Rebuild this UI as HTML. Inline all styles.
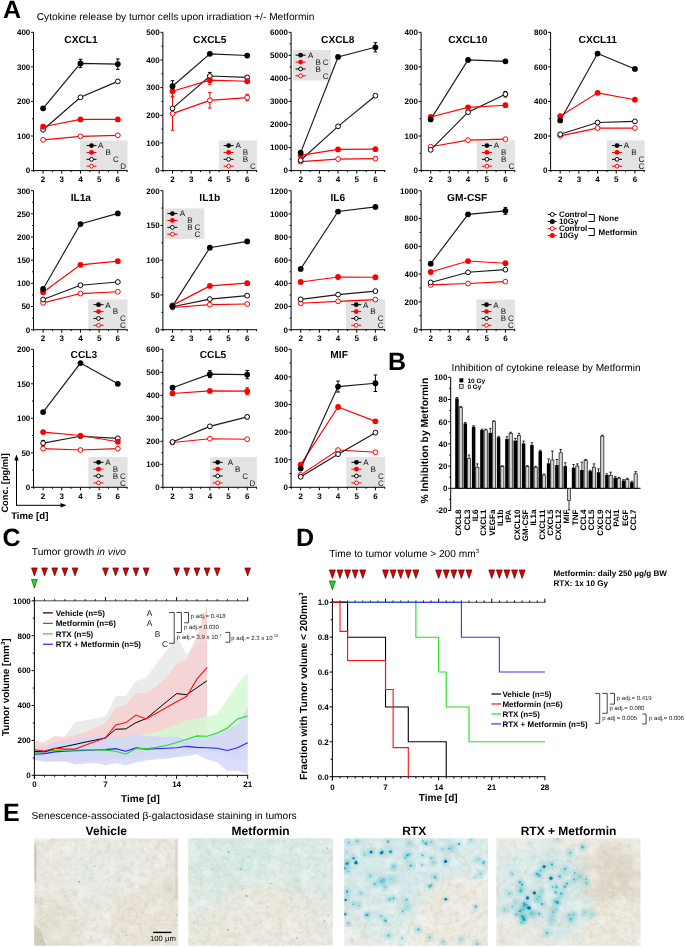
<!DOCTYPE html>
<html><head><meta charset="utf-8"><style>
html,body{margin:0;padding:0;background:#fff;}
svg{display:block;opacity:0.999;}
svg text{font-family:"Liberation Sans",sans-serif;text-rendering:geometricPrecision;}
</style></head><body>
<svg width="685" height="947" viewBox="0 0 685 947">
<rect width="685" height="947" fill="#fff"/>
<text x="2.90" y="17.50" font-size="25" font-weight="bold" text-anchor="start" fill="#000" >A</text>
<text x="36.70" y="19.90" font-size="10.2" text-anchor="start" fill="#000" >Cytokine release by tumor cells upon irradiation +/- Metformin</text>
<rect x="80.12" y="140.40" width="47.40" height="30.20" fill="#e3e3e3"/>
<line x1="86.52" y1="145.60" x2="96.52" y2="145.60" stroke="#000" stroke-width="1"/>
<circle cx="91.52" cy="145.60" r="2.4" fill="#000"/>
<line x1="86.52" y1="152.47" x2="96.52" y2="152.47" stroke="#ff0000" stroke-width="1"/>
<circle cx="91.52" cy="152.47" r="2.4" fill="#ff0000"/>
<line x1="86.52" y1="159.34" x2="96.52" y2="159.34" stroke="#000" stroke-width="1"/>
<circle cx="91.52" cy="159.34" r="1.9" fill="#fff" stroke="#000" stroke-width="1"/>
<line x1="86.52" y1="166.21" x2="96.52" y2="166.21" stroke="#ff0000" stroke-width="1"/>
<circle cx="91.52" cy="166.21" r="1.9" fill="#fff" stroke="#ff0000" stroke-width="1"/>
<text x="98.12" y="148.40" font-size="8" text-anchor="start" fill="#111" >A</text>
<text x="105.52" y="155.27" font-size="8" text-anchor="start" fill="#111" >B</text>
<text x="112.92" y="162.14" font-size="8" text-anchor="start" fill="#111" >C</text>
<text x="120.32" y="169.01" font-size="8" text-anchor="start" fill="#111" >D</text>
<line x1="33.50" y1="32.30" x2="33.50" y2="171.10" stroke="#000" stroke-width="1"/>
<line x1="33.00" y1="170.60" x2="127.52" y2="170.60" stroke="#000" stroke-width="1"/>
<line x1="31.00" y1="170.60" x2="33.50" y2="170.60" stroke="#000" stroke-width="1"/>
<text x="30.30" y="173.40" font-size="8" font-weight="bold" text-anchor="end" fill="#000" >0</text>
<line x1="32.00" y1="153.31" x2="33.50" y2="153.31" stroke="#000" stroke-width="1"/>
<line x1="31.00" y1="136.02" x2="33.50" y2="136.02" stroke="#000" stroke-width="1"/>
<text x="30.30" y="138.82" font-size="8" font-weight="bold" text-anchor="end" fill="#000" >100</text>
<line x1="32.00" y1="118.74" x2="33.50" y2="118.74" stroke="#000" stroke-width="1"/>
<line x1="31.00" y1="101.45" x2="33.50" y2="101.45" stroke="#000" stroke-width="1"/>
<text x="30.30" y="104.25" font-size="8" font-weight="bold" text-anchor="end" fill="#000" >200</text>
<line x1="32.00" y1="84.16" x2="33.50" y2="84.16" stroke="#000" stroke-width="1"/>
<line x1="31.00" y1="66.87" x2="33.50" y2="66.87" stroke="#000" stroke-width="1"/>
<text x="30.30" y="69.67" font-size="8" font-weight="bold" text-anchor="end" fill="#000" >300</text>
<line x1="32.00" y1="49.59" x2="33.50" y2="49.59" stroke="#000" stroke-width="1"/>
<line x1="31.00" y1="32.30" x2="33.50" y2="32.30" stroke="#000" stroke-width="1"/>
<text x="30.30" y="35.10" font-size="8" font-weight="bold" text-anchor="end" fill="#000" >400</text>
<line x1="43.10" y1="170.60" x2="43.10" y2="173.60" stroke="#000" stroke-width="1"/>
<text x="43.10" y="182.00" font-size="8" font-weight="bold" text-anchor="middle" fill="#000" >2</text>
<line x1="61.78" y1="170.60" x2="61.78" y2="173.60" stroke="#000" stroke-width="1"/>
<text x="61.78" y="182.00" font-size="8" font-weight="bold" text-anchor="middle" fill="#000" >3</text>
<line x1="80.46" y1="170.60" x2="80.46" y2="173.60" stroke="#000" stroke-width="1"/>
<text x="80.46" y="182.00" font-size="8" font-weight="bold" text-anchor="middle" fill="#000" >4</text>
<line x1="99.14" y1="170.60" x2="99.14" y2="173.60" stroke="#000" stroke-width="1"/>
<text x="99.14" y="182.00" font-size="8" font-weight="bold" text-anchor="middle" fill="#000" >5</text>
<line x1="117.82" y1="170.60" x2="117.82" y2="173.60" stroke="#000" stroke-width="1"/>
<text x="117.82" y="182.00" font-size="8" font-weight="bold" text-anchor="middle" fill="#000" >6</text>
<line x1="33.76" y1="170.60" x2="33.76" y2="172.10" stroke="#000" stroke-width="1"/>
<line x1="52.44" y1="170.60" x2="52.44" y2="172.10" stroke="#000" stroke-width="1"/>
<line x1="71.12" y1="170.60" x2="71.12" y2="172.10" stroke="#000" stroke-width="1"/>
<line x1="89.80" y1="170.60" x2="89.80" y2="172.10" stroke="#000" stroke-width="1"/>
<line x1="108.48" y1="170.60" x2="108.48" y2="172.10" stroke="#000" stroke-width="1"/>
<line x1="127.16" y1="170.60" x2="127.16" y2="172.10" stroke="#000" stroke-width="1"/>
<text x="81.00" y="42.60" font-size="10.2" font-weight="bold" text-anchor="middle" fill="#000" >CXCL1</text>
<polyline points="43.10,139.83 80.46,136.37 117.82,135.33" stroke="#ff0000" stroke-width="1.15" fill="none" />
<polyline points="43.10,129.80 80.46,97.30 117.82,81.40" stroke="#1a1a1a" stroke-width="1.15" fill="none" />
<polyline points="43.10,126.69 80.46,119.43 117.82,119.43" stroke="#ff0000" stroke-width="1.15" fill="none" />
<polyline points="43.10,108.36 80.46,63.42 117.82,64.11" stroke="#1a1a1a" stroke-width="1.15" fill="none" />
<line x1="80.46" y1="67.57" x2="80.46" y2="59.27" stroke="#000" stroke-width="1"/>
<line x1="78.66" y1="59.27" x2="82.26" y2="59.27" stroke="#000" stroke-width="1"/>
<line x1="78.66" y1="67.57" x2="82.26" y2="67.57" stroke="#000" stroke-width="1"/>
<line x1="117.82" y1="69.30" x2="117.82" y2="58.92" stroke="#000" stroke-width="1"/>
<line x1="116.02" y1="58.92" x2="119.62" y2="58.92" stroke="#000" stroke-width="1"/>
<line x1="116.02" y1="69.30" x2="119.62" y2="69.30" stroke="#000" stroke-width="1"/>
<circle cx="43.10" cy="139.83" r="2.4" fill="#fff" stroke="#ff0000" stroke-width="1"/>
<circle cx="80.46" cy="136.37" r="2.4" fill="#fff" stroke="#ff0000" stroke-width="1"/>
<circle cx="117.82" cy="135.33" r="2.4" fill="#fff" stroke="#ff0000" stroke-width="1"/>
<circle cx="43.10" cy="129.80" r="2.4" fill="#fff" stroke="#000" stroke-width="1"/>
<circle cx="80.46" cy="97.30" r="2.4" fill="#fff" stroke="#000" stroke-width="1"/>
<circle cx="117.82" cy="81.40" r="2.4" fill="#fff" stroke="#000" stroke-width="1"/>
<circle cx="43.10" cy="126.69" r="2.9" fill="#ff0000"/>
<circle cx="80.46" cy="119.43" r="2.9" fill="#ff0000"/>
<circle cx="117.82" cy="119.43" r="2.9" fill="#ff0000"/>
<circle cx="43.10" cy="108.36" r="2.9" fill="#000"/>
<circle cx="80.46" cy="63.42" r="2.9" fill="#000"/>
<circle cx="117.82" cy="64.11" r="2.9" fill="#000"/>
<rect x="218.92" y="140.40" width="38.00" height="30.20" fill="#e3e3e3"/>
<line x1="223.62" y1="145.60" x2="233.62" y2="145.60" stroke="#000" stroke-width="1"/>
<circle cx="228.62" cy="145.60" r="2.4" fill="#000"/>
<line x1="223.62" y1="152.47" x2="233.62" y2="152.47" stroke="#ff0000" stroke-width="1"/>
<circle cx="228.62" cy="152.47" r="2.4" fill="#ff0000"/>
<line x1="223.62" y1="159.34" x2="233.62" y2="159.34" stroke="#000" stroke-width="1"/>
<circle cx="228.62" cy="159.34" r="1.9" fill="#fff" stroke="#000" stroke-width="1"/>
<line x1="223.62" y1="166.21" x2="233.62" y2="166.21" stroke="#ff0000" stroke-width="1"/>
<circle cx="228.62" cy="166.21" r="1.9" fill="#fff" stroke="#ff0000" stroke-width="1"/>
<text x="235.52" y="148.40" font-size="8" text-anchor="start" fill="#111" >A</text>
<text x="242.82" y="155.27" font-size="8" text-anchor="start" fill="#111" >B</text>
<text x="242.82" y="162.14" font-size="8" text-anchor="start" fill="#111" >B</text>
<text x="250.12" y="169.01" font-size="8" text-anchor="start" fill="#111" >C</text>
<line x1="162.90" y1="32.30" x2="162.90" y2="171.10" stroke="#000" stroke-width="1"/>
<line x1="162.40" y1="170.60" x2="256.92" y2="170.60" stroke="#000" stroke-width="1"/>
<line x1="160.40" y1="170.60" x2="162.90" y2="170.60" stroke="#000" stroke-width="1"/>
<text x="159.70" y="173.40" font-size="8" font-weight="bold" text-anchor="end" fill="#000" >0</text>
<line x1="161.40" y1="156.77" x2="162.90" y2="156.77" stroke="#000" stroke-width="1"/>
<line x1="160.40" y1="142.94" x2="162.90" y2="142.94" stroke="#000" stroke-width="1"/>
<text x="159.70" y="145.74" font-size="8" font-weight="bold" text-anchor="end" fill="#000" >100</text>
<line x1="161.40" y1="129.11" x2="162.90" y2="129.11" stroke="#000" stroke-width="1"/>
<line x1="160.40" y1="115.28" x2="162.90" y2="115.28" stroke="#000" stroke-width="1"/>
<text x="159.70" y="118.08" font-size="8" font-weight="bold" text-anchor="end" fill="#000" >200</text>
<line x1="161.40" y1="101.45" x2="162.90" y2="101.45" stroke="#000" stroke-width="1"/>
<line x1="160.40" y1="87.62" x2="162.90" y2="87.62" stroke="#000" stroke-width="1"/>
<text x="159.70" y="90.42" font-size="8" font-weight="bold" text-anchor="end" fill="#000" >300</text>
<line x1="161.40" y1="73.79" x2="162.90" y2="73.79" stroke="#000" stroke-width="1"/>
<line x1="160.40" y1="59.96" x2="162.90" y2="59.96" stroke="#000" stroke-width="1"/>
<text x="159.70" y="62.76" font-size="8" font-weight="bold" text-anchor="end" fill="#000" >400</text>
<line x1="161.40" y1="46.13" x2="162.90" y2="46.13" stroke="#000" stroke-width="1"/>
<line x1="160.40" y1="32.30" x2="162.90" y2="32.30" stroke="#000" stroke-width="1"/>
<text x="159.70" y="35.10" font-size="8" font-weight="bold" text-anchor="end" fill="#000" >500</text>
<line x1="172.50" y1="170.60" x2="172.50" y2="173.60" stroke="#000" stroke-width="1"/>
<text x="172.50" y="182.00" font-size="8" font-weight="bold" text-anchor="middle" fill="#000" >2</text>
<line x1="191.18" y1="170.60" x2="191.18" y2="173.60" stroke="#000" stroke-width="1"/>
<text x="191.18" y="182.00" font-size="8" font-weight="bold" text-anchor="middle" fill="#000" >3</text>
<line x1="209.86" y1="170.60" x2="209.86" y2="173.60" stroke="#000" stroke-width="1"/>
<text x="209.86" y="182.00" font-size="8" font-weight="bold" text-anchor="middle" fill="#000" >4</text>
<line x1="228.54" y1="170.60" x2="228.54" y2="173.60" stroke="#000" stroke-width="1"/>
<text x="228.54" y="182.00" font-size="8" font-weight="bold" text-anchor="middle" fill="#000" >5</text>
<line x1="247.22" y1="170.60" x2="247.22" y2="173.60" stroke="#000" stroke-width="1"/>
<text x="247.22" y="182.00" font-size="8" font-weight="bold" text-anchor="middle" fill="#000" >6</text>
<line x1="163.16" y1="170.60" x2="163.16" y2="172.10" stroke="#000" stroke-width="1"/>
<line x1="181.84" y1="170.60" x2="181.84" y2="172.10" stroke="#000" stroke-width="1"/>
<line x1="200.52" y1="170.60" x2="200.52" y2="172.10" stroke="#000" stroke-width="1"/>
<line x1="219.20" y1="170.60" x2="219.20" y2="172.10" stroke="#000" stroke-width="1"/>
<line x1="237.88" y1="170.60" x2="237.88" y2="172.10" stroke="#000" stroke-width="1"/>
<line x1="256.56" y1="170.60" x2="256.56" y2="172.10" stroke="#000" stroke-width="1"/>
<text x="209.80" y="42.60" font-size="10.2" font-weight="bold" text-anchor="middle" fill="#000" >CXCL5</text>
<polyline points="172.50,113.62 209.86,100.34 247.22,97.58" stroke="#ff0000" stroke-width="1.15" fill="none" />
<polyline points="172.50,108.36 209.86,76.00 247.22,77.39" stroke="#1a1a1a" stroke-width="1.15" fill="none" />
<polyline points="172.50,91.22 209.86,80.15 247.22,81.26" stroke="#ff0000" stroke-width="1.15" fill="none" />
<polyline points="172.50,86.24 209.86,53.87 247.22,55.53" stroke="#1a1a1a" stroke-width="1.15" fill="none" />
<line x1="172.50" y1="130.22" x2="172.50" y2="97.02" stroke="#ff0000" stroke-width="1"/>
<line x1="170.70" y1="97.02" x2="174.30" y2="97.02" stroke="#ff0000" stroke-width="1"/>
<line x1="170.70" y1="130.22" x2="174.30" y2="130.22" stroke="#ff0000" stroke-width="1"/>
<line x1="209.86" y1="108.09" x2="209.86" y2="92.60" stroke="#ff0000" stroke-width="1"/>
<line x1="208.06" y1="92.60" x2="211.66" y2="92.60" stroke="#ff0000" stroke-width="1"/>
<line x1="208.06" y1="108.09" x2="211.66" y2="108.09" stroke="#ff0000" stroke-width="1"/>
<line x1="247.22" y1="100.90" x2="247.22" y2="94.26" stroke="#ff0000" stroke-width="1"/>
<line x1="245.42" y1="94.26" x2="249.02" y2="94.26" stroke="#ff0000" stroke-width="1"/>
<line x1="245.42" y1="100.90" x2="249.02" y2="100.90" stroke="#ff0000" stroke-width="1"/>
<line x1="209.86" y1="79.60" x2="209.86" y2="72.41" stroke="#000" stroke-width="1"/>
<line x1="208.06" y1="72.41" x2="211.66" y2="72.41" stroke="#000" stroke-width="1"/>
<line x1="208.06" y1="79.60" x2="211.66" y2="79.60" stroke="#000" stroke-width="1"/>
<line x1="172.50" y1="96.19" x2="172.50" y2="86.24" stroke="#ff0000" stroke-width="1"/>
<line x1="170.70" y1="86.24" x2="174.30" y2="86.24" stroke="#ff0000" stroke-width="1"/>
<line x1="170.70" y1="96.19" x2="174.30" y2="96.19" stroke="#ff0000" stroke-width="1"/>
<line x1="209.86" y1="84.30" x2="209.86" y2="76.00" stroke="#ff0000" stroke-width="1"/>
<line x1="208.06" y1="76.00" x2="211.66" y2="76.00" stroke="#ff0000" stroke-width="1"/>
<line x1="208.06" y1="84.30" x2="211.66" y2="84.30" stroke="#ff0000" stroke-width="1"/>
<line x1="172.50" y1="91.77" x2="172.50" y2="80.70" stroke="#000" stroke-width="1"/>
<line x1="170.70" y1="80.70" x2="174.30" y2="80.70" stroke="#000" stroke-width="1"/>
<line x1="170.70" y1="91.77" x2="174.30" y2="91.77" stroke="#000" stroke-width="1"/>
<circle cx="172.50" cy="113.62" r="2.4" fill="#fff" stroke="#ff0000" stroke-width="1"/>
<circle cx="209.86" cy="100.34" r="2.4" fill="#fff" stroke="#ff0000" stroke-width="1"/>
<circle cx="247.22" cy="97.58" r="2.4" fill="#fff" stroke="#ff0000" stroke-width="1"/>
<circle cx="172.50" cy="108.36" r="2.4" fill="#fff" stroke="#000" stroke-width="1"/>
<circle cx="209.86" cy="76.00" r="2.4" fill="#fff" stroke="#000" stroke-width="1"/>
<circle cx="247.22" cy="77.39" r="2.4" fill="#fff" stroke="#000" stroke-width="1"/>
<circle cx="172.50" cy="91.22" r="2.9" fill="#ff0000"/>
<circle cx="209.86" cy="80.15" r="2.9" fill="#ff0000"/>
<circle cx="247.22" cy="81.26" r="2.9" fill="#ff0000"/>
<circle cx="172.50" cy="86.24" r="2.9" fill="#000"/>
<circle cx="209.86" cy="53.87" r="2.9" fill="#000"/>
<circle cx="247.22" cy="55.53" r="2.9" fill="#000"/>
<rect x="293.10" y="50.00" width="37.60" height="30.50" fill="#e3e3e3"/>
<line x1="295.60" y1="55.20" x2="305.60" y2="55.20" stroke="#000" stroke-width="1"/>
<circle cx="300.60" cy="55.20" r="2.4" fill="#000"/>
<line x1="295.60" y1="62.07" x2="305.60" y2="62.07" stroke="#ff0000" stroke-width="1"/>
<circle cx="300.60" cy="62.07" r="2.4" fill="#ff0000"/>
<line x1="295.60" y1="68.94" x2="305.60" y2="68.94" stroke="#000" stroke-width="1"/>
<circle cx="300.60" cy="68.94" r="1.9" fill="#fff" stroke="#000" stroke-width="1"/>
<line x1="295.60" y1="75.81" x2="305.60" y2="75.81" stroke="#ff0000" stroke-width="1"/>
<circle cx="300.60" cy="75.81" r="1.9" fill="#fff" stroke="#ff0000" stroke-width="1"/>
<text x="308.00" y="58.00" font-size="8" text-anchor="start" fill="#111" >A</text>
<text x="315.40" y="64.87" font-size="8" text-anchor="start" fill="#111" >B</text>
<text x="322.80" y="64.87" font-size="8" text-anchor="start" fill="#111" >C</text>
<text x="315.40" y="71.74" font-size="8" text-anchor="start" fill="#111" >B</text>
<text x="322.80" y="78.61" font-size="8" text-anchor="start" fill="#111" >C</text>
<line x1="291.10" y1="32.30" x2="291.10" y2="171.10" stroke="#000" stroke-width="1"/>
<line x1="290.60" y1="170.60" x2="385.12" y2="170.60" stroke="#000" stroke-width="1"/>
<line x1="288.60" y1="170.60" x2="291.10" y2="170.60" stroke="#000" stroke-width="1"/>
<text x="287.90" y="173.40" font-size="8" font-weight="bold" text-anchor="end" fill="#000" >0</text>
<line x1="289.60" y1="159.07" x2="291.10" y2="159.07" stroke="#000" stroke-width="1"/>
<line x1="288.60" y1="147.55" x2="291.10" y2="147.55" stroke="#000" stroke-width="1"/>
<text x="287.90" y="150.35" font-size="8" font-weight="bold" text-anchor="end" fill="#000" >1000</text>
<line x1="289.60" y1="136.02" x2="291.10" y2="136.02" stroke="#000" stroke-width="1"/>
<line x1="288.60" y1="124.50" x2="291.10" y2="124.50" stroke="#000" stroke-width="1"/>
<text x="287.90" y="127.30" font-size="8" font-weight="bold" text-anchor="end" fill="#000" >2000</text>
<line x1="289.60" y1="112.97" x2="291.10" y2="112.97" stroke="#000" stroke-width="1"/>
<line x1="288.60" y1="101.45" x2="291.10" y2="101.45" stroke="#000" stroke-width="1"/>
<text x="287.90" y="104.25" font-size="8" font-weight="bold" text-anchor="end" fill="#000" >3000</text>
<line x1="289.60" y1="89.92" x2="291.10" y2="89.92" stroke="#000" stroke-width="1"/>
<line x1="288.60" y1="78.40" x2="291.10" y2="78.40" stroke="#000" stroke-width="1"/>
<text x="287.90" y="81.20" font-size="8" font-weight="bold" text-anchor="end" fill="#000" >4000</text>
<line x1="289.60" y1="66.87" x2="291.10" y2="66.87" stroke="#000" stroke-width="1"/>
<line x1="288.60" y1="55.35" x2="291.10" y2="55.35" stroke="#000" stroke-width="1"/>
<text x="287.90" y="58.15" font-size="8" font-weight="bold" text-anchor="end" fill="#000" >5000</text>
<line x1="289.60" y1="43.82" x2="291.10" y2="43.82" stroke="#000" stroke-width="1"/>
<line x1="288.60" y1="32.30" x2="291.10" y2="32.30" stroke="#000" stroke-width="1"/>
<text x="287.90" y="35.10" font-size="8" font-weight="bold" text-anchor="end" fill="#000" >6000</text>
<line x1="300.70" y1="170.60" x2="300.70" y2="173.60" stroke="#000" stroke-width="1"/>
<text x="300.70" y="182.00" font-size="8" font-weight="bold" text-anchor="middle" fill="#000" >2</text>
<line x1="319.38" y1="170.60" x2="319.38" y2="173.60" stroke="#000" stroke-width="1"/>
<text x="319.38" y="182.00" font-size="8" font-weight="bold" text-anchor="middle" fill="#000" >3</text>
<line x1="338.06" y1="170.60" x2="338.06" y2="173.60" stroke="#000" stroke-width="1"/>
<text x="338.06" y="182.00" font-size="8" font-weight="bold" text-anchor="middle" fill="#000" >4</text>
<line x1="356.74" y1="170.60" x2="356.74" y2="173.60" stroke="#000" stroke-width="1"/>
<text x="356.74" y="182.00" font-size="8" font-weight="bold" text-anchor="middle" fill="#000" >5</text>
<line x1="375.42" y1="170.60" x2="375.42" y2="173.60" stroke="#000" stroke-width="1"/>
<text x="375.42" y="182.00" font-size="8" font-weight="bold" text-anchor="middle" fill="#000" >6</text>
<line x1="291.36" y1="170.60" x2="291.36" y2="172.10" stroke="#000" stroke-width="1"/>
<line x1="310.04" y1="170.60" x2="310.04" y2="172.10" stroke="#000" stroke-width="1"/>
<line x1="328.72" y1="170.60" x2="328.72" y2="172.10" stroke="#000" stroke-width="1"/>
<line x1="347.40" y1="170.60" x2="347.40" y2="172.10" stroke="#000" stroke-width="1"/>
<line x1="366.08" y1="170.60" x2="366.08" y2="172.10" stroke="#000" stroke-width="1"/>
<line x1="384.76" y1="170.60" x2="384.76" y2="172.10" stroke="#000" stroke-width="1"/>
<text x="337.80" y="42.60" font-size="10.2" font-weight="bold" text-anchor="middle" fill="#000" >CXCL8</text>
<polyline points="300.70,161.61 338.06,159.07 375.42,158.61" stroke="#ff0000" stroke-width="1.15" fill="none" />
<polyline points="300.70,160.23 338.06,126.34 375.42,95.69" stroke="#1a1a1a" stroke-width="1.15" fill="none" />
<polyline points="300.70,155.39 338.06,149.39 375.42,149.16" stroke="#ff0000" stroke-width="1.15" fill="none" />
<polyline points="300.70,152.62 338.06,56.96 375.42,47.28" stroke="#1a1a1a" stroke-width="1.15" fill="none" />
<line x1="375.42" y1="51.89" x2="375.42" y2="42.67" stroke="#000" stroke-width="1"/>
<line x1="373.62" y1="42.67" x2="377.22" y2="42.67" stroke="#000" stroke-width="1"/>
<line x1="373.62" y1="51.89" x2="377.22" y2="51.89" stroke="#000" stroke-width="1"/>
<circle cx="300.70" cy="161.61" r="2.4" fill="#fff" stroke="#ff0000" stroke-width="1"/>
<circle cx="338.06" cy="159.07" r="2.4" fill="#fff" stroke="#ff0000" stroke-width="1"/>
<circle cx="375.42" cy="158.61" r="2.4" fill="#fff" stroke="#ff0000" stroke-width="1"/>
<circle cx="300.70" cy="160.23" r="2.4" fill="#fff" stroke="#000" stroke-width="1"/>
<circle cx="338.06" cy="126.34" r="2.4" fill="#fff" stroke="#000" stroke-width="1"/>
<circle cx="375.42" cy="95.69" r="2.4" fill="#fff" stroke="#000" stroke-width="1"/>
<circle cx="300.70" cy="155.39" r="2.9" fill="#ff0000"/>
<circle cx="338.06" cy="149.39" r="2.9" fill="#ff0000"/>
<circle cx="375.42" cy="149.16" r="2.9" fill="#ff0000"/>
<circle cx="300.70" cy="152.62" r="2.9" fill="#000"/>
<circle cx="338.06" cy="56.96" r="2.9" fill="#000"/>
<circle cx="375.42" cy="47.28" r="2.9" fill="#000"/>
<rect x="476.72" y="140.40" width="38.40" height="30.20" fill="#e3e3e3"/>
<line x1="481.92" y1="145.60" x2="491.92" y2="145.60" stroke="#000" stroke-width="1"/>
<circle cx="486.92" cy="145.60" r="2.4" fill="#000"/>
<line x1="481.92" y1="152.47" x2="491.92" y2="152.47" stroke="#ff0000" stroke-width="1"/>
<circle cx="486.92" cy="152.47" r="2.4" fill="#ff0000"/>
<line x1="481.92" y1="159.34" x2="491.92" y2="159.34" stroke="#000" stroke-width="1"/>
<circle cx="486.92" cy="159.34" r="1.9" fill="#fff" stroke="#000" stroke-width="1"/>
<line x1="481.92" y1="166.21" x2="491.92" y2="166.21" stroke="#ff0000" stroke-width="1"/>
<circle cx="486.92" cy="166.21" r="1.9" fill="#fff" stroke="#ff0000" stroke-width="1"/>
<text x="493.72" y="148.40" font-size="8" text-anchor="start" fill="#111" >A</text>
<text x="501.07" y="155.27" font-size="8" text-anchor="start" fill="#111" >B</text>
<text x="501.07" y="162.14" font-size="8" text-anchor="start" fill="#111" >B</text>
<text x="508.42" y="169.01" font-size="8" text-anchor="start" fill="#111" >C</text>
<line x1="421.10" y1="32.30" x2="421.10" y2="171.10" stroke="#000" stroke-width="1"/>
<line x1="420.60" y1="170.60" x2="515.12" y2="170.60" stroke="#000" stroke-width="1"/>
<line x1="418.60" y1="170.60" x2="421.10" y2="170.60" stroke="#000" stroke-width="1"/>
<text x="417.90" y="173.40" font-size="8" font-weight="bold" text-anchor="end" fill="#000" >0</text>
<line x1="419.60" y1="153.31" x2="421.10" y2="153.31" stroke="#000" stroke-width="1"/>
<line x1="418.60" y1="136.02" x2="421.10" y2="136.02" stroke="#000" stroke-width="1"/>
<text x="417.90" y="138.82" font-size="8" font-weight="bold" text-anchor="end" fill="#000" >100</text>
<line x1="419.60" y1="118.74" x2="421.10" y2="118.74" stroke="#000" stroke-width="1"/>
<line x1="418.60" y1="101.45" x2="421.10" y2="101.45" stroke="#000" stroke-width="1"/>
<text x="417.90" y="104.25" font-size="8" font-weight="bold" text-anchor="end" fill="#000" >200</text>
<line x1="419.60" y1="84.16" x2="421.10" y2="84.16" stroke="#000" stroke-width="1"/>
<line x1="418.60" y1="66.87" x2="421.10" y2="66.87" stroke="#000" stroke-width="1"/>
<text x="417.90" y="69.67" font-size="8" font-weight="bold" text-anchor="end" fill="#000" >300</text>
<line x1="419.60" y1="49.59" x2="421.10" y2="49.59" stroke="#000" stroke-width="1"/>
<line x1="418.60" y1="32.30" x2="421.10" y2="32.30" stroke="#000" stroke-width="1"/>
<text x="417.90" y="35.10" font-size="8" font-weight="bold" text-anchor="end" fill="#000" >400</text>
<line x1="430.70" y1="170.60" x2="430.70" y2="173.60" stroke="#000" stroke-width="1"/>
<text x="430.70" y="182.00" font-size="8" font-weight="bold" text-anchor="middle" fill="#000" >2</text>
<line x1="449.38" y1="170.60" x2="449.38" y2="173.60" stroke="#000" stroke-width="1"/>
<text x="449.38" y="182.00" font-size="8" font-weight="bold" text-anchor="middle" fill="#000" >3</text>
<line x1="468.06" y1="170.60" x2="468.06" y2="173.60" stroke="#000" stroke-width="1"/>
<text x="468.06" y="182.00" font-size="8" font-weight="bold" text-anchor="middle" fill="#000" >4</text>
<line x1="486.74" y1="170.60" x2="486.74" y2="173.60" stroke="#000" stroke-width="1"/>
<text x="486.74" y="182.00" font-size="8" font-weight="bold" text-anchor="middle" fill="#000" >5</text>
<line x1="505.42" y1="170.60" x2="505.42" y2="173.60" stroke="#000" stroke-width="1"/>
<text x="505.42" y="182.00" font-size="8" font-weight="bold" text-anchor="middle" fill="#000" >6</text>
<line x1="421.36" y1="170.60" x2="421.36" y2="172.10" stroke="#000" stroke-width="1"/>
<line x1="440.04" y1="170.60" x2="440.04" y2="172.10" stroke="#000" stroke-width="1"/>
<line x1="458.72" y1="170.60" x2="458.72" y2="172.10" stroke="#000" stroke-width="1"/>
<line x1="477.40" y1="170.60" x2="477.40" y2="172.10" stroke="#000" stroke-width="1"/>
<line x1="496.08" y1="170.60" x2="496.08" y2="172.10" stroke="#000" stroke-width="1"/>
<line x1="514.76" y1="170.60" x2="514.76" y2="172.10" stroke="#000" stroke-width="1"/>
<text x="467.80" y="42.60" font-size="10.2" font-weight="bold" text-anchor="middle" fill="#000" >CXCL10</text>
<polyline points="430.70,146.74 468.06,140.17 505.42,139.14" stroke="#ff0000" stroke-width="1.15" fill="none" />
<polyline points="430.70,149.85 468.06,112.17 505.42,94.19" stroke="#1a1a1a" stroke-width="1.15" fill="none" />
<polyline points="430.70,117.01 468.06,107.33 505.42,105.25" stroke="#ff0000" stroke-width="1.15" fill="none" />
<polyline points="430.70,119.43 468.06,59.96 505.42,61.34" stroke="#1a1a1a" stroke-width="1.15" fill="none" />
<line x1="505.42" y1="96.96" x2="505.42" y2="91.42" stroke="#000" stroke-width="1"/>
<line x1="503.62" y1="91.42" x2="507.22" y2="91.42" stroke="#000" stroke-width="1"/>
<line x1="503.62" y1="96.96" x2="507.22" y2="96.96" stroke="#000" stroke-width="1"/>
<circle cx="430.70" cy="146.74" r="2.4" fill="#fff" stroke="#ff0000" stroke-width="1"/>
<circle cx="468.06" cy="140.17" r="2.4" fill="#fff" stroke="#ff0000" stroke-width="1"/>
<circle cx="505.42" cy="139.14" r="2.4" fill="#fff" stroke="#ff0000" stroke-width="1"/>
<circle cx="430.70" cy="149.85" r="2.4" fill="#fff" stroke="#000" stroke-width="1"/>
<circle cx="468.06" cy="112.17" r="2.4" fill="#fff" stroke="#000" stroke-width="1"/>
<circle cx="505.42" cy="94.19" r="2.4" fill="#fff" stroke="#000" stroke-width="1"/>
<circle cx="430.70" cy="117.01" r="2.9" fill="#ff0000"/>
<circle cx="468.06" cy="107.33" r="2.9" fill="#ff0000"/>
<circle cx="505.42" cy="105.25" r="2.9" fill="#ff0000"/>
<circle cx="430.70" cy="119.43" r="2.9" fill="#000"/>
<circle cx="468.06" cy="59.96" r="2.9" fill="#000"/>
<circle cx="505.42" cy="61.34" r="2.9" fill="#000"/>
<rect x="606.82" y="140.40" width="37.80" height="30.20" fill="#e3e3e3"/>
<line x1="612.02" y1="145.60" x2="622.02" y2="145.60" stroke="#000" stroke-width="1"/>
<circle cx="617.02" cy="145.60" r="2.4" fill="#000"/>
<line x1="612.02" y1="152.47" x2="622.02" y2="152.47" stroke="#ff0000" stroke-width="1"/>
<circle cx="617.02" cy="152.47" r="2.4" fill="#ff0000"/>
<line x1="612.02" y1="159.34" x2="622.02" y2="159.34" stroke="#000" stroke-width="1"/>
<circle cx="617.02" cy="159.34" r="1.9" fill="#fff" stroke="#000" stroke-width="1"/>
<line x1="612.02" y1="166.21" x2="622.02" y2="166.21" stroke="#ff0000" stroke-width="1"/>
<circle cx="617.02" cy="166.21" r="1.9" fill="#fff" stroke="#ff0000" stroke-width="1"/>
<text x="623.82" y="148.40" font-size="8" text-anchor="start" fill="#111" >A</text>
<text x="631.17" y="155.27" font-size="8" text-anchor="start" fill="#111" >B</text>
<text x="638.52" y="162.14" font-size="8" text-anchor="start" fill="#111" >C</text>
<text x="638.52" y="169.01" font-size="8" text-anchor="start" fill="#111" >C</text>
<line x1="550.60" y1="32.30" x2="550.60" y2="171.10" stroke="#000" stroke-width="1"/>
<line x1="550.10" y1="170.60" x2="644.62" y2="170.60" stroke="#000" stroke-width="1"/>
<line x1="548.10" y1="170.60" x2="550.60" y2="170.60" stroke="#000" stroke-width="1"/>
<text x="547.40" y="173.40" font-size="8" font-weight="bold" text-anchor="end" fill="#000" >0</text>
<line x1="549.10" y1="153.31" x2="550.60" y2="153.31" stroke="#000" stroke-width="1"/>
<line x1="548.10" y1="136.02" x2="550.60" y2="136.02" stroke="#000" stroke-width="1"/>
<text x="547.40" y="138.82" font-size="8" font-weight="bold" text-anchor="end" fill="#000" >200</text>
<line x1="549.10" y1="118.74" x2="550.60" y2="118.74" stroke="#000" stroke-width="1"/>
<line x1="548.10" y1="101.45" x2="550.60" y2="101.45" stroke="#000" stroke-width="1"/>
<text x="547.40" y="104.25" font-size="8" font-weight="bold" text-anchor="end" fill="#000" >400</text>
<line x1="549.10" y1="84.16" x2="550.60" y2="84.16" stroke="#000" stroke-width="1"/>
<line x1="548.10" y1="66.87" x2="550.60" y2="66.87" stroke="#000" stroke-width="1"/>
<text x="547.40" y="69.67" font-size="8" font-weight="bold" text-anchor="end" fill="#000" >600</text>
<line x1="549.10" y1="49.59" x2="550.60" y2="49.59" stroke="#000" stroke-width="1"/>
<line x1="548.10" y1="32.30" x2="550.60" y2="32.30" stroke="#000" stroke-width="1"/>
<text x="547.40" y="35.10" font-size="8" font-weight="bold" text-anchor="end" fill="#000" >800</text>
<line x1="560.20" y1="170.60" x2="560.20" y2="173.60" stroke="#000" stroke-width="1"/>
<text x="560.20" y="182.00" font-size="8" font-weight="bold" text-anchor="middle" fill="#000" >2</text>
<line x1="578.88" y1="170.60" x2="578.88" y2="173.60" stroke="#000" stroke-width="1"/>
<text x="578.88" y="182.00" font-size="8" font-weight="bold" text-anchor="middle" fill="#000" >3</text>
<line x1="597.56" y1="170.60" x2="597.56" y2="173.60" stroke="#000" stroke-width="1"/>
<text x="597.56" y="182.00" font-size="8" font-weight="bold" text-anchor="middle" fill="#000" >4</text>
<line x1="616.24" y1="170.60" x2="616.24" y2="173.60" stroke="#000" stroke-width="1"/>
<text x="616.24" y="182.00" font-size="8" font-weight="bold" text-anchor="middle" fill="#000" >5</text>
<line x1="634.92" y1="170.60" x2="634.92" y2="173.60" stroke="#000" stroke-width="1"/>
<text x="634.92" y="182.00" font-size="8" font-weight="bold" text-anchor="middle" fill="#000" >6</text>
<line x1="550.86" y1="170.60" x2="550.86" y2="172.10" stroke="#000" stroke-width="1"/>
<line x1="569.54" y1="170.60" x2="569.54" y2="172.10" stroke="#000" stroke-width="1"/>
<line x1="588.22" y1="170.60" x2="588.22" y2="172.10" stroke="#000" stroke-width="1"/>
<line x1="606.90" y1="170.60" x2="606.90" y2="172.10" stroke="#000" stroke-width="1"/>
<line x1="625.58" y1="170.60" x2="625.58" y2="172.10" stroke="#000" stroke-width="1"/>
<line x1="644.26" y1="170.60" x2="644.26" y2="172.10" stroke="#000" stroke-width="1"/>
<text x="597.80" y="42.60" font-size="10.2" font-weight="bold" text-anchor="middle" fill="#000" >CXCL11</text>
<polyline points="560.20,135.85 597.56,128.07 634.92,128.07" stroke="#ff0000" stroke-width="1.15" fill="none" />
<polyline points="560.20,134.30 597.56,122.54 634.92,121.33" stroke="#1a1a1a" stroke-width="1.15" fill="none" />
<polyline points="560.20,116.14 597.56,92.81 634.92,99.72" stroke="#ff0000" stroke-width="1.15" fill="none" />
<polyline points="560.20,120.47 597.56,53.56 634.92,68.95" stroke="#1a1a1a" stroke-width="1.15" fill="none" />
<circle cx="560.20" cy="135.85" r="2.4" fill="#fff" stroke="#ff0000" stroke-width="1"/>
<circle cx="597.56" cy="128.07" r="2.4" fill="#fff" stroke="#ff0000" stroke-width="1"/>
<circle cx="634.92" cy="128.07" r="2.4" fill="#fff" stroke="#ff0000" stroke-width="1"/>
<circle cx="560.20" cy="134.30" r="2.4" fill="#fff" stroke="#000" stroke-width="1"/>
<circle cx="597.56" cy="122.54" r="2.4" fill="#fff" stroke="#000" stroke-width="1"/>
<circle cx="634.92" cy="121.33" r="2.4" fill="#fff" stroke="#000" stroke-width="1"/>
<circle cx="560.20" cy="116.14" r="2.9" fill="#ff0000"/>
<circle cx="597.56" cy="92.81" r="2.9" fill="#ff0000"/>
<circle cx="634.92" cy="99.72" r="2.9" fill="#ff0000"/>
<circle cx="560.20" cy="120.47" r="2.9" fill="#000"/>
<circle cx="597.56" cy="53.56" r="2.9" fill="#000"/>
<circle cx="634.92" cy="68.95" r="2.9" fill="#000"/>
<rect x="88.32" y="299.50" width="39.20" height="30.20" fill="#e3e3e3"/>
<line x1="93.52" y1="304.70" x2="103.52" y2="304.70" stroke="#000" stroke-width="1"/>
<circle cx="98.52" cy="304.70" r="2.4" fill="#000"/>
<line x1="93.52" y1="311.57" x2="103.52" y2="311.57" stroke="#ff0000" stroke-width="1"/>
<circle cx="98.52" cy="311.57" r="2.4" fill="#ff0000"/>
<line x1="93.52" y1="318.44" x2="103.52" y2="318.44" stroke="#000" stroke-width="1"/>
<circle cx="98.52" cy="318.44" r="1.9" fill="#fff" stroke="#000" stroke-width="1"/>
<line x1="93.52" y1="325.31" x2="103.52" y2="325.31" stroke="#ff0000" stroke-width="1"/>
<circle cx="98.52" cy="325.31" r="1.9" fill="#fff" stroke="#ff0000" stroke-width="1"/>
<text x="105.32" y="307.50" font-size="8" text-anchor="start" fill="#111" >A</text>
<text x="112.67" y="314.37" font-size="8" text-anchor="start" fill="#111" >B</text>
<text x="120.02" y="321.24" font-size="8" text-anchor="start" fill="#111" >C</text>
<text x="120.02" y="328.11" font-size="8" text-anchor="start" fill="#111" >C</text>
<line x1="33.50" y1="190.70" x2="33.50" y2="330.20" stroke="#000" stroke-width="1"/>
<line x1="33.00" y1="329.70" x2="127.52" y2="329.70" stroke="#000" stroke-width="1"/>
<line x1="31.00" y1="329.70" x2="33.50" y2="329.70" stroke="#000" stroke-width="1"/>
<text x="30.30" y="332.50" font-size="8" font-weight="bold" text-anchor="end" fill="#000" >0</text>
<line x1="32.00" y1="318.12" x2="33.50" y2="318.12" stroke="#000" stroke-width="1"/>
<line x1="31.00" y1="306.53" x2="33.50" y2="306.53" stroke="#000" stroke-width="1"/>
<text x="30.30" y="309.33" font-size="8" font-weight="bold" text-anchor="end" fill="#000" >50</text>
<line x1="32.00" y1="294.95" x2="33.50" y2="294.95" stroke="#000" stroke-width="1"/>
<line x1="31.00" y1="283.37" x2="33.50" y2="283.37" stroke="#000" stroke-width="1"/>
<text x="30.30" y="286.17" font-size="8" font-weight="bold" text-anchor="end" fill="#000" >100</text>
<line x1="32.00" y1="271.78" x2="33.50" y2="271.78" stroke="#000" stroke-width="1"/>
<line x1="31.00" y1="260.20" x2="33.50" y2="260.20" stroke="#000" stroke-width="1"/>
<text x="30.30" y="263.00" font-size="8" font-weight="bold" text-anchor="end" fill="#000" >150</text>
<line x1="32.00" y1="248.62" x2="33.50" y2="248.62" stroke="#000" stroke-width="1"/>
<line x1="31.00" y1="237.03" x2="33.50" y2="237.03" stroke="#000" stroke-width="1"/>
<text x="30.30" y="239.83" font-size="8" font-weight="bold" text-anchor="end" fill="#000" >200</text>
<line x1="32.00" y1="225.45" x2="33.50" y2="225.45" stroke="#000" stroke-width="1"/>
<line x1="31.00" y1="213.87" x2="33.50" y2="213.87" stroke="#000" stroke-width="1"/>
<text x="30.30" y="216.67" font-size="8" font-weight="bold" text-anchor="end" fill="#000" >250</text>
<line x1="32.00" y1="202.28" x2="33.50" y2="202.28" stroke="#000" stroke-width="1"/>
<line x1="31.00" y1="190.70" x2="33.50" y2="190.70" stroke="#000" stroke-width="1"/>
<text x="30.30" y="193.50" font-size="8" font-weight="bold" text-anchor="end" fill="#000" >300</text>
<line x1="43.10" y1="329.70" x2="43.10" y2="332.70" stroke="#000" stroke-width="1"/>
<text x="43.10" y="341.10" font-size="8" font-weight="bold" text-anchor="middle" fill="#000" >2</text>
<line x1="61.78" y1="329.70" x2="61.78" y2="332.70" stroke="#000" stroke-width="1"/>
<text x="61.78" y="341.10" font-size="8" font-weight="bold" text-anchor="middle" fill="#000" >3</text>
<line x1="80.46" y1="329.70" x2="80.46" y2="332.70" stroke="#000" stroke-width="1"/>
<text x="80.46" y="341.10" font-size="8" font-weight="bold" text-anchor="middle" fill="#000" >4</text>
<line x1="99.14" y1="329.70" x2="99.14" y2="332.70" stroke="#000" stroke-width="1"/>
<text x="99.14" y="341.10" font-size="8" font-weight="bold" text-anchor="middle" fill="#000" >5</text>
<line x1="117.82" y1="329.70" x2="117.82" y2="332.70" stroke="#000" stroke-width="1"/>
<text x="117.82" y="341.10" font-size="8" font-weight="bold" text-anchor="middle" fill="#000" >6</text>
<line x1="33.76" y1="329.70" x2="33.76" y2="331.20" stroke="#000" stroke-width="1"/>
<line x1="52.44" y1="329.70" x2="52.44" y2="331.20" stroke="#000" stroke-width="1"/>
<line x1="71.12" y1="329.70" x2="71.12" y2="331.20" stroke="#000" stroke-width="1"/>
<line x1="89.80" y1="329.70" x2="89.80" y2="331.20" stroke="#000" stroke-width="1"/>
<line x1="108.48" y1="329.70" x2="108.48" y2="331.20" stroke="#000" stroke-width="1"/>
<line x1="127.16" y1="329.70" x2="127.16" y2="331.20" stroke="#000" stroke-width="1"/>
<text x="80.85" y="200.70" font-size="10.2" font-weight="bold" text-anchor="middle" fill="#000" >IL1a</text>
<polyline points="43.10,302.83 80.46,293.56 117.82,291.71" stroke="#ff0000" stroke-width="1.15" fill="none" />
<polyline points="43.10,299.58 80.46,285.22 117.82,281.98" stroke="#1a1a1a" stroke-width="1.15" fill="none" />
<polyline points="43.10,292.17 80.46,264.83 117.82,261.13" stroke="#ff0000" stroke-width="1.15" fill="none" />
<polyline points="43.10,288.93 80.46,224.06 117.82,213.40" stroke="#1a1a1a" stroke-width="1.15" fill="none" />
<circle cx="43.10" cy="302.83" r="2.4" fill="#fff" stroke="#ff0000" stroke-width="1"/>
<circle cx="80.46" cy="293.56" r="2.4" fill="#fff" stroke="#ff0000" stroke-width="1"/>
<circle cx="117.82" cy="291.71" r="2.4" fill="#fff" stroke="#ff0000" stroke-width="1"/>
<circle cx="43.10" cy="299.58" r="2.4" fill="#fff" stroke="#000" stroke-width="1"/>
<circle cx="80.46" cy="285.22" r="2.4" fill="#fff" stroke="#000" stroke-width="1"/>
<circle cx="117.82" cy="281.98" r="2.4" fill="#fff" stroke="#000" stroke-width="1"/>
<circle cx="43.10" cy="292.17" r="2.9" fill="#ff0000"/>
<circle cx="80.46" cy="264.83" r="2.9" fill="#ff0000"/>
<circle cx="117.82" cy="261.13" r="2.9" fill="#ff0000"/>
<circle cx="43.10" cy="288.93" r="2.9" fill="#000"/>
<circle cx="80.46" cy="224.06" r="2.9" fill="#000"/>
<circle cx="117.82" cy="213.40" r="2.9" fill="#000"/>
<rect x="164.90" y="208.40" width="39.40" height="30.50" fill="#e3e3e3"/>
<line x1="167.40" y1="213.60" x2="177.40" y2="213.60" stroke="#000" stroke-width="1"/>
<circle cx="172.40" cy="213.60" r="2.4" fill="#000"/>
<line x1="167.40" y1="220.47" x2="177.40" y2="220.47" stroke="#ff0000" stroke-width="1"/>
<circle cx="172.40" cy="220.47" r="2.4" fill="#ff0000"/>
<line x1="167.40" y1="227.34" x2="177.40" y2="227.34" stroke="#000" stroke-width="1"/>
<circle cx="172.40" cy="227.34" r="1.9" fill="#fff" stroke="#000" stroke-width="1"/>
<line x1="167.40" y1="234.21" x2="177.40" y2="234.21" stroke="#ff0000" stroke-width="1"/>
<circle cx="172.40" cy="234.21" r="1.9" fill="#fff" stroke="#ff0000" stroke-width="1"/>
<text x="179.80" y="216.40" font-size="8" text-anchor="start" fill="#111" >A</text>
<text x="187.20" y="223.27" font-size="8" text-anchor="start" fill="#111" >B</text>
<text x="187.20" y="230.14" font-size="8" text-anchor="start" fill="#111" >B</text>
<text x="194.60" y="230.14" font-size="8" text-anchor="start" fill="#111" >C</text>
<text x="194.60" y="237.01" font-size="8" text-anchor="start" fill="#111" >C</text>
<line x1="162.90" y1="190.70" x2="162.90" y2="330.20" stroke="#000" stroke-width="1"/>
<line x1="162.40" y1="329.70" x2="256.92" y2="329.70" stroke="#000" stroke-width="1"/>
<line x1="160.40" y1="329.70" x2="162.90" y2="329.70" stroke="#000" stroke-width="1"/>
<text x="159.70" y="332.50" font-size="8" font-weight="bold" text-anchor="end" fill="#000" >0</text>
<line x1="161.40" y1="312.32" x2="162.90" y2="312.32" stroke="#000" stroke-width="1"/>
<line x1="160.40" y1="294.95" x2="162.90" y2="294.95" stroke="#000" stroke-width="1"/>
<text x="159.70" y="297.75" font-size="8" font-weight="bold" text-anchor="end" fill="#000" >50</text>
<line x1="161.40" y1="277.57" x2="162.90" y2="277.57" stroke="#000" stroke-width="1"/>
<line x1="160.40" y1="260.20" x2="162.90" y2="260.20" stroke="#000" stroke-width="1"/>
<text x="159.70" y="263.00" font-size="8" font-weight="bold" text-anchor="end" fill="#000" >100</text>
<line x1="161.40" y1="242.82" x2="162.90" y2="242.82" stroke="#000" stroke-width="1"/>
<line x1="160.40" y1="225.45" x2="162.90" y2="225.45" stroke="#000" stroke-width="1"/>
<text x="159.70" y="228.25" font-size="8" font-weight="bold" text-anchor="end" fill="#000" >150</text>
<line x1="161.40" y1="208.07" x2="162.90" y2="208.07" stroke="#000" stroke-width="1"/>
<line x1="160.40" y1="190.70" x2="162.90" y2="190.70" stroke="#000" stroke-width="1"/>
<text x="159.70" y="193.50" font-size="8" font-weight="bold" text-anchor="end" fill="#000" >200</text>
<line x1="172.50" y1="329.70" x2="172.50" y2="332.70" stroke="#000" stroke-width="1"/>
<text x="172.50" y="341.10" font-size="8" font-weight="bold" text-anchor="middle" fill="#000" >2</text>
<line x1="191.18" y1="329.70" x2="191.18" y2="332.70" stroke="#000" stroke-width="1"/>
<text x="191.18" y="341.10" font-size="8" font-weight="bold" text-anchor="middle" fill="#000" >3</text>
<line x1="209.86" y1="329.70" x2="209.86" y2="332.70" stroke="#000" stroke-width="1"/>
<text x="209.86" y="341.10" font-size="8" font-weight="bold" text-anchor="middle" fill="#000" >4</text>
<line x1="228.54" y1="329.70" x2="228.54" y2="332.70" stroke="#000" stroke-width="1"/>
<text x="228.54" y="341.10" font-size="8" font-weight="bold" text-anchor="middle" fill="#000" >5</text>
<line x1="247.22" y1="329.70" x2="247.22" y2="332.70" stroke="#000" stroke-width="1"/>
<text x="247.22" y="341.10" font-size="8" font-weight="bold" text-anchor="middle" fill="#000" >6</text>
<line x1="163.16" y1="329.70" x2="163.16" y2="331.20" stroke="#000" stroke-width="1"/>
<line x1="181.84" y1="329.70" x2="181.84" y2="331.20" stroke="#000" stroke-width="1"/>
<line x1="200.52" y1="329.70" x2="200.52" y2="331.20" stroke="#000" stroke-width="1"/>
<line x1="219.20" y1="329.70" x2="219.20" y2="331.20" stroke="#000" stroke-width="1"/>
<line x1="237.88" y1="329.70" x2="237.88" y2="331.20" stroke="#000" stroke-width="1"/>
<line x1="256.56" y1="329.70" x2="256.56" y2="331.20" stroke="#000" stroke-width="1"/>
<text x="209.80" y="200.60" font-size="10.2" font-weight="bold" text-anchor="middle" fill="#000" >IL1b</text>
<polyline points="172.50,307.46 209.86,304.68 247.22,303.99" stroke="#ff0000" stroke-width="1.15" fill="none" />
<polyline points="172.50,306.76 209.86,299.12 247.22,295.64" stroke="#1a1a1a" stroke-width="1.15" fill="none" />
<polyline points="172.50,305.38 209.86,285.91 247.22,283.13" stroke="#ff0000" stroke-width="1.15" fill="none" />
<polyline points="172.50,306.07 209.86,247.69 247.22,241.44" stroke="#1a1a1a" stroke-width="1.15" fill="none" />
<circle cx="172.50" cy="307.46" r="2.4" fill="#fff" stroke="#ff0000" stroke-width="1"/>
<circle cx="209.86" cy="304.68" r="2.4" fill="#fff" stroke="#ff0000" stroke-width="1"/>
<circle cx="247.22" cy="303.99" r="2.4" fill="#fff" stroke="#ff0000" stroke-width="1"/>
<circle cx="172.50" cy="306.76" r="2.4" fill="#fff" stroke="#000" stroke-width="1"/>
<circle cx="209.86" cy="299.12" r="2.4" fill="#fff" stroke="#000" stroke-width="1"/>
<circle cx="247.22" cy="295.64" r="2.4" fill="#fff" stroke="#000" stroke-width="1"/>
<circle cx="172.50" cy="305.38" r="2.9" fill="#ff0000"/>
<circle cx="209.86" cy="285.91" r="2.9" fill="#ff0000"/>
<circle cx="247.22" cy="283.13" r="2.9" fill="#ff0000"/>
<circle cx="172.50" cy="306.07" r="2.9" fill="#000"/>
<circle cx="209.86" cy="247.69" r="2.9" fill="#000"/>
<circle cx="247.22" cy="241.44" r="2.9" fill="#000"/>
<rect x="346.02" y="299.50" width="39.10" height="30.20" fill="#e3e3e3"/>
<line x1="351.22" y1="304.70" x2="361.22" y2="304.70" stroke="#000" stroke-width="1"/>
<circle cx="356.22" cy="304.70" r="2.4" fill="#000"/>
<line x1="351.22" y1="311.57" x2="361.22" y2="311.57" stroke="#ff0000" stroke-width="1"/>
<circle cx="356.22" cy="311.57" r="2.4" fill="#ff0000"/>
<line x1="351.22" y1="318.44" x2="361.22" y2="318.44" stroke="#000" stroke-width="1"/>
<circle cx="356.22" cy="318.44" r="1.9" fill="#fff" stroke="#000" stroke-width="1"/>
<line x1="351.22" y1="325.31" x2="361.22" y2="325.31" stroke="#ff0000" stroke-width="1"/>
<circle cx="356.22" cy="325.31" r="1.9" fill="#fff" stroke="#ff0000" stroke-width="1"/>
<text x="363.02" y="307.50" font-size="8" text-anchor="start" fill="#111" >A</text>
<text x="370.37" y="314.37" font-size="8" text-anchor="start" fill="#111" >B</text>
<text x="377.72" y="321.24" font-size="8" text-anchor="start" fill="#111" >C</text>
<text x="377.72" y="328.11" font-size="8" text-anchor="start" fill="#111" >C</text>
<line x1="291.10" y1="190.70" x2="291.10" y2="330.20" stroke="#000" stroke-width="1"/>
<line x1="290.60" y1="329.70" x2="385.12" y2="329.70" stroke="#000" stroke-width="1"/>
<line x1="288.60" y1="329.70" x2="291.10" y2="329.70" stroke="#000" stroke-width="1"/>
<text x="287.90" y="332.50" font-size="8" font-weight="bold" text-anchor="end" fill="#000" >0</text>
<line x1="289.60" y1="318.12" x2="291.10" y2="318.12" stroke="#000" stroke-width="1"/>
<line x1="288.60" y1="306.53" x2="291.10" y2="306.53" stroke="#000" stroke-width="1"/>
<text x="287.90" y="309.33" font-size="8" font-weight="bold" text-anchor="end" fill="#000" >200</text>
<line x1="289.60" y1="294.95" x2="291.10" y2="294.95" stroke="#000" stroke-width="1"/>
<line x1="288.60" y1="283.37" x2="291.10" y2="283.37" stroke="#000" stroke-width="1"/>
<text x="287.90" y="286.17" font-size="8" font-weight="bold" text-anchor="end" fill="#000" >400</text>
<line x1="289.60" y1="271.78" x2="291.10" y2="271.78" stroke="#000" stroke-width="1"/>
<line x1="288.60" y1="260.20" x2="291.10" y2="260.20" stroke="#000" stroke-width="1"/>
<text x="287.90" y="263.00" font-size="8" font-weight="bold" text-anchor="end" fill="#000" >600</text>
<line x1="289.60" y1="248.62" x2="291.10" y2="248.62" stroke="#000" stroke-width="1"/>
<line x1="288.60" y1="237.03" x2="291.10" y2="237.03" stroke="#000" stroke-width="1"/>
<text x="287.90" y="239.83" font-size="8" font-weight="bold" text-anchor="end" fill="#000" >800</text>
<line x1="289.60" y1="225.45" x2="291.10" y2="225.45" stroke="#000" stroke-width="1"/>
<line x1="288.60" y1="213.87" x2="291.10" y2="213.87" stroke="#000" stroke-width="1"/>
<text x="287.90" y="216.67" font-size="8" font-weight="bold" text-anchor="end" fill="#000" >1000</text>
<line x1="289.60" y1="202.28" x2="291.10" y2="202.28" stroke="#000" stroke-width="1"/>
<line x1="288.60" y1="190.70" x2="291.10" y2="190.70" stroke="#000" stroke-width="1"/>
<text x="287.90" y="193.50" font-size="8" font-weight="bold" text-anchor="end" fill="#000" >1200</text>
<line x1="300.70" y1="329.70" x2="300.70" y2="332.70" stroke="#000" stroke-width="1"/>
<text x="300.70" y="341.10" font-size="8" font-weight="bold" text-anchor="middle" fill="#000" >2</text>
<line x1="319.38" y1="329.70" x2="319.38" y2="332.70" stroke="#000" stroke-width="1"/>
<text x="319.38" y="341.10" font-size="8" font-weight="bold" text-anchor="middle" fill="#000" >3</text>
<line x1="338.06" y1="329.70" x2="338.06" y2="332.70" stroke="#000" stroke-width="1"/>
<text x="338.06" y="341.10" font-size="8" font-weight="bold" text-anchor="middle" fill="#000" >4</text>
<line x1="356.74" y1="329.70" x2="356.74" y2="332.70" stroke="#000" stroke-width="1"/>
<text x="356.74" y="341.10" font-size="8" font-weight="bold" text-anchor="middle" fill="#000" >5</text>
<line x1="375.42" y1="329.70" x2="375.42" y2="332.70" stroke="#000" stroke-width="1"/>
<text x="375.42" y="341.10" font-size="8" font-weight="bold" text-anchor="middle" fill="#000" >6</text>
<line x1="291.36" y1="329.70" x2="291.36" y2="331.20" stroke="#000" stroke-width="1"/>
<line x1="310.04" y1="329.70" x2="310.04" y2="331.20" stroke="#000" stroke-width="1"/>
<line x1="328.72" y1="329.70" x2="328.72" y2="331.20" stroke="#000" stroke-width="1"/>
<line x1="347.40" y1="329.70" x2="347.40" y2="331.20" stroke="#000" stroke-width="1"/>
<line x1="366.08" y1="329.70" x2="366.08" y2="331.20" stroke="#000" stroke-width="1"/>
<line x1="384.76" y1="329.70" x2="384.76" y2="331.20" stroke="#000" stroke-width="1"/>
<text x="337.80" y="200.60" font-size="10.2" font-weight="bold" text-anchor="middle" fill="#000" >IL6</text>
<polyline points="300.70,303.29 338.06,301.32 375.42,299.58" stroke="#ff0000" stroke-width="1.15" fill="none" />
<polyline points="300.70,299.35 338.06,294.60 375.42,291.13" stroke="#1a1a1a" stroke-width="1.15" fill="none" />
<polyline points="300.70,281.98 338.06,277.00 375.42,277.23" stroke="#ff0000" stroke-width="1.15" fill="none" />
<polyline points="300.70,268.89 338.06,211.55 375.42,206.92" stroke="#1a1a1a" stroke-width="1.15" fill="none" />
<circle cx="300.70" cy="303.29" r="2.4" fill="#fff" stroke="#ff0000" stroke-width="1"/>
<circle cx="338.06" cy="301.32" r="2.4" fill="#fff" stroke="#ff0000" stroke-width="1"/>
<circle cx="375.42" cy="299.58" r="2.4" fill="#fff" stroke="#ff0000" stroke-width="1"/>
<circle cx="300.70" cy="299.35" r="2.4" fill="#fff" stroke="#000" stroke-width="1"/>
<circle cx="338.06" cy="294.60" r="2.4" fill="#fff" stroke="#000" stroke-width="1"/>
<circle cx="375.42" cy="291.13" r="2.4" fill="#fff" stroke="#000" stroke-width="1"/>
<circle cx="300.70" cy="281.98" r="2.9" fill="#ff0000"/>
<circle cx="338.06" cy="277.00" r="2.9" fill="#ff0000"/>
<circle cx="375.42" cy="277.23" r="2.9" fill="#ff0000"/>
<circle cx="300.70" cy="268.89" r="2.9" fill="#000"/>
<circle cx="338.06" cy="211.55" r="2.9" fill="#000"/>
<circle cx="375.42" cy="206.92" r="2.9" fill="#000"/>
<rect x="476.32" y="299.50" width="38.80" height="30.20" fill="#e3e3e3"/>
<line x1="481.52" y1="304.70" x2="491.52" y2="304.70" stroke="#000" stroke-width="1"/>
<circle cx="486.52" cy="304.70" r="2.4" fill="#000"/>
<line x1="481.52" y1="311.57" x2="491.52" y2="311.57" stroke="#ff0000" stroke-width="1"/>
<circle cx="486.52" cy="311.57" r="2.4" fill="#ff0000"/>
<line x1="481.52" y1="318.44" x2="491.52" y2="318.44" stroke="#000" stroke-width="1"/>
<circle cx="486.52" cy="318.44" r="1.9" fill="#fff" stroke="#000" stroke-width="1"/>
<line x1="481.52" y1="325.31" x2="491.52" y2="325.31" stroke="#ff0000" stroke-width="1"/>
<circle cx="486.52" cy="325.31" r="1.9" fill="#fff" stroke="#ff0000" stroke-width="1"/>
<text x="493.32" y="307.50" font-size="8" text-anchor="start" fill="#111" >A</text>
<text x="500.67" y="314.37" font-size="8" text-anchor="start" fill="#111" >B</text>
<text x="500.67" y="321.24" font-size="8" text-anchor="start" fill="#111" >B</text>
<text x="508.02" y="321.24" font-size="8" text-anchor="start" fill="#111" >C</text>
<text x="508.02" y="328.11" font-size="8" text-anchor="start" fill="#111" >C</text>
<line x1="421.10" y1="190.70" x2="421.10" y2="330.20" stroke="#000" stroke-width="1"/>
<line x1="420.60" y1="329.70" x2="515.12" y2="329.70" stroke="#000" stroke-width="1"/>
<line x1="418.60" y1="329.70" x2="421.10" y2="329.70" stroke="#000" stroke-width="1"/>
<text x="417.90" y="332.50" font-size="8" font-weight="bold" text-anchor="end" fill="#000" >0</text>
<line x1="419.60" y1="315.80" x2="421.10" y2="315.80" stroke="#000" stroke-width="1"/>
<line x1="418.60" y1="301.90" x2="421.10" y2="301.90" stroke="#000" stroke-width="1"/>
<text x="417.90" y="304.70" font-size="8" font-weight="bold" text-anchor="end" fill="#000" >200</text>
<line x1="419.60" y1="288.00" x2="421.10" y2="288.00" stroke="#000" stroke-width="1"/>
<line x1="418.60" y1="274.10" x2="421.10" y2="274.10" stroke="#000" stroke-width="1"/>
<text x="417.90" y="276.90" font-size="8" font-weight="bold" text-anchor="end" fill="#000" >400</text>
<line x1="419.60" y1="260.20" x2="421.10" y2="260.20" stroke="#000" stroke-width="1"/>
<line x1="418.60" y1="246.30" x2="421.10" y2="246.30" stroke="#000" stroke-width="1"/>
<text x="417.90" y="249.10" font-size="8" font-weight="bold" text-anchor="end" fill="#000" >600</text>
<line x1="419.60" y1="232.40" x2="421.10" y2="232.40" stroke="#000" stroke-width="1"/>
<line x1="418.60" y1="218.50" x2="421.10" y2="218.50" stroke="#000" stroke-width="1"/>
<text x="417.90" y="221.30" font-size="8" font-weight="bold" text-anchor="end" fill="#000" >800</text>
<line x1="419.60" y1="204.60" x2="421.10" y2="204.60" stroke="#000" stroke-width="1"/>
<line x1="418.60" y1="190.70" x2="421.10" y2="190.70" stroke="#000" stroke-width="1"/>
<text x="417.90" y="193.50" font-size="8" font-weight="bold" text-anchor="end" fill="#000" >1000</text>
<line x1="430.70" y1="329.70" x2="430.70" y2="332.70" stroke="#000" stroke-width="1"/>
<text x="430.70" y="341.10" font-size="8" font-weight="bold" text-anchor="middle" fill="#000" >2</text>
<line x1="449.38" y1="329.70" x2="449.38" y2="332.70" stroke="#000" stroke-width="1"/>
<text x="449.38" y="341.10" font-size="8" font-weight="bold" text-anchor="middle" fill="#000" >3</text>
<line x1="468.06" y1="329.70" x2="468.06" y2="332.70" stroke="#000" stroke-width="1"/>
<text x="468.06" y="341.10" font-size="8" font-weight="bold" text-anchor="middle" fill="#000" >4</text>
<line x1="486.74" y1="329.70" x2="486.74" y2="332.70" stroke="#000" stroke-width="1"/>
<text x="486.74" y="341.10" font-size="8" font-weight="bold" text-anchor="middle" fill="#000" >5</text>
<line x1="505.42" y1="329.70" x2="505.42" y2="332.70" stroke="#000" stroke-width="1"/>
<text x="505.42" y="341.10" font-size="8" font-weight="bold" text-anchor="middle" fill="#000" >6</text>
<line x1="421.36" y1="329.70" x2="421.36" y2="331.20" stroke="#000" stroke-width="1"/>
<line x1="440.04" y1="329.70" x2="440.04" y2="331.20" stroke="#000" stroke-width="1"/>
<line x1="458.72" y1="329.70" x2="458.72" y2="331.20" stroke="#000" stroke-width="1"/>
<line x1="477.40" y1="329.70" x2="477.40" y2="331.20" stroke="#000" stroke-width="1"/>
<line x1="496.08" y1="329.70" x2="496.08" y2="331.20" stroke="#000" stroke-width="1"/>
<line x1="514.76" y1="329.70" x2="514.76" y2="331.20" stroke="#000" stroke-width="1"/>
<text x="467.20" y="200.60" font-size="10.2" font-weight="bold" text-anchor="middle" fill="#000" >GM-CSF</text>
<polyline points="430.70,284.94 468.06,283.55 505.42,281.61" stroke="#ff0000" stroke-width="1.15" fill="none" />
<polyline points="430.70,282.44 468.06,272.29 505.42,269.65" stroke="#1a1a1a" stroke-width="1.15" fill="none" />
<polyline points="430.70,272.01 468.06,261.03 505.42,263.26" stroke="#ff0000" stroke-width="1.15" fill="none" />
<polyline points="430.70,263.68 468.06,214.33 505.42,210.85" stroke="#1a1a1a" stroke-width="1.15" fill="none" />
<line x1="505.42" y1="214.33" x2="505.42" y2="207.38" stroke="#000" stroke-width="1"/>
<line x1="503.62" y1="207.38" x2="507.22" y2="207.38" stroke="#000" stroke-width="1"/>
<line x1="503.62" y1="214.33" x2="507.22" y2="214.33" stroke="#000" stroke-width="1"/>
<circle cx="430.70" cy="284.94" r="2.4" fill="#fff" stroke="#ff0000" stroke-width="1"/>
<circle cx="468.06" cy="283.55" r="2.4" fill="#fff" stroke="#ff0000" stroke-width="1"/>
<circle cx="505.42" cy="281.61" r="2.4" fill="#fff" stroke="#ff0000" stroke-width="1"/>
<circle cx="430.70" cy="282.44" r="2.4" fill="#fff" stroke="#000" stroke-width="1"/>
<circle cx="468.06" cy="272.29" r="2.4" fill="#fff" stroke="#000" stroke-width="1"/>
<circle cx="505.42" cy="269.65" r="2.4" fill="#fff" stroke="#000" stroke-width="1"/>
<circle cx="430.70" cy="272.01" r="2.9" fill="#ff0000"/>
<circle cx="468.06" cy="261.03" r="2.9" fill="#ff0000"/>
<circle cx="505.42" cy="263.26" r="2.9" fill="#ff0000"/>
<circle cx="430.70" cy="263.68" r="2.9" fill="#000"/>
<circle cx="468.06" cy="214.33" r="2.9" fill="#000"/>
<circle cx="505.42" cy="210.85" r="2.9" fill="#000"/>
<rect x="88.32" y="457.10" width="39.20" height="30.20" fill="#e3e3e3"/>
<line x1="93.52" y1="462.30" x2="103.52" y2="462.30" stroke="#000" stroke-width="1"/>
<circle cx="98.52" cy="462.30" r="2.4" fill="#000"/>
<line x1="93.52" y1="469.17" x2="103.52" y2="469.17" stroke="#ff0000" stroke-width="1"/>
<circle cx="98.52" cy="469.17" r="2.4" fill="#ff0000"/>
<line x1="93.52" y1="476.04" x2="103.52" y2="476.04" stroke="#000" stroke-width="1"/>
<circle cx="98.52" cy="476.04" r="1.9" fill="#fff" stroke="#000" stroke-width="1"/>
<line x1="93.52" y1="482.91" x2="103.52" y2="482.91" stroke="#ff0000" stroke-width="1"/>
<circle cx="98.52" cy="482.91" r="1.9" fill="#fff" stroke="#ff0000" stroke-width="1"/>
<text x="105.32" y="465.10" font-size="8" text-anchor="start" fill="#111" >A</text>
<text x="112.67" y="471.97" font-size="8" text-anchor="start" fill="#111" >B</text>
<text x="112.67" y="478.84" font-size="8" text-anchor="start" fill="#111" >B</text>
<text x="120.02" y="478.84" font-size="8" text-anchor="start" fill="#111" >C</text>
<text x="120.02" y="485.71" font-size="8" text-anchor="start" fill="#111" >C</text>
<line x1="33.50" y1="349.30" x2="33.50" y2="487.80" stroke="#000" stroke-width="1"/>
<line x1="33.00" y1="487.30" x2="127.52" y2="487.30" stroke="#000" stroke-width="1"/>
<line x1="31.00" y1="487.30" x2="33.50" y2="487.30" stroke="#000" stroke-width="1"/>
<text x="30.30" y="490.10" font-size="8" font-weight="bold" text-anchor="end" fill="#000" >0</text>
<line x1="32.00" y1="470.05" x2="33.50" y2="470.05" stroke="#000" stroke-width="1"/>
<line x1="31.00" y1="452.80" x2="33.50" y2="452.80" stroke="#000" stroke-width="1"/>
<text x="30.30" y="455.60" font-size="8" font-weight="bold" text-anchor="end" fill="#000" >50</text>
<line x1="32.00" y1="435.55" x2="33.50" y2="435.55" stroke="#000" stroke-width="1"/>
<line x1="31.00" y1="418.30" x2="33.50" y2="418.30" stroke="#000" stroke-width="1"/>
<text x="30.30" y="421.10" font-size="8" font-weight="bold" text-anchor="end" fill="#000" >100</text>
<line x1="32.00" y1="401.05" x2="33.50" y2="401.05" stroke="#000" stroke-width="1"/>
<line x1="31.00" y1="383.80" x2="33.50" y2="383.80" stroke="#000" stroke-width="1"/>
<text x="30.30" y="386.60" font-size="8" font-weight="bold" text-anchor="end" fill="#000" >150</text>
<line x1="32.00" y1="366.55" x2="33.50" y2="366.55" stroke="#000" stroke-width="1"/>
<line x1="31.00" y1="349.30" x2="33.50" y2="349.30" stroke="#000" stroke-width="1"/>
<text x="30.30" y="352.10" font-size="8" font-weight="bold" text-anchor="end" fill="#000" >200</text>
<line x1="43.10" y1="487.30" x2="43.10" y2="490.30" stroke="#000" stroke-width="1"/>
<text x="43.10" y="498.70" font-size="8" font-weight="bold" text-anchor="middle" fill="#000" >2</text>
<line x1="61.78" y1="487.30" x2="61.78" y2="490.30" stroke="#000" stroke-width="1"/>
<text x="61.78" y="498.70" font-size="8" font-weight="bold" text-anchor="middle" fill="#000" >3</text>
<line x1="80.46" y1="487.30" x2="80.46" y2="490.30" stroke="#000" stroke-width="1"/>
<text x="80.46" y="498.70" font-size="8" font-weight="bold" text-anchor="middle" fill="#000" >4</text>
<line x1="99.14" y1="487.30" x2="99.14" y2="490.30" stroke="#000" stroke-width="1"/>
<text x="99.14" y="498.70" font-size="8" font-weight="bold" text-anchor="middle" fill="#000" >5</text>
<line x1="117.82" y1="487.30" x2="117.82" y2="490.30" stroke="#000" stroke-width="1"/>
<text x="117.82" y="498.70" font-size="8" font-weight="bold" text-anchor="middle" fill="#000" >6</text>
<line x1="33.76" y1="487.30" x2="33.76" y2="488.80" stroke="#000" stroke-width="1"/>
<line x1="52.44" y1="487.30" x2="52.44" y2="488.80" stroke="#000" stroke-width="1"/>
<line x1="71.12" y1="487.30" x2="71.12" y2="488.80" stroke="#000" stroke-width="1"/>
<line x1="89.80" y1="487.30" x2="89.80" y2="488.80" stroke="#000" stroke-width="1"/>
<line x1="108.48" y1="487.30" x2="108.48" y2="488.80" stroke="#000" stroke-width="1"/>
<line x1="127.16" y1="487.30" x2="127.16" y2="488.80" stroke="#000" stroke-width="1"/>
<text x="83.85" y="358.20" font-size="10.2" font-weight="bold" text-anchor="middle" fill="#000" >CCL3</text>
<polyline points="43.10,448.66 80.46,450.04 117.82,448.66" stroke="#ff0000" stroke-width="1.15" fill="none" />
<polyline points="43.10,443.14 80.46,436.24 117.82,438.31" stroke="#1a1a1a" stroke-width="1.15" fill="none" />
<polyline points="43.10,432.10 80.46,435.55 117.82,441.76" stroke="#ff0000" stroke-width="1.15" fill="none" />
<polyline points="43.10,412.09 80.46,363.10 117.82,383.80" stroke="#1a1a1a" stroke-width="1.15" fill="none" />
<line x1="43.10" y1="445.90" x2="43.10" y2="440.38" stroke="#000" stroke-width="1"/>
<line x1="41.30" y1="440.38" x2="44.90" y2="440.38" stroke="#000" stroke-width="1"/>
<line x1="41.30" y1="445.90" x2="44.90" y2="445.90" stroke="#000" stroke-width="1"/>
<circle cx="43.10" cy="448.66" r="2.4" fill="#fff" stroke="#ff0000" stroke-width="1"/>
<circle cx="80.46" cy="450.04" r="2.4" fill="#fff" stroke="#ff0000" stroke-width="1"/>
<circle cx="117.82" cy="448.66" r="2.4" fill="#fff" stroke="#ff0000" stroke-width="1"/>
<circle cx="43.10" cy="443.14" r="2.4" fill="#fff" stroke="#000" stroke-width="1"/>
<circle cx="80.46" cy="436.24" r="2.4" fill="#fff" stroke="#000" stroke-width="1"/>
<circle cx="117.82" cy="438.31" r="2.4" fill="#fff" stroke="#000" stroke-width="1"/>
<circle cx="43.10" cy="432.10" r="2.9" fill="#ff0000"/>
<circle cx="80.46" cy="435.55" r="2.9" fill="#ff0000"/>
<circle cx="117.82" cy="441.76" r="2.9" fill="#ff0000"/>
<circle cx="43.10" cy="412.09" r="2.9" fill="#000"/>
<circle cx="80.46" cy="363.10" r="2.9" fill="#000"/>
<circle cx="117.82" cy="383.80" r="2.9" fill="#000"/>
<rect x="209.92" y="457.10" width="47.00" height="30.20" fill="#e3e3e3"/>
<line x1="212.72" y1="462.30" x2="222.72" y2="462.30" stroke="#000" stroke-width="1"/>
<circle cx="217.72" cy="462.30" r="2.4" fill="#000"/>
<line x1="212.72" y1="469.17" x2="222.72" y2="469.17" stroke="#ff0000" stroke-width="1"/>
<circle cx="217.72" cy="469.17" r="2.4" fill="#ff0000"/>
<line x1="212.72" y1="476.04" x2="222.72" y2="476.04" stroke="#000" stroke-width="1"/>
<circle cx="217.72" cy="476.04" r="1.9" fill="#fff" stroke="#000" stroke-width="1"/>
<line x1="212.72" y1="482.91" x2="222.72" y2="482.91" stroke="#ff0000" stroke-width="1"/>
<circle cx="217.72" cy="482.91" r="1.9" fill="#fff" stroke="#ff0000" stroke-width="1"/>
<text x="227.82" y="465.10" font-size="8" text-anchor="start" fill="#111" >A</text>
<text x="235.02" y="471.97" font-size="8" text-anchor="start" fill="#111" >B</text>
<text x="242.22" y="478.84" font-size="8" text-anchor="start" fill="#111" >C</text>
<text x="249.42" y="485.71" font-size="8" text-anchor="start" fill="#111" >D</text>
<line x1="162.90" y1="349.30" x2="162.90" y2="487.80" stroke="#000" stroke-width="1"/>
<line x1="162.40" y1="487.30" x2="256.92" y2="487.30" stroke="#000" stroke-width="1"/>
<line x1="160.40" y1="487.30" x2="162.90" y2="487.30" stroke="#000" stroke-width="1"/>
<text x="159.70" y="490.10" font-size="8" font-weight="bold" text-anchor="end" fill="#000" >0</text>
<line x1="161.40" y1="475.80" x2="162.90" y2="475.80" stroke="#000" stroke-width="1"/>
<line x1="160.40" y1="464.30" x2="162.90" y2="464.30" stroke="#000" stroke-width="1"/>
<text x="159.70" y="467.10" font-size="8" font-weight="bold" text-anchor="end" fill="#000" >100</text>
<line x1="161.40" y1="452.80" x2="162.90" y2="452.80" stroke="#000" stroke-width="1"/>
<line x1="160.40" y1="441.30" x2="162.90" y2="441.30" stroke="#000" stroke-width="1"/>
<text x="159.70" y="444.10" font-size="8" font-weight="bold" text-anchor="end" fill="#000" >200</text>
<line x1="161.40" y1="429.80" x2="162.90" y2="429.80" stroke="#000" stroke-width="1"/>
<line x1="160.40" y1="418.30" x2="162.90" y2="418.30" stroke="#000" stroke-width="1"/>
<text x="159.70" y="421.10" font-size="8" font-weight="bold" text-anchor="end" fill="#000" >300</text>
<line x1="161.40" y1="406.80" x2="162.90" y2="406.80" stroke="#000" stroke-width="1"/>
<line x1="160.40" y1="395.30" x2="162.90" y2="395.30" stroke="#000" stroke-width="1"/>
<text x="159.70" y="398.10" font-size="8" font-weight="bold" text-anchor="end" fill="#000" >400</text>
<line x1="161.40" y1="383.80" x2="162.90" y2="383.80" stroke="#000" stroke-width="1"/>
<line x1="160.40" y1="372.30" x2="162.90" y2="372.30" stroke="#000" stroke-width="1"/>
<text x="159.70" y="375.10" font-size="8" font-weight="bold" text-anchor="end" fill="#000" >500</text>
<line x1="161.40" y1="360.80" x2="162.90" y2="360.80" stroke="#000" stroke-width="1"/>
<line x1="160.40" y1="349.30" x2="162.90" y2="349.30" stroke="#000" stroke-width="1"/>
<text x="159.70" y="352.10" font-size="8" font-weight="bold" text-anchor="end" fill="#000" >600</text>
<line x1="172.50" y1="487.30" x2="172.50" y2="490.30" stroke="#000" stroke-width="1"/>
<text x="172.50" y="498.70" font-size="8" font-weight="bold" text-anchor="middle" fill="#000" >2</text>
<line x1="191.18" y1="487.30" x2="191.18" y2="490.30" stroke="#000" stroke-width="1"/>
<text x="191.18" y="498.70" font-size="8" font-weight="bold" text-anchor="middle" fill="#000" >3</text>
<line x1="209.86" y1="487.30" x2="209.86" y2="490.30" stroke="#000" stroke-width="1"/>
<text x="209.86" y="498.70" font-size="8" font-weight="bold" text-anchor="middle" fill="#000" >4</text>
<line x1="228.54" y1="487.30" x2="228.54" y2="490.30" stroke="#000" stroke-width="1"/>
<text x="228.54" y="498.70" font-size="8" font-weight="bold" text-anchor="middle" fill="#000" >5</text>
<line x1="247.22" y1="487.30" x2="247.22" y2="490.30" stroke="#000" stroke-width="1"/>
<text x="247.22" y="498.70" font-size="8" font-weight="bold" text-anchor="middle" fill="#000" >6</text>
<line x1="163.16" y1="487.30" x2="163.16" y2="488.80" stroke="#000" stroke-width="1"/>
<line x1="181.84" y1="487.30" x2="181.84" y2="488.80" stroke="#000" stroke-width="1"/>
<line x1="200.52" y1="487.30" x2="200.52" y2="488.80" stroke="#000" stroke-width="1"/>
<line x1="219.20" y1="487.30" x2="219.20" y2="488.80" stroke="#000" stroke-width="1"/>
<line x1="237.88" y1="487.30" x2="237.88" y2="488.80" stroke="#000" stroke-width="1"/>
<line x1="256.56" y1="487.30" x2="256.56" y2="488.80" stroke="#000" stroke-width="1"/>
<text x="213.00" y="358.30" font-size="10.2" font-weight="bold" text-anchor="middle" fill="#000" >CCL5</text>
<polyline points="172.50,442.45 209.86,438.77 247.22,439.23" stroke="#ff0000" stroke-width="1.15" fill="none" />
<polyline points="172.50,441.99 209.86,426.35 247.22,416.92" stroke="#1a1a1a" stroke-width="1.15" fill="none" />
<polyline points="172.50,393.46 209.86,390.93 247.22,391.16" stroke="#ff0000" stroke-width="1.15" fill="none" />
<polyline points="172.50,387.71 209.86,374.14 247.22,374.60" stroke="#1a1a1a" stroke-width="1.15" fill="none" />
<line x1="247.22" y1="418.76" x2="247.22" y2="415.08" stroke="#000" stroke-width="1"/>
<line x1="245.42" y1="415.08" x2="249.02" y2="415.08" stroke="#000" stroke-width="1"/>
<line x1="245.42" y1="418.76" x2="249.02" y2="418.76" stroke="#000" stroke-width="1"/>
<line x1="247.22" y1="394.61" x2="247.22" y2="387.71" stroke="#ff0000" stroke-width="1"/>
<line x1="245.42" y1="387.71" x2="249.02" y2="387.71" stroke="#ff0000" stroke-width="1"/>
<line x1="245.42" y1="394.61" x2="249.02" y2="394.61" stroke="#ff0000" stroke-width="1"/>
<line x1="209.86" y1="377.59" x2="209.86" y2="370.69" stroke="#000" stroke-width="1"/>
<line x1="208.06" y1="370.69" x2="211.66" y2="370.69" stroke="#000" stroke-width="1"/>
<line x1="208.06" y1="377.59" x2="211.66" y2="377.59" stroke="#000" stroke-width="1"/>
<line x1="247.22" y1="378.74" x2="247.22" y2="370.46" stroke="#000" stroke-width="1"/>
<line x1="245.42" y1="370.46" x2="249.02" y2="370.46" stroke="#000" stroke-width="1"/>
<line x1="245.42" y1="378.74" x2="249.02" y2="378.74" stroke="#000" stroke-width="1"/>
<circle cx="172.50" cy="442.45" r="2.4" fill="#fff" stroke="#ff0000" stroke-width="1"/>
<circle cx="209.86" cy="438.77" r="2.4" fill="#fff" stroke="#ff0000" stroke-width="1"/>
<circle cx="247.22" cy="439.23" r="2.4" fill="#fff" stroke="#ff0000" stroke-width="1"/>
<circle cx="172.50" cy="441.99" r="2.4" fill="#fff" stroke="#000" stroke-width="1"/>
<circle cx="209.86" cy="426.35" r="2.4" fill="#fff" stroke="#000" stroke-width="1"/>
<circle cx="247.22" cy="416.92" r="2.4" fill="#fff" stroke="#000" stroke-width="1"/>
<circle cx="172.50" cy="393.46" r="2.9" fill="#ff0000"/>
<circle cx="209.86" cy="390.93" r="2.9" fill="#ff0000"/>
<circle cx="247.22" cy="391.16" r="2.9" fill="#ff0000"/>
<circle cx="172.50" cy="387.71" r="2.9" fill="#000"/>
<circle cx="209.86" cy="374.14" r="2.9" fill="#000"/>
<circle cx="247.22" cy="374.60" r="2.9" fill="#000"/>
<rect x="346.22" y="457.10" width="38.90" height="30.20" fill="#e3e3e3"/>
<line x1="351.42" y1="462.30" x2="361.42" y2="462.30" stroke="#000" stroke-width="1"/>
<circle cx="356.42" cy="462.30" r="2.4" fill="#000"/>
<line x1="351.42" y1="469.17" x2="361.42" y2="469.17" stroke="#ff0000" stroke-width="1"/>
<circle cx="356.42" cy="469.17" r="2.4" fill="#ff0000"/>
<line x1="351.42" y1="476.04" x2="361.42" y2="476.04" stroke="#000" stroke-width="1"/>
<circle cx="356.42" cy="476.04" r="1.9" fill="#fff" stroke="#000" stroke-width="1"/>
<line x1="351.42" y1="482.91" x2="361.42" y2="482.91" stroke="#ff0000" stroke-width="1"/>
<circle cx="356.42" cy="482.91" r="1.9" fill="#fff" stroke="#ff0000" stroke-width="1"/>
<text x="363.22" y="465.10" font-size="8" text-anchor="start" fill="#111" >A</text>
<text x="370.57" y="471.97" font-size="8" text-anchor="start" fill="#111" >B</text>
<text x="377.92" y="478.84" font-size="8" text-anchor="start" fill="#111" >C</text>
<text x="377.92" y="485.71" font-size="8" text-anchor="start" fill="#111" >C</text>
<line x1="291.10" y1="349.30" x2="291.10" y2="487.80" stroke="#000" stroke-width="1"/>
<line x1="290.60" y1="487.30" x2="385.12" y2="487.30" stroke="#000" stroke-width="1"/>
<line x1="288.60" y1="487.30" x2="291.10" y2="487.30" stroke="#000" stroke-width="1"/>
<text x="287.90" y="490.10" font-size="8" font-weight="bold" text-anchor="end" fill="#000" >0</text>
<line x1="289.60" y1="473.50" x2="291.10" y2="473.50" stroke="#000" stroke-width="1"/>
<line x1="288.60" y1="459.70" x2="291.10" y2="459.70" stroke="#000" stroke-width="1"/>
<text x="287.90" y="462.50" font-size="8" font-weight="bold" text-anchor="end" fill="#000" >100</text>
<line x1="289.60" y1="445.90" x2="291.10" y2="445.90" stroke="#000" stroke-width="1"/>
<line x1="288.60" y1="432.10" x2="291.10" y2="432.10" stroke="#000" stroke-width="1"/>
<text x="287.90" y="434.90" font-size="8" font-weight="bold" text-anchor="end" fill="#000" >200</text>
<line x1="289.60" y1="418.30" x2="291.10" y2="418.30" stroke="#000" stroke-width="1"/>
<line x1="288.60" y1="404.50" x2="291.10" y2="404.50" stroke="#000" stroke-width="1"/>
<text x="287.90" y="407.30" font-size="8" font-weight="bold" text-anchor="end" fill="#000" >300</text>
<line x1="289.60" y1="390.70" x2="291.10" y2="390.70" stroke="#000" stroke-width="1"/>
<line x1="288.60" y1="376.90" x2="291.10" y2="376.90" stroke="#000" stroke-width="1"/>
<text x="287.90" y="379.70" font-size="8" font-weight="bold" text-anchor="end" fill="#000" >400</text>
<line x1="289.60" y1="363.10" x2="291.10" y2="363.10" stroke="#000" stroke-width="1"/>
<line x1="288.60" y1="349.30" x2="291.10" y2="349.30" stroke="#000" stroke-width="1"/>
<text x="287.90" y="352.10" font-size="8" font-weight="bold" text-anchor="end" fill="#000" >500</text>
<line x1="300.70" y1="487.30" x2="300.70" y2="490.30" stroke="#000" stroke-width="1"/>
<text x="300.70" y="498.70" font-size="8" font-weight="bold" text-anchor="middle" fill="#000" >2</text>
<line x1="319.38" y1="487.30" x2="319.38" y2="490.30" stroke="#000" stroke-width="1"/>
<text x="319.38" y="498.70" font-size="8" font-weight="bold" text-anchor="middle" fill="#000" >3</text>
<line x1="338.06" y1="487.30" x2="338.06" y2="490.30" stroke="#000" stroke-width="1"/>
<text x="338.06" y="498.70" font-size="8" font-weight="bold" text-anchor="middle" fill="#000" >4</text>
<line x1="356.74" y1="487.30" x2="356.74" y2="490.30" stroke="#000" stroke-width="1"/>
<text x="356.74" y="498.70" font-size="8" font-weight="bold" text-anchor="middle" fill="#000" >5</text>
<line x1="375.42" y1="487.30" x2="375.42" y2="490.30" stroke="#000" stroke-width="1"/>
<text x="375.42" y="498.70" font-size="8" font-weight="bold" text-anchor="middle" fill="#000" >6</text>
<line x1="291.36" y1="487.30" x2="291.36" y2="488.80" stroke="#000" stroke-width="1"/>
<line x1="310.04" y1="487.30" x2="310.04" y2="488.80" stroke="#000" stroke-width="1"/>
<line x1="328.72" y1="487.30" x2="328.72" y2="488.80" stroke="#000" stroke-width="1"/>
<line x1="347.40" y1="487.30" x2="347.40" y2="488.80" stroke="#000" stroke-width="1"/>
<line x1="366.08" y1="487.30" x2="366.08" y2="488.80" stroke="#000" stroke-width="1"/>
<line x1="384.76" y1="487.30" x2="384.76" y2="488.80" stroke="#000" stroke-width="1"/>
<text x="339.10" y="358.10" font-size="10.2" font-weight="bold" text-anchor="middle" fill="#000" >MIF</text>
<polyline points="300.70,474.88 338.06,450.04 375.42,452.25" stroke="#ff0000" stroke-width="1.15" fill="none" />
<polyline points="300.70,476.81 338.06,454.18 375.42,432.65" stroke="#1a1a1a" stroke-width="1.15" fill="none" />
<polyline points="300.70,464.67 338.06,406.98 375.42,421.34" stroke="#ff0000" stroke-width="1.15" fill="none" />
<polyline points="300.70,468.53 338.06,386.56 375.42,383.25" stroke="#1a1a1a" stroke-width="1.15" fill="none" />
<line x1="338.06" y1="392.08" x2="338.06" y2="381.04" stroke="#000" stroke-width="1"/>
<line x1="336.26" y1="381.04" x2="339.86" y2="381.04" stroke="#000" stroke-width="1"/>
<line x1="336.26" y1="392.08" x2="339.86" y2="392.08" stroke="#000" stroke-width="1"/>
<line x1="375.42" y1="391.53" x2="375.42" y2="374.97" stroke="#000" stroke-width="1"/>
<line x1="373.62" y1="374.97" x2="377.22" y2="374.97" stroke="#000" stroke-width="1"/>
<line x1="373.62" y1="391.53" x2="377.22" y2="391.53" stroke="#000" stroke-width="1"/>
<circle cx="300.70" cy="474.88" r="2.4" fill="#fff" stroke="#ff0000" stroke-width="1"/>
<circle cx="338.06" cy="450.04" r="2.4" fill="#fff" stroke="#ff0000" stroke-width="1"/>
<circle cx="375.42" cy="452.25" r="2.4" fill="#fff" stroke="#ff0000" stroke-width="1"/>
<circle cx="300.70" cy="476.81" r="2.4" fill="#fff" stroke="#000" stroke-width="1"/>
<circle cx="338.06" cy="454.18" r="2.4" fill="#fff" stroke="#000" stroke-width="1"/>
<circle cx="375.42" cy="432.65" r="2.4" fill="#fff" stroke="#000" stroke-width="1"/>
<circle cx="300.70" cy="464.67" r="2.9" fill="#ff0000"/>
<circle cx="338.06" cy="406.98" r="2.9" fill="#ff0000"/>
<circle cx="375.42" cy="421.34" r="2.9" fill="#ff0000"/>
<circle cx="300.70" cy="468.53" r="2.9" fill="#000"/>
<circle cx="338.06" cy="386.56" r="2.9" fill="#000"/>
<circle cx="375.42" cy="383.25" r="2.9" fill="#000"/>
<line x1="547.70" y1="214.50" x2="556.50" y2="214.50" stroke="#000" stroke-width="1"/>
<circle cx="552.30" cy="214.50" r="2.0" fill="#fff" stroke="#000" stroke-width="1"/>
<text x="558.90" y="217.30" font-size="8" font-weight="bold" text-anchor="start" fill="#000" >Control</text>
<line x1="547.70" y1="221.50" x2="556.50" y2="221.50" stroke="#000" stroke-width="1"/>
<circle cx="552.30" cy="221.50" r="2.5" fill="#000"/>
<text x="558.90" y="224.30" font-size="8" font-weight="bold" text-anchor="start" fill="#000" >10Gy</text>
<line x1="547.70" y1="228.50" x2="556.50" y2="228.50" stroke="#ff0000" stroke-width="1"/>
<circle cx="552.30" cy="228.50" r="2.0" fill="#fff" stroke="#ff0000" stroke-width="1"/>
<text x="558.90" y="231.30" font-size="8" font-weight="bold" text-anchor="start" fill="#000" >Control</text>
<line x1="547.70" y1="235.50" x2="556.50" y2="235.50" stroke="#ff0000" stroke-width="1"/>
<circle cx="552.30" cy="235.50" r="2.5" fill="#ff0000"/>
<text x="558.90" y="238.30" font-size="8" font-weight="bold" text-anchor="start" fill="#000" >10Gy</text>
<polyline points="588.50,214.50 594.30,214.50 594.30,221.50 588.50,221.50" stroke="#000" stroke-width="1" fill="none" />
<text x="598.60" y="220.70" font-size="8" font-weight="bold" text-anchor="start" fill="#000" >None</text>
<polyline points="588.50,228.50 594.30,228.50 594.30,235.50 588.50,235.50" stroke="#000" stroke-width="1" fill="none" />
<text x="598.60" y="234.70" font-size="8" font-weight="bold" text-anchor="start" fill="#000" >Metformin</text>
<text transform="translate(8.4,512.6) rotate(-90)" font-size="9.3" font-weight="bold">Conc. [pg/ml]</text>
<line x1="16.50" y1="505.30" x2="16.50" y2="459.00" stroke="#000" stroke-width="1"/>
<polygon points="16.5,454.5 14.3,460.5 18.7,460.5" fill="#000"/>
<line x1="16.00" y1="505.30" x2="62.00" y2="505.30" stroke="#000" stroke-width="1"/>
<polygon points="66.5,505.3 60.5,503.1 60.5,507.5" fill="#000"/>
<text x="11.20" y="518.70" font-size="9.6" font-weight="bold" text-anchor="start" fill="#000" >Time [d]</text>
<text x="388.10" y="369.80" font-size="25" font-weight="bold" text-anchor="start" fill="#000" >B</text>
<text x="451.60" y="370.90" font-size="10.15" text-anchor="start" fill="#000" >Inhibition of cytokine release by Metformin</text>
<text transform="translate(427.8,503.6) rotate(-90)" font-size="10.3" font-weight="bold">% Inhibition by Metformin</text>
<line x1="450.70" y1="377.30" x2="450.70" y2="511.00" stroke="#000" stroke-width="1"/>
<line x1="448.20" y1="510.50" x2="450.70" y2="510.50" stroke="#000" stroke-width="1"/>
<text x="447.50" y="513.30" font-size="8" font-weight="bold" text-anchor="end" fill="#000" >-20</text>
<line x1="448.20" y1="488.30" x2="450.70" y2="488.30" stroke="#000" stroke-width="1"/>
<text x="447.50" y="491.10" font-size="8" font-weight="bold" text-anchor="end" fill="#000" >0</text>
<line x1="448.20" y1="466.10" x2="450.70" y2="466.10" stroke="#000" stroke-width="1"/>
<text x="447.50" y="468.90" font-size="8" font-weight="bold" text-anchor="end" fill="#000" >20</text>
<line x1="448.20" y1="443.90" x2="450.70" y2="443.90" stroke="#000" stroke-width="1"/>
<text x="447.50" y="446.70" font-size="8" font-weight="bold" text-anchor="end" fill="#000" >40</text>
<line x1="448.20" y1="421.70" x2="450.70" y2="421.70" stroke="#000" stroke-width="1"/>
<text x="447.50" y="424.50" font-size="8" font-weight="bold" text-anchor="end" fill="#000" >60</text>
<line x1="448.20" y1="399.50" x2="450.70" y2="399.50" stroke="#000" stroke-width="1"/>
<text x="447.50" y="402.30" font-size="8" font-weight="bold" text-anchor="end" fill="#000" >80</text>
<line x1="448.20" y1="377.30" x2="450.70" y2="377.30" stroke="#000" stroke-width="1"/>
<text x="447.50" y="380.10" font-size="8" font-weight="bold" text-anchor="end" fill="#000" >100</text>
<line x1="449.20" y1="499.40" x2="450.70" y2="499.40" stroke="#000" stroke-width="1"/>
<line x1="449.20" y1="477.20" x2="450.70" y2="477.20" stroke="#000" stroke-width="1"/>
<line x1="449.20" y1="455.00" x2="450.70" y2="455.00" stroke="#000" stroke-width="1"/>
<line x1="449.20" y1="432.80" x2="450.70" y2="432.80" stroke="#000" stroke-width="1"/>
<line x1="449.20" y1="410.60" x2="450.70" y2="410.60" stroke="#000" stroke-width="1"/>
<line x1="449.20" y1="388.40" x2="450.70" y2="388.40" stroke="#000" stroke-width="1"/>
<defs><linearGradient id="gb" x1="0" x2="1" y1="0" y2="0"><stop offset="0" stop-color="#a8a8a8"/><stop offset="0.5" stop-color="#e0e0e0"/><stop offset="1" stop-color="#b0b0b0"/></linearGradient></defs>
<rect x="455.20" y="398.39" width="3.5" height="89.91" fill="#000"/>
<rect x="459.10" y="407.27" width="3.2" height="81.03" fill="url(#gb)" stroke="#000" stroke-width="0.6"/>
<line x1="456.95" y1="398.39" x2="456.95" y2="397.50" stroke="#000" stroke-width="0.8"/>
<line x1="455.70" y1="397.50" x2="458.20" y2="397.50" stroke="#000" stroke-width="0.8"/>
<line x1="460.70" y1="407.27" x2="460.70" y2="406.38" stroke="#000" stroke-width="0.8"/>
<line x1="459.40" y1="406.38" x2="462.00" y2="406.38" stroke="#000" stroke-width="0.8"/>
<text transform="translate(461.20,509.6) rotate(-90)" font-size="8" font-weight="bold" text-anchor="end">CXCL8</text>
<rect x="463.53" y="423.37" width="3.5" height="64.94" fill="#000"/>
<rect x="467.43" y="458.33" width="3.2" height="29.97" fill="url(#gb)" stroke="#000" stroke-width="0.6"/>
<line x1="465.28" y1="423.37" x2="465.28" y2="422.48" stroke="#000" stroke-width="0.8"/>
<line x1="464.03" y1="422.48" x2="466.53" y2="422.48" stroke="#000" stroke-width="0.8"/>
<line x1="469.03" y1="458.33" x2="469.03" y2="455.00" stroke="#000" stroke-width="0.8"/>
<line x1="467.73" y1="455.00" x2="470.33" y2="455.00" stroke="#000" stroke-width="0.8"/>
<text transform="translate(469.53,509.6) rotate(-90)" font-size="8" font-weight="bold" text-anchor="end">CCL3</text>
<rect x="471.86" y="426.69" width="3.5" height="61.61" fill="#000"/>
<rect x="475.76" y="467.21" width="3.2" height="21.09" fill="url(#gb)" stroke="#000" stroke-width="0.6"/>
<line x1="473.61" y1="426.69" x2="473.61" y2="425.81" stroke="#000" stroke-width="0.8"/>
<line x1="472.36" y1="425.81" x2="474.86" y2="425.81" stroke="#000" stroke-width="0.8"/>
<line x1="477.36" y1="467.21" x2="477.36" y2="463.88" stroke="#000" stroke-width="0.8"/>
<line x1="476.06" y1="463.88" x2="478.66" y2="463.88" stroke="#000" stroke-width="0.8"/>
<text transform="translate(477.86,509.6) rotate(-90)" font-size="8" font-weight="bold" text-anchor="end">IL6</text>
<rect x="480.19" y="430.02" width="3.5" height="58.28" fill="#000"/>
<rect x="484.09" y="430.02" width="3.2" height="58.28" fill="url(#gb)" stroke="#000" stroke-width="0.6"/>
<line x1="481.94" y1="430.02" x2="481.94" y2="429.14" stroke="#000" stroke-width="0.8"/>
<line x1="480.69" y1="429.14" x2="483.19" y2="429.14" stroke="#000" stroke-width="0.8"/>
<line x1="485.69" y1="430.02" x2="485.69" y2="429.14" stroke="#000" stroke-width="0.8"/>
<line x1="484.39" y1="429.14" x2="486.99" y2="429.14" stroke="#000" stroke-width="0.8"/>
<text transform="translate(486.19,509.6) rotate(-90)" font-size="8" font-weight="bold" text-anchor="end">CXCL1</text>
<rect x="488.52" y="432.80" width="3.5" height="55.50" fill="#000"/>
<rect x="492.42" y="421.70" width="3.2" height="66.60" fill="url(#gb)" stroke="#000" stroke-width="0.6"/>
<line x1="490.27" y1="432.80" x2="490.27" y2="428.36" stroke="#000" stroke-width="0.8"/>
<line x1="489.02" y1="428.36" x2="491.52" y2="428.36" stroke="#000" stroke-width="0.8"/>
<line x1="494.02" y1="421.70" x2="494.02" y2="420.81" stroke="#000" stroke-width="0.8"/>
<line x1="492.72" y1="420.81" x2="495.32" y2="420.81" stroke="#000" stroke-width="0.8"/>
<text transform="translate(494.52,509.6) rotate(-90)" font-size="8" font-weight="bold" text-anchor="end">VEGFa</text>
<rect x="496.85" y="437.24" width="3.5" height="51.06" fill="#000"/>
<rect x="500.75" y="466.66" width="3.2" height="21.65" fill="url(#gb)" stroke="#000" stroke-width="0.6"/>
<line x1="498.60" y1="437.24" x2="498.60" y2="436.35" stroke="#000" stroke-width="0.8"/>
<line x1="497.35" y1="436.35" x2="499.85" y2="436.35" stroke="#000" stroke-width="0.8"/>
<line x1="502.35" y1="466.66" x2="502.35" y2="465.77" stroke="#000" stroke-width="0.8"/>
<line x1="501.05" y1="465.77" x2="503.65" y2="465.77" stroke="#000" stroke-width="0.8"/>
<text transform="translate(502.85,509.6) rotate(-90)" font-size="8" font-weight="bold" text-anchor="end">IL1b</text>
<rect x="505.18" y="438.91" width="3.5" height="49.40" fill="#000"/>
<rect x="509.08" y="433.36" width="3.2" height="54.95" fill="url(#gb)" stroke="#000" stroke-width="0.6"/>
<line x1="506.93" y1="438.91" x2="506.93" y2="436.69" stroke="#000" stroke-width="0.8"/>
<line x1="505.68" y1="436.69" x2="508.18" y2="436.69" stroke="#000" stroke-width="0.8"/>
<line x1="510.68" y1="433.36" x2="510.68" y2="432.25" stroke="#000" stroke-width="0.8"/>
<line x1="509.38" y1="432.25" x2="511.98" y2="432.25" stroke="#000" stroke-width="0.8"/>
<text transform="translate(511.18,509.6) rotate(-90)" font-size="8" font-weight="bold" text-anchor="end">tPA</text>
<rect x="513.51" y="440.57" width="3.5" height="47.73" fill="#000"/>
<rect x="517.41" y="435.57" width="3.2" height="52.73" fill="url(#gb)" stroke="#000" stroke-width="0.6"/>
<line x1="515.26" y1="440.57" x2="515.26" y2="438.35" stroke="#000" stroke-width="0.8"/>
<line x1="514.01" y1="438.35" x2="516.51" y2="438.35" stroke="#000" stroke-width="0.8"/>
<line x1="519.01" y1="435.57" x2="519.01" y2="433.36" stroke="#000" stroke-width="0.8"/>
<line x1="517.71" y1="433.36" x2="520.31" y2="433.36" stroke="#000" stroke-width="0.8"/>
<text transform="translate(519.51,509.6) rotate(-90)" font-size="8" font-weight="bold" text-anchor="end">CXCL10</text>
<rect x="521.84" y="443.35" width="3.5" height="44.96" fill="#000"/>
<rect x="525.74" y="466.66" width="3.2" height="21.65" fill="url(#gb)" stroke="#000" stroke-width="0.6"/>
<line x1="523.59" y1="443.35" x2="523.59" y2="441.12" stroke="#000" stroke-width="0.8"/>
<line x1="522.34" y1="441.12" x2="524.84" y2="441.12" stroke="#000" stroke-width="0.8"/>
<line x1="527.34" y1="466.66" x2="527.34" y2="465.77" stroke="#000" stroke-width="0.8"/>
<line x1="526.04" y1="465.77" x2="528.64" y2="465.77" stroke="#000" stroke-width="0.8"/>
<text transform="translate(527.84,509.6) rotate(-90)" font-size="8" font-weight="bold" text-anchor="end">GM-CSF</text>
<rect x="530.17" y="445.01" width="3.5" height="43.29" fill="#000"/>
<rect x="534.07" y="467.21" width="3.2" height="21.09" fill="url(#gb)" stroke="#000" stroke-width="0.6"/>
<line x1="531.92" y1="445.01" x2="531.92" y2="442.79" stroke="#000" stroke-width="0.8"/>
<line x1="530.67" y1="442.79" x2="533.17" y2="442.79" stroke="#000" stroke-width="0.8"/>
<line x1="535.67" y1="467.21" x2="535.67" y2="466.32" stroke="#000" stroke-width="0.8"/>
<line x1="534.37" y1="466.32" x2="536.97" y2="466.32" stroke="#000" stroke-width="0.8"/>
<text transform="translate(536.17,509.6) rotate(-90)" font-size="8" font-weight="bold" text-anchor="end">IL1a</text>
<rect x="538.50" y="451.12" width="3.5" height="37.19" fill="#000"/>
<rect x="542.40" y="474.98" width="3.2" height="13.32" fill="url(#gb)" stroke="#000" stroke-width="0.6"/>
<line x1="540.25" y1="451.12" x2="540.25" y2="450.23" stroke="#000" stroke-width="0.8"/>
<line x1="539.00" y1="450.23" x2="541.50" y2="450.23" stroke="#000" stroke-width="0.8"/>
<line x1="544.00" y1="474.98" x2="544.00" y2="474.09" stroke="#000" stroke-width="0.8"/>
<line x1="542.70" y1="474.09" x2="545.30" y2="474.09" stroke="#000" stroke-width="0.8"/>
<text transform="translate(544.50,509.6) rotate(-90)" font-size="8" font-weight="bold" text-anchor="end">CXCL11</text>
<rect x="546.83" y="463.32" width="3.5" height="24.98" fill="#000"/>
<rect x="550.73" y="460.00" width="3.2" height="28.31" fill="url(#gb)" stroke="#000" stroke-width="0.6"/>
<line x1="548.58" y1="463.32" x2="548.58" y2="458.88" stroke="#000" stroke-width="0.8"/>
<line x1="547.33" y1="458.88" x2="549.83" y2="458.88" stroke="#000" stroke-width="0.8"/>
<line x1="552.33" y1="460.00" x2="552.33" y2="451.12" stroke="#000" stroke-width="0.8"/>
<line x1="551.03" y1="451.12" x2="553.63" y2="451.12" stroke="#000" stroke-width="0.8"/>
<text transform="translate(552.83,509.6) rotate(-90)" font-size="8" font-weight="bold" text-anchor="end">CXCL5</text>
<rect x="555.16" y="464.99" width="3.5" height="23.31" fill="#000"/>
<rect x="559.06" y="452.78" width="3.2" height="35.52" fill="url(#gb)" stroke="#000" stroke-width="0.6"/>
<line x1="556.91" y1="464.99" x2="556.91" y2="459.44" stroke="#000" stroke-width="0.8"/>
<line x1="555.66" y1="459.44" x2="558.16" y2="459.44" stroke="#000" stroke-width="0.8"/>
<line x1="560.66" y1="452.78" x2="560.66" y2="449.45" stroke="#000" stroke-width="0.8"/>
<line x1="559.36" y1="449.45" x2="561.96" y2="449.45" stroke="#000" stroke-width="0.8"/>
<text transform="translate(561.16,509.6) rotate(-90)" font-size="8" font-weight="bold" text-anchor="end">CXCL12</text>
<rect x="563.49" y="466.10" width="3.5" height="22.20" fill="#000"/>
<rect x="567.39" y="488.30" width="3.2" height="12.21" fill="url(#gb)" stroke="#000" stroke-width="0.6"/>
<line x1="565.24" y1="466.10" x2="565.24" y2="462.77" stroke="#000" stroke-width="0.8"/>
<line x1="563.99" y1="462.77" x2="566.49" y2="462.77" stroke="#000" stroke-width="0.8"/>
<line x1="568.99" y1="500.51" x2="568.99" y2="509.94" stroke="#000" stroke-width="0.8"/>
<line x1="567.69" y1="509.94" x2="570.29" y2="509.94" stroke="#000" stroke-width="0.8"/>
<text transform="translate(569.49,509.6) rotate(-90)" font-size="8" font-weight="bold" text-anchor="end">MIF</text>
<rect x="571.82" y="467.76" width="3.5" height="20.54" fill="#000"/>
<rect x="575.72" y="466.10" width="3.2" height="22.20" fill="url(#gb)" stroke="#000" stroke-width="0.6"/>
<line x1="573.57" y1="467.76" x2="573.57" y2="464.44" stroke="#000" stroke-width="0.8"/>
<line x1="572.32" y1="464.44" x2="574.82" y2="464.44" stroke="#000" stroke-width="0.8"/>
<line x1="577.32" y1="466.10" x2="577.32" y2="463.88" stroke="#000" stroke-width="0.8"/>
<line x1="576.02" y1="463.88" x2="578.62" y2="463.88" stroke="#000" stroke-width="0.8"/>
<text transform="translate(577.82,509.6) rotate(-90)" font-size="8" font-weight="bold" text-anchor="end">TNF</text>
<rect x="580.15" y="469.99" width="3.5" height="18.32" fill="#000"/>
<rect x="584.05" y="460.55" width="3.2" height="27.75" fill="url(#gb)" stroke="#000" stroke-width="0.6"/>
<line x1="581.90" y1="469.99" x2="581.90" y2="462.22" stroke="#000" stroke-width="0.8"/>
<line x1="580.65" y1="462.22" x2="583.15" y2="462.22" stroke="#000" stroke-width="0.8"/>
<line x1="585.65" y1="460.55" x2="585.65" y2="459.44" stroke="#000" stroke-width="0.8"/>
<line x1="584.35" y1="459.44" x2="586.95" y2="459.44" stroke="#000" stroke-width="0.8"/>
<text transform="translate(586.15,509.6) rotate(-90)" font-size="8" font-weight="bold" text-anchor="end">CCL4</text>
<rect x="588.48" y="471.10" width="3.5" height="17.21" fill="#000"/>
<rect x="592.38" y="467.21" width="3.2" height="21.09" fill="url(#gb)" stroke="#000" stroke-width="0.6"/>
<line x1="590.23" y1="471.10" x2="590.23" y2="470.21" stroke="#000" stroke-width="0.8"/>
<line x1="588.98" y1="470.21" x2="591.48" y2="470.21" stroke="#000" stroke-width="0.8"/>
<line x1="593.98" y1="467.21" x2="593.98" y2="463.88" stroke="#000" stroke-width="0.8"/>
<line x1="592.68" y1="463.88" x2="595.28" y2="463.88" stroke="#000" stroke-width="0.8"/>
<text transform="translate(594.48,509.6) rotate(-90)" font-size="8" font-weight="bold" text-anchor="end">CCL5</text>
<rect x="596.81" y="472.20" width="3.5" height="16.10" fill="#000"/>
<rect x="600.71" y="436.13" width="3.2" height="52.17" fill="url(#gb)" stroke="#000" stroke-width="0.6"/>
<line x1="598.56" y1="472.20" x2="598.56" y2="468.88" stroke="#000" stroke-width="0.8"/>
<line x1="597.31" y1="468.88" x2="599.81" y2="468.88" stroke="#000" stroke-width="0.8"/>
<line x1="602.31" y1="436.13" x2="602.31" y2="435.24" stroke="#000" stroke-width="0.8"/>
<line x1="601.01" y1="435.24" x2="603.61" y2="435.24" stroke="#000" stroke-width="0.8"/>
<text transform="translate(602.81,509.6) rotate(-90)" font-size="8" font-weight="bold" text-anchor="end">CXCL9</text>
<rect x="605.14" y="474.98" width="3.5" height="13.32" fill="#000"/>
<rect x="609.04" y="475.54" width="3.2" height="12.77" fill="url(#gb)" stroke="#000" stroke-width="0.6"/>
<line x1="606.89" y1="474.98" x2="606.89" y2="473.87" stroke="#000" stroke-width="0.8"/>
<line x1="605.64" y1="473.87" x2="608.14" y2="473.87" stroke="#000" stroke-width="0.8"/>
<line x1="610.64" y1="475.54" x2="610.64" y2="472.20" stroke="#000" stroke-width="0.8"/>
<line x1="609.34" y1="472.20" x2="611.94" y2="472.20" stroke="#000" stroke-width="0.8"/>
<text transform="translate(611.14,509.6) rotate(-90)" font-size="8" font-weight="bold" text-anchor="end">CCL2</text>
<rect x="613.47" y="477.75" width="3.5" height="10.55" fill="#000"/>
<rect x="617.37" y="478.31" width="3.2" height="9.99" fill="url(#gb)" stroke="#000" stroke-width="0.6"/>
<line x1="615.22" y1="477.75" x2="615.22" y2="476.64" stroke="#000" stroke-width="0.8"/>
<line x1="613.97" y1="476.64" x2="616.47" y2="476.64" stroke="#000" stroke-width="0.8"/>
<line x1="618.97" y1="478.31" x2="618.97" y2="477.42" stroke="#000" stroke-width="0.8"/>
<line x1="617.67" y1="477.42" x2="620.27" y2="477.42" stroke="#000" stroke-width="0.8"/>
<text transform="translate(619.47,509.6) rotate(-90)" font-size="8" font-weight="bold" text-anchor="end">PAI1</text>
<rect x="621.80" y="480.53" width="3.5" height="7.77" fill="#000"/>
<rect x="625.70" y="479.42" width="3.2" height="8.88" fill="url(#gb)" stroke="#000" stroke-width="0.6"/>
<line x1="623.55" y1="480.53" x2="623.55" y2="479.64" stroke="#000" stroke-width="0.8"/>
<line x1="622.30" y1="479.64" x2="624.80" y2="479.64" stroke="#000" stroke-width="0.8"/>
<line x1="627.30" y1="479.42" x2="627.30" y2="478.31" stroke="#000" stroke-width="0.8"/>
<line x1="626.00" y1="478.31" x2="628.60" y2="478.31" stroke="#000" stroke-width="0.8"/>
<text transform="translate(627.80,509.6) rotate(-90)" font-size="8" font-weight="bold" text-anchor="end">EGF</text>
<rect x="630.13" y="482.19" width="3.5" height="6.11" fill="#000"/>
<rect x="634.03" y="473.87" width="3.2" height="14.43" fill="url(#gb)" stroke="#000" stroke-width="0.6"/>
<line x1="631.88" y1="482.19" x2="631.88" y2="481.31" stroke="#000" stroke-width="0.8"/>
<line x1="630.63" y1="481.31" x2="633.13" y2="481.31" stroke="#000" stroke-width="0.8"/>
<line x1="635.63" y1="473.87" x2="635.63" y2="471.65" stroke="#000" stroke-width="0.8"/>
<line x1="634.33" y1="471.65" x2="636.93" y2="471.65" stroke="#000" stroke-width="0.8"/>
<text transform="translate(636.13,509.6) rotate(-90)" font-size="8" font-weight="bold" text-anchor="end">CCL7</text>
<line x1="450.20" y1="488.30" x2="640.60" y2="488.30" stroke="#000" stroke-width="1"/>
<rect x="459.4" y="378.3" width="3.9" height="4.1" fill="#000"/>
<text x="467.40" y="382.60" font-size="6.5" font-weight="bold" text-anchor="start" fill="#000" >10 Gy</text>
<rect x="459.6" y="384.5" width="3.6" height="3.9" fill="#d0d0d0" stroke="#000" stroke-width="0.6"/>
<text x="467.40" y="389.20" font-size="6.5" font-weight="bold" text-anchor="start" fill="#000" >0 Gy</text>
<text x="2.60" y="545.80" font-size="25" font-weight="bold" text-anchor="start" fill="#000" >C</text>
<text x="31.8" y="554.6" font-size="10.2">Tumor growth <tspan font-style="italic">in vivo</tspan></text>
<polygon points="31.50,567.90 37.30,567.90 34.40,575.90" fill="#e00000" stroke="#300" stroke-width="0.6"/>
<polygon points="41.66,567.90 47.46,567.90 44.56,575.90" fill="#e00000" stroke="#300" stroke-width="0.6"/>
<polygon points="51.81,567.90 57.61,567.90 54.71,575.90" fill="#e00000" stroke="#300" stroke-width="0.6"/>
<polygon points="61.97,567.90 67.77,567.90 64.87,575.90" fill="#e00000" stroke="#300" stroke-width="0.6"/>
<polygon points="72.13,567.90 77.93,567.90 75.03,575.90" fill="#e00000" stroke="#300" stroke-width="0.6"/>
<polygon points="102.60,567.90 108.40,567.90 105.50,575.90" fill="#e00000" stroke="#300" stroke-width="0.6"/>
<polygon points="112.76,567.90 118.56,567.90 115.66,575.90" fill="#e00000" stroke="#300" stroke-width="0.6"/>
<polygon points="122.91,567.90 128.71,567.90 125.81,575.90" fill="#e00000" stroke="#300" stroke-width="0.6"/>
<polygon points="133.07,567.90 138.87,567.90 135.97,575.90" fill="#e00000" stroke="#300" stroke-width="0.6"/>
<polygon points="143.23,567.90 149.03,567.90 146.13,575.90" fill="#e00000" stroke="#300" stroke-width="0.6"/>
<polygon points="173.70,567.90 179.50,567.90 176.60,575.90" fill="#e00000" stroke="#300" stroke-width="0.6"/>
<polygon points="183.85,567.90 189.66,567.90 186.75,575.90" fill="#e00000" stroke="#300" stroke-width="0.6"/>
<polygon points="194.01,567.90 199.81,567.90 196.91,575.90" fill="#e00000" stroke="#300" stroke-width="0.6"/>
<polygon points="204.17,567.90 209.97,567.90 207.07,575.90" fill="#e00000" stroke="#300" stroke-width="0.6"/>
<polygon points="214.33,567.90 220.13,567.90 217.23,575.90" fill="#e00000" stroke="#300" stroke-width="0.6"/>
<polygon points="244.80,567.90 250.60,567.90 247.70,575.90" fill="#e00000" stroke="#300" stroke-width="0.6"/>
<polygon points="31.50,579.4 37.30,579.4 34.40,588" fill="#22dd22" stroke="#030" stroke-width="0.6"/>
<polygon points="34.40,745.46 44.56,746.51 54.71,742.14 64.87,736.04 75.03,722.25 85.19,720.16 95.34,718.59 105.50,716.49 115.66,696.08 125.81,696.08 135.97,681.07 146.13,678.28 156.28,663.62 166.44,650.71 176.60,636.57 186.75,654.89 196.91,642.68 207.07,642.68 207.07,724.69 196.91,726.44 186.75,728.18 176.60,729.93 166.44,733.42 156.28,736.91 146.13,740.40 135.97,743.89 125.81,747.38 115.66,749.12 105.50,752.62 95.34,754.36 85.19,755.23 75.03,756.10 64.87,756.98 54.71,757.85 44.56,758.72 34.40,757.85" fill="#ebebeb" stroke="none"/>
<polygon points="34.40,740.92 44.56,741.97 54.71,736.04 64.87,737.08 75.03,735.34 85.19,732.37 95.34,728.01 105.50,722.95 115.66,707.77 125.81,704.80 135.97,693.28 146.13,693.28 156.28,686.65 166.44,677.23 176.60,663.97 186.75,659.26 196.91,635.53 207.07,605.16 207.07,736.56 196.91,736.56 186.75,736.56 176.60,736.56 166.44,737.78 156.28,740.40 146.13,743.89 135.97,749.12 125.81,754.36 115.66,757.85 105.50,760.47 95.34,761.34 85.19,761.34 75.03,761.34 64.87,761.17 54.71,760.82 44.56,761.51 34.40,759.25" fill="rgba(246,206,206,0.8)" stroke="none"/>
<polygon points="34.40,749.12 44.56,747.38 54.71,744.76 64.87,743.02 75.03,741.27 85.19,739.53 95.34,738.65 105.50,737.78 115.66,737.78 125.81,736.91 135.97,735.16 146.13,733.94 156.28,731.85 166.44,728.36 176.60,724.52 186.75,719.81 196.91,718.59 207.07,717.19 217.23,713.70 227.38,699.39 237.54,684.04 247.70,672.34 247.70,759.42 237.54,758.72 227.38,758.37 217.23,752.62 207.07,752.62 196.91,752.27 186.75,754.36 176.60,756.45 166.44,756.98 156.28,756.98 146.13,757.85 135.97,758.72 125.81,759.25 115.66,759.59 105.50,759.59 95.34,759.94 85.19,759.94 75.03,760.47 64.87,760.47 54.71,760.47 44.56,760.47 34.40,760.12" fill="rgba(209,249,209,0.8)" stroke="none"/>
<polygon points="34.40,748.43 44.56,746.16 54.71,742.67 64.87,740.92 75.03,739.00 85.19,737.43 95.34,736.74 105.50,735.34 115.66,737.43 125.81,736.74 135.97,733.94 146.13,736.21 156.28,736.56 166.44,736.91 176.60,736.56 186.75,739.00 196.91,737.78 207.07,736.91 217.23,733.94 227.38,729.06 237.54,723.82 247.70,707.07 247.70,774.43 237.54,770.41 227.38,771.11 217.23,762.21 207.07,759.59 196.91,754.36 186.75,756.10 176.60,756.98 166.44,758.72 156.28,759.59 146.13,760.47 135.97,762.39 125.81,765.18 115.66,762.91 105.50,765.18 95.34,762.91 85.19,763.61 75.03,764.48 64.87,761.51 54.71,761.51 44.56,761.51 34.40,760.12" fill="rgba(211,211,251,0.8)" stroke="none"/>
<polyline points="34.40,754.19 44.56,753.66 54.71,751.92 64.87,751.22 75.03,750.70 85.19,750.35 95.34,750.00 105.50,749.65 115.66,748.60 125.81,751.22 135.97,747.90 146.13,749.12 156.28,748.78 166.44,748.25 176.60,747.73 186.75,746.33 196.91,747.38 207.07,747.73 217.23,748.25 227.38,750.52 237.54,747.73 247.70,742.84" stroke="#2222ff" stroke-width="1.1" fill="none" />
<polyline points="34.40,752.79 44.56,751.22 54.71,750.35 64.87,750.00 75.03,750.00 85.19,750.00 95.34,750.00 105.50,750.17 115.66,751.22 125.81,754.19 135.97,748.60 146.13,748.78 156.28,747.38 166.44,745.46 176.60,742.49 186.75,739.35 196.91,735.86 207.07,736.21 217.23,733.07 227.38,728.01 237.54,718.94 247.70,715.97" stroke="#22dd22" stroke-width="1.1" fill="none" />
<polyline points="34.40,751.39 44.56,751.92 54.71,748.60 64.87,746.51 75.03,744.41 85.19,742.14 95.34,740.05 105.50,737.96 115.66,729.23 125.81,728.88 135.97,722.60 146.13,718.59 156.28,710.21 166.44,701.84 176.60,693.63 186.75,694.68 196.91,687.70 207.07,680.72" stroke="#000" stroke-width="1" fill="none" />
<polyline points="34.40,749.82 44.56,751.04 54.71,748.25 64.87,749.12 75.03,749.12 85.19,745.29 95.34,741.45 105.50,737.78 115.66,724.87 125.81,722.60 135.97,715.10 146.13,718.94 156.28,713.35 166.44,707.59 176.60,701.84 186.75,696.25 196.91,679.15 207.07,667.46" stroke="#ff1010" stroke-width="1.1" fill="none" />
<line x1="34.40" y1="597.20" x2="34.40" y2="778.90" stroke="#000" stroke-width="1"/>
<line x1="33.90" y1="775.30" x2="248.20" y2="775.30" stroke="#000" stroke-width="1"/>
<line x1="33.90" y1="600.80" x2="248.20" y2="600.80" stroke="#333" stroke-width="0.9"/>
<line x1="34.40" y1="775.30" x2="34.40" y2="778.90" stroke="#000" stroke-width="1"/>
<line x1="34.40" y1="600.80" x2="34.40" y2="597.20" stroke="#000" stroke-width="1"/>
<line x1="44.56" y1="775.30" x2="44.56" y2="776.90" stroke="#000" stroke-width="1"/>
<line x1="44.56" y1="600.80" x2="44.56" y2="599.20" stroke="#000" stroke-width="1"/>
<line x1="54.71" y1="775.30" x2="54.71" y2="776.90" stroke="#000" stroke-width="1"/>
<line x1="54.71" y1="600.80" x2="54.71" y2="599.20" stroke="#000" stroke-width="1"/>
<line x1="64.87" y1="775.30" x2="64.87" y2="776.90" stroke="#000" stroke-width="1"/>
<line x1="64.87" y1="600.80" x2="64.87" y2="599.20" stroke="#000" stroke-width="1"/>
<line x1="75.03" y1="775.30" x2="75.03" y2="776.90" stroke="#000" stroke-width="1"/>
<line x1="75.03" y1="600.80" x2="75.03" y2="599.20" stroke="#000" stroke-width="1"/>
<line x1="85.19" y1="775.30" x2="85.19" y2="776.90" stroke="#000" stroke-width="1"/>
<line x1="85.19" y1="600.80" x2="85.19" y2="599.20" stroke="#000" stroke-width="1"/>
<line x1="95.34" y1="775.30" x2="95.34" y2="776.90" stroke="#000" stroke-width="1"/>
<line x1="95.34" y1="600.80" x2="95.34" y2="599.20" stroke="#000" stroke-width="1"/>
<line x1="105.50" y1="775.30" x2="105.50" y2="778.90" stroke="#000" stroke-width="1"/>
<line x1="105.50" y1="600.80" x2="105.50" y2="597.20" stroke="#000" stroke-width="1"/>
<line x1="115.66" y1="775.30" x2="115.66" y2="776.90" stroke="#000" stroke-width="1"/>
<line x1="115.66" y1="600.80" x2="115.66" y2="599.20" stroke="#000" stroke-width="1"/>
<line x1="125.81" y1="775.30" x2="125.81" y2="776.90" stroke="#000" stroke-width="1"/>
<line x1="125.81" y1="600.80" x2="125.81" y2="599.20" stroke="#000" stroke-width="1"/>
<line x1="135.97" y1="775.30" x2="135.97" y2="776.90" stroke="#000" stroke-width="1"/>
<line x1="135.97" y1="600.80" x2="135.97" y2="599.20" stroke="#000" stroke-width="1"/>
<line x1="146.13" y1="775.30" x2="146.13" y2="776.90" stroke="#000" stroke-width="1"/>
<line x1="146.13" y1="600.80" x2="146.13" y2="599.20" stroke="#000" stroke-width="1"/>
<line x1="156.28" y1="775.30" x2="156.28" y2="776.90" stroke="#000" stroke-width="1"/>
<line x1="156.28" y1="600.80" x2="156.28" y2="599.20" stroke="#000" stroke-width="1"/>
<line x1="166.44" y1="775.30" x2="166.44" y2="776.90" stroke="#000" stroke-width="1"/>
<line x1="166.44" y1="600.80" x2="166.44" y2="599.20" stroke="#000" stroke-width="1"/>
<line x1="176.60" y1="775.30" x2="176.60" y2="778.90" stroke="#000" stroke-width="1"/>
<line x1="176.60" y1="600.80" x2="176.60" y2="597.20" stroke="#000" stroke-width="1"/>
<line x1="186.75" y1="775.30" x2="186.75" y2="776.90" stroke="#000" stroke-width="1"/>
<line x1="186.75" y1="600.80" x2="186.75" y2="599.20" stroke="#000" stroke-width="1"/>
<line x1="196.91" y1="775.30" x2="196.91" y2="776.90" stroke="#000" stroke-width="1"/>
<line x1="196.91" y1="600.80" x2="196.91" y2="599.20" stroke="#000" stroke-width="1"/>
<line x1="207.07" y1="775.30" x2="207.07" y2="776.90" stroke="#000" stroke-width="1"/>
<line x1="207.07" y1="600.80" x2="207.07" y2="599.20" stroke="#000" stroke-width="1"/>
<line x1="217.23" y1="775.30" x2="217.23" y2="776.90" stroke="#000" stroke-width="1"/>
<line x1="217.23" y1="600.80" x2="217.23" y2="599.20" stroke="#000" stroke-width="1"/>
<line x1="227.38" y1="775.30" x2="227.38" y2="776.90" stroke="#000" stroke-width="1"/>
<line x1="227.38" y1="600.80" x2="227.38" y2="599.20" stroke="#000" stroke-width="1"/>
<line x1="237.54" y1="775.30" x2="237.54" y2="776.90" stroke="#000" stroke-width="1"/>
<line x1="237.54" y1="600.80" x2="237.54" y2="599.20" stroke="#000" stroke-width="1"/>
<line x1="247.70" y1="775.30" x2="247.70" y2="778.90" stroke="#000" stroke-width="1"/>
<line x1="247.70" y1="600.80" x2="247.70" y2="597.20" stroke="#000" stroke-width="1"/>
<text x="34.40" y="787.40" font-size="8" font-weight="bold" text-anchor="middle" fill="#000" >0</text>
<text x="105.50" y="787.40" font-size="8" font-weight="bold" text-anchor="middle" fill="#000" >7</text>
<text x="176.60" y="787.40" font-size="8" font-weight="bold" text-anchor="middle" fill="#000" >14</text>
<text x="247.70" y="787.40" font-size="8" font-weight="bold" text-anchor="middle" fill="#000" >21</text>
<line x1="31.60" y1="775.30" x2="34.40" y2="775.30" stroke="#000" stroke-width="1"/>
<text x="30.80" y="778.10" font-size="8" font-weight="bold" text-anchor="end" fill="#000" >0</text>
<line x1="32.80" y1="757.85" x2="34.40" y2="757.85" stroke="#000" stroke-width="1"/>
<line x1="31.60" y1="740.40" x2="34.40" y2="740.40" stroke="#000" stroke-width="1"/>
<text x="30.80" y="743.20" font-size="8" font-weight="bold" text-anchor="end" fill="#000" >200</text>
<line x1="32.80" y1="722.95" x2="34.40" y2="722.95" stroke="#000" stroke-width="1"/>
<line x1="31.60" y1="705.50" x2="34.40" y2="705.50" stroke="#000" stroke-width="1"/>
<text x="30.80" y="708.30" font-size="8" font-weight="bold" text-anchor="end" fill="#000" >400</text>
<line x1="32.80" y1="688.05" x2="34.40" y2="688.05" stroke="#000" stroke-width="1"/>
<line x1="31.60" y1="670.60" x2="34.40" y2="670.60" stroke="#000" stroke-width="1"/>
<text x="30.80" y="673.40" font-size="8" font-weight="bold" text-anchor="end" fill="#000" >600</text>
<line x1="32.80" y1="653.15" x2="34.40" y2="653.15" stroke="#000" stroke-width="1"/>
<line x1="31.60" y1="635.70" x2="34.40" y2="635.70" stroke="#000" stroke-width="1"/>
<text x="30.80" y="638.50" font-size="8" font-weight="bold" text-anchor="end" fill="#000" >800</text>
<line x1="32.80" y1="618.25" x2="34.40" y2="618.25" stroke="#000" stroke-width="1"/>
<line x1="31.60" y1="600.80" x2="34.40" y2="600.80" stroke="#000" stroke-width="1"/>
<text x="30.80" y="603.60" font-size="8" font-weight="bold" text-anchor="end" fill="#000" >1000</text>
<text x="140.40" y="801.50" font-size="10" font-weight="bold" text-anchor="middle" fill="#000" >Time [d]</text>
<text transform="translate(8.5,736) rotate(-90)" font-size="9.9" font-weight="bold">Tumor volume [mm<tspan font-size="6" dy="-3.5">3</tspan><tspan dy="3.5">]</tspan></text>
<line x1="43.00" y1="612.90" x2="52.80" y2="612.90" stroke="#000" stroke-width="1.2"/>
<text x="55.70" y="615.80" font-size="8" font-weight="bold" text-anchor="start" fill="#000" >Vehicle (n=5)</text>
<line x1="43.00" y1="623.35" x2="52.80" y2="623.35" stroke="#ff1010" stroke-width="1.2"/>
<text x="55.70" y="626.25" font-size="8" font-weight="bold" text-anchor="start" fill="#000" >Metformin (n=6)</text>
<line x1="43.00" y1="633.80" x2="52.80" y2="633.80" stroke="#22dd22" stroke-width="1.2"/>
<text x="55.70" y="636.70" font-size="8" font-weight="bold" text-anchor="start" fill="#000" >RTX (n=5)</text>
<line x1="43.00" y1="644.25" x2="52.80" y2="644.25" stroke="#2222ff" stroke-width="1.2"/>
<text x="55.70" y="647.15" font-size="8" font-weight="bold" text-anchor="start" fill="#000" >RTX + Metformin (n=5)</text>
<text x="149.60" y="615.50" font-size="8.3" text-anchor="middle" fill="#111" >A</text>
<text x="149.60" y="626.20" font-size="8.3" text-anchor="middle" fill="#111" >A</text>
<text x="157.50" y="636.70" font-size="8.3" text-anchor="middle" fill="#111" >B</text>
<text x="165.00" y="647.00" font-size="8.3" text-anchor="middle" fill="#111" >C</text>
<polyline points="169.10,612.50 174.20,612.50 174.20,643.30 169.10,643.30" stroke="#222" stroke-width="0.85" fill="none" />
<polyline points="176.50,612.50 181.40,612.50 181.40,632.50 176.50,632.50" stroke="#222" stroke-width="0.85" fill="none" />
<polyline points="184.20,612.50 188.50,612.50 188.50,622.80 184.20,622.80" stroke="#222" stroke-width="0.85" fill="none" />
<polyline points="225.40,632.40 229.80,632.40 229.80,642.20 225.40,642.20" stroke="#222" stroke-width="0.85" fill="none" />
<text x="190.80" y="618.30" font-size="6.0" text-anchor="start" fill="#222" >p adj.= 0.418</text>
<text x="183.90" y="628.70" font-size="6.0" text-anchor="start" fill="#222" >p adj.= 0.030</text>
<text x="176.7" y="639.3" font-size="6.0" fill="#222">p adj.= 3.9 x 10<tspan font-size="4" dy="-2.5">-7</tspan></text>
<text x="231.3" y="639.6" font-size="6.0" fill="#222">p adj.= 2.3 x 10<tspan font-size="4" dy="-2.5">-10</tspan></text>
<text x="296.10" y="545.90" font-size="25" font-weight="bold" text-anchor="start" fill="#000" >D</text>
<text x="329.2" y="556.8" font-size="10.2">Time to tumor volume &gt; 200 mm<tspan font-size="6" dy="-4">3</tspan></text>
<polygon points="329.40,569.90 335.40,569.90 332.40,578.40" fill="#e00000" stroke="#300" stroke-width="0.6"/>
<polygon points="336.99,569.90 342.99,569.90 339.99,578.40" fill="#e00000" stroke="#300" stroke-width="0.6"/>
<polygon points="344.58,569.90 350.58,569.90 347.58,578.40" fill="#e00000" stroke="#300" stroke-width="0.6"/>
<polygon points="352.17,569.90 358.17,569.90 355.17,578.40" fill="#e00000" stroke="#300" stroke-width="0.6"/>
<polygon points="359.76,569.90 365.76,569.90 362.76,578.40" fill="#e00000" stroke="#300" stroke-width="0.6"/>
<polygon points="382.52,569.90 388.52,569.90 385.52,578.40" fill="#e00000" stroke="#300" stroke-width="0.6"/>
<polygon points="390.11,569.90 396.11,569.90 393.11,578.40" fill="#e00000" stroke="#300" stroke-width="0.6"/>
<polygon points="397.70,569.90 403.70,569.90 400.70,578.40" fill="#e00000" stroke="#300" stroke-width="0.6"/>
<polygon points="405.29,569.90 411.29,569.90 408.29,578.40" fill="#e00000" stroke="#300" stroke-width="0.6"/>
<polygon points="412.88,569.90 418.88,569.90 415.88,578.40" fill="#e00000" stroke="#300" stroke-width="0.6"/>
<polygon points="435.65,569.90 441.65,569.90 438.65,578.40" fill="#e00000" stroke="#300" stroke-width="0.6"/>
<polygon points="443.24,569.90 449.24,569.90 446.24,578.40" fill="#e00000" stroke="#300" stroke-width="0.6"/>
<polygon points="450.82,569.90 456.82,569.90 453.82,578.40" fill="#e00000" stroke="#300" stroke-width="0.6"/>
<polygon points="458.41,569.90 464.41,569.90 461.41,578.40" fill="#e00000" stroke="#300" stroke-width="0.6"/>
<polygon points="466.00,569.90 472.00,569.90 469.00,578.40" fill="#e00000" stroke="#300" stroke-width="0.6"/>
<polygon points="488.77,569.90 494.77,569.90 491.77,578.40" fill="#e00000" stroke="#300" stroke-width="0.6"/>
<polygon points="496.36,569.90 502.36,569.90 499.36,578.40" fill="#e00000" stroke="#300" stroke-width="0.6"/>
<polygon points="503.95,569.90 509.95,569.90 506.95,578.40" fill="#e00000" stroke="#300" stroke-width="0.6"/>
<polygon points="511.54,569.90 517.54,569.90 514.54,578.40" fill="#e00000" stroke="#300" stroke-width="0.6"/>
<polygon points="519.12,569.90 525.12,569.90 522.12,578.40" fill="#e00000" stroke="#300" stroke-width="0.6"/>
<polygon points="329.40,581 335.40,581 332.40,589.8" fill="#22dd22" stroke="#030" stroke-width="0.6"/>
<text x="553.50" y="575.70" font-size="8.15" font-weight="bold" text-anchor="start" fill="#000" >Metformin: daily 250 µg/g BW</text>
<text x="553.50" y="586.10" font-size="8.15" font-weight="bold" text-anchor="start" fill="#000" >RTX: 1x 10 Gy</text>
<line x1="332.40" y1="598.70" x2="332.40" y2="780.30" stroke="#000" stroke-width="1"/>
<line x1="331.90" y1="776.70" x2="545.39" y2="776.70" stroke="#000" stroke-width="1"/>
<line x1="331.90" y1="602.30" x2="545.39" y2="602.30" stroke="#333" stroke-width="0.9"/>
<line x1="332.40" y1="776.70" x2="332.40" y2="780.30" stroke="#000" stroke-width="1"/>
<line x1="332.40" y1="602.30" x2="332.40" y2="598.70" stroke="#000" stroke-width="1"/>
<line x1="339.99" y1="776.70" x2="339.99" y2="778.50" stroke="#000" stroke-width="1"/>
<line x1="339.99" y1="602.30" x2="339.99" y2="600.50" stroke="#000" stroke-width="1"/>
<line x1="347.58" y1="776.70" x2="347.58" y2="778.50" stroke="#000" stroke-width="1"/>
<line x1="347.58" y1="602.30" x2="347.58" y2="600.50" stroke="#000" stroke-width="1"/>
<line x1="355.17" y1="776.70" x2="355.17" y2="778.50" stroke="#000" stroke-width="1"/>
<line x1="355.17" y1="602.30" x2="355.17" y2="600.50" stroke="#000" stroke-width="1"/>
<line x1="362.76" y1="776.70" x2="362.76" y2="778.50" stroke="#000" stroke-width="1"/>
<line x1="362.76" y1="602.30" x2="362.76" y2="600.50" stroke="#000" stroke-width="1"/>
<line x1="370.34" y1="776.70" x2="370.34" y2="778.50" stroke="#000" stroke-width="1"/>
<line x1="370.34" y1="602.30" x2="370.34" y2="600.50" stroke="#000" stroke-width="1"/>
<line x1="377.93" y1="776.70" x2="377.93" y2="778.50" stroke="#000" stroke-width="1"/>
<line x1="377.93" y1="602.30" x2="377.93" y2="600.50" stroke="#000" stroke-width="1"/>
<line x1="385.52" y1="776.70" x2="385.52" y2="780.30" stroke="#000" stroke-width="1"/>
<line x1="385.52" y1="602.30" x2="385.52" y2="598.70" stroke="#000" stroke-width="1"/>
<line x1="393.11" y1="776.70" x2="393.11" y2="778.50" stroke="#000" stroke-width="1"/>
<line x1="393.11" y1="602.30" x2="393.11" y2="600.50" stroke="#000" stroke-width="1"/>
<line x1="400.70" y1="776.70" x2="400.70" y2="778.50" stroke="#000" stroke-width="1"/>
<line x1="400.70" y1="602.30" x2="400.70" y2="600.50" stroke="#000" stroke-width="1"/>
<line x1="408.29" y1="776.70" x2="408.29" y2="778.50" stroke="#000" stroke-width="1"/>
<line x1="408.29" y1="602.30" x2="408.29" y2="600.50" stroke="#000" stroke-width="1"/>
<line x1="415.88" y1="776.70" x2="415.88" y2="778.50" stroke="#000" stroke-width="1"/>
<line x1="415.88" y1="602.30" x2="415.88" y2="600.50" stroke="#000" stroke-width="1"/>
<line x1="423.47" y1="776.70" x2="423.47" y2="778.50" stroke="#000" stroke-width="1"/>
<line x1="423.47" y1="602.30" x2="423.47" y2="600.50" stroke="#000" stroke-width="1"/>
<line x1="431.06" y1="776.70" x2="431.06" y2="778.50" stroke="#000" stroke-width="1"/>
<line x1="431.06" y1="602.30" x2="431.06" y2="600.50" stroke="#000" stroke-width="1"/>
<line x1="438.65" y1="776.70" x2="438.65" y2="780.30" stroke="#000" stroke-width="1"/>
<line x1="438.65" y1="602.30" x2="438.65" y2="598.70" stroke="#000" stroke-width="1"/>
<line x1="446.24" y1="776.70" x2="446.24" y2="778.50" stroke="#000" stroke-width="1"/>
<line x1="446.24" y1="602.30" x2="446.24" y2="600.50" stroke="#000" stroke-width="1"/>
<line x1="453.82" y1="776.70" x2="453.82" y2="778.50" stroke="#000" stroke-width="1"/>
<line x1="453.82" y1="602.30" x2="453.82" y2="600.50" stroke="#000" stroke-width="1"/>
<line x1="461.41" y1="776.70" x2="461.41" y2="778.50" stroke="#000" stroke-width="1"/>
<line x1="461.41" y1="602.30" x2="461.41" y2="600.50" stroke="#000" stroke-width="1"/>
<line x1="469.00" y1="776.70" x2="469.00" y2="778.50" stroke="#000" stroke-width="1"/>
<line x1="469.00" y1="602.30" x2="469.00" y2="600.50" stroke="#000" stroke-width="1"/>
<line x1="476.59" y1="776.70" x2="476.59" y2="778.50" stroke="#000" stroke-width="1"/>
<line x1="476.59" y1="602.30" x2="476.59" y2="600.50" stroke="#000" stroke-width="1"/>
<line x1="484.18" y1="776.70" x2="484.18" y2="778.50" stroke="#000" stroke-width="1"/>
<line x1="484.18" y1="602.30" x2="484.18" y2="600.50" stroke="#000" stroke-width="1"/>
<line x1="491.77" y1="776.70" x2="491.77" y2="780.30" stroke="#000" stroke-width="1"/>
<line x1="491.77" y1="602.30" x2="491.77" y2="598.70" stroke="#000" stroke-width="1"/>
<line x1="499.36" y1="776.70" x2="499.36" y2="778.50" stroke="#000" stroke-width="1"/>
<line x1="499.36" y1="602.30" x2="499.36" y2="600.50" stroke="#000" stroke-width="1"/>
<line x1="506.95" y1="776.70" x2="506.95" y2="778.50" stroke="#000" stroke-width="1"/>
<line x1="506.95" y1="602.30" x2="506.95" y2="600.50" stroke="#000" stroke-width="1"/>
<line x1="514.54" y1="776.70" x2="514.54" y2="778.50" stroke="#000" stroke-width="1"/>
<line x1="514.54" y1="602.30" x2="514.54" y2="600.50" stroke="#000" stroke-width="1"/>
<line x1="522.12" y1="776.70" x2="522.12" y2="778.50" stroke="#000" stroke-width="1"/>
<line x1="522.12" y1="602.30" x2="522.12" y2="600.50" stroke="#000" stroke-width="1"/>
<line x1="529.71" y1="776.70" x2="529.71" y2="778.50" stroke="#000" stroke-width="1"/>
<line x1="529.71" y1="602.30" x2="529.71" y2="600.50" stroke="#000" stroke-width="1"/>
<line x1="537.30" y1="776.70" x2="537.30" y2="778.50" stroke="#000" stroke-width="1"/>
<line x1="537.30" y1="602.30" x2="537.30" y2="600.50" stroke="#000" stroke-width="1"/>
<line x1="544.89" y1="776.70" x2="544.89" y2="780.30" stroke="#000" stroke-width="1"/>
<line x1="544.89" y1="602.30" x2="544.89" y2="598.70" stroke="#000" stroke-width="1"/>
<text x="332.40" y="789.60" font-size="8" font-weight="bold" text-anchor="middle" fill="#000" >0</text>
<text x="385.52" y="789.60" font-size="8" font-weight="bold" text-anchor="middle" fill="#000" >7</text>
<text x="438.65" y="789.60" font-size="8" font-weight="bold" text-anchor="middle" fill="#000" >14</text>
<text x="491.77" y="789.60" font-size="8" font-weight="bold" text-anchor="middle" fill="#000" >21</text>
<text x="544.89" y="789.60" font-size="8" font-weight="bold" text-anchor="middle" fill="#000" >28</text>
<line x1="329.60" y1="776.70" x2="332.40" y2="776.70" stroke="#000" stroke-width="1"/>
<text x="328.80" y="779.50" font-size="8" font-weight="bold" text-anchor="end" fill="#000" >0.0</text>
<line x1="330.60" y1="759.26" x2="332.40" y2="759.26" stroke="#000" stroke-width="1"/>
<line x1="329.60" y1="741.82" x2="332.40" y2="741.82" stroke="#000" stroke-width="1"/>
<text x="328.80" y="744.62" font-size="8" font-weight="bold" text-anchor="end" fill="#000" >0.2</text>
<line x1="330.60" y1="724.38" x2="332.40" y2="724.38" stroke="#000" stroke-width="1"/>
<line x1="329.60" y1="706.94" x2="332.40" y2="706.94" stroke="#000" stroke-width="1"/>
<text x="328.80" y="709.74" font-size="8" font-weight="bold" text-anchor="end" fill="#000" >0.4</text>
<line x1="330.60" y1="689.50" x2="332.40" y2="689.50" stroke="#000" stroke-width="1"/>
<line x1="329.60" y1="672.06" x2="332.40" y2="672.06" stroke="#000" stroke-width="1"/>
<text x="328.80" y="674.86" font-size="8" font-weight="bold" text-anchor="end" fill="#000" >0.6</text>
<line x1="330.60" y1="654.62" x2="332.40" y2="654.62" stroke="#000" stroke-width="1"/>
<line x1="329.60" y1="637.18" x2="332.40" y2="637.18" stroke="#000" stroke-width="1"/>
<text x="328.80" y="639.98" font-size="8" font-weight="bold" text-anchor="end" fill="#000" >0.8</text>
<line x1="330.60" y1="619.74" x2="332.40" y2="619.74" stroke="#000" stroke-width="1"/>
<line x1="329.60" y1="602.30" x2="332.40" y2="602.30" stroke="#000" stroke-width="1"/>
<text x="328.80" y="605.10" font-size="8" font-weight="bold" text-anchor="end" fill="#000" >1.0</text>
<text x="438.20" y="800.50" font-size="10.1" font-weight="bold" text-anchor="middle" fill="#000" >Time [d]</text>
<text transform="translate(307.4,780) rotate(-90)" font-size="10.3" font-weight="bold">Fraction with Tumor volume &lt; 200mm<tspan font-size="6" dy="-4">3</tspan></text>
<polyline points="332.40,602.30 415.88,602.30 415.88,637.18 438.65,637.18 438.65,672.06 446.24,672.06 446.24,706.94 469.00,706.94 469.00,741.82 544.89,741.82 544.89,741.82" stroke="#22dd22" stroke-width="1.1" fill="none" />
<polyline points="332.40,602.30 461.41,602.30 461.41,637.18 499.36,637.18 499.36,672.06 544.89,672.06 544.89,672.06" stroke="#3333ff" stroke-width="1.1" fill="none" />
<polyline points="332.40,602.30 347.58,602.30 347.58,637.18 385.52,637.18 385.52,706.94 408.29,706.94 408.29,741.82 446.24,741.82 446.24,776.70" stroke="#000" stroke-width="1.1" fill="none" />
<polyline points="332.40,602.30 339.99,602.30 339.99,631.37 347.58,631.37 347.58,660.43 385.52,660.43 385.52,689.50 393.11,689.50 393.11,747.63 408.29,747.63 408.29,776.70" stroke="#ff1010" stroke-width="1.1" fill="none" />
<line x1="491.40" y1="694.00" x2="501.00" y2="694.00" stroke="#000" stroke-width="1.2"/>
<text x="502.40" y="696.90" font-size="8" font-weight="bold" text-anchor="start" fill="#000" >Vehicle (n=5)</text>
<line x1="491.40" y1="703.97" x2="501.00" y2="703.97" stroke="#ff1010" stroke-width="1.2"/>
<text x="502.40" y="706.87" font-size="8" font-weight="bold" text-anchor="start" fill="#000" >Metformin (n=6)</text>
<line x1="491.40" y1="713.94" x2="501.00" y2="713.94" stroke="#22dd22" stroke-width="1.2"/>
<text x="502.40" y="716.84" font-size="8" font-weight="bold" text-anchor="start" fill="#000" >RTX (n=5)</text>
<line x1="491.40" y1="723.91" x2="501.00" y2="723.91" stroke="#3333ff" stroke-width="1.2"/>
<text x="502.40" y="726.81" font-size="8" font-weight="bold" text-anchor="start" fill="#000" >RTX + Metformin (n=5)</text>
<polyline points="595.10,693.40 599.70,693.40 599.70,723.30 595.10,723.30" stroke="#222" stroke-width="0.85" fill="none" />
<polyline points="602.20,693.40 607.20,693.40 607.20,713.30 602.20,713.30" stroke="#222" stroke-width="0.85" fill="none" />
<polyline points="609.90,693.40 614.50,693.40 614.50,704.10 609.90,704.10" stroke="#222" stroke-width="0.85" fill="none" />
<polyline points="642.30,714.00 646.10,714.00 646.10,724.00 642.30,724.00" stroke="#222" stroke-width="0.85" fill="none" />
<text x="616.80" y="699.80" font-size="6.0" text-anchor="start" fill="#222" >p adj.= 0.419</text>
<text x="609.60" y="709.50" font-size="6.0" text-anchor="start" fill="#222" >p adj.= 0.080</text>
<text x="602.20" y="720.20" font-size="6.0" text-anchor="start" fill="#222" >p adj = 0.005</text>
<text x="649.10" y="719.50" font-size="6.0" text-anchor="start" fill="#222" >p adj.= 0.006</text>
<text x="3.00" y="821.00" font-size="25" font-weight="bold" text-anchor="start" fill="#000" >E</text>
<text x="31.50" y="819.00" font-size="10.2" text-anchor="start" fill="#000" >Senescence-associated β-galactosidase staining in tumors</text>
<defs>
<filter id="tex1" x="0" y="0" width="100%" height="100%"><feTurbulence type="fractalNoise" baseFrequency="0.18" numOctaves="3" seed="3"/><feColorMatrix type="matrix" values="0 0 0 0 0.55  0 0 0 0 0.5  0 0 0 0 0.4  2.2 0 0 0 -1.0"/></filter>
<filter id="tex2" x="0" y="0" width="100%" height="100%"><feTurbulence type="fractalNoise" baseFrequency="0.07" numOctaves="3" seed="11"/><feColorMatrix type="matrix" values="0 0 0 0 1  0 0 0 0 1  0 0 0 0 1  0 2.2 0 0 -0.95"/></filter>
<filter id="tex3" x="0" y="0" width="100%" height="100%"><feTurbulence type="turbulence" baseFrequency="0.06 0.12" numOctaves="2" seed="5"/><feColorMatrix type="matrix" values="0 0 0 0 0.6  0 0 0 0 0.55  0 0 0 0 0.45  0 0 -3 0 0.55"/></filter>
<filter id="blur1"><feGaussianBlur stdDeviation="0.45"/></filter>
<filter id="blur2"><feGaussianBlur stdDeviation="1.6"/></filter>
<filter id="blur4"><feGaussianBlur stdDeviation="7"/></filter>
</defs>
<text x="106.30" y="834.70" font-size="12" font-weight="bold" text-anchor="middle" fill="#000" >Vehicle</text>
<clipPath id="cp0"><rect x="34.20" y="838.2" width="144.10" height="107.50"/></clipPath>
<g clip-path="url(#cp0)">
<rect x="34.20" y="838.2" width="144.10" height="107.50" fill="#ebe8df"/>
<circle cx="104.2" cy="868.2" r="45" fill="#e6ece6" opacity="0.9" filter="url(#blur4)"/>
<circle cx="144.2" cy="918.2" r="35" fill="#e8e2d4" opacity="0.8" filter="url(#blur4)"/>
<circle cx="59.2" cy="933.2" r="28" fill="#e0dccc" opacity="0.7" filter="url(#blur4)"/>
<circle cx="174.2" cy="888.2" r="10" fill="#c8ccb8" opacity="0.7" filter="url(#blur4)"/>
<circle cx="36.2" cy="898.2" r="6" fill="#b8c0a8" opacity="0.8" filter="url(#blur4)"/>
<circle cx="94.2" cy="938.2" r="20" fill="#f0ede4" opacity="0.6" filter="url(#blur4)"/>
<rect x="34.20" y="838.2" width="144.10" height="107.50" filter="url(#tex3)" opacity="0.3"/>
<rect x="34.20" y="838.2" width="144.10" height="107.50" filter="url(#tex1)" opacity="0.35"/>
<rect x="34.20" y="838.2" width="144.10" height="107.50" filter="url(#tex2)" opacity="0.45"/>
<ellipse cx="55.2" cy="887.1" rx="2.9" ry="1.9" transform="rotate(132 55.2 887.1)" fill="#fbfbf6" fill-opacity="0.22" stroke="#b4a88c" stroke-width="0.4" stroke-opacity="0.2"/>
<ellipse cx="96.7" cy="924.2" rx="2.4" ry="0.9" transform="rotate(82 96.7 924.2)" fill="#fbfbf6" fill-opacity="0.22" stroke="#b4a88c" stroke-width="0.4" stroke-opacity="0.2"/>
<ellipse cx="41.1" cy="938.5" rx="3.3" ry="1.3" transform="rotate(56 41.1 938.5)" fill="#fbfbf6" fill-opacity="0.22" stroke="#b4a88c" stroke-width="0.4" stroke-opacity="0.2"/>
<ellipse cx="144.9" cy="860.1" rx="1.6" ry="1.1" transform="rotate(62 144.9 860.1)" fill="#fbfbf6" fill-opacity="0.22" stroke="#b4a88c" stroke-width="0.4" stroke-opacity="0.2"/>
<ellipse cx="124.5" cy="941.8" rx="1.7" ry="2.3" transform="rotate(100 124.5 941.8)" fill="#fbfbf6" fill-opacity="0.22" stroke="#b4a88c" stroke-width="0.4" stroke-opacity="0.2"/>
<ellipse cx="164.1" cy="926.1" rx="1.6" ry="1.8" transform="rotate(22 164.1 926.1)" fill="#fbfbf6" fill-opacity="0.22" stroke="#b4a88c" stroke-width="0.4" stroke-opacity="0.2"/>
<ellipse cx="35.0" cy="880.7" rx="2.9" ry="1.7" transform="rotate(35 35.0 880.7)" fill="#fbfbf6" fill-opacity="0.22" stroke="#b4a88c" stroke-width="0.4" stroke-opacity="0.2"/>
<ellipse cx="155.4" cy="936.4" rx="1.7" ry="1.5" transform="rotate(115 155.4 936.4)" fill="#fbfbf6" fill-opacity="0.22" stroke="#b4a88c" stroke-width="0.4" stroke-opacity="0.2"/>
<ellipse cx="164.2" cy="851.8" rx="2.4" ry="2.3" transform="rotate(110 164.2 851.8)" fill="#fbfbf6" fill-opacity="0.22" stroke="#b4a88c" stroke-width="0.4" stroke-opacity="0.2"/>
<ellipse cx="137.6" cy="921.5" rx="2.3" ry="1.3" transform="rotate(106 137.6 921.5)" fill="#fbfbf6" fill-opacity="0.22" stroke="#b4a88c" stroke-width="0.4" stroke-opacity="0.2"/>
<ellipse cx="110.3" cy="875.1" rx="3.1" ry="1.4" transform="rotate(87 110.3 875.1)" fill="#fbfbf6" fill-opacity="0.22" stroke="#b4a88c" stroke-width="0.4" stroke-opacity="0.2"/>
<ellipse cx="143.9" cy="925.7" rx="3.2" ry="1.8" transform="rotate(45 143.9 925.7)" fill="#fbfbf6" fill-opacity="0.22" stroke="#b4a88c" stroke-width="0.4" stroke-opacity="0.2"/>
<ellipse cx="156.3" cy="935.9" rx="2.8" ry="2.0" transform="rotate(92 156.3 935.9)" fill="#fbfbf6" fill-opacity="0.22" stroke="#b4a88c" stroke-width="0.4" stroke-opacity="0.2"/>
<ellipse cx="105.3" cy="900.8" rx="1.5" ry="1.9" transform="rotate(155 105.3 900.8)" fill="#fbfbf6" fill-opacity="0.22" stroke="#b4a88c" stroke-width="0.4" stroke-opacity="0.2"/>
<ellipse cx="57.9" cy="919.2" rx="2.8" ry="1.0" transform="rotate(9 57.9 919.2)" fill="#fbfbf6" fill-opacity="0.22" stroke="#b4a88c" stroke-width="0.4" stroke-opacity="0.2"/>
<ellipse cx="120.0" cy="861.8" rx="1.9" ry="1.8" transform="rotate(117 120.0 861.8)" fill="#fbfbf6" fill-opacity="0.22" stroke="#b4a88c" stroke-width="0.4" stroke-opacity="0.2"/>
<ellipse cx="142.1" cy="899.3" rx="1.9" ry="0.8" transform="rotate(21 142.1 899.3)" fill="#fbfbf6" fill-opacity="0.22" stroke="#b4a88c" stroke-width="0.4" stroke-opacity="0.2"/>
<ellipse cx="62.0" cy="894.7" rx="2.8" ry="1.1" transform="rotate(70 62.0 894.7)" fill="#fbfbf6" fill-opacity="0.22" stroke="#b4a88c" stroke-width="0.4" stroke-opacity="0.2"/>
<ellipse cx="169.1" cy="881.3" rx="2.8" ry="1.8" transform="rotate(119 169.1 881.3)" fill="#fbfbf6" fill-opacity="0.22" stroke="#b4a88c" stroke-width="0.4" stroke-opacity="0.2"/>
<ellipse cx="102.9" cy="896.8" rx="2.7" ry="1.1" transform="rotate(144 102.9 896.8)" fill="#fbfbf6" fill-opacity="0.22" stroke="#b4a88c" stroke-width="0.4" stroke-opacity="0.2"/>
<ellipse cx="160.0" cy="843.3" rx="1.6" ry="1.2" transform="rotate(17 160.0 843.3)" fill="#fbfbf6" fill-opacity="0.22" stroke="#b4a88c" stroke-width="0.4" stroke-opacity="0.2"/>
<ellipse cx="54.4" cy="907.2" rx="1.5" ry="0.9" transform="rotate(170 54.4 907.2)" fill="#fbfbf6" fill-opacity="0.22" stroke="#b4a88c" stroke-width="0.4" stroke-opacity="0.2"/>
<ellipse cx="92.1" cy="896.3" rx="2.2" ry="1.3" transform="rotate(82 92.1 896.3)" fill="#fbfbf6" fill-opacity="0.22" stroke="#b4a88c" stroke-width="0.4" stroke-opacity="0.2"/>
<ellipse cx="62.2" cy="900.5" rx="1.8" ry="1.0" transform="rotate(38 62.2 900.5)" fill="#fbfbf6" fill-opacity="0.22" stroke="#b4a88c" stroke-width="0.4" stroke-opacity="0.2"/>
<ellipse cx="93.7" cy="938.2" rx="2.5" ry="2.4" transform="rotate(72 93.7 938.2)" fill="#fbfbf6" fill-opacity="0.22" stroke="#b4a88c" stroke-width="0.4" stroke-opacity="0.2"/>
<ellipse cx="71.7" cy="914.6" rx="1.6" ry="2.4" transform="rotate(70 71.7 914.6)" fill="#fbfbf6" fill-opacity="0.22" stroke="#b4a88c" stroke-width="0.4" stroke-opacity="0.2"/>
<ellipse cx="73.3" cy="867.4" rx="1.9" ry="2.3" transform="rotate(179 73.3 867.4)" fill="#fbfbf6" fill-opacity="0.22" stroke="#b4a88c" stroke-width="0.4" stroke-opacity="0.2"/>
<ellipse cx="114.7" cy="863.1" rx="1.2" ry="0.9" transform="rotate(54 114.7 863.1)" fill="#fbfbf6" fill-opacity="0.22" stroke="#b4a88c" stroke-width="0.4" stroke-opacity="0.2"/>
<ellipse cx="126.8" cy="905.5" rx="3.1" ry="2.1" transform="rotate(63 126.8 905.5)" fill="#fbfbf6" fill-opacity="0.22" stroke="#b4a88c" stroke-width="0.4" stroke-opacity="0.2"/>
<ellipse cx="131.3" cy="886.0" rx="2.8" ry="1.1" transform="rotate(176 131.3 886.0)" fill="#fbfbf6" fill-opacity="0.22" stroke="#b4a88c" stroke-width="0.4" stroke-opacity="0.2"/>
<ellipse cx="37.5" cy="904.6" rx="2.0" ry="2.1" transform="rotate(26 37.5 904.6)" fill="#fbfbf6" fill-opacity="0.22" stroke="#b4a88c" stroke-width="0.4" stroke-opacity="0.2"/>
<ellipse cx="162.6" cy="838.5" rx="2.8" ry="1.9" transform="rotate(91 162.6 838.5)" fill="#fbfbf6" fill-opacity="0.22" stroke="#b4a88c" stroke-width="0.4" stroke-opacity="0.2"/>
<ellipse cx="59.3" cy="879.3" rx="2.2" ry="1.1" transform="rotate(29 59.3 879.3)" fill="#fbfbf6" fill-opacity="0.22" stroke="#b4a88c" stroke-width="0.4" stroke-opacity="0.2"/>
<ellipse cx="155.6" cy="897.3" rx="1.8" ry="1.8" transform="rotate(114 155.6 897.3)" fill="#fbfbf6" fill-opacity="0.22" stroke="#b4a88c" stroke-width="0.4" stroke-opacity="0.2"/>
<ellipse cx="53.8" cy="901.0" rx="2.5" ry="1.0" transform="rotate(54 53.8 901.0)" fill="#fbfbf6" fill-opacity="0.22" stroke="#b4a88c" stroke-width="0.4" stroke-opacity="0.2"/>
<ellipse cx="158.6" cy="900.4" rx="1.7" ry="1.4" transform="rotate(83 158.6 900.4)" fill="#fbfbf6" fill-opacity="0.22" stroke="#b4a88c" stroke-width="0.4" stroke-opacity="0.2"/>
<ellipse cx="136.3" cy="930.7" rx="1.4" ry="0.9" transform="rotate(79 136.3 930.7)" fill="#fbfbf6" fill-opacity="0.22" stroke="#b4a88c" stroke-width="0.4" stroke-opacity="0.2"/>
<ellipse cx="37.1" cy="854.8" rx="1.4" ry="0.9" transform="rotate(113 37.1 854.8)" fill="#fbfbf6" fill-opacity="0.22" stroke="#b4a88c" stroke-width="0.4" stroke-opacity="0.2"/>
<ellipse cx="48.0" cy="899.1" rx="3.3" ry="1.0" transform="rotate(137 48.0 899.1)" fill="#fbfbf6" fill-opacity="0.22" stroke="#b4a88c" stroke-width="0.4" stroke-opacity="0.2"/>
<ellipse cx="118.4" cy="856.5" rx="3.3" ry="2.0" transform="rotate(68 118.4 856.5)" fill="#fbfbf6" fill-opacity="0.22" stroke="#b4a88c" stroke-width="0.4" stroke-opacity="0.2"/>
<ellipse cx="162.2" cy="849.4" rx="3.0" ry="2.1" transform="rotate(21 162.2 849.4)" fill="#fbfbf6" fill-opacity="0.22" stroke="#b4a88c" stroke-width="0.4" stroke-opacity="0.2"/>
<ellipse cx="166.1" cy="922.5" rx="3.2" ry="1.3" transform="rotate(133 166.1 922.5)" fill="#fbfbf6" fill-opacity="0.22" stroke="#b4a88c" stroke-width="0.4" stroke-opacity="0.2"/>
<ellipse cx="146.6" cy="875.6" rx="1.3" ry="0.8" transform="rotate(91 146.6 875.6)" fill="#fbfbf6" fill-opacity="0.22" stroke="#b4a88c" stroke-width="0.4" stroke-opacity="0.2"/>
<ellipse cx="113.2" cy="851.6" rx="2.6" ry="0.9" transform="rotate(86 113.2 851.6)" fill="#fbfbf6" fill-opacity="0.22" stroke="#b4a88c" stroke-width="0.4" stroke-opacity="0.2"/>
<ellipse cx="107.8" cy="860.1" rx="1.3" ry="2.2" transform="rotate(153 107.8 860.1)" fill="#fbfbf6" fill-opacity="0.22" stroke="#b4a88c" stroke-width="0.4" stroke-opacity="0.2"/>
<ellipse cx="118.9" cy="841.4" rx="2.4" ry="2.3" transform="rotate(138 118.9 841.4)" fill="#fbfbf6" fill-opacity="0.22" stroke="#b4a88c" stroke-width="0.4" stroke-opacity="0.2"/>
<ellipse cx="133.4" cy="842.5" rx="2.5" ry="1.2" transform="rotate(178 133.4 842.5)" fill="#fbfbf6" fill-opacity="0.22" stroke="#b4a88c" stroke-width="0.4" stroke-opacity="0.2"/>
<ellipse cx="35.8" cy="862.1" rx="3.1" ry="1.0" transform="rotate(54 35.8 862.1)" fill="#fbfbf6" fill-opacity="0.22" stroke="#b4a88c" stroke-width="0.4" stroke-opacity="0.2"/>
<ellipse cx="78.4" cy="933.0" rx="2.7" ry="2.3" transform="rotate(35 78.4 933.0)" fill="#fbfbf6" fill-opacity="0.22" stroke="#b4a88c" stroke-width="0.4" stroke-opacity="0.2"/>
<ellipse cx="46.9" cy="875.1" rx="2.9" ry="1.8" transform="rotate(168 46.9 875.1)" fill="#fbfbf6" fill-opacity="0.22" stroke="#b4a88c" stroke-width="0.4" stroke-opacity="0.2"/>
<ellipse cx="136.9" cy="847.0" rx="1.9" ry="1.1" transform="rotate(48 136.9 847.0)" fill="#fbfbf6" fill-opacity="0.22" stroke="#b4a88c" stroke-width="0.4" stroke-opacity="0.2"/>
<ellipse cx="130.2" cy="885.9" rx="2.9" ry="0.8" transform="rotate(164 130.2 885.9)" fill="#fbfbf6" fill-opacity="0.22" stroke="#b4a88c" stroke-width="0.4" stroke-opacity="0.2"/>
<ellipse cx="57.6" cy="918.0" rx="3.1" ry="0.9" transform="rotate(98 57.6 918.0)" fill="#fbfbf6" fill-opacity="0.22" stroke="#b4a88c" stroke-width="0.4" stroke-opacity="0.2"/>
<ellipse cx="174.7" cy="839.0" rx="2.3" ry="1.5" transform="rotate(69 174.7 839.0)" fill="#fbfbf6" fill-opacity="0.22" stroke="#b4a88c" stroke-width="0.4" stroke-opacity="0.2"/>
<ellipse cx="62.2" cy="857.6" rx="1.8" ry="1.1" transform="rotate(53 62.2 857.6)" fill="#fbfbf6" fill-opacity="0.22" stroke="#b4a88c" stroke-width="0.4" stroke-opacity="0.2"/>
<ellipse cx="164.2" cy="940.2" rx="1.8" ry="0.8" transform="rotate(48 164.2 940.2)" fill="#fbfbf6" fill-opacity="0.22" stroke="#b4a88c" stroke-width="0.4" stroke-opacity="0.2"/>
<ellipse cx="157.6" cy="857.1" rx="2.7" ry="0.9" transform="rotate(63 157.6 857.1)" fill="#fbfbf6" fill-opacity="0.22" stroke="#b4a88c" stroke-width="0.4" stroke-opacity="0.2"/>
<ellipse cx="58.6" cy="904.5" rx="2.0" ry="2.0" transform="rotate(93 58.6 904.5)" fill="#fbfbf6" fill-opacity="0.22" stroke="#b4a88c" stroke-width="0.4" stroke-opacity="0.2"/>
<ellipse cx="92.4" cy="840.5" rx="3.0" ry="0.9" transform="rotate(90 92.4 840.5)" fill="#fbfbf6" fill-opacity="0.22" stroke="#b4a88c" stroke-width="0.4" stroke-opacity="0.2"/>
<ellipse cx="176.5" cy="923.2" rx="2.0" ry="2.3" transform="rotate(46 176.5 923.2)" fill="#fbfbf6" fill-opacity="0.22" stroke="#b4a88c" stroke-width="0.4" stroke-opacity="0.2"/>
<ellipse cx="118.0" cy="900.0" rx="2.8" ry="1.3" transform="rotate(72 118.0 900.0)" fill="#fbfbf6" fill-opacity="0.22" stroke="#b4a88c" stroke-width="0.4" stroke-opacity="0.2"/>
<ellipse cx="81.0" cy="937.0" rx="2.8" ry="1.3" transform="rotate(139 81.0 937.0)" fill="#fbfbf6" fill-opacity="0.22" stroke="#b4a88c" stroke-width="0.4" stroke-opacity="0.2"/>
<ellipse cx="123.2" cy="864.7" rx="2.3" ry="1.0" transform="rotate(38 123.2 864.7)" fill="#fbfbf6" fill-opacity="0.22" stroke="#b4a88c" stroke-width="0.4" stroke-opacity="0.2"/>
<ellipse cx="45.3" cy="846.9" rx="2.6" ry="2.1" transform="rotate(150 45.3 846.9)" fill="#fbfbf6" fill-opacity="0.22" stroke="#b4a88c" stroke-width="0.4" stroke-opacity="0.2"/>
<ellipse cx="65.8" cy="940.1" rx="1.9" ry="1.9" transform="rotate(107 65.8 940.1)" fill="#fbfbf6" fill-opacity="0.22" stroke="#b4a88c" stroke-width="0.4" stroke-opacity="0.2"/>
<ellipse cx="102.8" cy="912.3" rx="3.2" ry="1.9" transform="rotate(92 102.8 912.3)" fill="#fbfbf6" fill-opacity="0.22" stroke="#b4a88c" stroke-width="0.4" stroke-opacity="0.2"/>
<ellipse cx="158.3" cy="918.4" rx="2.0" ry="2.4" transform="rotate(73 158.3 918.4)" fill="#fbfbf6" fill-opacity="0.22" stroke="#b4a88c" stroke-width="0.4" stroke-opacity="0.2"/>
<ellipse cx="39.9" cy="941.8" rx="3.3" ry="1.7" transform="rotate(135 39.9 941.8)" fill="#fbfbf6" fill-opacity="0.22" stroke="#b4a88c" stroke-width="0.4" stroke-opacity="0.2"/>
<ellipse cx="134.5" cy="848.8" rx="3.0" ry="1.8" transform="rotate(174 134.5 848.8)" fill="#fbfbf6" fill-opacity="0.22" stroke="#b4a88c" stroke-width="0.4" stroke-opacity="0.2"/>
<ellipse cx="103.2" cy="868.1" rx="2.9" ry="1.7" transform="rotate(157 103.2 868.1)" fill="#fbfbf6" fill-opacity="0.22" stroke="#b4a88c" stroke-width="0.4" stroke-opacity="0.2"/>
<ellipse cx="40.4" cy="911.8" rx="3.2" ry="1.1" transform="rotate(16 40.4 911.8)" fill="#fbfbf6" fill-opacity="0.22" stroke="#b4a88c" stroke-width="0.4" stroke-opacity="0.2"/>
<ellipse cx="104.9" cy="908.4" rx="2.6" ry="1.6" transform="rotate(61 104.9 908.4)" fill="#fbfbf6" fill-opacity="0.22" stroke="#b4a88c" stroke-width="0.4" stroke-opacity="0.2"/>
<ellipse cx="136.6" cy="944.4" rx="2.3" ry="1.4" transform="rotate(174 136.6 944.4)" fill="#fbfbf6" fill-opacity="0.22" stroke="#b4a88c" stroke-width="0.4" stroke-opacity="0.2"/>
<ellipse cx="59.8" cy="898.7" rx="3.0" ry="2.1" transform="rotate(135 59.8 898.7)" fill="#fbfbf6" fill-opacity="0.22" stroke="#b4a88c" stroke-width="0.4" stroke-opacity="0.2"/>
<ellipse cx="132.4" cy="886.6" rx="3.3" ry="0.8" transform="rotate(76 132.4 886.6)" fill="#fbfbf6" fill-opacity="0.22" stroke="#b4a88c" stroke-width="0.4" stroke-opacity="0.2"/>
<ellipse cx="99.1" cy="915.4" rx="1.8" ry="1.1" transform="rotate(81 99.1 915.4)" fill="#fbfbf6" fill-opacity="0.22" stroke="#b4a88c" stroke-width="0.4" stroke-opacity="0.2"/>
<ellipse cx="125.9" cy="895.0" rx="3.1" ry="1.6" transform="rotate(37 125.9 895.0)" fill="#fbfbf6" fill-opacity="0.22" stroke="#b4a88c" stroke-width="0.4" stroke-opacity="0.2"/>
<ellipse cx="126.7" cy="880.1" rx="1.3" ry="1.4" transform="rotate(20 126.7 880.1)" fill="#fbfbf6" fill-opacity="0.22" stroke="#b4a88c" stroke-width="0.4" stroke-opacity="0.2"/>
<ellipse cx="126.3" cy="935.3" rx="2.8" ry="2.3" transform="rotate(26 126.3 935.3)" fill="#fbfbf6" fill-opacity="0.22" stroke="#b4a88c" stroke-width="0.4" stroke-opacity="0.2"/>
<ellipse cx="154.6" cy="920.3" rx="1.7" ry="1.6" transform="rotate(31 154.6 920.3)" fill="#fbfbf6" fill-opacity="0.22" stroke="#b4a88c" stroke-width="0.4" stroke-opacity="0.2"/>
<ellipse cx="78.8" cy="894.6" rx="2.1" ry="1.4" transform="rotate(128 78.8 894.6)" fill="#fbfbf6" fill-opacity="0.22" stroke="#b4a88c" stroke-width="0.4" stroke-opacity="0.2"/>
<ellipse cx="131.8" cy="850.7" rx="2.5" ry="2.0" transform="rotate(6 131.8 850.7)" fill="#fbfbf6" fill-opacity="0.22" stroke="#b4a88c" stroke-width="0.4" stroke-opacity="0.2"/>
<ellipse cx="141.8" cy="840.4" rx="2.1" ry="1.4" transform="rotate(4 141.8 840.4)" fill="#fbfbf6" fill-opacity="0.22" stroke="#b4a88c" stroke-width="0.4" stroke-opacity="0.2"/>
<ellipse cx="44.9" cy="910.2" rx="1.8" ry="1.6" transform="rotate(29 44.9 910.2)" fill="#fbfbf6" fill-opacity="0.22" stroke="#b4a88c" stroke-width="0.4" stroke-opacity="0.2"/>
<ellipse cx="122.9" cy="938.7" rx="2.9" ry="1.4" transform="rotate(172 122.9 938.7)" fill="#fbfbf6" fill-opacity="0.22" stroke="#b4a88c" stroke-width="0.4" stroke-opacity="0.2"/>
<ellipse cx="84.7" cy="868.1" rx="2.1" ry="2.4" transform="rotate(70 84.7 868.1)" fill="#fbfbf6" fill-opacity="0.22" stroke="#b4a88c" stroke-width="0.4" stroke-opacity="0.2"/>
<ellipse cx="76.1" cy="896.6" rx="2.6" ry="2.0" transform="rotate(128 76.1 896.6)" fill="#fbfbf6" fill-opacity="0.22" stroke="#b4a88c" stroke-width="0.4" stroke-opacity="0.2"/>
<ellipse cx="131.1" cy="882.5" rx="2.2" ry="2.4" transform="rotate(89 131.1 882.5)" fill="#fbfbf6" fill-opacity="0.22" stroke="#b4a88c" stroke-width="0.4" stroke-opacity="0.2"/>
<ellipse cx="143.8" cy="876.8" rx="1.2" ry="1.4" transform="rotate(94 143.8 876.8)" fill="#fbfbf6" fill-opacity="0.22" stroke="#b4a88c" stroke-width="0.4" stroke-opacity="0.2"/>
<ellipse cx="91.7" cy="860.7" rx="1.6" ry="0.9" transform="rotate(127 91.7 860.7)" fill="#fbfbf6" fill-opacity="0.22" stroke="#b4a88c" stroke-width="0.4" stroke-opacity="0.2"/>
<ellipse cx="110.2" cy="925.9" rx="3.1" ry="2.0" transform="rotate(143 110.2 925.9)" fill="#fbfbf6" fill-opacity="0.22" stroke="#b4a88c" stroke-width="0.4" stroke-opacity="0.2"/>
<ellipse cx="164.3" cy="936.4" rx="3.0" ry="2.2" transform="rotate(63 164.3 936.4)" fill="#fbfbf6" fill-opacity="0.22" stroke="#b4a88c" stroke-width="0.4" stroke-opacity="0.2"/>
<ellipse cx="177.8" cy="934.2" rx="3.0" ry="2.2" transform="rotate(134 177.8 934.2)" fill="#fbfbf6" fill-opacity="0.22" stroke="#b4a88c" stroke-width="0.4" stroke-opacity="0.2"/>
<ellipse cx="117.0" cy="893.9" rx="3.2" ry="1.3" transform="rotate(116 117.0 893.9)" fill="#fbfbf6" fill-opacity="0.22" stroke="#b4a88c" stroke-width="0.4" stroke-opacity="0.2"/>
<ellipse cx="168.8" cy="866.7" rx="1.5" ry="1.3" transform="rotate(80 168.8 866.7)" fill="#fbfbf6" fill-opacity="0.22" stroke="#b4a88c" stroke-width="0.4" stroke-opacity="0.2"/>
<ellipse cx="107.3" cy="863.3" rx="1.7" ry="1.0" transform="rotate(85 107.3 863.3)" fill="#fbfbf6" fill-opacity="0.22" stroke="#b4a88c" stroke-width="0.4" stroke-opacity="0.2"/>
<ellipse cx="54.6" cy="876.1" rx="1.6" ry="1.8" transform="rotate(112 54.6 876.1)" fill="#fbfbf6" fill-opacity="0.22" stroke="#b4a88c" stroke-width="0.4" stroke-opacity="0.2"/>
<ellipse cx="67.3" cy="945.6" rx="1.8" ry="2.3" transform="rotate(54 67.3 945.6)" fill="#fbfbf6" fill-opacity="0.22" stroke="#b4a88c" stroke-width="0.4" stroke-opacity="0.2"/>
<ellipse cx="115.1" cy="901.6" rx="2.5" ry="1.3" transform="rotate(142 115.1 901.6)" fill="#fbfbf6" fill-opacity="0.22" stroke="#b4a88c" stroke-width="0.4" stroke-opacity="0.2"/>
<ellipse cx="123.9" cy="898.5" rx="2.3" ry="1.3" transform="rotate(73 123.9 898.5)" fill="#fbfbf6" fill-opacity="0.22" stroke="#b4a88c" stroke-width="0.4" stroke-opacity="0.2"/>
<ellipse cx="140.0" cy="914.5" rx="3.4" ry="2.0" transform="rotate(179 140.0 914.5)" fill="#fbfbf6" fill-opacity="0.22" stroke="#b4a88c" stroke-width="0.4" stroke-opacity="0.2"/>
<ellipse cx="81.5" cy="868.0" rx="3.4" ry="1.5" transform="rotate(104 81.5 868.0)" fill="#fbfbf6" fill-opacity="0.22" stroke="#b4a88c" stroke-width="0.4" stroke-opacity="0.2"/>
<ellipse cx="159.4" cy="851.6" rx="1.5" ry="1.5" transform="rotate(36 159.4 851.6)" fill="#fbfbf6" fill-opacity="0.22" stroke="#b4a88c" stroke-width="0.4" stroke-opacity="0.2"/>
<ellipse cx="43.1" cy="914.8" rx="2.4" ry="1.5" transform="rotate(115 43.1 914.8)" fill="#fbfbf6" fill-opacity="0.22" stroke="#b4a88c" stroke-width="0.4" stroke-opacity="0.2"/>
<ellipse cx="78.2" cy="880.8" rx="1.9" ry="1.8" transform="rotate(83 78.2 880.8)" fill="#fbfbf6" fill-opacity="0.22" stroke="#b4a88c" stroke-width="0.4" stroke-opacity="0.2"/>
<ellipse cx="117.5" cy="897.2" rx="2.5" ry="0.9" transform="rotate(140 117.5 897.2)" fill="#fbfbf6" fill-opacity="0.22" stroke="#b4a88c" stroke-width="0.4" stroke-opacity="0.2"/>
<ellipse cx="165.1" cy="845.7" rx="2.8" ry="1.7" transform="rotate(133 165.1 845.7)" fill="#fbfbf6" fill-opacity="0.22" stroke="#b4a88c" stroke-width="0.4" stroke-opacity="0.2"/>
<ellipse cx="36.5" cy="842.0" rx="2.4" ry="1.7" transform="rotate(19 36.5 842.0)" fill="#fbfbf6" fill-opacity="0.22" stroke="#b4a88c" stroke-width="0.4" stroke-opacity="0.2"/>
<ellipse cx="146.1" cy="848.7" rx="3.2" ry="2.1" transform="rotate(130 146.1 848.7)" fill="#fbfbf6" fill-opacity="0.22" stroke="#b4a88c" stroke-width="0.4" stroke-opacity="0.2"/>
<ellipse cx="157.6" cy="869.6" rx="2.5" ry="0.8" transform="rotate(135 157.6 869.6)" fill="#fbfbf6" fill-opacity="0.22" stroke="#b4a88c" stroke-width="0.4" stroke-opacity="0.2"/>
<ellipse cx="60.4" cy="843.6" rx="2.9" ry="0.9" transform="rotate(116 60.4 843.6)" fill="#fbfbf6" fill-opacity="0.22" stroke="#b4a88c" stroke-width="0.4" stroke-opacity="0.2"/>
<ellipse cx="172.5" cy="896.3" rx="2.4" ry="2.0" transform="rotate(134 172.5 896.3)" fill="#fbfbf6" fill-opacity="0.22" stroke="#b4a88c" stroke-width="0.4" stroke-opacity="0.2"/>
<ellipse cx="106.2" cy="843.8" rx="3.4" ry="2.0" transform="rotate(86 106.2 843.8)" fill="#fbfbf6" fill-opacity="0.22" stroke="#b4a88c" stroke-width="0.4" stroke-opacity="0.2"/>
<ellipse cx="130.4" cy="865.2" rx="1.7" ry="0.9" transform="rotate(71 130.4 865.2)" fill="#fbfbf6" fill-opacity="0.22" stroke="#b4a88c" stroke-width="0.4" stroke-opacity="0.2"/>
<ellipse cx="115.7" cy="849.1" rx="1.6" ry="1.4" transform="rotate(0 115.7 849.1)" fill="#fbfbf6" fill-opacity="0.22" stroke="#b4a88c" stroke-width="0.4" stroke-opacity="0.2"/>
<ellipse cx="150.9" cy="855.6" rx="3.2" ry="1.7" transform="rotate(56 150.9 855.6)" fill="#fbfbf6" fill-opacity="0.22" stroke="#b4a88c" stroke-width="0.4" stroke-opacity="0.2"/>
<ellipse cx="44.5" cy="905.9" rx="1.3" ry="1.3" transform="rotate(180 44.5 905.9)" fill="#fbfbf6" fill-opacity="0.22" stroke="#b4a88c" stroke-width="0.4" stroke-opacity="0.2"/>
<ellipse cx="153.6" cy="914.5" rx="2.5" ry="1.8" transform="rotate(134 153.6 914.5)" fill="#fbfbf6" fill-opacity="0.22" stroke="#b4a88c" stroke-width="0.4" stroke-opacity="0.2"/>
<ellipse cx="160.5" cy="848.8" rx="3.2" ry="2.4" transform="rotate(105 160.5 848.8)" fill="#fbfbf6" fill-opacity="0.22" stroke="#b4a88c" stroke-width="0.4" stroke-opacity="0.2"/>
<ellipse cx="81.9" cy="843.8" rx="2.0" ry="0.9" transform="rotate(122 81.9 843.8)" fill="#fbfbf6" fill-opacity="0.22" stroke="#b4a88c" stroke-width="0.4" stroke-opacity="0.2"/>
<ellipse cx="119.9" cy="916.8" rx="3.1" ry="1.3" transform="rotate(135 119.9 916.8)" fill="#fbfbf6" fill-opacity="0.22" stroke="#b4a88c" stroke-width="0.4" stroke-opacity="0.2"/>
<ellipse cx="140.7" cy="898.2" rx="1.3" ry="2.2" transform="rotate(99 140.7 898.2)" fill="#fbfbf6" fill-opacity="0.22" stroke="#b4a88c" stroke-width="0.4" stroke-opacity="0.2"/>
<ellipse cx="101.2" cy="929.8" rx="1.5" ry="0.9" transform="rotate(120 101.2 929.8)" fill="#fbfbf6" fill-opacity="0.22" stroke="#b4a88c" stroke-width="0.4" stroke-opacity="0.2"/>
<ellipse cx="137.3" cy="895.1" rx="2.4" ry="2.0" transform="rotate(149 137.3 895.1)" fill="#fbfbf6" fill-opacity="0.22" stroke="#b4a88c" stroke-width="0.4" stroke-opacity="0.2"/>
<ellipse cx="127.6" cy="917.0" rx="2.3" ry="1.1" transform="rotate(144 127.6 917.0)" fill="#fbfbf6" fill-opacity="0.22" stroke="#b4a88c" stroke-width="0.4" stroke-opacity="0.2"/>
<ellipse cx="41.1" cy="856.3" rx="2.5" ry="1.4" transform="rotate(160 41.1 856.3)" fill="#fbfbf6" fill-opacity="0.22" stroke="#b4a88c" stroke-width="0.4" stroke-opacity="0.2"/>
<ellipse cx="77.5" cy="891.0" rx="1.6" ry="2.1" transform="rotate(65 77.5 891.0)" fill="#fbfbf6" fill-opacity="0.22" stroke="#b4a88c" stroke-width="0.4" stroke-opacity="0.2"/>
<ellipse cx="137.5" cy="917.3" rx="2.2" ry="1.0" transform="rotate(174 137.5 917.3)" fill="#fbfbf6" fill-opacity="0.22" stroke="#b4a88c" stroke-width="0.4" stroke-opacity="0.2"/>
<ellipse cx="39.5" cy="927.0" rx="1.5" ry="1.5" transform="rotate(80 39.5 927.0)" fill="#fbfbf6" fill-opacity="0.22" stroke="#b4a88c" stroke-width="0.4" stroke-opacity="0.2"/>
<ellipse cx="95.4" cy="901.5" rx="2.7" ry="1.9" transform="rotate(12 95.4 901.5)" fill="#fbfbf6" fill-opacity="0.22" stroke="#b4a88c" stroke-width="0.4" stroke-opacity="0.2"/>
<ellipse cx="87.7" cy="858.6" rx="3.3" ry="1.7" transform="rotate(178 87.7 858.6)" fill="#fbfbf6" fill-opacity="0.22" stroke="#b4a88c" stroke-width="0.4" stroke-opacity="0.2"/>
<ellipse cx="64.5" cy="911.9" rx="2.3" ry="1.3" transform="rotate(34 64.5 911.9)" fill="#fbfbf6" fill-opacity="0.22" stroke="#b4a88c" stroke-width="0.4" stroke-opacity="0.2"/>
<ellipse cx="121.3" cy="933.8" rx="2.3" ry="1.6" transform="rotate(170 121.3 933.8)" fill="#fbfbf6" fill-opacity="0.22" stroke="#b4a88c" stroke-width="0.4" stroke-opacity="0.2"/>
<ellipse cx="71.5" cy="876.1" rx="3.1" ry="0.9" transform="rotate(7 71.5 876.1)" fill="#fbfbf6" fill-opacity="0.22" stroke="#b4a88c" stroke-width="0.4" stroke-opacity="0.2"/>
<ellipse cx="129.8" cy="890.0" rx="3.2" ry="1.7" transform="rotate(50 129.8 890.0)" fill="#fbfbf6" fill-opacity="0.22" stroke="#b4a88c" stroke-width="0.4" stroke-opacity="0.2"/>
<ellipse cx="129.7" cy="886.0" rx="2.6" ry="1.1" transform="rotate(11 129.7 886.0)" fill="#fbfbf6" fill-opacity="0.22" stroke="#b4a88c" stroke-width="0.4" stroke-opacity="0.2"/>
<ellipse cx="165.3" cy="928.8" rx="1.5" ry="1.0" transform="rotate(149 165.3 928.8)" fill="#fbfbf6" fill-opacity="0.22" stroke="#b4a88c" stroke-width="0.4" stroke-opacity="0.2"/>
<ellipse cx="136.3" cy="886.4" rx="3.1" ry="2.1" transform="rotate(148 136.3 886.4)" fill="#fbfbf6" fill-opacity="0.22" stroke="#b4a88c" stroke-width="0.4" stroke-opacity="0.2"/>
<ellipse cx="165.9" cy="925.2" rx="1.2" ry="1.8" transform="rotate(17 165.9 925.2)" fill="#fbfbf6" fill-opacity="0.22" stroke="#b4a88c" stroke-width="0.4" stroke-opacity="0.2"/>
<ellipse cx="163.1" cy="926.7" rx="2.5" ry="1.5" transform="rotate(124 163.1 926.7)" fill="#fbfbf6" fill-opacity="0.22" stroke="#b4a88c" stroke-width="0.4" stroke-opacity="0.2"/>
<ellipse cx="76.9" cy="912.3" rx="3.3" ry="0.9" transform="rotate(70 76.9 912.3)" fill="#fbfbf6" fill-opacity="0.22" stroke="#b4a88c" stroke-width="0.4" stroke-opacity="0.2"/>
<ellipse cx="150.3" cy="857.5" rx="2.0" ry="2.1" transform="rotate(103 150.3 857.5)" fill="#fbfbf6" fill-opacity="0.22" stroke="#b4a88c" stroke-width="0.4" stroke-opacity="0.2"/>
<ellipse cx="72.0" cy="881.3" rx="2.0" ry="1.6" transform="rotate(179 72.0 881.3)" fill="#fbfbf6" fill-opacity="0.22" stroke="#b4a88c" stroke-width="0.4" stroke-opacity="0.2"/>
<ellipse cx="69.9" cy="872.9" rx="3.2" ry="1.6" transform="rotate(116 69.9 872.9)" fill="#fbfbf6" fill-opacity="0.22" stroke="#b4a88c" stroke-width="0.4" stroke-opacity="0.2"/>
<ellipse cx="159.2" cy="849.0" rx="1.6" ry="1.0" transform="rotate(32 159.2 849.0)" fill="#fbfbf6" fill-opacity="0.22" stroke="#b4a88c" stroke-width="0.4" stroke-opacity="0.2"/>
<ellipse cx="43.2" cy="863.6" rx="3.2" ry="2.2" transform="rotate(124 43.2 863.6)" fill="#fbfbf6" fill-opacity="0.22" stroke="#b4a88c" stroke-width="0.4" stroke-opacity="0.2"/>
<ellipse cx="108.5" cy="918.4" rx="3.3" ry="1.3" transform="rotate(131 108.5 918.4)" fill="#fbfbf6" fill-opacity="0.22" stroke="#b4a88c" stroke-width="0.4" stroke-opacity="0.2"/>
<ellipse cx="52.5" cy="879.2" rx="2.4" ry="1.8" transform="rotate(37 52.5 879.2)" fill="#fbfbf6" fill-opacity="0.22" stroke="#b4a88c" stroke-width="0.4" stroke-opacity="0.2"/>
<ellipse cx="93.5" cy="856.2" rx="2.0" ry="2.1" transform="rotate(43 93.5 856.2)" fill="#fbfbf6" fill-opacity="0.22" stroke="#b4a88c" stroke-width="0.4" stroke-opacity="0.2"/>
<ellipse cx="81.6" cy="902.9" rx="1.6" ry="2.2" transform="rotate(58 81.6 902.9)" fill="#fbfbf6" fill-opacity="0.22" stroke="#b4a88c" stroke-width="0.4" stroke-opacity="0.2"/>
<ellipse cx="77.6" cy="872.5" rx="2.2" ry="1.5" transform="rotate(73 77.6 872.5)" fill="#fbfbf6" fill-opacity="0.22" stroke="#b4a88c" stroke-width="0.4" stroke-opacity="0.2"/>
<ellipse cx="94.0" cy="859.1" rx="1.3" ry="2.2" transform="rotate(150 94.0 859.1)" fill="#fbfbf6" fill-opacity="0.22" stroke="#b4a88c" stroke-width="0.4" stroke-opacity="0.2"/>
<ellipse cx="141.4" cy="890.4" rx="3.3" ry="1.0" transform="rotate(9 141.4 890.4)" fill="#fbfbf6" fill-opacity="0.22" stroke="#b4a88c" stroke-width="0.4" stroke-opacity="0.2"/>
<ellipse cx="167.8" cy="896.6" rx="2.4" ry="1.6" transform="rotate(129 167.8 896.6)" fill="#fbfbf6" fill-opacity="0.22" stroke="#b4a88c" stroke-width="0.4" stroke-opacity="0.2"/>
<ellipse cx="129.7" cy="917.9" rx="2.3" ry="2.1" transform="rotate(119 129.7 917.9)" fill="#fbfbf6" fill-opacity="0.22" stroke="#b4a88c" stroke-width="0.4" stroke-opacity="0.2"/>
<ellipse cx="154.1" cy="921.5" rx="1.5" ry="1.5" transform="rotate(121 154.1 921.5)" fill="#fbfbf6" fill-opacity="0.22" stroke="#b4a88c" stroke-width="0.4" stroke-opacity="0.2"/>
<ellipse cx="137.2" cy="885.9" rx="2.5" ry="2.2" transform="rotate(40 137.2 885.9)" fill="#fbfbf6" fill-opacity="0.22" stroke="#b4a88c" stroke-width="0.4" stroke-opacity="0.2"/>
<ellipse cx="72.9" cy="870.8" rx="1.5" ry="1.8" transform="rotate(105 72.9 870.8)" fill="#fbfbf6" fill-opacity="0.22" stroke="#b4a88c" stroke-width="0.4" stroke-opacity="0.2"/>
<ellipse cx="176.3" cy="895.1" rx="1.7" ry="1.0" transform="rotate(107 176.3 895.1)" fill="#fbfbf6" fill-opacity="0.22" stroke="#b4a88c" stroke-width="0.4" stroke-opacity="0.2"/>
<ellipse cx="54.8" cy="852.5" rx="2.2" ry="2.1" transform="rotate(53 54.8 852.5)" fill="#fbfbf6" fill-opacity="0.22" stroke="#b4a88c" stroke-width="0.4" stroke-opacity="0.2"/>
<ellipse cx="73.3" cy="843.7" rx="3.3" ry="2.1" transform="rotate(95 73.3 843.7)" fill="#fbfbf6" fill-opacity="0.22" stroke="#b4a88c" stroke-width="0.4" stroke-opacity="0.2"/>
<ellipse cx="45.1" cy="940.1" rx="2.5" ry="1.9" transform="rotate(120 45.1 940.1)" fill="#fbfbf6" fill-opacity="0.22" stroke="#b4a88c" stroke-width="0.4" stroke-opacity="0.2"/>
<ellipse cx="114.4" cy="882.3" rx="2.9" ry="0.9" transform="rotate(49 114.4 882.3)" fill="#fbfbf6" fill-opacity="0.22" stroke="#b4a88c" stroke-width="0.4" stroke-opacity="0.2"/>
<ellipse cx="115.2" cy="887.5" rx="2.3" ry="1.7" transform="rotate(20 115.2 887.5)" fill="#fbfbf6" fill-opacity="0.22" stroke="#b4a88c" stroke-width="0.4" stroke-opacity="0.2"/>
<ellipse cx="58.7" cy="838.7" rx="2.7" ry="1.8" transform="rotate(4 58.7 838.7)" fill="#fbfbf6" fill-opacity="0.22" stroke="#b4a88c" stroke-width="0.4" stroke-opacity="0.2"/>
<ellipse cx="62.0" cy="873.4" rx="2.9" ry="2.0" transform="rotate(33 62.0 873.4)" fill="#fbfbf6" fill-opacity="0.22" stroke="#b4a88c" stroke-width="0.4" stroke-opacity="0.2"/>
<ellipse cx="100.0" cy="900.7" rx="2.9" ry="1.1" transform="rotate(37 100.0 900.7)" fill="#fbfbf6" fill-opacity="0.22" stroke="#b4a88c" stroke-width="0.4" stroke-opacity="0.2"/>
<ellipse cx="145.1" cy="912.9" rx="1.9" ry="1.2" transform="rotate(80 145.1 912.9)" fill="#fbfbf6" fill-opacity="0.22" stroke="#b4a88c" stroke-width="0.4" stroke-opacity="0.2"/>
<ellipse cx="39.2" cy="905.3" rx="2.9" ry="1.1" transform="rotate(159 39.2 905.3)" fill="#fbfbf6" fill-opacity="0.22" stroke="#b4a88c" stroke-width="0.4" stroke-opacity="0.2"/>
<ellipse cx="156.1" cy="844.1" rx="2.9" ry="2.0" transform="rotate(107 156.1 844.1)" fill="#fbfbf6" fill-opacity="0.22" stroke="#b4a88c" stroke-width="0.4" stroke-opacity="0.2"/>
<ellipse cx="66.8" cy="889.8" rx="3.3" ry="1.8" transform="rotate(173 66.8 889.8)" fill="#fbfbf6" fill-opacity="0.22" stroke="#b4a88c" stroke-width="0.4" stroke-opacity="0.2"/>
<ellipse cx="152.0" cy="902.6" rx="3.0" ry="1.6" transform="rotate(25 152.0 902.6)" fill="#fbfbf6" fill-opacity="0.22" stroke="#b4a88c" stroke-width="0.4" stroke-opacity="0.2"/>
<ellipse cx="113.5" cy="859.6" rx="1.9" ry="0.9" transform="rotate(94 113.5 859.6)" fill="#fbfbf6" fill-opacity="0.22" stroke="#b4a88c" stroke-width="0.4" stroke-opacity="0.2"/>
<ellipse cx="145.6" cy="945.6" rx="2.9" ry="1.9" transform="rotate(137 145.6 945.6)" fill="#fbfbf6" fill-opacity="0.22" stroke="#b4a88c" stroke-width="0.4" stroke-opacity="0.2"/>
<ellipse cx="67.7" cy="904.2" rx="3.2" ry="1.9" transform="rotate(70 67.7 904.2)" fill="#fbfbf6" fill-opacity="0.22" stroke="#b4a88c" stroke-width="0.4" stroke-opacity="0.2"/>
<ellipse cx="139.4" cy="933.0" rx="2.1" ry="1.2" transform="rotate(63 139.4 933.0)" fill="#fbfbf6" fill-opacity="0.22" stroke="#b4a88c" stroke-width="0.4" stroke-opacity="0.2"/>
<ellipse cx="139.1" cy="860.2" rx="1.7" ry="2.3" transform="rotate(8 139.1 860.2)" fill="#fbfbf6" fill-opacity="0.22" stroke="#b4a88c" stroke-width="0.4" stroke-opacity="0.2"/>
<ellipse cx="48.9" cy="924.7" rx="2.7" ry="2.2" transform="rotate(167 48.9 924.7)" fill="#fbfbf6" fill-opacity="0.22" stroke="#b4a88c" stroke-width="0.4" stroke-opacity="0.2"/>
<ellipse cx="60.3" cy="917.3" rx="1.8" ry="1.9" transform="rotate(10 60.3 917.3)" fill="#fbfbf6" fill-opacity="0.22" stroke="#b4a88c" stroke-width="0.4" stroke-opacity="0.2"/>
<ellipse cx="144.7" cy="860.4" rx="2.6" ry="1.5" transform="rotate(119 144.7 860.4)" fill="#fbfbf6" fill-opacity="0.22" stroke="#b4a88c" stroke-width="0.4" stroke-opacity="0.2"/>
<ellipse cx="92.6" cy="840.8" rx="1.9" ry="1.2" transform="rotate(180 92.6 840.8)" fill="#fbfbf6" fill-opacity="0.22" stroke="#b4a88c" stroke-width="0.4" stroke-opacity="0.2"/>
<ellipse cx="40.7" cy="921.1" rx="1.5" ry="1.3" transform="rotate(128 40.7 921.1)" fill="#fbfbf6" fill-opacity="0.22" stroke="#b4a88c" stroke-width="0.4" stroke-opacity="0.2"/>
<ellipse cx="115.0" cy="841.7" rx="1.8" ry="1.3" transform="rotate(116 115.0 841.7)" fill="#fbfbf6" fill-opacity="0.22" stroke="#b4a88c" stroke-width="0.4" stroke-opacity="0.2"/>
<ellipse cx="108.0" cy="887.3" rx="1.2" ry="1.5" transform="rotate(83 108.0 887.3)" fill="#fbfbf6" fill-opacity="0.22" stroke="#b4a88c" stroke-width="0.4" stroke-opacity="0.2"/>
<ellipse cx="54.7" cy="898.8" rx="1.5" ry="1.4" transform="rotate(23 54.7 898.8)" fill="#fbfbf6" fill-opacity="0.22" stroke="#b4a88c" stroke-width="0.4" stroke-opacity="0.2"/>
<ellipse cx="85.8" cy="847.6" rx="2.4" ry="1.8" transform="rotate(169 85.8 847.6)" fill="#fbfbf6" fill-opacity="0.22" stroke="#b4a88c" stroke-width="0.4" stroke-opacity="0.2"/>
<ellipse cx="78.6" cy="850.6" rx="2.1" ry="2.0" transform="rotate(43 78.6 850.6)" fill="#fbfbf6" fill-opacity="0.22" stroke="#b4a88c" stroke-width="0.4" stroke-opacity="0.2"/>
<ellipse cx="171.8" cy="865.8" rx="2.6" ry="1.0" transform="rotate(104 171.8 865.8)" fill="#fbfbf6" fill-opacity="0.22" stroke="#b4a88c" stroke-width="0.4" stroke-opacity="0.2"/>
<ellipse cx="145.0" cy="892.2" rx="1.8" ry="1.7" transform="rotate(179 145.0 892.2)" fill="#fbfbf6" fill-opacity="0.22" stroke="#b4a88c" stroke-width="0.4" stroke-opacity="0.2"/>
<ellipse cx="72.3" cy="918.0" rx="2.4" ry="2.4" transform="rotate(49 72.3 918.0)" fill="#fbfbf6" fill-opacity="0.22" stroke="#b4a88c" stroke-width="0.4" stroke-opacity="0.2"/>
<ellipse cx="156.3" cy="841.5" rx="3.3" ry="0.9" transform="rotate(59 156.3 841.5)" fill="#fbfbf6" fill-opacity="0.22" stroke="#b4a88c" stroke-width="0.4" stroke-opacity="0.2"/>
<ellipse cx="66.8" cy="868.3" rx="3.1" ry="1.1" transform="rotate(105 66.8 868.3)" fill="#fbfbf6" fill-opacity="0.22" stroke="#b4a88c" stroke-width="0.4" stroke-opacity="0.2"/>
<ellipse cx="120.8" cy="844.5" rx="2.9" ry="2.3" transform="rotate(93 120.8 844.5)" fill="#fbfbf6" fill-opacity="0.22" stroke="#b4a88c" stroke-width="0.4" stroke-opacity="0.2"/>
<ellipse cx="63.0" cy="870.6" rx="2.5" ry="2.3" transform="rotate(135 63.0 870.6)" fill="#fbfbf6" fill-opacity="0.22" stroke="#b4a88c" stroke-width="0.4" stroke-opacity="0.2"/>
<ellipse cx="75.5" cy="853.3" rx="2.8" ry="1.6" transform="rotate(58 75.5 853.3)" fill="#fbfbf6" fill-opacity="0.22" stroke="#b4a88c" stroke-width="0.4" stroke-opacity="0.2"/>
<ellipse cx="151.7" cy="871.5" rx="2.9" ry="2.0" transform="rotate(142 151.7 871.5)" fill="#fbfbf6" fill-opacity="0.22" stroke="#b4a88c" stroke-width="0.4" stroke-opacity="0.2"/>
<ellipse cx="69.7" cy="891.0" rx="3.2" ry="1.3" transform="rotate(16 69.7 891.0)" fill="#fbfbf6" fill-opacity="0.22" stroke="#b4a88c" stroke-width="0.4" stroke-opacity="0.2"/>
<ellipse cx="42.2" cy="906.2" rx="2.3" ry="2.0" transform="rotate(167 42.2 906.2)" fill="#fbfbf6" fill-opacity="0.22" stroke="#b4a88c" stroke-width="0.4" stroke-opacity="0.2"/>
<ellipse cx="117.4" cy="884.0" rx="3.1" ry="1.9" transform="rotate(10 117.4 884.0)" fill="#fbfbf6" fill-opacity="0.22" stroke="#b4a88c" stroke-width="0.4" stroke-opacity="0.2"/>
<ellipse cx="73.1" cy="903.5" rx="1.7" ry="2.4" transform="rotate(9 73.1 903.5)" fill="#fbfbf6" fill-opacity="0.22" stroke="#b4a88c" stroke-width="0.4" stroke-opacity="0.2"/>
<path d="M163.9,938.8 Q160.1,939.3 158.2,943.9" stroke="#c0b088" stroke-width="0.6" fill="none" opacity="0.27"/>
<path d="M70.0,945.1 Q69.7,940.5 64.3,937.9" stroke="#c0b088" stroke-width="0.6" fill="none" opacity="0.20"/>
<path d="M118.0,903.6 Q120.6,898.6 116.7,892.4" stroke="#c0b088" stroke-width="0.6" fill="none" opacity="0.30"/>
<path d="M46.6,889.8 Q40.7,890.3 37.4,897.3" stroke="#c0b088" stroke-width="0.6" fill="none" opacity="0.20"/>
<path d="M80.0,868.3 Q74.4,871.9 74.7,880.6" stroke="#c0b088" stroke-width="0.6" fill="none" opacity="0.33"/>
<path d="M175.1,875.8 Q172.9,875.2 170.9,877.4" stroke="#c0b088" stroke-width="0.6" fill="none" opacity="0.28"/>
<path d="M98.9,877.6 Q105.8,876.3 108.7,867.7" stroke="#c0b088" stroke-width="0.6" fill="none" opacity="0.29"/>
<path d="M141.9,912.6 Q145.9,909.8 145.2,903.5" stroke="#c0b088" stroke-width="0.6" fill="none" opacity="0.34"/>
<path d="M61.4,907.8 Q58.3,906.1 54.3,908.6" stroke="#c0b088" stroke-width="0.6" fill="none" opacity="0.29"/>
<path d="M40.7,935.4 Q42.9,933.7 42.3,930.1" stroke="#c0b088" stroke-width="0.6" fill="none" opacity="0.33"/>
<path d="M84.0,916.3 Q87.9,921.0 95.6,919.7" stroke="#c0b088" stroke-width="0.6" fill="none" opacity="0.30"/>
<path d="M93.0,879.0 Q90.9,877.5 87.8,878.8" stroke="#c0b088" stroke-width="0.6" fill="none" opacity="0.35"/>
<path d="M107.2,904.9 Q105.7,902.5 102.0,902.5" stroke="#c0b088" stroke-width="0.6" fill="none" opacity="0.29"/>
<path d="M172.4,945.0 Q168.2,944.1 164.5,948.2" stroke="#c0b088" stroke-width="0.6" fill="none" opacity="0.35"/>
<path d="M148.2,911.0 Q149.1,904.7 142.7,899.5" stroke="#c0b088" stroke-width="0.6" fill="none" opacity="0.21"/>
<path d="M84.1,874.4 Q83.0,879.2 87.8,883.7" stroke="#c0b088" stroke-width="0.6" fill="none" opacity="0.15"/>
<path d="M123.2,869.5 Q120.4,869.4 118.5,872.4" stroke="#c0b088" stroke-width="0.6" fill="none" opacity="0.32"/>
<path d="M63.6,842.7 Q65.4,841.4 65.2,838.6" stroke="#c0b088" stroke-width="0.6" fill="none" opacity="0.21"/>
<path d="M178.0,856.1 Q174.2,852.0 167.2,853.5" stroke="#c0b088" stroke-width="0.6" fill="none" opacity="0.26"/>
<path d="M110.0,920.2 Q112.1,923.1 116.8,922.5" stroke="#c0b088" stroke-width="0.6" fill="none" opacity="0.19"/>
<path d="M176.2,934.8 Q174.6,939.2 178.7,943.9" stroke="#c0b088" stroke-width="0.6" fill="none" opacity="0.30"/>
<path d="M112.2,918.7 Q113.7,917.0 112.8,914.2" stroke="#c0b088" stroke-width="0.6" fill="none" opacity="0.17"/>
<path d="M66.2,861.3 Q67.1,864.6 71.5,865.8" stroke="#c0b088" stroke-width="0.6" fill="none" opacity="0.24"/>
<path d="M96.9,855.9 Q94.0,851.7 87.3,852.3" stroke="#c0b088" stroke-width="0.6" fill="none" opacity="0.20"/>
<path d="M176.3,910.0 Q180.6,911.1 184.7,907.1" stroke="#c0b088" stroke-width="0.6" fill="none" opacity="0.30"/>
<circle cx="126.4" cy="935.3" r="0.75" fill="#5ab8b0" opacity="0.87" filter="url(#blur1)"/>
<circle cx="78.9" cy="881.7" r="0.84" fill="#48b0b4" opacity="0.87" filter="url(#blur1)"/>
<circle cx="166.8" cy="865.1" r="0.53" fill="#70c0b8" opacity="0.89" filter="url(#blur1)"/>
<circle cx="95.0" cy="866.2" r="0.81" fill="#5ab8b0" opacity="0.57" filter="url(#blur1)"/>
<circle cx="40.8" cy="941.0" r="0.86" fill="#5ab8b0" opacity="0.76" filter="url(#blur1)"/>
<circle cx="35.3" cy="897.6" r="0.59" fill="#70c0b8" opacity="0.84" filter="url(#blur1)"/>
<circle cx="112.0" cy="931.0" r="0.62" fill="#48b0b4" opacity="0.55" filter="url(#blur1)"/>
<circle cx="176.6" cy="915.4" r="0.67" fill="#5ab8b0" opacity="0.83" filter="url(#blur1)"/>
<circle cx="120.2" cy="902.2" r="5.3" fill="none" stroke="#d8cca0" stroke-width="1.1" opacity="0.38"/>
<circle cx="129.60000000000002" cy="915.8000000000001" r="7.4" fill="none" stroke="#d8cca0" stroke-width="1.1" opacity="0.38"/>
<circle cx="70.80000000000001" cy="895.8000000000001" r="6" fill="none" stroke="#d8cca0" stroke-width="1.1" opacity="0.38"/>
<rect x="34.2" y="844.2" width="2" height="38" fill="#9aa890" opacity="0.5" filter="url(#blur1)"/>
<path d="M34.2,924.2 Q42.2,930.2 46.2,945.7 L34.2,945.7 Z" fill="#b8c0a8" opacity="0.55" filter="url(#blur1)"/>
<path d="M34.2,840.2 Q44.2,842.2 54.2,838.2 L34.2,838.2 Z" fill="#f4f4f0" opacity="0.8"/>
<rect x="175.3" y="838.2" width="2" height="60" fill="#b8b8a8" opacity="0.3" filter="url(#blur1)"/>
</g>
<text x="260.60" y="834.70" font-size="12" font-weight="bold" text-anchor="middle" fill="#000" >Metformin</text>
<clipPath id="cp1"><rect x="188.20" y="838.2" width="144.70" height="107.50"/></clipPath>
<g clip-path="url(#cp1)">
<rect x="188.20" y="838.2" width="144.70" height="107.50" fill="#e6ebe3"/>
<circle cx="228.2" cy="853.2" r="42" fill="#d3eae5" opacity="0.85" filter="url(#blur4)"/>
<circle cx="283.2" cy="856.2" r="42" fill="#d5ebe6" opacity="0.85" filter="url(#blur4)"/>
<circle cx="328.2" cy="868.2" r="30" fill="#d8ece7" opacity="0.8" filter="url(#blur4)"/>
<circle cx="203.2" cy="893.2" r="25" fill="#d8ebe6" opacity="0.7" filter="url(#blur4)"/>
<circle cx="263.2" cy="938.2" r="55" fill="#ebe9de" opacity="0.9" filter="url(#blur4)"/>
<circle cx="208.2" cy="936.2" r="25" fill="#e9e8dc" opacity="0.7" filter="url(#blur4)"/>
<rect x="188.20" y="838.2" width="144.70" height="107.50" filter="url(#tex3)" opacity="0.3"/>
<rect x="188.20" y="838.2" width="144.70" height="107.50" filter="url(#tex1)" opacity="0.35"/>
<rect x="188.20" y="838.2" width="144.70" height="107.50" filter="url(#tex2)" opacity="0.45"/>
<ellipse cx="272.3" cy="859.1" rx="3.3" ry="2.3" transform="rotate(84 272.3 859.1)" fill="#fbfbf6" fill-opacity="0.22" stroke="#b4a88c" stroke-width="0.4" stroke-opacity="0.2"/>
<ellipse cx="284.2" cy="861.3" rx="1.7" ry="1.3" transform="rotate(125 284.2 861.3)" fill="#fbfbf6" fill-opacity="0.22" stroke="#b4a88c" stroke-width="0.4" stroke-opacity="0.2"/>
<ellipse cx="218.9" cy="942.6" rx="1.4" ry="1.1" transform="rotate(16 218.9 942.6)" fill="#fbfbf6" fill-opacity="0.22" stroke="#b4a88c" stroke-width="0.4" stroke-opacity="0.2"/>
<ellipse cx="299.6" cy="877.6" rx="2.2" ry="1.3" transform="rotate(115 299.6 877.6)" fill="#fbfbf6" fill-opacity="0.22" stroke="#b4a88c" stroke-width="0.4" stroke-opacity="0.2"/>
<ellipse cx="246.6" cy="860.6" rx="2.1" ry="1.3" transform="rotate(20 246.6 860.6)" fill="#fbfbf6" fill-opacity="0.22" stroke="#b4a88c" stroke-width="0.4" stroke-opacity="0.2"/>
<ellipse cx="307.3" cy="911.3" rx="2.7" ry="2.2" transform="rotate(71 307.3 911.3)" fill="#fbfbf6" fill-opacity="0.22" stroke="#b4a88c" stroke-width="0.4" stroke-opacity="0.2"/>
<ellipse cx="243.1" cy="883.7" rx="2.1" ry="1.9" transform="rotate(1 243.1 883.7)" fill="#fbfbf6" fill-opacity="0.22" stroke="#b4a88c" stroke-width="0.4" stroke-opacity="0.2"/>
<ellipse cx="255.4" cy="895.7" rx="2.0" ry="0.8" transform="rotate(127 255.4 895.7)" fill="#fbfbf6" fill-opacity="0.22" stroke="#b4a88c" stroke-width="0.4" stroke-opacity="0.2"/>
<ellipse cx="189.6" cy="898.9" rx="1.5" ry="0.9" transform="rotate(33 189.6 898.9)" fill="#fbfbf6" fill-opacity="0.22" stroke="#b4a88c" stroke-width="0.4" stroke-opacity="0.2"/>
<ellipse cx="197.7" cy="854.4" rx="2.7" ry="2.0" transform="rotate(65 197.7 854.4)" fill="#fbfbf6" fill-opacity="0.22" stroke="#b4a88c" stroke-width="0.4" stroke-opacity="0.2"/>
<ellipse cx="282.6" cy="889.3" rx="2.3" ry="2.2" transform="rotate(56 282.6 889.3)" fill="#fbfbf6" fill-opacity="0.22" stroke="#b4a88c" stroke-width="0.4" stroke-opacity="0.2"/>
<ellipse cx="314.1" cy="912.5" rx="2.7" ry="0.8" transform="rotate(15 314.1 912.5)" fill="#fbfbf6" fill-opacity="0.22" stroke="#b4a88c" stroke-width="0.4" stroke-opacity="0.2"/>
<ellipse cx="192.8" cy="875.4" rx="3.3" ry="2.2" transform="rotate(151 192.8 875.4)" fill="#fbfbf6" fill-opacity="0.22" stroke="#b4a88c" stroke-width="0.4" stroke-opacity="0.2"/>
<ellipse cx="205.4" cy="914.1" rx="2.9" ry="2.1" transform="rotate(143 205.4 914.1)" fill="#fbfbf6" fill-opacity="0.22" stroke="#b4a88c" stroke-width="0.4" stroke-opacity="0.2"/>
<ellipse cx="208.5" cy="857.4" rx="2.9" ry="2.0" transform="rotate(161 208.5 857.4)" fill="#fbfbf6" fill-opacity="0.22" stroke="#b4a88c" stroke-width="0.4" stroke-opacity="0.2"/>
<ellipse cx="252.8" cy="933.8" rx="1.5" ry="2.3" transform="rotate(159 252.8 933.8)" fill="#fbfbf6" fill-opacity="0.22" stroke="#b4a88c" stroke-width="0.4" stroke-opacity="0.2"/>
<ellipse cx="237.0" cy="845.5" rx="2.4" ry="1.9" transform="rotate(63 237.0 845.5)" fill="#fbfbf6" fill-opacity="0.22" stroke="#b4a88c" stroke-width="0.4" stroke-opacity="0.2"/>
<ellipse cx="196.5" cy="868.2" rx="3.0" ry="0.9" transform="rotate(169 196.5 868.2)" fill="#fbfbf6" fill-opacity="0.22" stroke="#b4a88c" stroke-width="0.4" stroke-opacity="0.2"/>
<ellipse cx="224.4" cy="860.2" rx="1.4" ry="2.4" transform="rotate(162 224.4 860.2)" fill="#fbfbf6" fill-opacity="0.22" stroke="#b4a88c" stroke-width="0.4" stroke-opacity="0.2"/>
<ellipse cx="234.4" cy="848.5" rx="2.6" ry="2.2" transform="rotate(2 234.4 848.5)" fill="#fbfbf6" fill-opacity="0.22" stroke="#b4a88c" stroke-width="0.4" stroke-opacity="0.2"/>
<ellipse cx="279.8" cy="930.3" rx="2.2" ry="1.7" transform="rotate(145 279.8 930.3)" fill="#fbfbf6" fill-opacity="0.22" stroke="#b4a88c" stroke-width="0.4" stroke-opacity="0.2"/>
<ellipse cx="222.7" cy="867.6" rx="2.7" ry="1.7" transform="rotate(96 222.7 867.6)" fill="#fbfbf6" fill-opacity="0.22" stroke="#b4a88c" stroke-width="0.4" stroke-opacity="0.2"/>
<ellipse cx="236.6" cy="938.9" rx="1.8" ry="1.9" transform="rotate(161 236.6 938.9)" fill="#fbfbf6" fill-opacity="0.22" stroke="#b4a88c" stroke-width="0.4" stroke-opacity="0.2"/>
<ellipse cx="246.2" cy="844.0" rx="1.7" ry="0.9" transform="rotate(27 246.2 844.0)" fill="#fbfbf6" fill-opacity="0.22" stroke="#b4a88c" stroke-width="0.4" stroke-opacity="0.2"/>
<ellipse cx="205.6" cy="875.0" rx="2.0" ry="1.5" transform="rotate(120 205.6 875.0)" fill="#fbfbf6" fill-opacity="0.22" stroke="#b4a88c" stroke-width="0.4" stroke-opacity="0.2"/>
<ellipse cx="286.1" cy="912.1" rx="2.0" ry="1.9" transform="rotate(99 286.1 912.1)" fill="#fbfbf6" fill-opacity="0.22" stroke="#b4a88c" stroke-width="0.4" stroke-opacity="0.2"/>
<ellipse cx="206.7" cy="896.9" rx="1.9" ry="1.9" transform="rotate(132 206.7 896.9)" fill="#fbfbf6" fill-opacity="0.22" stroke="#b4a88c" stroke-width="0.4" stroke-opacity="0.2"/>
<ellipse cx="223.0" cy="885.0" rx="2.2" ry="1.3" transform="rotate(7 223.0 885.0)" fill="#fbfbf6" fill-opacity="0.22" stroke="#b4a88c" stroke-width="0.4" stroke-opacity="0.2"/>
<ellipse cx="195.4" cy="944.9" rx="2.8" ry="1.5" transform="rotate(120 195.4 944.9)" fill="#fbfbf6" fill-opacity="0.22" stroke="#b4a88c" stroke-width="0.4" stroke-opacity="0.2"/>
<ellipse cx="227.1" cy="914.6" rx="3.3" ry="2.0" transform="rotate(84 227.1 914.6)" fill="#fbfbf6" fill-opacity="0.22" stroke="#b4a88c" stroke-width="0.4" stroke-opacity="0.2"/>
<ellipse cx="330.5" cy="937.3" rx="1.3" ry="1.5" transform="rotate(81 330.5 937.3)" fill="#fbfbf6" fill-opacity="0.22" stroke="#b4a88c" stroke-width="0.4" stroke-opacity="0.2"/>
<ellipse cx="227.9" cy="904.5" rx="1.5" ry="2.0" transform="rotate(154 227.9 904.5)" fill="#fbfbf6" fill-opacity="0.22" stroke="#b4a88c" stroke-width="0.4" stroke-opacity="0.2"/>
<ellipse cx="197.1" cy="912.6" rx="1.8" ry="1.8" transform="rotate(124 197.1 912.6)" fill="#fbfbf6" fill-opacity="0.22" stroke="#b4a88c" stroke-width="0.4" stroke-opacity="0.2"/>
<ellipse cx="329.5" cy="924.0" rx="1.9" ry="2.0" transform="rotate(26 329.5 924.0)" fill="#fbfbf6" fill-opacity="0.22" stroke="#b4a88c" stroke-width="0.4" stroke-opacity="0.2"/>
<ellipse cx="291.5" cy="883.0" rx="1.8" ry="1.2" transform="rotate(39 291.5 883.0)" fill="#fbfbf6" fill-opacity="0.22" stroke="#b4a88c" stroke-width="0.4" stroke-opacity="0.2"/>
<ellipse cx="303.4" cy="848.5" rx="1.7" ry="1.1" transform="rotate(28 303.4 848.5)" fill="#fbfbf6" fill-opacity="0.22" stroke="#b4a88c" stroke-width="0.4" stroke-opacity="0.2"/>
<ellipse cx="293.8" cy="901.3" rx="2.7" ry="2.2" transform="rotate(81 293.8 901.3)" fill="#fbfbf6" fill-opacity="0.22" stroke="#b4a88c" stroke-width="0.4" stroke-opacity="0.2"/>
<ellipse cx="193.7" cy="858.5" rx="2.3" ry="1.9" transform="rotate(165 193.7 858.5)" fill="#fbfbf6" fill-opacity="0.22" stroke="#b4a88c" stroke-width="0.4" stroke-opacity="0.2"/>
<ellipse cx="262.2" cy="862.6" rx="2.5" ry="2.3" transform="rotate(60 262.2 862.6)" fill="#fbfbf6" fill-opacity="0.22" stroke="#b4a88c" stroke-width="0.4" stroke-opacity="0.2"/>
<ellipse cx="322.9" cy="935.4" rx="2.5" ry="1.6" transform="rotate(23 322.9 935.4)" fill="#fbfbf6" fill-opacity="0.22" stroke="#b4a88c" stroke-width="0.4" stroke-opacity="0.2"/>
<ellipse cx="204.2" cy="842.6" rx="2.5" ry="1.9" transform="rotate(179 204.2 842.6)" fill="#fbfbf6" fill-opacity="0.22" stroke="#b4a88c" stroke-width="0.4" stroke-opacity="0.2"/>
<ellipse cx="275.4" cy="945.0" rx="2.1" ry="1.0" transform="rotate(11 275.4 945.0)" fill="#fbfbf6" fill-opacity="0.22" stroke="#b4a88c" stroke-width="0.4" stroke-opacity="0.2"/>
<ellipse cx="229.9" cy="895.3" rx="3.4" ry="1.3" transform="rotate(42 229.9 895.3)" fill="#fbfbf6" fill-opacity="0.22" stroke="#b4a88c" stroke-width="0.4" stroke-opacity="0.2"/>
<ellipse cx="292.9" cy="880.0" rx="2.4" ry="1.0" transform="rotate(154 292.9 880.0)" fill="#fbfbf6" fill-opacity="0.22" stroke="#b4a88c" stroke-width="0.4" stroke-opacity="0.2"/>
<ellipse cx="321.2" cy="919.4" rx="3.3" ry="1.3" transform="rotate(6 321.2 919.4)" fill="#fbfbf6" fill-opacity="0.22" stroke="#b4a88c" stroke-width="0.4" stroke-opacity="0.2"/>
<ellipse cx="232.3" cy="934.7" rx="2.2" ry="1.1" transform="rotate(27 232.3 934.7)" fill="#fbfbf6" fill-opacity="0.22" stroke="#b4a88c" stroke-width="0.4" stroke-opacity="0.2"/>
<ellipse cx="212.0" cy="885.4" rx="3.2" ry="2.2" transform="rotate(136 212.0 885.4)" fill="#fbfbf6" fill-opacity="0.22" stroke="#b4a88c" stroke-width="0.4" stroke-opacity="0.2"/>
<ellipse cx="297.6" cy="858.7" rx="2.9" ry="1.2" transform="rotate(95 297.6 858.7)" fill="#fbfbf6" fill-opacity="0.22" stroke="#b4a88c" stroke-width="0.4" stroke-opacity="0.2"/>
<ellipse cx="193.0" cy="934.1" rx="1.5" ry="1.7" transform="rotate(119 193.0 934.1)" fill="#fbfbf6" fill-opacity="0.22" stroke="#b4a88c" stroke-width="0.4" stroke-opacity="0.2"/>
<ellipse cx="281.4" cy="911.5" rx="2.0" ry="2.1" transform="rotate(169 281.4 911.5)" fill="#fbfbf6" fill-opacity="0.22" stroke="#b4a88c" stroke-width="0.4" stroke-opacity="0.2"/>
<ellipse cx="277.5" cy="943.5" rx="3.1" ry="0.9" transform="rotate(121 277.5 943.5)" fill="#fbfbf6" fill-opacity="0.22" stroke="#b4a88c" stroke-width="0.4" stroke-opacity="0.2"/>
<ellipse cx="201.4" cy="909.3" rx="2.0" ry="2.2" transform="rotate(8 201.4 909.3)" fill="#fbfbf6" fill-opacity="0.22" stroke="#b4a88c" stroke-width="0.4" stroke-opacity="0.2"/>
<ellipse cx="325.2" cy="842.9" rx="1.3" ry="0.8" transform="rotate(23 325.2 842.9)" fill="#fbfbf6" fill-opacity="0.22" stroke="#b4a88c" stroke-width="0.4" stroke-opacity="0.2"/>
<ellipse cx="330.9" cy="928.0" rx="3.2" ry="1.1" transform="rotate(124 330.9 928.0)" fill="#fbfbf6" fill-opacity="0.22" stroke="#b4a88c" stroke-width="0.4" stroke-opacity="0.2"/>
<ellipse cx="303.3" cy="916.3" rx="1.8" ry="2.4" transform="rotate(131 303.3 916.3)" fill="#fbfbf6" fill-opacity="0.22" stroke="#b4a88c" stroke-width="0.4" stroke-opacity="0.2"/>
<ellipse cx="287.2" cy="868.8" rx="2.1" ry="2.0" transform="rotate(93 287.2 868.8)" fill="#fbfbf6" fill-opacity="0.22" stroke="#b4a88c" stroke-width="0.4" stroke-opacity="0.2"/>
<ellipse cx="258.8" cy="937.1" rx="2.1" ry="2.2" transform="rotate(8 258.8 937.1)" fill="#fbfbf6" fill-opacity="0.22" stroke="#b4a88c" stroke-width="0.4" stroke-opacity="0.2"/>
<ellipse cx="265.0" cy="914.8" rx="1.2" ry="1.9" transform="rotate(51 265.0 914.8)" fill="#fbfbf6" fill-opacity="0.22" stroke="#b4a88c" stroke-width="0.4" stroke-opacity="0.2"/>
<ellipse cx="278.7" cy="905.2" rx="1.5" ry="2.3" transform="rotate(44 278.7 905.2)" fill="#fbfbf6" fill-opacity="0.22" stroke="#b4a88c" stroke-width="0.4" stroke-opacity="0.2"/>
<ellipse cx="207.9" cy="885.8" rx="1.3" ry="1.0" transform="rotate(137 207.9 885.8)" fill="#fbfbf6" fill-opacity="0.22" stroke="#b4a88c" stroke-width="0.4" stroke-opacity="0.2"/>
<ellipse cx="202.3" cy="896.4" rx="3.1" ry="1.5" transform="rotate(147 202.3 896.4)" fill="#fbfbf6" fill-opacity="0.22" stroke="#b4a88c" stroke-width="0.4" stroke-opacity="0.2"/>
<ellipse cx="308.3" cy="855.9" rx="1.4" ry="2.1" transform="rotate(156 308.3 855.9)" fill="#fbfbf6" fill-opacity="0.22" stroke="#b4a88c" stroke-width="0.4" stroke-opacity="0.2"/>
<ellipse cx="311.6" cy="915.0" rx="2.3" ry="2.3" transform="rotate(133 311.6 915.0)" fill="#fbfbf6" fill-opacity="0.22" stroke="#b4a88c" stroke-width="0.4" stroke-opacity="0.2"/>
<ellipse cx="298.6" cy="936.2" rx="1.3" ry="2.0" transform="rotate(105 298.6 936.2)" fill="#fbfbf6" fill-opacity="0.22" stroke="#b4a88c" stroke-width="0.4" stroke-opacity="0.2"/>
<ellipse cx="190.0" cy="865.7" rx="2.8" ry="1.6" transform="rotate(101 190.0 865.7)" fill="#fbfbf6" fill-opacity="0.22" stroke="#b4a88c" stroke-width="0.4" stroke-opacity="0.2"/>
<ellipse cx="229.8" cy="899.1" rx="3.1" ry="2.4" transform="rotate(99 229.8 899.1)" fill="#fbfbf6" fill-opacity="0.22" stroke="#b4a88c" stroke-width="0.4" stroke-opacity="0.2"/>
<ellipse cx="294.0" cy="847.6" rx="1.5" ry="1.7" transform="rotate(149 294.0 847.6)" fill="#fbfbf6" fill-opacity="0.22" stroke="#b4a88c" stroke-width="0.4" stroke-opacity="0.2"/>
<ellipse cx="205.5" cy="854.0" rx="2.3" ry="1.3" transform="rotate(25 205.5 854.0)" fill="#fbfbf6" fill-opacity="0.22" stroke="#b4a88c" stroke-width="0.4" stroke-opacity="0.2"/>
<ellipse cx="211.1" cy="883.8" rx="2.9" ry="1.1" transform="rotate(145 211.1 883.8)" fill="#fbfbf6" fill-opacity="0.22" stroke="#b4a88c" stroke-width="0.4" stroke-opacity="0.2"/>
<ellipse cx="199.0" cy="865.2" rx="2.7" ry="0.8" transform="rotate(58 199.0 865.2)" fill="#fbfbf6" fill-opacity="0.22" stroke="#b4a88c" stroke-width="0.4" stroke-opacity="0.2"/>
<ellipse cx="210.6" cy="863.0" rx="3.2" ry="1.1" transform="rotate(130 210.6 863.0)" fill="#fbfbf6" fill-opacity="0.22" stroke="#b4a88c" stroke-width="0.4" stroke-opacity="0.2"/>
<ellipse cx="319.9" cy="864.7" rx="3.1" ry="1.3" transform="rotate(139 319.9 864.7)" fill="#fbfbf6" fill-opacity="0.22" stroke="#b4a88c" stroke-width="0.4" stroke-opacity="0.2"/>
<ellipse cx="272.3" cy="875.9" rx="3.1" ry="1.9" transform="rotate(57 272.3 875.9)" fill="#fbfbf6" fill-opacity="0.22" stroke="#b4a88c" stroke-width="0.4" stroke-opacity="0.2"/>
<ellipse cx="271.2" cy="869.9" rx="1.8" ry="2.3" transform="rotate(176 271.2 869.9)" fill="#fbfbf6" fill-opacity="0.22" stroke="#b4a88c" stroke-width="0.4" stroke-opacity="0.2"/>
<ellipse cx="211.0" cy="936.7" rx="2.8" ry="0.8" transform="rotate(19 211.0 936.7)" fill="#fbfbf6" fill-opacity="0.22" stroke="#b4a88c" stroke-width="0.4" stroke-opacity="0.2"/>
<ellipse cx="251.3" cy="933.6" rx="3.1" ry="1.2" transform="rotate(80 251.3 933.6)" fill="#fbfbf6" fill-opacity="0.22" stroke="#b4a88c" stroke-width="0.4" stroke-opacity="0.2"/>
<ellipse cx="322.1" cy="860.7" rx="1.4" ry="1.5" transform="rotate(123 322.1 860.7)" fill="#fbfbf6" fill-opacity="0.22" stroke="#b4a88c" stroke-width="0.4" stroke-opacity="0.2"/>
<ellipse cx="314.5" cy="932.5" rx="1.2" ry="1.1" transform="rotate(23 314.5 932.5)" fill="#fbfbf6" fill-opacity="0.22" stroke="#b4a88c" stroke-width="0.4" stroke-opacity="0.2"/>
<ellipse cx="274.4" cy="881.8" rx="3.2" ry="1.8" transform="rotate(111 274.4 881.8)" fill="#fbfbf6" fill-opacity="0.22" stroke="#b4a88c" stroke-width="0.4" stroke-opacity="0.2"/>
<ellipse cx="287.6" cy="860.2" rx="3.2" ry="2.2" transform="rotate(148 287.6 860.2)" fill="#fbfbf6" fill-opacity="0.22" stroke="#b4a88c" stroke-width="0.4" stroke-opacity="0.2"/>
<ellipse cx="301.4" cy="856.7" rx="1.3" ry="1.4" transform="rotate(129 301.4 856.7)" fill="#fbfbf6" fill-opacity="0.22" stroke="#b4a88c" stroke-width="0.4" stroke-opacity="0.2"/>
<ellipse cx="217.2" cy="931.6" rx="3.1" ry="1.9" transform="rotate(87 217.2 931.6)" fill="#fbfbf6" fill-opacity="0.22" stroke="#b4a88c" stroke-width="0.4" stroke-opacity="0.2"/>
<ellipse cx="210.0" cy="925.2" rx="1.6" ry="1.6" transform="rotate(137 210.0 925.2)" fill="#fbfbf6" fill-opacity="0.22" stroke="#b4a88c" stroke-width="0.4" stroke-opacity="0.2"/>
<ellipse cx="280.2" cy="863.6" rx="3.1" ry="1.3" transform="rotate(76 280.2 863.6)" fill="#fbfbf6" fill-opacity="0.22" stroke="#b4a88c" stroke-width="0.4" stroke-opacity="0.2"/>
<ellipse cx="251.6" cy="913.6" rx="1.3" ry="1.8" transform="rotate(88 251.6 913.6)" fill="#fbfbf6" fill-opacity="0.22" stroke="#b4a88c" stroke-width="0.4" stroke-opacity="0.2"/>
<ellipse cx="304.1" cy="877.5" rx="2.5" ry="2.3" transform="rotate(10 304.1 877.5)" fill="#fbfbf6" fill-opacity="0.22" stroke="#b4a88c" stroke-width="0.4" stroke-opacity="0.2"/>
<ellipse cx="302.8" cy="888.5" rx="1.9" ry="1.2" transform="rotate(39 302.8 888.5)" fill="#fbfbf6" fill-opacity="0.22" stroke="#b4a88c" stroke-width="0.4" stroke-opacity="0.2"/>
<ellipse cx="310.2" cy="860.0" rx="3.3" ry="1.6" transform="rotate(51 310.2 860.0)" fill="#fbfbf6" fill-opacity="0.22" stroke="#b4a88c" stroke-width="0.4" stroke-opacity="0.2"/>
<ellipse cx="301.5" cy="900.7" rx="3.1" ry="1.0" transform="rotate(125 301.5 900.7)" fill="#fbfbf6" fill-opacity="0.22" stroke="#b4a88c" stroke-width="0.4" stroke-opacity="0.2"/>
<ellipse cx="192.2" cy="857.9" rx="2.1" ry="1.3" transform="rotate(51 192.2 857.9)" fill="#fbfbf6" fill-opacity="0.22" stroke="#b4a88c" stroke-width="0.4" stroke-opacity="0.2"/>
<ellipse cx="270.6" cy="918.5" rx="2.1" ry="1.6" transform="rotate(141 270.6 918.5)" fill="#fbfbf6" fill-opacity="0.22" stroke="#b4a88c" stroke-width="0.4" stroke-opacity="0.2"/>
<ellipse cx="220.9" cy="945.5" rx="1.3" ry="1.4" transform="rotate(149 220.9 945.5)" fill="#fbfbf6" fill-opacity="0.22" stroke="#b4a88c" stroke-width="0.4" stroke-opacity="0.2"/>
<ellipse cx="222.2" cy="873.8" rx="1.6" ry="2.4" transform="rotate(158 222.2 873.8)" fill="#fbfbf6" fill-opacity="0.22" stroke="#b4a88c" stroke-width="0.4" stroke-opacity="0.2"/>
<ellipse cx="200.0" cy="896.1" rx="1.5" ry="0.8" transform="rotate(40 200.0 896.1)" fill="#fbfbf6" fill-opacity="0.22" stroke="#b4a88c" stroke-width="0.4" stroke-opacity="0.2"/>
<ellipse cx="289.9" cy="895.0" rx="1.8" ry="1.7" transform="rotate(15 289.9 895.0)" fill="#fbfbf6" fill-opacity="0.22" stroke="#b4a88c" stroke-width="0.4" stroke-opacity="0.2"/>
<ellipse cx="237.7" cy="848.7" rx="3.0" ry="1.4" transform="rotate(129 237.7 848.7)" fill="#fbfbf6" fill-opacity="0.22" stroke="#b4a88c" stroke-width="0.4" stroke-opacity="0.2"/>
<ellipse cx="236.8" cy="882.9" rx="2.5" ry="1.2" transform="rotate(98 236.8 882.9)" fill="#fbfbf6" fill-opacity="0.22" stroke="#b4a88c" stroke-width="0.4" stroke-opacity="0.2"/>
<ellipse cx="300.0" cy="846.2" rx="1.6" ry="0.8" transform="rotate(88 300.0 846.2)" fill="#fbfbf6" fill-opacity="0.22" stroke="#b4a88c" stroke-width="0.4" stroke-opacity="0.2"/>
<ellipse cx="204.1" cy="894.2" rx="1.6" ry="1.6" transform="rotate(51 204.1 894.2)" fill="#fbfbf6" fill-opacity="0.22" stroke="#b4a88c" stroke-width="0.4" stroke-opacity="0.2"/>
<ellipse cx="296.6" cy="925.9" rx="3.3" ry="1.5" transform="rotate(160 296.6 925.9)" fill="#fbfbf6" fill-opacity="0.22" stroke="#b4a88c" stroke-width="0.4" stroke-opacity="0.2"/>
<ellipse cx="312.9" cy="874.3" rx="3.4" ry="2.3" transform="rotate(28 312.9 874.3)" fill="#fbfbf6" fill-opacity="0.22" stroke="#b4a88c" stroke-width="0.4" stroke-opacity="0.2"/>
<ellipse cx="297.0" cy="912.1" rx="2.6" ry="1.9" transform="rotate(50 297.0 912.1)" fill="#fbfbf6" fill-opacity="0.22" stroke="#b4a88c" stroke-width="0.4" stroke-opacity="0.2"/>
<ellipse cx="308.9" cy="915.8" rx="1.6" ry="2.3" transform="rotate(132 308.9 915.8)" fill="#fbfbf6" fill-opacity="0.22" stroke="#b4a88c" stroke-width="0.4" stroke-opacity="0.2"/>
<ellipse cx="196.3" cy="841.7" rx="1.6" ry="1.9" transform="rotate(130 196.3 841.7)" fill="#fbfbf6" fill-opacity="0.22" stroke="#b4a88c" stroke-width="0.4" stroke-opacity="0.2"/>
<ellipse cx="322.9" cy="933.2" rx="1.6" ry="1.1" transform="rotate(15 322.9 933.2)" fill="#fbfbf6" fill-opacity="0.22" stroke="#b4a88c" stroke-width="0.4" stroke-opacity="0.2"/>
<ellipse cx="244.6" cy="883.7" rx="2.0" ry="2.1" transform="rotate(110 244.6 883.7)" fill="#fbfbf6" fill-opacity="0.22" stroke="#b4a88c" stroke-width="0.4" stroke-opacity="0.2"/>
<ellipse cx="304.5" cy="930.9" rx="2.9" ry="1.6" transform="rotate(74 304.5 930.9)" fill="#fbfbf6" fill-opacity="0.22" stroke="#b4a88c" stroke-width="0.4" stroke-opacity="0.2"/>
<ellipse cx="265.8" cy="887.6" rx="2.7" ry="2.2" transform="rotate(122 265.8 887.6)" fill="#fbfbf6" fill-opacity="0.22" stroke="#b4a88c" stroke-width="0.4" stroke-opacity="0.2"/>
<ellipse cx="225.0" cy="898.9" rx="2.2" ry="1.0" transform="rotate(19 225.0 898.9)" fill="#fbfbf6" fill-opacity="0.22" stroke="#b4a88c" stroke-width="0.4" stroke-opacity="0.2"/>
<ellipse cx="253.4" cy="939.3" rx="2.7" ry="0.9" transform="rotate(165 253.4 939.3)" fill="#fbfbf6" fill-opacity="0.22" stroke="#b4a88c" stroke-width="0.4" stroke-opacity="0.2"/>
<ellipse cx="293.1" cy="903.1" rx="1.2" ry="1.3" transform="rotate(60 293.1 903.1)" fill="#fbfbf6" fill-opacity="0.22" stroke="#b4a88c" stroke-width="0.4" stroke-opacity="0.2"/>
<ellipse cx="258.0" cy="851.4" rx="2.6" ry="1.8" transform="rotate(115 258.0 851.4)" fill="#fbfbf6" fill-opacity="0.22" stroke="#b4a88c" stroke-width="0.4" stroke-opacity="0.2"/>
<ellipse cx="259.7" cy="898.1" rx="1.4" ry="2.1" transform="rotate(156 259.7 898.1)" fill="#fbfbf6" fill-opacity="0.22" stroke="#b4a88c" stroke-width="0.4" stroke-opacity="0.2"/>
<ellipse cx="311.4" cy="920.7" rx="1.7" ry="1.3" transform="rotate(9 311.4 920.7)" fill="#fbfbf6" fill-opacity="0.22" stroke="#b4a88c" stroke-width="0.4" stroke-opacity="0.2"/>
<ellipse cx="301.9" cy="930.6" rx="3.3" ry="1.8" transform="rotate(144 301.9 930.6)" fill="#fbfbf6" fill-opacity="0.22" stroke="#b4a88c" stroke-width="0.4" stroke-opacity="0.2"/>
<ellipse cx="310.6" cy="851.2" rx="1.4" ry="2.2" transform="rotate(175 310.6 851.2)" fill="#fbfbf6" fill-opacity="0.22" stroke="#b4a88c" stroke-width="0.4" stroke-opacity="0.2"/>
<ellipse cx="291.8" cy="904.8" rx="2.1" ry="2.2" transform="rotate(51 291.8 904.8)" fill="#fbfbf6" fill-opacity="0.22" stroke="#b4a88c" stroke-width="0.4" stroke-opacity="0.2"/>
<ellipse cx="196.0" cy="924.6" rx="1.3" ry="1.9" transform="rotate(117 196.0 924.6)" fill="#fbfbf6" fill-opacity="0.22" stroke="#b4a88c" stroke-width="0.4" stroke-opacity="0.2"/>
<ellipse cx="204.2" cy="885.1" rx="1.8" ry="2.1" transform="rotate(140 204.2 885.1)" fill="#fbfbf6" fill-opacity="0.22" stroke="#b4a88c" stroke-width="0.4" stroke-opacity="0.2"/>
<ellipse cx="235.8" cy="854.8" rx="2.0" ry="1.5" transform="rotate(109 235.8 854.8)" fill="#fbfbf6" fill-opacity="0.22" stroke="#b4a88c" stroke-width="0.4" stroke-opacity="0.2"/>
<ellipse cx="325.4" cy="872.7" rx="1.5" ry="1.8" transform="rotate(77 325.4 872.7)" fill="#fbfbf6" fill-opacity="0.22" stroke="#b4a88c" stroke-width="0.4" stroke-opacity="0.2"/>
<ellipse cx="295.4" cy="909.4" rx="2.4" ry="2.1" transform="rotate(35 295.4 909.4)" fill="#fbfbf6" fill-opacity="0.22" stroke="#b4a88c" stroke-width="0.4" stroke-opacity="0.2"/>
<ellipse cx="301.5" cy="857.8" rx="2.3" ry="1.7" transform="rotate(98 301.5 857.8)" fill="#fbfbf6" fill-opacity="0.22" stroke="#b4a88c" stroke-width="0.4" stroke-opacity="0.2"/>
<ellipse cx="204.4" cy="887.6" rx="1.8" ry="1.2" transform="rotate(76 204.4 887.6)" fill="#fbfbf6" fill-opacity="0.22" stroke="#b4a88c" stroke-width="0.4" stroke-opacity="0.2"/>
<ellipse cx="248.1" cy="860.4" rx="2.7" ry="2.3" transform="rotate(171 248.1 860.4)" fill="#fbfbf6" fill-opacity="0.22" stroke="#b4a88c" stroke-width="0.4" stroke-opacity="0.2"/>
<ellipse cx="214.3" cy="863.1" rx="2.1" ry="1.8" transform="rotate(125 214.3 863.1)" fill="#fbfbf6" fill-opacity="0.22" stroke="#b4a88c" stroke-width="0.4" stroke-opacity="0.2"/>
<ellipse cx="273.5" cy="891.2" rx="3.4" ry="2.3" transform="rotate(145 273.5 891.2)" fill="#fbfbf6" fill-opacity="0.22" stroke="#b4a88c" stroke-width="0.4" stroke-opacity="0.2"/>
<ellipse cx="224.7" cy="920.7" rx="1.3" ry="2.3" transform="rotate(126 224.7 920.7)" fill="#fbfbf6" fill-opacity="0.22" stroke="#b4a88c" stroke-width="0.4" stroke-opacity="0.2"/>
<ellipse cx="322.1" cy="883.8" rx="2.8" ry="1.2" transform="rotate(167 322.1 883.8)" fill="#fbfbf6" fill-opacity="0.22" stroke="#b4a88c" stroke-width="0.4" stroke-opacity="0.2"/>
<ellipse cx="214.0" cy="839.2" rx="1.8" ry="1.9" transform="rotate(97 214.0 839.2)" fill="#fbfbf6" fill-opacity="0.22" stroke="#b4a88c" stroke-width="0.4" stroke-opacity="0.2"/>
<ellipse cx="305.0" cy="911.7" rx="2.9" ry="2.3" transform="rotate(12 305.0 911.7)" fill="#fbfbf6" fill-opacity="0.22" stroke="#b4a88c" stroke-width="0.4" stroke-opacity="0.2"/>
<ellipse cx="203.5" cy="869.2" rx="1.5" ry="1.7" transform="rotate(130 203.5 869.2)" fill="#fbfbf6" fill-opacity="0.22" stroke="#b4a88c" stroke-width="0.4" stroke-opacity="0.2"/>
<ellipse cx="214.5" cy="891.6" rx="1.7" ry="0.8" transform="rotate(48 214.5 891.6)" fill="#fbfbf6" fill-opacity="0.22" stroke="#b4a88c" stroke-width="0.4" stroke-opacity="0.2"/>
<ellipse cx="226.6" cy="912.1" rx="3.3" ry="0.9" transform="rotate(88 226.6 912.1)" fill="#fbfbf6" fill-opacity="0.22" stroke="#b4a88c" stroke-width="0.4" stroke-opacity="0.2"/>
<ellipse cx="255.4" cy="905.7" rx="1.5" ry="2.3" transform="rotate(50 255.4 905.7)" fill="#fbfbf6" fill-opacity="0.22" stroke="#b4a88c" stroke-width="0.4" stroke-opacity="0.2"/>
<ellipse cx="271.9" cy="882.1" rx="2.4" ry="2.2" transform="rotate(111 271.9 882.1)" fill="#fbfbf6" fill-opacity="0.22" stroke="#b4a88c" stroke-width="0.4" stroke-opacity="0.2"/>
<ellipse cx="237.5" cy="940.6" rx="1.6" ry="2.3" transform="rotate(121 237.5 940.6)" fill="#fbfbf6" fill-opacity="0.22" stroke="#b4a88c" stroke-width="0.4" stroke-opacity="0.2"/>
<ellipse cx="223.6" cy="944.2" rx="3.1" ry="1.6" transform="rotate(146 223.6 944.2)" fill="#fbfbf6" fill-opacity="0.22" stroke="#b4a88c" stroke-width="0.4" stroke-opacity="0.2"/>
<ellipse cx="201.8" cy="867.8" rx="2.3" ry="2.3" transform="rotate(67 201.8 867.8)" fill="#fbfbf6" fill-opacity="0.22" stroke="#b4a88c" stroke-width="0.4" stroke-opacity="0.2"/>
<ellipse cx="331.8" cy="900.5" rx="2.8" ry="2.1" transform="rotate(24 331.8 900.5)" fill="#fbfbf6" fill-opacity="0.22" stroke="#b4a88c" stroke-width="0.4" stroke-opacity="0.2"/>
<ellipse cx="321.2" cy="902.0" rx="1.5" ry="1.0" transform="rotate(144 321.2 902.0)" fill="#fbfbf6" fill-opacity="0.22" stroke="#b4a88c" stroke-width="0.4" stroke-opacity="0.2"/>
<ellipse cx="269.5" cy="937.9" rx="3.1" ry="1.7" transform="rotate(75 269.5 937.9)" fill="#fbfbf6" fill-opacity="0.22" stroke="#b4a88c" stroke-width="0.4" stroke-opacity="0.2"/>
<ellipse cx="298.5" cy="943.3" rx="1.9" ry="1.6" transform="rotate(21 298.5 943.3)" fill="#fbfbf6" fill-opacity="0.22" stroke="#b4a88c" stroke-width="0.4" stroke-opacity="0.2"/>
<ellipse cx="194.6" cy="844.8" rx="2.0" ry="1.8" transform="rotate(155 194.6 844.8)" fill="#fbfbf6" fill-opacity="0.22" stroke="#b4a88c" stroke-width="0.4" stroke-opacity="0.2"/>
<ellipse cx="296.7" cy="941.8" rx="1.8" ry="2.2" transform="rotate(58 296.7 941.8)" fill="#fbfbf6" fill-opacity="0.22" stroke="#b4a88c" stroke-width="0.4" stroke-opacity="0.2"/>
<ellipse cx="242.5" cy="896.6" rx="3.4" ry="1.5" transform="rotate(11 242.5 896.6)" fill="#fbfbf6" fill-opacity="0.22" stroke="#b4a88c" stroke-width="0.4" stroke-opacity="0.2"/>
<ellipse cx="241.2" cy="899.2" rx="2.7" ry="1.0" transform="rotate(51 241.2 899.2)" fill="#fbfbf6" fill-opacity="0.22" stroke="#b4a88c" stroke-width="0.4" stroke-opacity="0.2"/>
<ellipse cx="212.3" cy="893.3" rx="2.1" ry="1.3" transform="rotate(92 212.3 893.3)" fill="#fbfbf6" fill-opacity="0.22" stroke="#b4a88c" stroke-width="0.4" stroke-opacity="0.2"/>
<ellipse cx="297.2" cy="904.4" rx="2.8" ry="1.4" transform="rotate(167 297.2 904.4)" fill="#fbfbf6" fill-opacity="0.22" stroke="#b4a88c" stroke-width="0.4" stroke-opacity="0.2"/>
<ellipse cx="205.1" cy="846.0" rx="1.4" ry="1.6" transform="rotate(58 205.1 846.0)" fill="#fbfbf6" fill-opacity="0.22" stroke="#b4a88c" stroke-width="0.4" stroke-opacity="0.2"/>
<ellipse cx="216.9" cy="839.0" rx="2.9" ry="0.9" transform="rotate(114 216.9 839.0)" fill="#fbfbf6" fill-opacity="0.22" stroke="#b4a88c" stroke-width="0.4" stroke-opacity="0.2"/>
<ellipse cx="328.0" cy="865.3" rx="2.5" ry="2.2" transform="rotate(79 328.0 865.3)" fill="#fbfbf6" fill-opacity="0.22" stroke="#b4a88c" stroke-width="0.4" stroke-opacity="0.2"/>
<ellipse cx="321.2" cy="841.9" rx="2.5" ry="2.0" transform="rotate(89 321.2 841.9)" fill="#fbfbf6" fill-opacity="0.22" stroke="#b4a88c" stroke-width="0.4" stroke-opacity="0.2"/>
<ellipse cx="308.2" cy="943.7" rx="3.0" ry="1.6" transform="rotate(124 308.2 943.7)" fill="#fbfbf6" fill-opacity="0.22" stroke="#b4a88c" stroke-width="0.4" stroke-opacity="0.2"/>
<ellipse cx="314.3" cy="905.2" rx="1.3" ry="1.1" transform="rotate(110 314.3 905.2)" fill="#fbfbf6" fill-opacity="0.22" stroke="#b4a88c" stroke-width="0.4" stroke-opacity="0.2"/>
<ellipse cx="204.9" cy="855.3" rx="3.3" ry="1.6" transform="rotate(178 204.9 855.3)" fill="#fbfbf6" fill-opacity="0.22" stroke="#b4a88c" stroke-width="0.4" stroke-opacity="0.2"/>
<ellipse cx="309.4" cy="922.4" rx="2.1" ry="1.2" transform="rotate(12 309.4 922.4)" fill="#fbfbf6" fill-opacity="0.22" stroke="#b4a88c" stroke-width="0.4" stroke-opacity="0.2"/>
<ellipse cx="220.3" cy="891.6" rx="2.5" ry="1.0" transform="rotate(82 220.3 891.6)" fill="#fbfbf6" fill-opacity="0.22" stroke="#b4a88c" stroke-width="0.4" stroke-opacity="0.2"/>
<ellipse cx="241.5" cy="932.6" rx="1.9" ry="2.1" transform="rotate(116 241.5 932.6)" fill="#fbfbf6" fill-opacity="0.22" stroke="#b4a88c" stroke-width="0.4" stroke-opacity="0.2"/>
<ellipse cx="323.6" cy="868.2" rx="1.8" ry="1.6" transform="rotate(47 323.6 868.2)" fill="#fbfbf6" fill-opacity="0.22" stroke="#b4a88c" stroke-width="0.4" stroke-opacity="0.2"/>
<ellipse cx="275.3" cy="940.6" rx="2.4" ry="1.1" transform="rotate(10 275.3 940.6)" fill="#fbfbf6" fill-opacity="0.22" stroke="#b4a88c" stroke-width="0.4" stroke-opacity="0.2"/>
<ellipse cx="279.3" cy="886.2" rx="1.2" ry="1.4" transform="rotate(144 279.3 886.2)" fill="#fbfbf6" fill-opacity="0.22" stroke="#b4a88c" stroke-width="0.4" stroke-opacity="0.2"/>
<ellipse cx="278.9" cy="874.2" rx="3.3" ry="2.4" transform="rotate(5 278.9 874.2)" fill="#fbfbf6" fill-opacity="0.22" stroke="#b4a88c" stroke-width="0.4" stroke-opacity="0.2"/>
<ellipse cx="221.1" cy="903.8" rx="1.9" ry="1.1" transform="rotate(145 221.1 903.8)" fill="#fbfbf6" fill-opacity="0.22" stroke="#b4a88c" stroke-width="0.4" stroke-opacity="0.2"/>
<ellipse cx="318.9" cy="891.1" rx="3.3" ry="1.7" transform="rotate(113 318.9 891.1)" fill="#fbfbf6" fill-opacity="0.22" stroke="#b4a88c" stroke-width="0.4" stroke-opacity="0.2"/>
<ellipse cx="262.7" cy="923.7" rx="3.2" ry="1.6" transform="rotate(86 262.7 923.7)" fill="#fbfbf6" fill-opacity="0.22" stroke="#b4a88c" stroke-width="0.4" stroke-opacity="0.2"/>
<ellipse cx="303.0" cy="928.7" rx="2.6" ry="1.1" transform="rotate(23 303.0 928.7)" fill="#fbfbf6" fill-opacity="0.22" stroke="#b4a88c" stroke-width="0.4" stroke-opacity="0.2"/>
<ellipse cx="240.9" cy="843.1" rx="2.0" ry="1.4" transform="rotate(22 240.9 843.1)" fill="#fbfbf6" fill-opacity="0.22" stroke="#b4a88c" stroke-width="0.4" stroke-opacity="0.2"/>
<ellipse cx="209.0" cy="906.8" rx="3.2" ry="1.2" transform="rotate(130 209.0 906.8)" fill="#fbfbf6" fill-opacity="0.22" stroke="#b4a88c" stroke-width="0.4" stroke-opacity="0.2"/>
<ellipse cx="248.0" cy="839.3" rx="3.3" ry="1.0" transform="rotate(87 248.0 839.3)" fill="#fbfbf6" fill-opacity="0.22" stroke="#b4a88c" stroke-width="0.4" stroke-opacity="0.2"/>
<ellipse cx="190.7" cy="868.7" rx="2.0" ry="1.4" transform="rotate(94 190.7 868.7)" fill="#fbfbf6" fill-opacity="0.22" stroke="#b4a88c" stroke-width="0.4" stroke-opacity="0.2"/>
<ellipse cx="328.2" cy="904.1" rx="2.2" ry="2.1" transform="rotate(82 328.2 904.1)" fill="#fbfbf6" fill-opacity="0.22" stroke="#b4a88c" stroke-width="0.4" stroke-opacity="0.2"/>
<ellipse cx="289.4" cy="886.2" rx="2.8" ry="1.0" transform="rotate(31 289.4 886.2)" fill="#fbfbf6" fill-opacity="0.22" stroke="#b4a88c" stroke-width="0.4" stroke-opacity="0.2"/>
<ellipse cx="289.1" cy="917.8" rx="2.0" ry="0.9" transform="rotate(110 289.1 917.8)" fill="#fbfbf6" fill-opacity="0.22" stroke="#b4a88c" stroke-width="0.4" stroke-opacity="0.2"/>
<ellipse cx="203.4" cy="879.8" rx="3.0" ry="2.1" transform="rotate(148 203.4 879.8)" fill="#fbfbf6" fill-opacity="0.22" stroke="#b4a88c" stroke-width="0.4" stroke-opacity="0.2"/>
<ellipse cx="203.4" cy="916.9" rx="1.3" ry="2.4" transform="rotate(134 203.4 916.9)" fill="#fbfbf6" fill-opacity="0.22" stroke="#b4a88c" stroke-width="0.4" stroke-opacity="0.2"/>
<ellipse cx="300.1" cy="930.5" rx="3.0" ry="2.0" transform="rotate(168 300.1 930.5)" fill="#fbfbf6" fill-opacity="0.22" stroke="#b4a88c" stroke-width="0.4" stroke-opacity="0.2"/>
<ellipse cx="197.6" cy="846.7" rx="2.8" ry="1.0" transform="rotate(145 197.6 846.7)" fill="#fbfbf6" fill-opacity="0.22" stroke="#b4a88c" stroke-width="0.4" stroke-opacity="0.2"/>
<ellipse cx="248.3" cy="919.2" rx="1.4" ry="1.7" transform="rotate(129 248.3 919.2)" fill="#fbfbf6" fill-opacity="0.22" stroke="#b4a88c" stroke-width="0.4" stroke-opacity="0.2"/>
<ellipse cx="295.0" cy="857.6" rx="1.7" ry="2.2" transform="rotate(142 295.0 857.6)" fill="#fbfbf6" fill-opacity="0.22" stroke="#b4a88c" stroke-width="0.4" stroke-opacity="0.2"/>
<ellipse cx="261.9" cy="840.2" rx="2.8" ry="2.0" transform="rotate(117 261.9 840.2)" fill="#fbfbf6" fill-opacity="0.22" stroke="#b4a88c" stroke-width="0.4" stroke-opacity="0.2"/>
<ellipse cx="329.0" cy="906.3" rx="3.0" ry="1.2" transform="rotate(52 329.0 906.3)" fill="#fbfbf6" fill-opacity="0.22" stroke="#b4a88c" stroke-width="0.4" stroke-opacity="0.2"/>
<ellipse cx="330.0" cy="945.6" rx="1.4" ry="1.8" transform="rotate(123 330.0 945.6)" fill="#fbfbf6" fill-opacity="0.22" stroke="#b4a88c" stroke-width="0.4" stroke-opacity="0.2"/>
<ellipse cx="276.5" cy="879.9" rx="2.0" ry="2.3" transform="rotate(25 276.5 879.9)" fill="#fbfbf6" fill-opacity="0.22" stroke="#b4a88c" stroke-width="0.4" stroke-opacity="0.2"/>
<ellipse cx="201.1" cy="918.6" rx="1.2" ry="1.4" transform="rotate(101 201.1 918.6)" fill="#fbfbf6" fill-opacity="0.22" stroke="#b4a88c" stroke-width="0.4" stroke-opacity="0.2"/>
<ellipse cx="286.4" cy="865.8" rx="2.6" ry="1.9" transform="rotate(148 286.4 865.8)" fill="#fbfbf6" fill-opacity="0.22" stroke="#b4a88c" stroke-width="0.4" stroke-opacity="0.2"/>
<ellipse cx="256.4" cy="938.4" rx="2.2" ry="2.3" transform="rotate(72 256.4 938.4)" fill="#fbfbf6" fill-opacity="0.22" stroke="#b4a88c" stroke-width="0.4" stroke-opacity="0.2"/>
<ellipse cx="293.5" cy="869.6" rx="2.6" ry="2.0" transform="rotate(11 293.5 869.6)" fill="#fbfbf6" fill-opacity="0.22" stroke="#b4a88c" stroke-width="0.4" stroke-opacity="0.2"/>
<ellipse cx="300.2" cy="847.2" rx="2.9" ry="1.0" transform="rotate(43 300.2 847.2)" fill="#fbfbf6" fill-opacity="0.22" stroke="#b4a88c" stroke-width="0.4" stroke-opacity="0.2"/>
<ellipse cx="233.8" cy="866.4" rx="2.5" ry="1.4" transform="rotate(148 233.8 866.4)" fill="#fbfbf6" fill-opacity="0.22" stroke="#b4a88c" stroke-width="0.4" stroke-opacity="0.2"/>
<ellipse cx="243.2" cy="921.8" rx="1.9" ry="1.6" transform="rotate(106 243.2 921.8)" fill="#fbfbf6" fill-opacity="0.22" stroke="#b4a88c" stroke-width="0.4" stroke-opacity="0.2"/>
<ellipse cx="239.0" cy="922.7" rx="2.6" ry="1.7" transform="rotate(119 239.0 922.7)" fill="#fbfbf6" fill-opacity="0.22" stroke="#b4a88c" stroke-width="0.4" stroke-opacity="0.2"/>
<ellipse cx="221.3" cy="872.7" rx="3.1" ry="1.9" transform="rotate(84 221.3 872.7)" fill="#fbfbf6" fill-opacity="0.22" stroke="#b4a88c" stroke-width="0.4" stroke-opacity="0.2"/>
<ellipse cx="332.6" cy="939.6" rx="2.8" ry="1.0" transform="rotate(70 332.6 939.6)" fill="#fbfbf6" fill-opacity="0.22" stroke="#b4a88c" stroke-width="0.4" stroke-opacity="0.2"/>
<ellipse cx="245.2" cy="898.3" rx="1.9" ry="1.5" transform="rotate(159 245.2 898.3)" fill="#fbfbf6" fill-opacity="0.22" stroke="#b4a88c" stroke-width="0.4" stroke-opacity="0.2"/>
<ellipse cx="204.3" cy="847.6" rx="2.4" ry="0.8" transform="rotate(65 204.3 847.6)" fill="#fbfbf6" fill-opacity="0.22" stroke="#b4a88c" stroke-width="0.4" stroke-opacity="0.2"/>
<ellipse cx="224.2" cy="921.1" rx="1.6" ry="1.6" transform="rotate(156 224.2 921.1)" fill="#fbfbf6" fill-opacity="0.22" stroke="#b4a88c" stroke-width="0.4" stroke-opacity="0.2"/>
<ellipse cx="285.9" cy="880.3" rx="1.6" ry="2.3" transform="rotate(138 285.9 880.3)" fill="#fbfbf6" fill-opacity="0.22" stroke="#b4a88c" stroke-width="0.4" stroke-opacity="0.2"/>
<ellipse cx="287.9" cy="865.7" rx="1.7" ry="2.2" transform="rotate(150 287.9 865.7)" fill="#fbfbf6" fill-opacity="0.22" stroke="#b4a88c" stroke-width="0.4" stroke-opacity="0.2"/>
<ellipse cx="308.6" cy="870.9" rx="2.8" ry="2.1" transform="rotate(161 308.6 870.9)" fill="#fbfbf6" fill-opacity="0.22" stroke="#b4a88c" stroke-width="0.4" stroke-opacity="0.2"/>
<path d="M291.4,845.2 Q293.4,848.0 297.8,847.5" stroke="#c0b088" stroke-width="0.6" fill="none" opacity="0.31"/>
<path d="M236.9,843.5 Q234.4,842.4 231.4,844.7" stroke="#c0b088" stroke-width="0.6" fill="none" opacity="0.23"/>
<path d="M290.5,892.3 Q287.5,888.8 281.7,889.9" stroke="#c0b088" stroke-width="0.6" fill="none" opacity="0.34"/>
<path d="M322.5,893.1 Q323.7,898.5 330.6,900.5" stroke="#c0b088" stroke-width="0.6" fill="none" opacity="0.18"/>
<path d="M189.6,848.3 Q183.4,847.0 177.9,853.0" stroke="#c0b088" stroke-width="0.6" fill="none" opacity="0.25"/>
<path d="M301.0,895.2 Q303.0,891.1 299.5,886.2" stroke="#c0b088" stroke-width="0.6" fill="none" opacity="0.30"/>
<path d="M239.7,867.1 Q244.3,863.3 243.0,855.7" stroke="#c0b088" stroke-width="0.6" fill="none" opacity="0.31"/>
<path d="M285.9,923.5 Q283.4,918.8 276.4,918.7" stroke="#c0b088" stroke-width="0.6" fill="none" opacity="0.29"/>
<path d="M246.2,842.3 Q252.4,840.8 254.8,832.8" stroke="#c0b088" stroke-width="0.6" fill="none" opacity="0.21"/>
<path d="M250.7,850.2 Q253.0,850.7 255.0,848.3" stroke="#c0b088" stroke-width="0.6" fill="none" opacity="0.24"/>
<path d="M191.9,930.8 Q193.5,925.1 188.1,919.7" stroke="#c0b088" stroke-width="0.6" fill="none" opacity="0.27"/>
<path d="M287.6,935.5 Q289.0,938.6 293.3,939.1" stroke="#c0b088" stroke-width="0.6" fill="none" opacity="0.17"/>
<path d="M256.5,846.0 Q256.0,841.0 250.0,838.3" stroke="#c0b088" stroke-width="0.6" fill="none" opacity="0.29"/>
<path d="M308.0,845.3 Q310.8,848.4 316.2,847.3" stroke="#c0b088" stroke-width="0.6" fill="none" opacity="0.25"/>
<path d="M291.2,874.3 Q295.7,875.2 299.8,870.6" stroke="#c0b088" stroke-width="0.6" fill="none" opacity="0.25"/>
<path d="M286.2,936.1 Q289.4,930.5 285.2,923.3" stroke="#c0b088" stroke-width="0.6" fill="none" opacity="0.19"/>
<path d="M203.9,840.7 Q202.0,835.4 194.8,834.1" stroke="#c0b088" stroke-width="0.6" fill="none" opacity="0.19"/>
<path d="M275.5,860.6 Q272.8,854.2 263.9,853.1" stroke="#c0b088" stroke-width="0.6" fill="none" opacity="0.32"/>
<path d="M228.3,844.8 Q225.8,848.7 228.7,854.1" stroke="#c0b088" stroke-width="0.6" fill="none" opacity="0.22"/>
<path d="M252.8,893.6 Q256.5,893.8 259.2,889.6" stroke="#c0b088" stroke-width="0.6" fill="none" opacity="0.23"/>
<path d="M234.7,897.7 Q234.6,902.3 239.7,905.4" stroke="#c0b088" stroke-width="0.6" fill="none" opacity="0.25"/>
<path d="M304.0,897.2 Q307.7,897.6 310.5,893.7" stroke="#c0b088" stroke-width="0.6" fill="none" opacity="0.25"/>
<path d="M239.0,838.5 Q241.3,833.5 237.2,827.7" stroke="#c0b088" stroke-width="0.6" fill="none" opacity="0.34"/>
<path d="M195.7,930.5 Q200.1,925.7 197.4,917.7" stroke="#c0b088" stroke-width="0.6" fill="none" opacity="0.18"/>
<path d="M226.2,917.3 Q226.5,914.8 223.9,912.8" stroke="#c0b088" stroke-width="0.6" fill="none" opacity="0.16"/>
<circle cx="328.1" cy="915.6" r="0.99" fill="#70c0b8" opacity="0.51" filter="url(#blur1)"/>
<circle cx="242.6" cy="888.7" r="0.81" fill="#70c0b8" opacity="0.85" filter="url(#blur1)"/>
<circle cx="212.1" cy="869.3" r="0.63" fill="#48b0b4" opacity="0.77" filter="url(#blur1)"/>
<circle cx="327.2" cy="848.2" r="0.99" fill="#5ab8b0" opacity="0.54" filter="url(#blur1)"/>
<circle cx="323.8" cy="921.6" r="0.86" fill="#48b0b4" opacity="0.69" filter="url(#blur1)"/>
<circle cx="241.8" cy="919.8" r="0.61" fill="#5ab8b0" opacity="0.84" filter="url(#blur1)"/>
<circle cx="267.3" cy="906.8" r="0.73" fill="#48b0b4" opacity="0.66" filter="url(#blur1)"/>
<circle cx="270.9" cy="883.3" r="0.87" fill="#5ab8b0" opacity="0.69" filter="url(#blur1)"/>
<circle cx="325.4" cy="920.4" r="0.59" fill="#70c0b8" opacity="0.66" filter="url(#blur1)"/>
<circle cx="246.5" cy="896.0" r="0.94" fill="#48b0b4" opacity="0.89" filter="url(#blur1)"/>
<circle cx="228.6" cy="852.2" r="0.94" fill="#48b0b4" opacity="0.75" filter="url(#blur1)"/>
<circle cx="228.2" cy="930.1" r="1.00" fill="#48b0b4" opacity="0.66" filter="url(#blur1)"/>
<circle cx="221.2" cy="867.0" r="0.60" fill="#5ab8b0" opacity="0.50" filter="url(#blur1)"/>
<circle cx="193.7" cy="943.6" r="0.66" fill="#5ab8b0" opacity="0.66" filter="url(#blur1)"/>
<circle cx="226.0" cy="858.6" r="0.64" fill="#5ab8b0" opacity="0.77" filter="url(#blur1)"/>
<circle cx="291.4" cy="848.2" r="0.62" fill="#70c0b8" opacity="0.56" filter="url(#blur1)"/>
<circle cx="304.5" cy="915.5" r="0.55" fill="#70c0b8" opacity="0.78" filter="url(#blur1)"/>
<circle cx="193.8" cy="923.0" r="0.64" fill="#5ab8b0" opacity="0.85" filter="url(#blur1)"/>
<circle cx="219.4" cy="848.3" r="0.77" fill="#48b0b4" opacity="0.59" filter="url(#blur1)"/>
<circle cx="297.0" cy="938.3" r="0.90" fill="#48b0b4" opacity="0.60" filter="url(#blur1)"/>
<circle cx="240.6" cy="869.3" r="0.98" fill="#5ab8b0" opacity="0.75" filter="url(#blur1)"/>
<circle cx="260.9" cy="922.5" r="0.59" fill="#48b0b4" opacity="0.73" filter="url(#blur1)"/>
</g>
<text x="414.20" y="834.70" font-size="12" font-weight="bold" text-anchor="middle" fill="#000" >RTX</text>
<clipPath id="cp2"><rect x="344.20" y="838.2" width="143.80" height="107.50"/></clipPath>
<g clip-path="url(#cp2)">
<rect x="344.20" y="838.2" width="143.80" height="107.50" fill="#eef2f0"/>
<circle cx="379.2" cy="878.2" r="55" fill="#d2eaec" opacity="0.95" filter="url(#blur4)"/>
<circle cx="434.2" cy="850.2" r="40" fill="#d4ebed" opacity="0.9" filter="url(#blur4)"/>
<circle cx="474.2" cy="853.2" r="25" fill="#d8eded" opacity="0.8" filter="url(#blur4)"/>
<circle cx="459.2" cy="923.2" r="45" fill="#eeeae0" opacity="0.9" filter="url(#blur4)"/>
<circle cx="359.2" cy="938.2" r="25" fill="#ebe9e0" opacity="0.6" filter="url(#blur4)"/>
<circle cx="374.2" cy="918.2" r="25" fill="#d8ecec" opacity="0.7" filter="url(#blur4)"/>
<rect x="344.20" y="838.2" width="143.80" height="107.50" filter="url(#tex3)" opacity="0.3"/>
<rect x="344.20" y="838.2" width="143.80" height="107.50" filter="url(#tex1)" opacity="0.35"/>
<rect x="344.20" y="838.2" width="143.80" height="107.50" filter="url(#tex2)" opacity="0.45"/>
<ellipse cx="365.5" cy="904.4" rx="1.6" ry="1.9" transform="rotate(109 365.5 904.4)" fill="#fbfbf6" fill-opacity="0.22" stroke="#b4a88c" stroke-width="0.4" stroke-opacity="0.2"/>
<ellipse cx="399.5" cy="904.6" rx="2.4" ry="0.9" transform="rotate(95 399.5 904.6)" fill="#fbfbf6" fill-opacity="0.22" stroke="#b4a88c" stroke-width="0.4" stroke-opacity="0.2"/>
<ellipse cx="433.3" cy="894.1" rx="3.1" ry="2.0" transform="rotate(68 433.3 894.1)" fill="#fbfbf6" fill-opacity="0.22" stroke="#b4a88c" stroke-width="0.4" stroke-opacity="0.2"/>
<ellipse cx="376.8" cy="852.0" rx="3.0" ry="1.9" transform="rotate(110 376.8 852.0)" fill="#fbfbf6" fill-opacity="0.22" stroke="#b4a88c" stroke-width="0.4" stroke-opacity="0.2"/>
<ellipse cx="407.7" cy="892.1" rx="1.7" ry="1.6" transform="rotate(26 407.7 892.1)" fill="#fbfbf6" fill-opacity="0.22" stroke="#b4a88c" stroke-width="0.4" stroke-opacity="0.2"/>
<ellipse cx="433.5" cy="905.9" rx="2.7" ry="1.2" transform="rotate(17 433.5 905.9)" fill="#fbfbf6" fill-opacity="0.22" stroke="#b4a88c" stroke-width="0.4" stroke-opacity="0.2"/>
<ellipse cx="392.1" cy="912.1" rx="2.3" ry="2.0" transform="rotate(78 392.1 912.1)" fill="#fbfbf6" fill-opacity="0.22" stroke="#b4a88c" stroke-width="0.4" stroke-opacity="0.2"/>
<ellipse cx="401.5" cy="935.8" rx="1.6" ry="1.1" transform="rotate(106 401.5 935.8)" fill="#fbfbf6" fill-opacity="0.22" stroke="#b4a88c" stroke-width="0.4" stroke-opacity="0.2"/>
<ellipse cx="435.0" cy="884.7" rx="2.4" ry="1.5" transform="rotate(120 435.0 884.7)" fill="#fbfbf6" fill-opacity="0.22" stroke="#b4a88c" stroke-width="0.4" stroke-opacity="0.2"/>
<ellipse cx="472.0" cy="926.9" rx="2.6" ry="1.6" transform="rotate(171 472.0 926.9)" fill="#fbfbf6" fill-opacity="0.22" stroke="#b4a88c" stroke-width="0.4" stroke-opacity="0.2"/>
<ellipse cx="408.5" cy="905.5" rx="3.1" ry="1.9" transform="rotate(70 408.5 905.5)" fill="#fbfbf6" fill-opacity="0.22" stroke="#b4a88c" stroke-width="0.4" stroke-opacity="0.2"/>
<ellipse cx="451.0" cy="902.7" rx="3.2" ry="1.8" transform="rotate(96 451.0 902.7)" fill="#fbfbf6" fill-opacity="0.22" stroke="#b4a88c" stroke-width="0.4" stroke-opacity="0.2"/>
<ellipse cx="484.3" cy="894.9" rx="2.1" ry="2.3" transform="rotate(170 484.3 894.9)" fill="#fbfbf6" fill-opacity="0.22" stroke="#b4a88c" stroke-width="0.4" stroke-opacity="0.2"/>
<ellipse cx="368.9" cy="846.0" rx="3.1" ry="2.2" transform="rotate(69 368.9 846.0)" fill="#fbfbf6" fill-opacity="0.22" stroke="#b4a88c" stroke-width="0.4" stroke-opacity="0.2"/>
<ellipse cx="380.8" cy="911.8" rx="3.3" ry="1.1" transform="rotate(81 380.8 911.8)" fill="#fbfbf6" fill-opacity="0.22" stroke="#b4a88c" stroke-width="0.4" stroke-opacity="0.2"/>
<ellipse cx="439.5" cy="861.9" rx="2.1" ry="1.0" transform="rotate(86 439.5 861.9)" fill="#fbfbf6" fill-opacity="0.22" stroke="#b4a88c" stroke-width="0.4" stroke-opacity="0.2"/>
<ellipse cx="377.3" cy="846.9" rx="2.1" ry="1.0" transform="rotate(21 377.3 846.9)" fill="#fbfbf6" fill-opacity="0.22" stroke="#b4a88c" stroke-width="0.4" stroke-opacity="0.2"/>
<ellipse cx="365.9" cy="883.1" rx="1.9" ry="2.0" transform="rotate(75 365.9 883.1)" fill="#fbfbf6" fill-opacity="0.22" stroke="#b4a88c" stroke-width="0.4" stroke-opacity="0.2"/>
<ellipse cx="379.2" cy="858.4" rx="1.9" ry="2.0" transform="rotate(36 379.2 858.4)" fill="#fbfbf6" fill-opacity="0.22" stroke="#b4a88c" stroke-width="0.4" stroke-opacity="0.2"/>
<ellipse cx="411.1" cy="924.9" rx="3.0" ry="1.5" transform="rotate(152 411.1 924.9)" fill="#fbfbf6" fill-opacity="0.22" stroke="#b4a88c" stroke-width="0.4" stroke-opacity="0.2"/>
<ellipse cx="436.6" cy="862.6" rx="1.4" ry="1.1" transform="rotate(142 436.6 862.6)" fill="#fbfbf6" fill-opacity="0.22" stroke="#b4a88c" stroke-width="0.4" stroke-opacity="0.2"/>
<ellipse cx="400.2" cy="928.2" rx="3.3" ry="2.3" transform="rotate(84 400.2 928.2)" fill="#fbfbf6" fill-opacity="0.22" stroke="#b4a88c" stroke-width="0.4" stroke-opacity="0.2"/>
<ellipse cx="345.3" cy="867.9" rx="1.7" ry="1.8" transform="rotate(126 345.3 867.9)" fill="#fbfbf6" fill-opacity="0.22" stroke="#b4a88c" stroke-width="0.4" stroke-opacity="0.2"/>
<ellipse cx="476.7" cy="914.0" rx="3.3" ry="1.8" transform="rotate(85 476.7 914.0)" fill="#fbfbf6" fill-opacity="0.22" stroke="#b4a88c" stroke-width="0.4" stroke-opacity="0.2"/>
<ellipse cx="464.5" cy="867.7" rx="2.9" ry="2.0" transform="rotate(156 464.5 867.7)" fill="#fbfbf6" fill-opacity="0.22" stroke="#b4a88c" stroke-width="0.4" stroke-opacity="0.2"/>
<ellipse cx="352.9" cy="858.5" rx="3.3" ry="1.0" transform="rotate(81 352.9 858.5)" fill="#fbfbf6" fill-opacity="0.22" stroke="#b4a88c" stroke-width="0.4" stroke-opacity="0.2"/>
<ellipse cx="430.7" cy="890.0" rx="3.1" ry="2.3" transform="rotate(61 430.7 890.0)" fill="#fbfbf6" fill-opacity="0.22" stroke="#b4a88c" stroke-width="0.4" stroke-opacity="0.2"/>
<ellipse cx="363.5" cy="936.5" rx="2.2" ry="1.2" transform="rotate(25 363.5 936.5)" fill="#fbfbf6" fill-opacity="0.22" stroke="#b4a88c" stroke-width="0.4" stroke-opacity="0.2"/>
<ellipse cx="345.5" cy="900.8" rx="1.8" ry="1.7" transform="rotate(166 345.5 900.8)" fill="#fbfbf6" fill-opacity="0.22" stroke="#b4a88c" stroke-width="0.4" stroke-opacity="0.2"/>
<ellipse cx="413.8" cy="940.7" rx="1.3" ry="2.0" transform="rotate(136 413.8 940.7)" fill="#fbfbf6" fill-opacity="0.22" stroke="#b4a88c" stroke-width="0.4" stroke-opacity="0.2"/>
<ellipse cx="482.1" cy="841.5" rx="2.3" ry="1.7" transform="rotate(108 482.1 841.5)" fill="#fbfbf6" fill-opacity="0.22" stroke="#b4a88c" stroke-width="0.4" stroke-opacity="0.2"/>
<ellipse cx="412.0" cy="867.5" rx="3.2" ry="2.2" transform="rotate(126 412.0 867.5)" fill="#fbfbf6" fill-opacity="0.22" stroke="#b4a88c" stroke-width="0.4" stroke-opacity="0.2"/>
<ellipse cx="482.1" cy="897.7" rx="1.4" ry="1.9" transform="rotate(19 482.1 897.7)" fill="#fbfbf6" fill-opacity="0.22" stroke="#b4a88c" stroke-width="0.4" stroke-opacity="0.2"/>
<ellipse cx="452.2" cy="907.9" rx="1.7" ry="1.0" transform="rotate(12 452.2 907.9)" fill="#fbfbf6" fill-opacity="0.22" stroke="#b4a88c" stroke-width="0.4" stroke-opacity="0.2"/>
<ellipse cx="369.6" cy="943.3" rx="1.7" ry="2.2" transform="rotate(24 369.6 943.3)" fill="#fbfbf6" fill-opacity="0.22" stroke="#b4a88c" stroke-width="0.4" stroke-opacity="0.2"/>
<ellipse cx="392.9" cy="889.0" rx="2.0" ry="2.3" transform="rotate(43 392.9 889.0)" fill="#fbfbf6" fill-opacity="0.22" stroke="#b4a88c" stroke-width="0.4" stroke-opacity="0.2"/>
<ellipse cx="413.7" cy="860.3" rx="1.4" ry="1.9" transform="rotate(61 413.7 860.3)" fill="#fbfbf6" fill-opacity="0.22" stroke="#b4a88c" stroke-width="0.4" stroke-opacity="0.2"/>
<ellipse cx="414.2" cy="912.7" rx="1.4" ry="0.9" transform="rotate(124 414.2 912.7)" fill="#fbfbf6" fill-opacity="0.22" stroke="#b4a88c" stroke-width="0.4" stroke-opacity="0.2"/>
<ellipse cx="487.1" cy="840.2" rx="2.2" ry="2.4" transform="rotate(150 487.1 840.2)" fill="#fbfbf6" fill-opacity="0.22" stroke="#b4a88c" stroke-width="0.4" stroke-opacity="0.2"/>
<ellipse cx="486.5" cy="895.1" rx="3.3" ry="0.9" transform="rotate(85 486.5 895.1)" fill="#fbfbf6" fill-opacity="0.22" stroke="#b4a88c" stroke-width="0.4" stroke-opacity="0.2"/>
<ellipse cx="466.1" cy="880.2" rx="2.2" ry="1.5" transform="rotate(68 466.1 880.2)" fill="#fbfbf6" fill-opacity="0.22" stroke="#b4a88c" stroke-width="0.4" stroke-opacity="0.2"/>
<ellipse cx="461.1" cy="942.8" rx="1.7" ry="1.3" transform="rotate(145 461.1 942.8)" fill="#fbfbf6" fill-opacity="0.22" stroke="#b4a88c" stroke-width="0.4" stroke-opacity="0.2"/>
<ellipse cx="451.2" cy="925.7" rx="2.7" ry="2.3" transform="rotate(152 451.2 925.7)" fill="#fbfbf6" fill-opacity="0.22" stroke="#b4a88c" stroke-width="0.4" stroke-opacity="0.2"/>
<ellipse cx="435.3" cy="868.7" rx="1.4" ry="2.2" transform="rotate(154 435.3 868.7)" fill="#fbfbf6" fill-opacity="0.22" stroke="#b4a88c" stroke-width="0.4" stroke-opacity="0.2"/>
<ellipse cx="472.4" cy="866.7" rx="2.8" ry="2.3" transform="rotate(37 472.4 866.7)" fill="#fbfbf6" fill-opacity="0.22" stroke="#b4a88c" stroke-width="0.4" stroke-opacity="0.2"/>
<ellipse cx="347.6" cy="856.9" rx="1.7" ry="1.9" transform="rotate(148 347.6 856.9)" fill="#fbfbf6" fill-opacity="0.22" stroke="#b4a88c" stroke-width="0.4" stroke-opacity="0.2"/>
<ellipse cx="461.9" cy="912.3" rx="3.4" ry="2.4" transform="rotate(79 461.9 912.3)" fill="#fbfbf6" fill-opacity="0.22" stroke="#b4a88c" stroke-width="0.4" stroke-opacity="0.2"/>
<ellipse cx="476.7" cy="915.5" rx="1.7" ry="1.7" transform="rotate(31 476.7 915.5)" fill="#fbfbf6" fill-opacity="0.22" stroke="#b4a88c" stroke-width="0.4" stroke-opacity="0.2"/>
<ellipse cx="401.7" cy="925.6" rx="1.2" ry="1.7" transform="rotate(78 401.7 925.6)" fill="#fbfbf6" fill-opacity="0.22" stroke="#b4a88c" stroke-width="0.4" stroke-opacity="0.2"/>
<ellipse cx="384.9" cy="845.2" rx="2.4" ry="1.3" transform="rotate(18 384.9 845.2)" fill="#fbfbf6" fill-opacity="0.22" stroke="#b4a88c" stroke-width="0.4" stroke-opacity="0.2"/>
<ellipse cx="401.9" cy="911.2" rx="1.4" ry="2.1" transform="rotate(15 401.9 911.2)" fill="#fbfbf6" fill-opacity="0.22" stroke="#b4a88c" stroke-width="0.4" stroke-opacity="0.2"/>
<ellipse cx="411.9" cy="877.6" rx="3.1" ry="2.2" transform="rotate(133 411.9 877.6)" fill="#fbfbf6" fill-opacity="0.22" stroke="#b4a88c" stroke-width="0.4" stroke-opacity="0.2"/>
<ellipse cx="386.5" cy="873.1" rx="3.0" ry="1.6" transform="rotate(114 386.5 873.1)" fill="#fbfbf6" fill-opacity="0.22" stroke="#b4a88c" stroke-width="0.4" stroke-opacity="0.2"/>
<ellipse cx="448.3" cy="858.8" rx="2.0" ry="2.3" transform="rotate(60 448.3 858.8)" fill="#fbfbf6" fill-opacity="0.22" stroke="#b4a88c" stroke-width="0.4" stroke-opacity="0.2"/>
<ellipse cx="466.2" cy="854.8" rx="1.2" ry="1.6" transform="rotate(51 466.2 854.8)" fill="#fbfbf6" fill-opacity="0.22" stroke="#b4a88c" stroke-width="0.4" stroke-opacity="0.2"/>
<ellipse cx="429.9" cy="921.0" rx="1.3" ry="1.6" transform="rotate(67 429.9 921.0)" fill="#fbfbf6" fill-opacity="0.22" stroke="#b4a88c" stroke-width="0.4" stroke-opacity="0.2"/>
<ellipse cx="474.5" cy="929.0" rx="3.1" ry="2.0" transform="rotate(62 474.5 929.0)" fill="#fbfbf6" fill-opacity="0.22" stroke="#b4a88c" stroke-width="0.4" stroke-opacity="0.2"/>
<ellipse cx="433.3" cy="896.7" rx="2.0" ry="1.3" transform="rotate(117 433.3 896.7)" fill="#fbfbf6" fill-opacity="0.22" stroke="#b4a88c" stroke-width="0.4" stroke-opacity="0.2"/>
<ellipse cx="473.1" cy="864.2" rx="2.0" ry="1.1" transform="rotate(66 473.1 864.2)" fill="#fbfbf6" fill-opacity="0.22" stroke="#b4a88c" stroke-width="0.4" stroke-opacity="0.2"/>
<ellipse cx="400.1" cy="848.3" rx="2.6" ry="1.4" transform="rotate(145 400.1 848.3)" fill="#fbfbf6" fill-opacity="0.22" stroke="#b4a88c" stroke-width="0.4" stroke-opacity="0.2"/>
<ellipse cx="379.1" cy="917.1" rx="3.4" ry="1.1" transform="rotate(67 379.1 917.1)" fill="#fbfbf6" fill-opacity="0.22" stroke="#b4a88c" stroke-width="0.4" stroke-opacity="0.2"/>
<ellipse cx="483.9" cy="881.6" rx="1.9" ry="1.0" transform="rotate(149 483.9 881.6)" fill="#fbfbf6" fill-opacity="0.22" stroke="#b4a88c" stroke-width="0.4" stroke-opacity="0.2"/>
<ellipse cx="391.1" cy="932.7" rx="2.4" ry="1.1" transform="rotate(179 391.1 932.7)" fill="#fbfbf6" fill-opacity="0.22" stroke="#b4a88c" stroke-width="0.4" stroke-opacity="0.2"/>
<ellipse cx="473.7" cy="918.7" rx="2.5" ry="2.0" transform="rotate(171 473.7 918.7)" fill="#fbfbf6" fill-opacity="0.22" stroke="#b4a88c" stroke-width="0.4" stroke-opacity="0.2"/>
<ellipse cx="372.6" cy="864.1" rx="2.9" ry="1.5" transform="rotate(177 372.6 864.1)" fill="#fbfbf6" fill-opacity="0.22" stroke="#b4a88c" stroke-width="0.4" stroke-opacity="0.2"/>
<ellipse cx="464.1" cy="894.3" rx="1.6" ry="1.8" transform="rotate(108 464.1 894.3)" fill="#fbfbf6" fill-opacity="0.22" stroke="#b4a88c" stroke-width="0.4" stroke-opacity="0.2"/>
<ellipse cx="427.6" cy="921.9" rx="2.3" ry="2.2" transform="rotate(107 427.6 921.9)" fill="#fbfbf6" fill-opacity="0.22" stroke="#b4a88c" stroke-width="0.4" stroke-opacity="0.2"/>
<ellipse cx="367.3" cy="926.4" rx="1.6" ry="2.2" transform="rotate(167 367.3 926.4)" fill="#fbfbf6" fill-opacity="0.22" stroke="#b4a88c" stroke-width="0.4" stroke-opacity="0.2"/>
<ellipse cx="372.3" cy="859.8" rx="2.7" ry="1.5" transform="rotate(67 372.3 859.8)" fill="#fbfbf6" fill-opacity="0.22" stroke="#b4a88c" stroke-width="0.4" stroke-opacity="0.2"/>
<ellipse cx="452.2" cy="874.3" rx="1.5" ry="1.7" transform="rotate(158 452.2 874.3)" fill="#fbfbf6" fill-opacity="0.22" stroke="#b4a88c" stroke-width="0.4" stroke-opacity="0.2"/>
<ellipse cx="482.2" cy="849.6" rx="2.8" ry="1.3" transform="rotate(175 482.2 849.6)" fill="#fbfbf6" fill-opacity="0.22" stroke="#b4a88c" stroke-width="0.4" stroke-opacity="0.2"/>
<ellipse cx="400.3" cy="849.2" rx="1.9" ry="1.6" transform="rotate(32 400.3 849.2)" fill="#fbfbf6" fill-opacity="0.22" stroke="#b4a88c" stroke-width="0.4" stroke-opacity="0.2"/>
<ellipse cx="454.9" cy="873.6" rx="2.8" ry="1.2" transform="rotate(88 454.9 873.6)" fill="#fbfbf6" fill-opacity="0.22" stroke="#b4a88c" stroke-width="0.4" stroke-opacity="0.2"/>
<ellipse cx="439.1" cy="860.4" rx="1.8" ry="2.1" transform="rotate(71 439.1 860.4)" fill="#fbfbf6" fill-opacity="0.22" stroke="#b4a88c" stroke-width="0.4" stroke-opacity="0.2"/>
<ellipse cx="394.3" cy="904.6" rx="2.7" ry="2.2" transform="rotate(102 394.3 904.6)" fill="#fbfbf6" fill-opacity="0.22" stroke="#b4a88c" stroke-width="0.4" stroke-opacity="0.2"/>
<ellipse cx="467.0" cy="934.2" rx="3.2" ry="2.3" transform="rotate(125 467.0 934.2)" fill="#fbfbf6" fill-opacity="0.22" stroke="#b4a88c" stroke-width="0.4" stroke-opacity="0.2"/>
<ellipse cx="444.3" cy="880.0" rx="1.4" ry="2.3" transform="rotate(75 444.3 880.0)" fill="#fbfbf6" fill-opacity="0.22" stroke="#b4a88c" stroke-width="0.4" stroke-opacity="0.2"/>
<ellipse cx="392.8" cy="897.2" rx="2.9" ry="2.1" transform="rotate(21 392.8 897.2)" fill="#fbfbf6" fill-opacity="0.22" stroke="#b4a88c" stroke-width="0.4" stroke-opacity="0.2"/>
<ellipse cx="456.9" cy="939.4" rx="3.4" ry="2.3" transform="rotate(103 456.9 939.4)" fill="#fbfbf6" fill-opacity="0.22" stroke="#b4a88c" stroke-width="0.4" stroke-opacity="0.2"/>
<ellipse cx="472.1" cy="901.7" rx="3.1" ry="2.4" transform="rotate(67 472.1 901.7)" fill="#fbfbf6" fill-opacity="0.22" stroke="#b4a88c" stroke-width="0.4" stroke-opacity="0.2"/>
<ellipse cx="362.0" cy="918.8" rx="3.3" ry="2.2" transform="rotate(83 362.0 918.8)" fill="#fbfbf6" fill-opacity="0.22" stroke="#b4a88c" stroke-width="0.4" stroke-opacity="0.2"/>
<ellipse cx="408.8" cy="851.6" rx="3.1" ry="1.2" transform="rotate(22 408.8 851.6)" fill="#fbfbf6" fill-opacity="0.22" stroke="#b4a88c" stroke-width="0.4" stroke-opacity="0.2"/>
<ellipse cx="358.8" cy="938.3" rx="2.1" ry="2.1" transform="rotate(13 358.8 938.3)" fill="#fbfbf6" fill-opacity="0.22" stroke="#b4a88c" stroke-width="0.4" stroke-opacity="0.2"/>
<ellipse cx="413.4" cy="918.4" rx="2.9" ry="1.1" transform="rotate(87 413.4 918.4)" fill="#fbfbf6" fill-opacity="0.22" stroke="#b4a88c" stroke-width="0.4" stroke-opacity="0.2"/>
<ellipse cx="461.1" cy="936.4" rx="1.4" ry="1.7" transform="rotate(160 461.1 936.4)" fill="#fbfbf6" fill-opacity="0.22" stroke="#b4a88c" stroke-width="0.4" stroke-opacity="0.2"/>
<ellipse cx="433.4" cy="922.6" rx="1.9" ry="1.6" transform="rotate(3 433.4 922.6)" fill="#fbfbf6" fill-opacity="0.22" stroke="#b4a88c" stroke-width="0.4" stroke-opacity="0.2"/>
<ellipse cx="459.0" cy="898.7" rx="1.6" ry="2.3" transform="rotate(38 459.0 898.7)" fill="#fbfbf6" fill-opacity="0.22" stroke="#b4a88c" stroke-width="0.4" stroke-opacity="0.2"/>
<ellipse cx="349.0" cy="916.1" rx="1.4" ry="1.9" transform="rotate(25 349.0 916.1)" fill="#fbfbf6" fill-opacity="0.22" stroke="#b4a88c" stroke-width="0.4" stroke-opacity="0.2"/>
<ellipse cx="347.5" cy="917.4" rx="2.5" ry="1.9" transform="rotate(128 347.5 917.4)" fill="#fbfbf6" fill-opacity="0.22" stroke="#b4a88c" stroke-width="0.4" stroke-opacity="0.2"/>
<ellipse cx="447.3" cy="857.1" rx="2.1" ry="1.7" transform="rotate(156 447.3 857.1)" fill="#fbfbf6" fill-opacity="0.22" stroke="#b4a88c" stroke-width="0.4" stroke-opacity="0.2"/>
<ellipse cx="437.0" cy="890.6" rx="3.0" ry="2.2" transform="rotate(45 437.0 890.6)" fill="#fbfbf6" fill-opacity="0.22" stroke="#b4a88c" stroke-width="0.4" stroke-opacity="0.2"/>
<ellipse cx="370.6" cy="838.8" rx="3.1" ry="1.1" transform="rotate(104 370.6 838.8)" fill="#fbfbf6" fill-opacity="0.22" stroke="#b4a88c" stroke-width="0.4" stroke-opacity="0.2"/>
<ellipse cx="419.8" cy="908.9" rx="3.3" ry="1.9" transform="rotate(31 419.8 908.9)" fill="#fbfbf6" fill-opacity="0.22" stroke="#b4a88c" stroke-width="0.4" stroke-opacity="0.2"/>
<ellipse cx="406.1" cy="858.1" rx="2.0" ry="2.0" transform="rotate(117 406.1 858.1)" fill="#fbfbf6" fill-opacity="0.22" stroke="#b4a88c" stroke-width="0.4" stroke-opacity="0.2"/>
<ellipse cx="434.6" cy="931.0" rx="3.4" ry="1.2" transform="rotate(126 434.6 931.0)" fill="#fbfbf6" fill-opacity="0.22" stroke="#b4a88c" stroke-width="0.4" stroke-opacity="0.2"/>
<ellipse cx="437.1" cy="841.1" rx="3.4" ry="1.4" transform="rotate(121 437.1 841.1)" fill="#fbfbf6" fill-opacity="0.22" stroke="#b4a88c" stroke-width="0.4" stroke-opacity="0.2"/>
<ellipse cx="377.2" cy="883.7" rx="1.5" ry="2.3" transform="rotate(8 377.2 883.7)" fill="#fbfbf6" fill-opacity="0.22" stroke="#b4a88c" stroke-width="0.4" stroke-opacity="0.2"/>
<ellipse cx="354.6" cy="916.3" rx="2.5" ry="1.3" transform="rotate(169 354.6 916.3)" fill="#fbfbf6" fill-opacity="0.22" stroke="#b4a88c" stroke-width="0.4" stroke-opacity="0.2"/>
<ellipse cx="444.7" cy="886.4" rx="2.8" ry="2.3" transform="rotate(157 444.7 886.4)" fill="#fbfbf6" fill-opacity="0.22" stroke="#b4a88c" stroke-width="0.4" stroke-opacity="0.2"/>
<ellipse cx="396.6" cy="921.4" rx="1.7" ry="1.4" transform="rotate(179 396.6 921.4)" fill="#fbfbf6" fill-opacity="0.22" stroke="#b4a88c" stroke-width="0.4" stroke-opacity="0.2"/>
<ellipse cx="449.9" cy="881.3" rx="2.4" ry="1.5" transform="rotate(127 449.9 881.3)" fill="#fbfbf6" fill-opacity="0.22" stroke="#b4a88c" stroke-width="0.4" stroke-opacity="0.2"/>
<ellipse cx="419.3" cy="886.9" rx="2.1" ry="2.2" transform="rotate(146 419.3 886.9)" fill="#fbfbf6" fill-opacity="0.22" stroke="#b4a88c" stroke-width="0.4" stroke-opacity="0.2"/>
<ellipse cx="379.1" cy="881.0" rx="3.2" ry="2.0" transform="rotate(108 379.1 881.0)" fill="#fbfbf6" fill-opacity="0.22" stroke="#b4a88c" stroke-width="0.4" stroke-opacity="0.2"/>
<ellipse cx="434.7" cy="859.9" rx="2.4" ry="2.0" transform="rotate(79 434.7 859.9)" fill="#fbfbf6" fill-opacity="0.22" stroke="#b4a88c" stroke-width="0.4" stroke-opacity="0.2"/>
<ellipse cx="403.1" cy="884.6" rx="2.5" ry="1.2" transform="rotate(148 403.1 884.6)" fill="#fbfbf6" fill-opacity="0.22" stroke="#b4a88c" stroke-width="0.4" stroke-opacity="0.2"/>
<ellipse cx="353.5" cy="921.3" rx="2.4" ry="1.2" transform="rotate(45 353.5 921.3)" fill="#fbfbf6" fill-opacity="0.22" stroke="#b4a88c" stroke-width="0.4" stroke-opacity="0.2"/>
<ellipse cx="383.0" cy="855.6" rx="3.4" ry="1.2" transform="rotate(15 383.0 855.6)" fill="#fbfbf6" fill-opacity="0.22" stroke="#b4a88c" stroke-width="0.4" stroke-opacity="0.2"/>
<ellipse cx="438.8" cy="943.1" rx="1.8" ry="1.2" transform="rotate(105 438.8 943.1)" fill="#fbfbf6" fill-opacity="0.22" stroke="#b4a88c" stroke-width="0.4" stroke-opacity="0.2"/>
<ellipse cx="391.1" cy="887.6" rx="2.5" ry="2.4" transform="rotate(68 391.1 887.6)" fill="#fbfbf6" fill-opacity="0.22" stroke="#b4a88c" stroke-width="0.4" stroke-opacity="0.2"/>
<ellipse cx="396.4" cy="914.3" rx="2.5" ry="2.2" transform="rotate(78 396.4 914.3)" fill="#fbfbf6" fill-opacity="0.22" stroke="#b4a88c" stroke-width="0.4" stroke-opacity="0.2"/>
<ellipse cx="435.6" cy="893.0" rx="2.5" ry="1.6" transform="rotate(29 435.6 893.0)" fill="#fbfbf6" fill-opacity="0.22" stroke="#b4a88c" stroke-width="0.4" stroke-opacity="0.2"/>
<ellipse cx="362.0" cy="880.9" rx="3.4" ry="1.6" transform="rotate(90 362.0 880.9)" fill="#fbfbf6" fill-opacity="0.22" stroke="#b4a88c" stroke-width="0.4" stroke-opacity="0.2"/>
<ellipse cx="408.6" cy="921.6" rx="2.0" ry="1.4" transform="rotate(60 408.6 921.6)" fill="#fbfbf6" fill-opacity="0.22" stroke="#b4a88c" stroke-width="0.4" stroke-opacity="0.2"/>
<ellipse cx="426.4" cy="889.7" rx="2.5" ry="2.3" transform="rotate(62 426.4 889.7)" fill="#fbfbf6" fill-opacity="0.22" stroke="#b4a88c" stroke-width="0.4" stroke-opacity="0.2"/>
<ellipse cx="434.0" cy="944.9" rx="2.8" ry="2.1" transform="rotate(146 434.0 944.9)" fill="#fbfbf6" fill-opacity="0.22" stroke="#b4a88c" stroke-width="0.4" stroke-opacity="0.2"/>
<ellipse cx="372.4" cy="906.3" rx="2.0" ry="1.4" transform="rotate(23 372.4 906.3)" fill="#fbfbf6" fill-opacity="0.22" stroke="#b4a88c" stroke-width="0.4" stroke-opacity="0.2"/>
<ellipse cx="456.6" cy="937.4" rx="3.1" ry="1.5" transform="rotate(165 456.6 937.4)" fill="#fbfbf6" fill-opacity="0.22" stroke="#b4a88c" stroke-width="0.4" stroke-opacity="0.2"/>
<ellipse cx="459.8" cy="904.4" rx="3.0" ry="2.0" transform="rotate(2 459.8 904.4)" fill="#fbfbf6" fill-opacity="0.22" stroke="#b4a88c" stroke-width="0.4" stroke-opacity="0.2"/>
<ellipse cx="433.4" cy="908.0" rx="2.0" ry="2.1" transform="rotate(133 433.4 908.0)" fill="#fbfbf6" fill-opacity="0.22" stroke="#b4a88c" stroke-width="0.4" stroke-opacity="0.2"/>
<ellipse cx="357.3" cy="879.8" rx="1.2" ry="1.4" transform="rotate(20 357.3 879.8)" fill="#fbfbf6" fill-opacity="0.22" stroke="#b4a88c" stroke-width="0.4" stroke-opacity="0.2"/>
<ellipse cx="344.5" cy="870.3" rx="2.8" ry="1.1" transform="rotate(175 344.5 870.3)" fill="#fbfbf6" fill-opacity="0.22" stroke="#b4a88c" stroke-width="0.4" stroke-opacity="0.2"/>
<ellipse cx="371.0" cy="927.3" rx="1.8" ry="2.2" transform="rotate(91 371.0 927.3)" fill="#fbfbf6" fill-opacity="0.22" stroke="#b4a88c" stroke-width="0.4" stroke-opacity="0.2"/>
<ellipse cx="465.1" cy="886.1" rx="1.8" ry="2.2" transform="rotate(4 465.1 886.1)" fill="#fbfbf6" fill-opacity="0.22" stroke="#b4a88c" stroke-width="0.4" stroke-opacity="0.2"/>
<ellipse cx="362.6" cy="853.2" rx="2.4" ry="2.0" transform="rotate(44 362.6 853.2)" fill="#fbfbf6" fill-opacity="0.22" stroke="#b4a88c" stroke-width="0.4" stroke-opacity="0.2"/>
<ellipse cx="427.8" cy="929.8" rx="1.2" ry="2.0" transform="rotate(25 427.8 929.8)" fill="#fbfbf6" fill-opacity="0.22" stroke="#b4a88c" stroke-width="0.4" stroke-opacity="0.2"/>
<ellipse cx="348.1" cy="891.2" rx="2.1" ry="1.4" transform="rotate(115 348.1 891.2)" fill="#fbfbf6" fill-opacity="0.22" stroke="#b4a88c" stroke-width="0.4" stroke-opacity="0.2"/>
<ellipse cx="346.3" cy="903.2" rx="1.5" ry="2.3" transform="rotate(85 346.3 903.2)" fill="#fbfbf6" fill-opacity="0.22" stroke="#b4a88c" stroke-width="0.4" stroke-opacity="0.2"/>
<ellipse cx="374.9" cy="894.6" rx="2.1" ry="0.9" transform="rotate(137 374.9 894.6)" fill="#fbfbf6" fill-opacity="0.22" stroke="#b4a88c" stroke-width="0.4" stroke-opacity="0.2"/>
<ellipse cx="406.1" cy="928.8" rx="2.9" ry="2.1" transform="rotate(171 406.1 928.8)" fill="#fbfbf6" fill-opacity="0.22" stroke="#b4a88c" stroke-width="0.4" stroke-opacity="0.2"/>
<ellipse cx="386.7" cy="898.9" rx="2.5" ry="1.8" transform="rotate(134 386.7 898.9)" fill="#fbfbf6" fill-opacity="0.22" stroke="#b4a88c" stroke-width="0.4" stroke-opacity="0.2"/>
<ellipse cx="454.0" cy="908.2" rx="2.5" ry="1.7" transform="rotate(26 454.0 908.2)" fill="#fbfbf6" fill-opacity="0.22" stroke="#b4a88c" stroke-width="0.4" stroke-opacity="0.2"/>
<ellipse cx="383.3" cy="851.1" rx="2.5" ry="1.8" transform="rotate(40 383.3 851.1)" fill="#fbfbf6" fill-opacity="0.22" stroke="#b4a88c" stroke-width="0.4" stroke-opacity="0.2"/>
<ellipse cx="398.6" cy="931.3" rx="1.5" ry="1.7" transform="rotate(92 398.6 931.3)" fill="#fbfbf6" fill-opacity="0.22" stroke="#b4a88c" stroke-width="0.4" stroke-opacity="0.2"/>
<ellipse cx="411.9" cy="868.8" rx="3.3" ry="1.7" transform="rotate(90 411.9 868.8)" fill="#fbfbf6" fill-opacity="0.22" stroke="#b4a88c" stroke-width="0.4" stroke-opacity="0.2"/>
<ellipse cx="355.3" cy="842.3" rx="2.2" ry="1.2" transform="rotate(123 355.3 842.3)" fill="#fbfbf6" fill-opacity="0.22" stroke="#b4a88c" stroke-width="0.4" stroke-opacity="0.2"/>
<ellipse cx="446.2" cy="844.7" rx="2.0" ry="1.3" transform="rotate(117 446.2 844.7)" fill="#fbfbf6" fill-opacity="0.22" stroke="#b4a88c" stroke-width="0.4" stroke-opacity="0.2"/>
<ellipse cx="425.7" cy="930.8" rx="1.3" ry="1.6" transform="rotate(131 425.7 930.8)" fill="#fbfbf6" fill-opacity="0.22" stroke="#b4a88c" stroke-width="0.4" stroke-opacity="0.2"/>
<ellipse cx="368.0" cy="842.5" rx="2.2" ry="1.2" transform="rotate(8 368.0 842.5)" fill="#fbfbf6" fill-opacity="0.22" stroke="#b4a88c" stroke-width="0.4" stroke-opacity="0.2"/>
<ellipse cx="466.3" cy="917.9" rx="2.7" ry="2.2" transform="rotate(132 466.3 917.9)" fill="#fbfbf6" fill-opacity="0.22" stroke="#b4a88c" stroke-width="0.4" stroke-opacity="0.2"/>
<ellipse cx="407.7" cy="920.4" rx="3.2" ry="2.3" transform="rotate(157 407.7 920.4)" fill="#fbfbf6" fill-opacity="0.22" stroke="#b4a88c" stroke-width="0.4" stroke-opacity="0.2"/>
<ellipse cx="457.9" cy="942.3" rx="3.3" ry="1.8" transform="rotate(76 457.9 942.3)" fill="#fbfbf6" fill-opacity="0.22" stroke="#b4a88c" stroke-width="0.4" stroke-opacity="0.2"/>
<ellipse cx="443.7" cy="943.0" rx="1.4" ry="1.5" transform="rotate(25 443.7 943.0)" fill="#fbfbf6" fill-opacity="0.22" stroke="#b4a88c" stroke-width="0.4" stroke-opacity="0.2"/>
<ellipse cx="359.4" cy="899.7" rx="1.6" ry="1.0" transform="rotate(104 359.4 899.7)" fill="#fbfbf6" fill-opacity="0.22" stroke="#b4a88c" stroke-width="0.4" stroke-opacity="0.2"/>
<ellipse cx="423.9" cy="891.5" rx="1.3" ry="1.0" transform="rotate(97 423.9 891.5)" fill="#fbfbf6" fill-opacity="0.22" stroke="#b4a88c" stroke-width="0.4" stroke-opacity="0.2"/>
<ellipse cx="353.3" cy="850.0" rx="2.0" ry="2.3" transform="rotate(138 353.3 850.0)" fill="#fbfbf6" fill-opacity="0.22" stroke="#b4a88c" stroke-width="0.4" stroke-opacity="0.2"/>
<ellipse cx="471.8" cy="922.3" rx="1.4" ry="2.0" transform="rotate(121 471.8 922.3)" fill="#fbfbf6" fill-opacity="0.22" stroke="#b4a88c" stroke-width="0.4" stroke-opacity="0.2"/>
<ellipse cx="477.0" cy="844.7" rx="1.6" ry="1.0" transform="rotate(76 477.0 844.7)" fill="#fbfbf6" fill-opacity="0.22" stroke="#b4a88c" stroke-width="0.4" stroke-opacity="0.2"/>
<ellipse cx="393.0" cy="867.5" rx="2.9" ry="2.3" transform="rotate(169 393.0 867.5)" fill="#fbfbf6" fill-opacity="0.22" stroke="#b4a88c" stroke-width="0.4" stroke-opacity="0.2"/>
<ellipse cx="355.3" cy="856.1" rx="2.2" ry="2.0" transform="rotate(137 355.3 856.1)" fill="#fbfbf6" fill-opacity="0.22" stroke="#b4a88c" stroke-width="0.4" stroke-opacity="0.2"/>
<ellipse cx="464.8" cy="851.6" rx="2.4" ry="0.9" transform="rotate(124 464.8 851.6)" fill="#fbfbf6" fill-opacity="0.22" stroke="#b4a88c" stroke-width="0.4" stroke-opacity="0.2"/>
<ellipse cx="463.5" cy="872.1" rx="2.0" ry="0.9" transform="rotate(158 463.5 872.1)" fill="#fbfbf6" fill-opacity="0.22" stroke="#b4a88c" stroke-width="0.4" stroke-opacity="0.2"/>
<ellipse cx="393.2" cy="868.3" rx="2.0" ry="1.1" transform="rotate(178 393.2 868.3)" fill="#fbfbf6" fill-opacity="0.22" stroke="#b4a88c" stroke-width="0.4" stroke-opacity="0.2"/>
<ellipse cx="478.8" cy="896.7" rx="2.1" ry="1.6" transform="rotate(168 478.8 896.7)" fill="#fbfbf6" fill-opacity="0.22" stroke="#b4a88c" stroke-width="0.4" stroke-opacity="0.2"/>
<ellipse cx="349.1" cy="861.9" rx="2.7" ry="1.3" transform="rotate(90 349.1 861.9)" fill="#fbfbf6" fill-opacity="0.22" stroke="#b4a88c" stroke-width="0.4" stroke-opacity="0.2"/>
<ellipse cx="358.1" cy="884.3" rx="3.3" ry="1.9" transform="rotate(107 358.1 884.3)" fill="#fbfbf6" fill-opacity="0.22" stroke="#b4a88c" stroke-width="0.4" stroke-opacity="0.2"/>
<ellipse cx="466.6" cy="857.1" rx="2.8" ry="2.3" transform="rotate(67 466.6 857.1)" fill="#fbfbf6" fill-opacity="0.22" stroke="#b4a88c" stroke-width="0.4" stroke-opacity="0.2"/>
<ellipse cx="346.4" cy="903.5" rx="3.2" ry="1.0" transform="rotate(49 346.4 903.5)" fill="#fbfbf6" fill-opacity="0.22" stroke="#b4a88c" stroke-width="0.4" stroke-opacity="0.2"/>
<ellipse cx="445.5" cy="895.0" rx="3.4" ry="1.7" transform="rotate(66 445.5 895.0)" fill="#fbfbf6" fill-opacity="0.22" stroke="#b4a88c" stroke-width="0.4" stroke-opacity="0.2"/>
<ellipse cx="395.6" cy="891.0" rx="2.9" ry="2.0" transform="rotate(79 395.6 891.0)" fill="#fbfbf6" fill-opacity="0.22" stroke="#b4a88c" stroke-width="0.4" stroke-opacity="0.2"/>
<ellipse cx="398.6" cy="904.2" rx="1.6" ry="1.6" transform="rotate(62 398.6 904.2)" fill="#fbfbf6" fill-opacity="0.22" stroke="#b4a88c" stroke-width="0.4" stroke-opacity="0.2"/>
<ellipse cx="346.8" cy="911.3" rx="1.4" ry="1.3" transform="rotate(108 346.8 911.3)" fill="#fbfbf6" fill-opacity="0.22" stroke="#b4a88c" stroke-width="0.4" stroke-opacity="0.2"/>
<ellipse cx="468.7" cy="907.1" rx="3.3" ry="0.8" transform="rotate(145 468.7 907.1)" fill="#fbfbf6" fill-opacity="0.22" stroke="#b4a88c" stroke-width="0.4" stroke-opacity="0.2"/>
<ellipse cx="450.5" cy="914.2" rx="3.3" ry="0.9" transform="rotate(15 450.5 914.2)" fill="#fbfbf6" fill-opacity="0.22" stroke="#b4a88c" stroke-width="0.4" stroke-opacity="0.2"/>
<ellipse cx="481.3" cy="933.7" rx="1.5" ry="1.5" transform="rotate(157 481.3 933.7)" fill="#fbfbf6" fill-opacity="0.22" stroke="#b4a88c" stroke-width="0.4" stroke-opacity="0.2"/>
<ellipse cx="429.4" cy="841.5" rx="1.7" ry="2.1" transform="rotate(28 429.4 841.5)" fill="#fbfbf6" fill-opacity="0.22" stroke="#b4a88c" stroke-width="0.4" stroke-opacity="0.2"/>
<ellipse cx="385.0" cy="926.6" rx="1.6" ry="1.7" transform="rotate(31 385.0 926.6)" fill="#fbfbf6" fill-opacity="0.22" stroke="#b4a88c" stroke-width="0.4" stroke-opacity="0.2"/>
<ellipse cx="368.5" cy="897.3" rx="2.9" ry="1.4" transform="rotate(44 368.5 897.3)" fill="#fbfbf6" fill-opacity="0.22" stroke="#b4a88c" stroke-width="0.4" stroke-opacity="0.2"/>
<ellipse cx="445.9" cy="915.9" rx="1.2" ry="1.9" transform="rotate(94 445.9 915.9)" fill="#fbfbf6" fill-opacity="0.22" stroke="#b4a88c" stroke-width="0.4" stroke-opacity="0.2"/>
<ellipse cx="486.1" cy="902.9" rx="2.6" ry="0.9" transform="rotate(86 486.1 902.9)" fill="#fbfbf6" fill-opacity="0.22" stroke="#b4a88c" stroke-width="0.4" stroke-opacity="0.2"/>
<ellipse cx="351.4" cy="856.6" rx="2.3" ry="2.2" transform="rotate(174 351.4 856.6)" fill="#fbfbf6" fill-opacity="0.22" stroke="#b4a88c" stroke-width="0.4" stroke-opacity="0.2"/>
<ellipse cx="464.8" cy="891.7" rx="2.2" ry="1.9" transform="rotate(64 464.8 891.7)" fill="#fbfbf6" fill-opacity="0.22" stroke="#b4a88c" stroke-width="0.4" stroke-opacity="0.2"/>
<ellipse cx="347.5" cy="918.5" rx="3.3" ry="2.2" transform="rotate(115 347.5 918.5)" fill="#fbfbf6" fill-opacity="0.22" stroke="#b4a88c" stroke-width="0.4" stroke-opacity="0.2"/>
<ellipse cx="459.2" cy="859.6" rx="1.7" ry="2.2" transform="rotate(93 459.2 859.6)" fill="#fbfbf6" fill-opacity="0.22" stroke="#b4a88c" stroke-width="0.4" stroke-opacity="0.2"/>
<ellipse cx="376.9" cy="908.1" rx="2.8" ry="2.2" transform="rotate(22 376.9 908.1)" fill="#fbfbf6" fill-opacity="0.22" stroke="#b4a88c" stroke-width="0.4" stroke-opacity="0.2"/>
<ellipse cx="387.5" cy="893.3" rx="3.0" ry="2.4" transform="rotate(18 387.5 893.3)" fill="#fbfbf6" fill-opacity="0.22" stroke="#b4a88c" stroke-width="0.4" stroke-opacity="0.2"/>
<ellipse cx="391.6" cy="882.9" rx="3.2" ry="1.8" transform="rotate(55 391.6 882.9)" fill="#fbfbf6" fill-opacity="0.22" stroke="#b4a88c" stroke-width="0.4" stroke-opacity="0.2"/>
<ellipse cx="427.4" cy="859.0" rx="3.1" ry="1.5" transform="rotate(101 427.4 859.0)" fill="#fbfbf6" fill-opacity="0.22" stroke="#b4a88c" stroke-width="0.4" stroke-opacity="0.2"/>
<ellipse cx="458.9" cy="893.3" rx="1.3" ry="1.4" transform="rotate(2 458.9 893.3)" fill="#fbfbf6" fill-opacity="0.22" stroke="#b4a88c" stroke-width="0.4" stroke-opacity="0.2"/>
<ellipse cx="405.8" cy="944.1" rx="2.9" ry="2.4" transform="rotate(26 405.8 944.1)" fill="#fbfbf6" fill-opacity="0.22" stroke="#b4a88c" stroke-width="0.4" stroke-opacity="0.2"/>
<ellipse cx="442.5" cy="922.3" rx="2.2" ry="2.1" transform="rotate(18 442.5 922.3)" fill="#fbfbf6" fill-opacity="0.22" stroke="#b4a88c" stroke-width="0.4" stroke-opacity="0.2"/>
<ellipse cx="474.1" cy="941.4" rx="1.6" ry="0.9" transform="rotate(156 474.1 941.4)" fill="#fbfbf6" fill-opacity="0.22" stroke="#b4a88c" stroke-width="0.4" stroke-opacity="0.2"/>
<ellipse cx="428.1" cy="944.1" rx="2.4" ry="1.2" transform="rotate(48 428.1 944.1)" fill="#fbfbf6" fill-opacity="0.22" stroke="#b4a88c" stroke-width="0.4" stroke-opacity="0.2"/>
<ellipse cx="439.7" cy="874.9" rx="3.4" ry="2.0" transform="rotate(104 439.7 874.9)" fill="#fbfbf6" fill-opacity="0.22" stroke="#b4a88c" stroke-width="0.4" stroke-opacity="0.2"/>
<ellipse cx="469.5" cy="924.2" rx="2.0" ry="1.8" transform="rotate(77 469.5 924.2)" fill="#fbfbf6" fill-opacity="0.22" stroke="#b4a88c" stroke-width="0.4" stroke-opacity="0.2"/>
<ellipse cx="350.5" cy="850.5" rx="1.8" ry="0.8" transform="rotate(157 350.5 850.5)" fill="#fbfbf6" fill-opacity="0.22" stroke="#b4a88c" stroke-width="0.4" stroke-opacity="0.2"/>
<ellipse cx="416.8" cy="864.9" rx="1.4" ry="1.9" transform="rotate(76 416.8 864.9)" fill="#fbfbf6" fill-opacity="0.22" stroke="#b4a88c" stroke-width="0.4" stroke-opacity="0.2"/>
<ellipse cx="468.2" cy="905.4" rx="1.4" ry="2.4" transform="rotate(159 468.2 905.4)" fill="#fbfbf6" fill-opacity="0.22" stroke="#b4a88c" stroke-width="0.4" stroke-opacity="0.2"/>
<ellipse cx="396.0" cy="923.8" rx="2.6" ry="1.0" transform="rotate(43 396.0 923.8)" fill="#fbfbf6" fill-opacity="0.22" stroke="#b4a88c" stroke-width="0.4" stroke-opacity="0.2"/>
<ellipse cx="390.2" cy="898.9" rx="2.3" ry="1.7" transform="rotate(5 390.2 898.9)" fill="#fbfbf6" fill-opacity="0.22" stroke="#b4a88c" stroke-width="0.4" stroke-opacity="0.2"/>
<ellipse cx="396.6" cy="852.4" rx="2.0" ry="2.4" transform="rotate(18 396.6 852.4)" fill="#fbfbf6" fill-opacity="0.22" stroke="#b4a88c" stroke-width="0.4" stroke-opacity="0.2"/>
<ellipse cx="345.9" cy="881.8" rx="2.0" ry="0.9" transform="rotate(155 345.9 881.8)" fill="#fbfbf6" fill-opacity="0.22" stroke="#b4a88c" stroke-width="0.4" stroke-opacity="0.2"/>
<ellipse cx="459.4" cy="927.0" rx="2.6" ry="1.6" transform="rotate(101 459.4 927.0)" fill="#fbfbf6" fill-opacity="0.22" stroke="#b4a88c" stroke-width="0.4" stroke-opacity="0.2"/>
<ellipse cx="370.1" cy="840.7" rx="3.3" ry="2.2" transform="rotate(50 370.1 840.7)" fill="#fbfbf6" fill-opacity="0.22" stroke="#b4a88c" stroke-width="0.4" stroke-opacity="0.2"/>
<ellipse cx="420.0" cy="850.8" rx="3.0" ry="2.2" transform="rotate(176 420.0 850.8)" fill="#fbfbf6" fill-opacity="0.22" stroke="#b4a88c" stroke-width="0.4" stroke-opacity="0.2"/>
<ellipse cx="357.6" cy="942.9" rx="1.4" ry="2.0" transform="rotate(174 357.6 942.9)" fill="#fbfbf6" fill-opacity="0.22" stroke="#b4a88c" stroke-width="0.4" stroke-opacity="0.2"/>
<ellipse cx="370.2" cy="902.2" rx="3.0" ry="2.1" transform="rotate(148 370.2 902.2)" fill="#fbfbf6" fill-opacity="0.22" stroke="#b4a88c" stroke-width="0.4" stroke-opacity="0.2"/>
<ellipse cx="440.3" cy="892.8" rx="2.4" ry="2.0" transform="rotate(135 440.3 892.8)" fill="#fbfbf6" fill-opacity="0.22" stroke="#b4a88c" stroke-width="0.4" stroke-opacity="0.2"/>
<ellipse cx="440.0" cy="931.7" rx="1.8" ry="1.3" transform="rotate(72 440.0 931.7)" fill="#fbfbf6" fill-opacity="0.22" stroke="#b4a88c" stroke-width="0.4" stroke-opacity="0.2"/>
<ellipse cx="382.0" cy="914.7" rx="1.2" ry="2.3" transform="rotate(28 382.0 914.7)" fill="#fbfbf6" fill-opacity="0.22" stroke="#b4a88c" stroke-width="0.4" stroke-opacity="0.2"/>
<ellipse cx="438.2" cy="918.2" rx="1.8" ry="0.9" transform="rotate(177 438.2 918.2)" fill="#fbfbf6" fill-opacity="0.22" stroke="#b4a88c" stroke-width="0.4" stroke-opacity="0.2"/>
<path d="M475.6,891.9 Q473.4,895.8 476.4,900.8" stroke="#c0b088" stroke-width="0.6" fill="none" opacity="0.27"/>
<path d="M361.7,904.3 Q362.5,901.3 359.7,898.4" stroke="#c0b088" stroke-width="0.6" fill="none" opacity="0.22"/>
<path d="M399.4,868.7 Q396.8,868.2 394.5,870.7" stroke="#c0b088" stroke-width="0.6" fill="none" opacity="0.22"/>
<path d="M469.2,910.3 Q466.7,909.6 464.2,911.9" stroke="#c0b088" stroke-width="0.6" fill="none" opacity="0.22"/>
<path d="M447.1,889.4 Q450.5,885.1 447.9,878.5" stroke="#c0b088" stroke-width="0.6" fill="none" opacity="0.25"/>
<path d="M444.0,892.2 Q437.6,894.9 436.4,903.8" stroke="#c0b088" stroke-width="0.6" fill="none" opacity="0.30"/>
<path d="M399.1,839.2 Q395.7,837.8 391.9,840.8" stroke="#c0b088" stroke-width="0.6" fill="none" opacity="0.33"/>
<path d="M482.5,914.9 Q486.3,918.8 493.2,917.0" stroke="#c0b088" stroke-width="0.6" fill="none" opacity="0.19"/>
<path d="M424.9,926.6 Q428.6,932.3 437.6,931.9" stroke="#c0b088" stroke-width="0.6" fill="none" opacity="0.32"/>
<path d="M404.9,895.2 Q399.1,897.4 397.9,905.4" stroke="#c0b088" stroke-width="0.6" fill="none" opacity="0.34"/>
<path d="M411.3,922.6 Q412.1,925.1 415.5,925.9" stroke="#c0b088" stroke-width="0.6" fill="none" opacity="0.34"/>
<path d="M369.1,917.4 Q370.2,915.3 368.6,912.8" stroke="#c0b088" stroke-width="0.6" fill="none" opacity="0.32"/>
<path d="M424.7,892.1 Q426.2,888.3 422.9,884.3" stroke="#c0b088" stroke-width="0.6" fill="none" opacity="0.32"/>
<path d="M426.3,921.5 Q422.2,920.9 418.9,925.1" stroke="#c0b088" stroke-width="0.6" fill="none" opacity="0.22"/>
<path d="M371.1,931.5 Q368.4,925.4 359.8,924.4" stroke="#c0b088" stroke-width="0.6" fill="none" opacity="0.28"/>
<path d="M453.9,899.8 Q448.7,896.3 441.3,899.8" stroke="#c0b088" stroke-width="0.6" fill="none" opacity="0.17"/>
<path d="M433.3,839.2 Q434.5,846.0 442.9,849.1" stroke="#c0b088" stroke-width="0.6" fill="none" opacity="0.15"/>
<path d="M460.4,945.0 Q462.2,938.4 456.0,932.0" stroke="#c0b088" stroke-width="0.6" fill="none" opacity="0.18"/>
<path d="M447.7,904.3 Q445.7,902.9 442.9,904.1" stroke="#c0b088" stroke-width="0.6" fill="none" opacity="0.16"/>
<path d="M459.9,856.6 Q460.4,853.9 457.7,851.6" stroke="#c0b088" stroke-width="0.6" fill="none" opacity="0.28"/>
<path d="M352.3,942.5 Q352.8,939.4 349.7,936.8" stroke="#c0b088" stroke-width="0.6" fill="none" opacity="0.34"/>
<path d="M367.1,889.6 Q366.0,887.1 362.4,886.8" stroke="#c0b088" stroke-width="0.6" fill="none" opacity="0.29"/>
<path d="M382.5,924.5 Q388.6,927.2 395.6,922.1" stroke="#c0b088" stroke-width="0.6" fill="none" opacity="0.17"/>
<path d="M414.1,912.4 Q415.5,914.0 418.1,913.4" stroke="#c0b088" stroke-width="0.6" fill="none" opacity="0.31"/>
<path d="M445.2,859.1 Q448.3,853.9 444.4,847.0" stroke="#c0b088" stroke-width="0.6" fill="none" opacity="0.21"/>
<circle cx="374.9" cy="884.5" r="4.1" fill="#60c4d0" opacity="0.33" filter="url(#blur2)"/>
<circle cx="435.1" cy="877.3" r="4.4" fill="#60c4d0" opacity="0.33" filter="url(#blur2)"/>
<circle cx="460.9" cy="939.0" r="3.7" fill="#60c4d0" opacity="0.33" filter="url(#blur2)"/>
<circle cx="382.3" cy="851.9" r="3.0" fill="#60c4d0" opacity="0.33" filter="url(#blur2)"/>
<circle cx="423.3" cy="841.6" r="2.7" fill="#60c4d0" opacity="0.33" filter="url(#blur2)"/>
<circle cx="385.0" cy="887.1" r="3.2" fill="#60c4d0" opacity="0.33" filter="url(#blur2)"/>
<circle cx="458.9" cy="843.9" r="2.6" fill="#60c4d0" opacity="0.33" filter="url(#blur2)"/>
<circle cx="407.6" cy="906.6" r="4.3" fill="#60c4d0" opacity="0.33" filter="url(#blur2)"/>
<circle cx="370.1" cy="875.9" r="3.8" fill="#60c4d0" opacity="0.33" filter="url(#blur2)"/>
<circle cx="443.1" cy="942.1" r="3.8" fill="#60c4d0" opacity="0.33" filter="url(#blur2)"/>
<circle cx="410.8" cy="865.5" r="4.3" fill="#60c4d0" opacity="0.33" filter="url(#blur2)"/>
<circle cx="393.0" cy="867.3" r="3.2" fill="#60c4d0" opacity="0.33" filter="url(#blur2)"/>
<circle cx="421.9" cy="864.6" r="2.8" fill="#60c4d0" opacity="0.33" filter="url(#blur2)"/>
<circle cx="452.6" cy="847.8" r="4.0" fill="#60c4d0" opacity="0.33" filter="url(#blur2)"/>
<circle cx="431.4" cy="841.9" r="3.0" fill="#60c4d0" opacity="0.33" filter="url(#blur2)"/>
<circle cx="357.1" cy="841.3" r="3.3" fill="#60c4d0" opacity="0.33" filter="url(#blur2)"/>
<circle cx="345.6" cy="899.9" r="4.3" fill="#60c4d0" opacity="0.33" filter="url(#blur2)"/>
<circle cx="391.5" cy="879.3" r="4.5" fill="#60c4d0" opacity="0.33" filter="url(#blur2)"/>
<circle cx="385.3" cy="920.4" r="3.2" fill="#60c4d0" opacity="0.33" filter="url(#blur2)"/>
<circle cx="442.3" cy="849.0" r="3.2" fill="#60c4d0" opacity="0.33" filter="url(#blur2)"/>
<circle cx="389.4" cy="899.6" r="3.5" fill="#60c4d0" opacity="0.33" filter="url(#blur2)"/>
<circle cx="344.9" cy="914.2" r="3.2" fill="#60c4d0" opacity="0.33" filter="url(#blur2)"/>
<circle cx="405.4" cy="858.1" r="2.5" fill="#60c4d0" opacity="0.33" filter="url(#blur2)"/>
<circle cx="431.5" cy="858.0" r="2.7" fill="#60c4d0" opacity="0.33" filter="url(#blur2)"/>
<circle cx="430.2" cy="886.3" r="3.4" fill="#60c4d0" opacity="0.33" filter="url(#blur2)"/>
<circle cx="359.2" cy="905.8" r="3.4" fill="#60c4d0" opacity="0.33" filter="url(#blur2)"/>
<circle cx="477.7" cy="859.4" r="4.4" fill="#60c4d0" opacity="0.33" filter="url(#blur2)"/>
<circle cx="474.7" cy="877.2" r="2.7" fill="#60c4d0" opacity="0.33" filter="url(#blur2)"/>
<circle cx="348.7" cy="871.3" r="2.8" fill="#60c4d0" opacity="0.33" filter="url(#blur2)"/>
<circle cx="380.9" cy="916.2" r="2.5" fill="#60c4d0" opacity="0.33" filter="url(#blur2)"/>
<circle cx="449.4" cy="848.4" r="3.1" fill="#60c4d0" opacity="0.33" filter="url(#blur2)"/>
<circle cx="346.4" cy="852.1" r="2.7" fill="#60c4d0" opacity="0.33" filter="url(#blur2)"/>
<circle cx="388.7" cy="935.9" r="3.7" fill="#60c4d0" opacity="0.33" filter="url(#blur2)"/>
<circle cx="401.4" cy="946.4" r="3.2" fill="#60c4d0" opacity="0.33" filter="url(#blur2)"/>
<circle cx="480.2" cy="873.6" r="4.4" fill="#60c4d0" opacity="0.33" filter="url(#blur2)"/>
<circle cx="402.2" cy="938.3" r="3.1" fill="#60c4d0" opacity="0.33" filter="url(#blur2)"/>
<circle cx="426.1" cy="843.7" r="3.4" fill="#60c4d0" opacity="0.33" filter="url(#blur2)"/>
<circle cx="383.8" cy="879.9" r="3.4" fill="#60c4d0" opacity="0.33" filter="url(#blur2)"/>
<circle cx="347.9" cy="956.3" r="4.0" fill="#60c4d0" opacity="0.33" filter="url(#blur2)"/>
<circle cx="348.2" cy="923.4" r="3.0" fill="#60c4d0" opacity="0.33" filter="url(#blur2)"/>
<circle cx="356.0" cy="862.8" r="2.6" fill="#60c4d0" opacity="0.33" filter="url(#blur2)"/>
<circle cx="371.0" cy="852.0" r="4.1" fill="#60c4d0" opacity="0.33" filter="url(#blur2)"/>
<circle cx="406.1" cy="899.7" r="3.0" fill="#60c4d0" opacity="0.33" filter="url(#blur2)"/>
<circle cx="445.8" cy="899.3" r="3.8" fill="#60c4d0" opacity="0.33" filter="url(#blur2)"/>
<circle cx="409.3" cy="843.3" r="3.9" fill="#60c4d0" opacity="0.33" filter="url(#blur2)"/>
<circle cx="381.3" cy="853.0" r="3.6" fill="#60c4d0" opacity="0.33" filter="url(#blur2)"/>
<circle cx="406.7" cy="855.3" r="3.8" fill="#60c4d0" opacity="0.33" filter="url(#blur2)"/>
<circle cx="475.7" cy="906.7" r="3.1" fill="#60c4d0" opacity="0.33" filter="url(#blur2)"/>
<circle cx="348.4" cy="842.0" r="4.2" fill="#60c4d0" opacity="0.33" filter="url(#blur2)"/>
<circle cx="402.6" cy="911.1" r="3.0" fill="#60c4d0" opacity="0.33" filter="url(#blur2)"/>
<circle cx="394.2" cy="866.1" r="4.4" fill="#60c4d0" opacity="0.33" filter="url(#blur2)"/>
<circle cx="471.0" cy="840.0" r="3.2" fill="#60c4d0" opacity="0.33" filter="url(#blur2)"/>
<circle cx="382.3" cy="881.7" r="3.8" fill="#60c4d0" opacity="0.33" filter="url(#blur2)"/>
<circle cx="353.3" cy="903.8" r="3.5" fill="#60c4d0" opacity="0.33" filter="url(#blur2)"/>
<circle cx="422.5" cy="855.4" r="3.1" fill="#60c4d0" opacity="0.33" filter="url(#blur2)"/>
<circle cx="367.2" cy="914.9" r="2.9" fill="#60c4d0" opacity="0.33" filter="url(#blur2)"/>
<circle cx="434.0" cy="862.4" r="3.5" fill="#60c4d0" opacity="0.33" filter="url(#blur2)"/>
<circle cx="347.0" cy="891.3" r="4.5" fill="#60c4d0" opacity="0.33" filter="url(#blur2)"/>
<circle cx="393.5" cy="898.2" r="3.4" fill="#60c4d0" opacity="0.33" filter="url(#blur2)"/>
<circle cx="418.3" cy="929.5" r="4.0" fill="#60c4d0" opacity="0.33" filter="url(#blur2)"/>
<circle cx="380.6" cy="880.8" r="4.3" fill="#60c4d0" opacity="0.33" filter="url(#blur2)"/>
<circle cx="409.0" cy="854.5" r="3.1" fill="#60c4d0" opacity="0.33" filter="url(#blur2)"/>
<circle cx="366.8" cy="915.1" r="3.6" fill="#60c4d0" opacity="0.33" filter="url(#blur2)"/>
<circle cx="388.2" cy="841.9" r="2.7" fill="#60c4d0" opacity="0.33" filter="url(#blur2)"/>
<circle cx="445.6" cy="861.4" r="4.3" fill="#60c4d0" opacity="0.33" filter="url(#blur2)"/>
<circle cx="344.5" cy="868.3" r="4.0" fill="#60c4d0" opacity="0.33" filter="url(#blur2)"/>
<circle cx="361.0" cy="894.0" r="2.9" fill="#60c4d0" opacity="0.33" filter="url(#blur2)"/>
<circle cx="477.0" cy="943.9" r="4.3" fill="#60c4d0" opacity="0.33" filter="url(#blur2)"/>
<circle cx="390.1" cy="851.6" r="4.0" fill="#60c4d0" opacity="0.33" filter="url(#blur2)"/>
<circle cx="353.6" cy="858.3" r="3.7" fill="#60c4d0" opacity="0.33" filter="url(#blur2)"/>
<circle cx="346.1" cy="863.7" r="3.7" fill="#60c4d0" opacity="0.33" filter="url(#blur2)"/>
<circle cx="429.6" cy="937.3" r="3.6" fill="#60c4d0" opacity="0.33" filter="url(#blur2)"/>
<circle cx="347.0" cy="863.3" r="4.1" fill="#60c4d0" opacity="0.33" filter="url(#blur2)"/>
<circle cx="364.3" cy="854.4" r="3.3" fill="#60c4d0" opacity="0.33" filter="url(#blur2)"/>
<circle cx="483.3" cy="863.1" r="3.2" fill="#60c4d0" opacity="0.33" filter="url(#blur2)"/>
<circle cx="374.9" cy="884.5" r="1.00" fill="#20a8c4" opacity="0.62" filter="url(#blur1)"/>
<circle cx="374.4" cy="883.6" r="0.80" fill="#20a8c4" opacity="0.62" filter="url(#blur1)"/>
<circle cx="435.1" cy="877.3" r="1.20" fill="#108cb0" opacity="0.60" filter="url(#blur1)"/>
<circle cx="460.9" cy="939.0" r="0.50" fill="#40b8cc" opacity="0.84" filter="url(#blur1)"/>
<circle cx="382.3" cy="851.9" r="1.40" fill="#20a8c4" opacity="0.77" filter="url(#blur1)"/>
<circle cx="382.7" cy="851.9" r="1.12" fill="#20a8c4" opacity="0.77" filter="url(#blur1)"/>
<circle cx="423.3" cy="841.6" r="0.80" fill="#20a8c4" opacity="0.57" filter="url(#blur1)"/>
<circle cx="424.2" cy="842.6" r="0.64" fill="#20a8c4" opacity="0.57" filter="url(#blur1)"/>
<circle cx="422.3" cy="840.4" r="0.64" fill="#20a8c4" opacity="0.57" filter="url(#blur1)"/>
<circle cx="385.0" cy="887.1" r="0.60" fill="#20a8c4" opacity="0.62" filter="url(#blur1)"/>
<circle cx="458.9" cy="843.9" r="1.20" fill="#108cb0" opacity="0.69" filter="url(#blur1)"/>
<circle cx="407.6" cy="906.6" r="0.50" fill="#1aa0bc" opacity="0.51" filter="url(#blur1)"/>
<circle cx="370.1" cy="875.9" r="0.60" fill="#20a8c4" opacity="0.77" filter="url(#blur1)"/>
<circle cx="370.2" cy="875.7" r="0.48" fill="#20a8c4" opacity="0.77" filter="url(#blur1)"/>
<circle cx="443.1" cy="942.1" r="0.80" fill="#1aa0bc" opacity="0.51" filter="url(#blur1)"/>
<circle cx="410.8" cy="865.5" r="1.00" fill="#108cb0" opacity="0.56" filter="url(#blur1)"/>
<circle cx="410.9" cy="866.1" r="0.80" fill="#108cb0" opacity="0.56" filter="url(#blur1)"/>
<circle cx="393.0" cy="867.3" r="0.50" fill="#108cb0" opacity="0.61" filter="url(#blur1)"/>
<circle cx="391.8" cy="868.2" r="0.40" fill="#108cb0" opacity="0.61" filter="url(#blur1)"/>
<circle cx="393.0" cy="866.8" r="0.40" fill="#108cb0" opacity="0.61" filter="url(#blur1)"/>
<circle cx="421.9" cy="864.6" r="0.60" fill="#1aa0bc" opacity="0.86" filter="url(#blur1)"/>
<circle cx="422.5" cy="865.7" r="0.48" fill="#1aa0bc" opacity="0.86" filter="url(#blur1)"/>
<circle cx="452.6" cy="847.8" r="0.60" fill="#40b8cc" opacity="0.88" filter="url(#blur1)"/>
<circle cx="431.4" cy="841.9" r="0.80" fill="#40b8cc" opacity="0.70" filter="url(#blur1)"/>
<circle cx="357.1" cy="841.3" r="0.80" fill="#20a8c4" opacity="0.84" filter="url(#blur1)"/>
<circle cx="345.6" cy="899.9" r="0.60" fill="#108cb0" opacity="0.85" filter="url(#blur1)"/>
<circle cx="391.5" cy="879.3" r="0.50" fill="#40b8cc" opacity="0.53" filter="url(#blur1)"/>
<circle cx="390.4" cy="878.7" r="0.40" fill="#40b8cc" opacity="0.53" filter="url(#blur1)"/>
<circle cx="385.3" cy="920.4" r="1.20" fill="#1aa0bc" opacity="0.66" filter="url(#blur1)"/>
<circle cx="386.2" cy="921.3" r="0.96" fill="#1aa0bc" opacity="0.66" filter="url(#blur1)"/>
<circle cx="442.3" cy="849.0" r="0.70" fill="#20a8c4" opacity="0.52" filter="url(#blur1)"/>
<circle cx="389.4" cy="899.6" r="0.90" fill="#40b8cc" opacity="0.66" filter="url(#blur1)"/>
<circle cx="388.9" cy="899.8" r="0.72" fill="#40b8cc" opacity="0.66" filter="url(#blur1)"/>
<circle cx="390.5" cy="898.8" r="0.72" fill="#40b8cc" opacity="0.66" filter="url(#blur1)"/>
<circle cx="344.9" cy="914.2" r="1.40" fill="#108cb0" opacity="0.84" filter="url(#blur1)"/>
<circle cx="405.4" cy="858.1" r="0.60" fill="#20a8c4" opacity="0.75" filter="url(#blur1)"/>
<circle cx="404.9" cy="857.0" r="0.48" fill="#20a8c4" opacity="0.75" filter="url(#blur1)"/>
<circle cx="405.7" cy="858.8" r="0.48" fill="#20a8c4" opacity="0.75" filter="url(#blur1)"/>
<circle cx="431.5" cy="858.0" r="1.00" fill="#20a8c4" opacity="0.59" filter="url(#blur1)"/>
<circle cx="430.2" cy="886.3" r="1.40" fill="#20a8c4" opacity="0.56" filter="url(#blur1)"/>
<circle cx="429.2" cy="886.1" r="1.12" fill="#20a8c4" opacity="0.56" filter="url(#blur1)"/>
<circle cx="431.4" cy="885.1" r="1.12" fill="#20a8c4" opacity="0.56" filter="url(#blur1)"/>
<circle cx="359.2" cy="905.8" r="0.50" fill="#108cb0" opacity="0.80" filter="url(#blur1)"/>
<circle cx="477.7" cy="859.4" r="0.60" fill="#1aa0bc" opacity="0.61" filter="url(#blur1)"/>
<circle cx="474.7" cy="877.2" r="0.50" fill="#20a8c4" opacity="0.83" filter="url(#blur1)"/>
<circle cx="348.7" cy="871.3" r="0.50" fill="#20a8c4" opacity="0.89" filter="url(#blur1)"/>
<circle cx="380.9" cy="916.2" r="0.80" fill="#20a8c4" opacity="0.80" filter="url(#blur1)"/>
<circle cx="381.1" cy="916.1" r="0.64" fill="#20a8c4" opacity="0.80" filter="url(#blur1)"/>
<circle cx="449.4" cy="848.4" r="0.90" fill="#108cb0" opacity="0.63" filter="url(#blur1)"/>
<circle cx="346.4" cy="852.1" r="0.70" fill="#20a8c4" opacity="0.57" filter="url(#blur1)"/>
<circle cx="388.7" cy="935.9" r="0.80" fill="#1aa0bc" opacity="0.78" filter="url(#blur1)"/>
<circle cx="388.0" cy="934.7" r="0.64" fill="#1aa0bc" opacity="0.78" filter="url(#blur1)"/>
<circle cx="401.4" cy="946.4" r="0.70" fill="#1aa0bc" opacity="0.78" filter="url(#blur1)"/>
<circle cx="480.2" cy="873.6" r="0.70" fill="#108cb0" opacity="0.79" filter="url(#blur1)"/>
<circle cx="402.2" cy="938.3" r="0.60" fill="#20a8c4" opacity="0.62" filter="url(#blur1)"/>
<circle cx="402.5" cy="938.0" r="0.48" fill="#20a8c4" opacity="0.62" filter="url(#blur1)"/>
<circle cx="426.1" cy="843.7" r="1.40" fill="#20a8c4" opacity="0.84" filter="url(#blur1)"/>
<circle cx="383.8" cy="879.9" r="1.20" fill="#40b8cc" opacity="0.73" filter="url(#blur1)"/>
<circle cx="347.9" cy="956.3" r="0.80" fill="#40b8cc" opacity="0.70" filter="url(#blur1)"/>
<circle cx="348.2" cy="923.4" r="0.70" fill="#20a8c4" opacity="0.72" filter="url(#blur1)"/>
<circle cx="347.9" cy="922.3" r="0.56" fill="#20a8c4" opacity="0.72" filter="url(#blur1)"/>
<circle cx="356.0" cy="862.8" r="1.40" fill="#40b8cc" opacity="0.76" filter="url(#blur1)"/>
<circle cx="356.0" cy="861.7" r="1.12" fill="#40b8cc" opacity="0.76" filter="url(#blur1)"/>
<circle cx="355.5" cy="863.3" r="1.12" fill="#40b8cc" opacity="0.76" filter="url(#blur1)"/>
<circle cx="371.0" cy="852.0" r="0.80" fill="#40b8cc" opacity="0.73" filter="url(#blur1)"/>
<circle cx="370.9" cy="852.8" r="0.64" fill="#40b8cc" opacity="0.73" filter="url(#blur1)"/>
<circle cx="371.9" cy="851.9" r="0.64" fill="#40b8cc" opacity="0.73" filter="url(#blur1)"/>
<circle cx="406.1" cy="899.7" r="0.90" fill="#20a8c4" opacity="0.72" filter="url(#blur1)"/>
<circle cx="407.2" cy="899.7" r="0.72" fill="#20a8c4" opacity="0.72" filter="url(#blur1)"/>
<circle cx="445.8" cy="899.3" r="0.80" fill="#1aa0bc" opacity="0.53" filter="url(#blur1)"/>
<circle cx="409.3" cy="843.3" r="0.70" fill="#20a8c4" opacity="0.53" filter="url(#blur1)"/>
<circle cx="381.3" cy="853.0" r="0.60" fill="#108cb0" opacity="0.66" filter="url(#blur1)"/>
<circle cx="406.7" cy="855.3" r="0.90" fill="#1aa0bc" opacity="0.57" filter="url(#blur1)"/>
<circle cx="406.8" cy="855.8" r="0.72" fill="#1aa0bc" opacity="0.57" filter="url(#blur1)"/>
<circle cx="407.7" cy="854.9" r="0.72" fill="#1aa0bc" opacity="0.57" filter="url(#blur1)"/>
<circle cx="475.7" cy="906.7" r="1.40" fill="#40b8cc" opacity="0.87" filter="url(#blur1)"/>
<circle cx="348.4" cy="842.0" r="0.60" fill="#108cb0" opacity="0.60" filter="url(#blur1)"/>
<circle cx="349.5" cy="842.4" r="0.48" fill="#108cb0" opacity="0.60" filter="url(#blur1)"/>
<circle cx="348.4" cy="843.0" r="0.48" fill="#108cb0" opacity="0.60" filter="url(#blur1)"/>
<circle cx="402.6" cy="911.1" r="0.90" fill="#20a8c4" opacity="0.73" filter="url(#blur1)"/>
<circle cx="394.2" cy="866.1" r="0.80" fill="#40b8cc" opacity="0.72" filter="url(#blur1)"/>
<circle cx="471.0" cy="840.0" r="0.60" fill="#40b8cc" opacity="0.81" filter="url(#blur1)"/>
<circle cx="470.8" cy="839.2" r="0.48" fill="#40b8cc" opacity="0.81" filter="url(#blur1)"/>
<circle cx="382.3" cy="881.7" r="0.80" fill="#1aa0bc" opacity="0.85" filter="url(#blur1)"/>
<circle cx="353.3" cy="903.8" r="0.80" fill="#40b8cc" opacity="0.62" filter="url(#blur1)"/>
<circle cx="352.9" cy="904.7" r="0.64" fill="#40b8cc" opacity="0.62" filter="url(#blur1)"/>
<circle cx="354.0" cy="904.7" r="0.64" fill="#40b8cc" opacity="0.62" filter="url(#blur1)"/>
<circle cx="422.5" cy="855.4" r="0.80" fill="#108cb0" opacity="0.74" filter="url(#blur1)"/>
<circle cx="367.2" cy="914.9" r="1.20" fill="#40b8cc" opacity="0.74" filter="url(#blur1)"/>
<circle cx="434.0" cy="862.4" r="0.50" fill="#1aa0bc" opacity="0.78" filter="url(#blur1)"/>
<circle cx="347.0" cy="891.3" r="1.00" fill="#108cb0" opacity="0.61" filter="url(#blur1)"/>
<circle cx="347.2" cy="892.3" r="0.80" fill="#108cb0" opacity="0.61" filter="url(#blur1)"/>
<circle cx="346.8" cy="891.8" r="0.80" fill="#108cb0" opacity="0.61" filter="url(#blur1)"/>
<circle cx="393.5" cy="898.2" r="0.70" fill="#108cb0" opacity="0.81" filter="url(#blur1)"/>
<circle cx="393.5" cy="897.7" r="0.56" fill="#108cb0" opacity="0.81" filter="url(#blur1)"/>
<circle cx="418.3" cy="929.5" r="1.20" fill="#40b8cc" opacity="0.86" filter="url(#blur1)"/>
<circle cx="380.6" cy="880.8" r="0.70" fill="#40b8cc" opacity="0.71" filter="url(#blur1)"/>
<circle cx="380.7" cy="880.9" r="0.56" fill="#40b8cc" opacity="0.71" filter="url(#blur1)"/>
<circle cx="409.0" cy="854.5" r="0.70" fill="#1aa0bc" opacity="0.67" filter="url(#blur1)"/>
<circle cx="408.2" cy="854.7" r="0.56" fill="#1aa0bc" opacity="0.67" filter="url(#blur1)"/>
<circle cx="408.0" cy="854.8" r="0.56" fill="#1aa0bc" opacity="0.67" filter="url(#blur1)"/>
<circle cx="366.8" cy="915.1" r="1.00" fill="#20a8c4" opacity="0.80" filter="url(#blur1)"/>
<circle cx="366.0" cy="914.8" r="0.80" fill="#20a8c4" opacity="0.80" filter="url(#blur1)"/>
<circle cx="366.9" cy="915.2" r="0.80" fill="#20a8c4" opacity="0.80" filter="url(#blur1)"/>
<circle cx="388.2" cy="841.9" r="1.00" fill="#108cb0" opacity="0.65" filter="url(#blur1)"/>
<circle cx="387.9" cy="841.0" r="0.80" fill="#108cb0" opacity="0.65" filter="url(#blur1)"/>
<circle cx="445.6" cy="861.4" r="0.70" fill="#20a8c4" opacity="0.72" filter="url(#blur1)"/>
<circle cx="444.4" cy="862.3" r="0.56" fill="#20a8c4" opacity="0.72" filter="url(#blur1)"/>
<circle cx="344.5" cy="868.3" r="1.20" fill="#108cb0" opacity="0.70" filter="url(#blur1)"/>
<circle cx="361.0" cy="894.0" r="0.50" fill="#1aa0bc" opacity="0.51" filter="url(#blur1)"/>
<circle cx="361.6" cy="894.0" r="0.40" fill="#1aa0bc" opacity="0.51" filter="url(#blur1)"/>
<circle cx="361.8" cy="893.0" r="0.40" fill="#1aa0bc" opacity="0.51" filter="url(#blur1)"/>
<circle cx="477.0" cy="943.9" r="0.90" fill="#1aa0bc" opacity="0.61" filter="url(#blur1)"/>
<circle cx="390.1" cy="851.6" r="1.40" fill="#1aa0bc" opacity="0.76" filter="url(#blur1)"/>
<circle cx="391.2" cy="851.6" r="1.12" fill="#1aa0bc" opacity="0.76" filter="url(#blur1)"/>
<circle cx="390.4" cy="852.4" r="1.12" fill="#1aa0bc" opacity="0.76" filter="url(#blur1)"/>
<circle cx="353.6" cy="858.3" r="1.20" fill="#108cb0" opacity="0.88" filter="url(#blur1)"/>
<circle cx="346.1" cy="863.7" r="0.70" fill="#1aa0bc" opacity="0.86" filter="url(#blur1)"/>
<circle cx="346.9" cy="863.6" r="0.56" fill="#1aa0bc" opacity="0.86" filter="url(#blur1)"/>
<circle cx="347.3" cy="864.1" r="0.56" fill="#1aa0bc" opacity="0.86" filter="url(#blur1)"/>
<circle cx="429.6" cy="937.3" r="0.90" fill="#1aa0bc" opacity="0.76" filter="url(#blur1)"/>
<circle cx="347.0" cy="863.3" r="1.20" fill="#108cb0" opacity="0.81" filter="url(#blur1)"/>
<circle cx="348.0" cy="863.4" r="0.96" fill="#108cb0" opacity="0.81" filter="url(#blur1)"/>
<circle cx="346.9" cy="863.9" r="0.96" fill="#108cb0" opacity="0.81" filter="url(#blur1)"/>
<circle cx="364.3" cy="854.4" r="0.60" fill="#108cb0" opacity="0.59" filter="url(#blur1)"/>
<circle cx="483.3" cy="863.1" r="1.40" fill="#20a8c4" opacity="0.52" filter="url(#blur1)"/>
<circle cx="484.2" cy="861.9" r="1.12" fill="#20a8c4" opacity="0.52" filter="url(#blur1)"/>
<circle cx="356.0" cy="862.8" r="1.7" fill="#0a5a88" opacity="0.8" filter="url(#blur1)"/>
<circle cx="445.6" cy="861.4" r="1.6" fill="#0a5a88" opacity="0.8" filter="url(#blur1)"/>
<circle cx="445.8" cy="899.3" r="1.4" fill="#0a5a88" opacity="0.8" filter="url(#blur1)"/>
<circle cx="381.3" cy="853.0" r="1.4" fill="#0a5a88" opacity="0.8" filter="url(#blur1)"/>
<circle cx="345.6" cy="899.9" r="1.2" fill="#0a5a88" opacity="0.8" filter="url(#blur1)"/>
<circle cx="371.0" cy="852.0" r="1.5" fill="#0a5a88" opacity="0.8" filter="url(#blur1)"/>
</g>
<text x="568.50" y="834.70" font-size="12" font-weight="bold" text-anchor="middle" fill="#000" >RTX + Metformin</text>
<clipPath id="cp3"><rect x="496.30" y="838.2" width="144.20" height="107.50"/></clipPath>
<g clip-path="url(#cp3)">
<rect x="496.30" y="838.2" width="144.20" height="107.50" fill="#edece4"/>
<circle cx="546.3" cy="893.2" r="50" fill="#d2e9ea" opacity="0.95" filter="url(#blur4)"/>
<circle cx="511.3" cy="868.2" r="25" fill="#dcedee" opacity="0.7" filter="url(#blur4)"/>
<circle cx="614.3" cy="876.2" r="32" fill="#ded7c8" opacity="0.95" filter="url(#blur4)"/>
<circle cx="616.3" cy="936.2" r="35" fill="#ece8dc" opacity="0.8" filter="url(#blur4)"/>
<circle cx="521.3" cy="940.2" r="28" fill="#ebe8de" opacity="0.7" filter="url(#blur4)"/>
<rect x="496.30" y="838.2" width="144.20" height="107.50" filter="url(#tex3)" opacity="0.3"/>
<rect x="496.30" y="838.2" width="144.20" height="107.50" filter="url(#tex1)" opacity="0.35"/>
<rect x="496.30" y="838.2" width="144.20" height="107.50" filter="url(#tex2)" opacity="0.45"/>
<ellipse cx="637.5" cy="887.3" rx="2.8" ry="2.0" transform="rotate(39 637.5 887.3)" fill="#fbfbf6" fill-opacity="0.22" stroke="#b4a88c" stroke-width="0.4" stroke-opacity="0.2"/>
<ellipse cx="507.6" cy="903.0" rx="1.5" ry="1.4" transform="rotate(160 507.6 903.0)" fill="#fbfbf6" fill-opacity="0.22" stroke="#b4a88c" stroke-width="0.4" stroke-opacity="0.2"/>
<ellipse cx="622.1" cy="851.0" rx="1.4" ry="1.2" transform="rotate(149 622.1 851.0)" fill="#fbfbf6" fill-opacity="0.22" stroke="#b4a88c" stroke-width="0.4" stroke-opacity="0.2"/>
<ellipse cx="499.9" cy="862.4" rx="1.4" ry="1.0" transform="rotate(94 499.9 862.4)" fill="#fbfbf6" fill-opacity="0.22" stroke="#b4a88c" stroke-width="0.4" stroke-opacity="0.2"/>
<ellipse cx="522.8" cy="882.2" rx="2.8" ry="2.0" transform="rotate(75 522.8 882.2)" fill="#fbfbf6" fill-opacity="0.22" stroke="#b4a88c" stroke-width="0.4" stroke-opacity="0.2"/>
<ellipse cx="609.7" cy="899.7" rx="3.0" ry="1.2" transform="rotate(66 609.7 899.7)" fill="#fbfbf6" fill-opacity="0.22" stroke="#b4a88c" stroke-width="0.4" stroke-opacity="0.2"/>
<ellipse cx="580.0" cy="939.9" rx="2.6" ry="1.6" transform="rotate(45 580.0 939.9)" fill="#fbfbf6" fill-opacity="0.22" stroke="#b4a88c" stroke-width="0.4" stroke-opacity="0.2"/>
<ellipse cx="536.9" cy="861.4" rx="3.4" ry="2.2" transform="rotate(161 536.9 861.4)" fill="#fbfbf6" fill-opacity="0.22" stroke="#b4a88c" stroke-width="0.4" stroke-opacity="0.2"/>
<ellipse cx="572.5" cy="914.4" rx="1.9" ry="1.6" transform="rotate(26 572.5 914.4)" fill="#fbfbf6" fill-opacity="0.22" stroke="#b4a88c" stroke-width="0.4" stroke-opacity="0.2"/>
<ellipse cx="556.9" cy="865.4" rx="1.4" ry="2.3" transform="rotate(17 556.9 865.4)" fill="#fbfbf6" fill-opacity="0.22" stroke="#b4a88c" stroke-width="0.4" stroke-opacity="0.2"/>
<ellipse cx="613.5" cy="913.4" rx="1.4" ry="1.6" transform="rotate(179 613.5 913.4)" fill="#fbfbf6" fill-opacity="0.22" stroke="#b4a88c" stroke-width="0.4" stroke-opacity="0.2"/>
<ellipse cx="638.6" cy="898.8" rx="2.9" ry="1.9" transform="rotate(53 638.6 898.8)" fill="#fbfbf6" fill-opacity="0.22" stroke="#b4a88c" stroke-width="0.4" stroke-opacity="0.2"/>
<ellipse cx="575.6" cy="902.4" rx="2.1" ry="2.1" transform="rotate(80 575.6 902.4)" fill="#fbfbf6" fill-opacity="0.22" stroke="#b4a88c" stroke-width="0.4" stroke-opacity="0.2"/>
<ellipse cx="604.4" cy="845.2" rx="2.2" ry="0.9" transform="rotate(116 604.4 845.2)" fill="#fbfbf6" fill-opacity="0.22" stroke="#b4a88c" stroke-width="0.4" stroke-opacity="0.2"/>
<ellipse cx="622.1" cy="896.6" rx="2.4" ry="1.8" transform="rotate(41 622.1 896.6)" fill="#fbfbf6" fill-opacity="0.22" stroke="#b4a88c" stroke-width="0.4" stroke-opacity="0.2"/>
<ellipse cx="552.0" cy="900.4" rx="2.6" ry="1.4" transform="rotate(86 552.0 900.4)" fill="#fbfbf6" fill-opacity="0.22" stroke="#b4a88c" stroke-width="0.4" stroke-opacity="0.2"/>
<ellipse cx="544.0" cy="897.8" rx="2.7" ry="1.3" transform="rotate(123 544.0 897.8)" fill="#fbfbf6" fill-opacity="0.22" stroke="#b4a88c" stroke-width="0.4" stroke-opacity="0.2"/>
<ellipse cx="618.7" cy="895.9" rx="3.4" ry="1.3" transform="rotate(166 618.7 895.9)" fill="#fbfbf6" fill-opacity="0.22" stroke="#b4a88c" stroke-width="0.4" stroke-opacity="0.2"/>
<ellipse cx="522.5" cy="877.3" rx="3.0" ry="0.9" transform="rotate(111 522.5 877.3)" fill="#fbfbf6" fill-opacity="0.22" stroke="#b4a88c" stroke-width="0.4" stroke-opacity="0.2"/>
<ellipse cx="621.9" cy="939.7" rx="2.7" ry="1.4" transform="rotate(60 621.9 939.7)" fill="#fbfbf6" fill-opacity="0.22" stroke="#b4a88c" stroke-width="0.4" stroke-opacity="0.2"/>
<ellipse cx="587.3" cy="845.4" rx="1.3" ry="2.2" transform="rotate(113 587.3 845.4)" fill="#fbfbf6" fill-opacity="0.22" stroke="#b4a88c" stroke-width="0.4" stroke-opacity="0.2"/>
<ellipse cx="519.8" cy="884.3" rx="1.8" ry="2.2" transform="rotate(52 519.8 884.3)" fill="#fbfbf6" fill-opacity="0.22" stroke="#b4a88c" stroke-width="0.4" stroke-opacity="0.2"/>
<ellipse cx="600.8" cy="918.2" rx="1.9" ry="1.2" transform="rotate(94 600.8 918.2)" fill="#fbfbf6" fill-opacity="0.22" stroke="#b4a88c" stroke-width="0.4" stroke-opacity="0.2"/>
<ellipse cx="553.9" cy="902.1" rx="1.9" ry="2.1" transform="rotate(76 553.9 902.1)" fill="#fbfbf6" fill-opacity="0.22" stroke="#b4a88c" stroke-width="0.4" stroke-opacity="0.2"/>
<ellipse cx="515.9" cy="921.5" rx="3.2" ry="1.9" transform="rotate(98 515.9 921.5)" fill="#fbfbf6" fill-opacity="0.22" stroke="#b4a88c" stroke-width="0.4" stroke-opacity="0.2"/>
<ellipse cx="622.0" cy="938.6" rx="1.2" ry="1.6" transform="rotate(3 622.0 938.6)" fill="#fbfbf6" fill-opacity="0.22" stroke="#b4a88c" stroke-width="0.4" stroke-opacity="0.2"/>
<ellipse cx="544.4" cy="864.2" rx="2.2" ry="1.9" transform="rotate(155 544.4 864.2)" fill="#fbfbf6" fill-opacity="0.22" stroke="#b4a88c" stroke-width="0.4" stroke-opacity="0.2"/>
<ellipse cx="533.9" cy="839.5" rx="3.4" ry="2.1" transform="rotate(99 533.9 839.5)" fill="#fbfbf6" fill-opacity="0.22" stroke="#b4a88c" stroke-width="0.4" stroke-opacity="0.2"/>
<ellipse cx="512.5" cy="843.8" rx="3.3" ry="1.6" transform="rotate(155 512.5 843.8)" fill="#fbfbf6" fill-opacity="0.22" stroke="#b4a88c" stroke-width="0.4" stroke-opacity="0.2"/>
<ellipse cx="609.3" cy="918.9" rx="3.0" ry="1.2" transform="rotate(44 609.3 918.9)" fill="#fbfbf6" fill-opacity="0.22" stroke="#b4a88c" stroke-width="0.4" stroke-opacity="0.2"/>
<ellipse cx="558.8" cy="920.7" rx="2.9" ry="2.0" transform="rotate(104 558.8 920.7)" fill="#fbfbf6" fill-opacity="0.22" stroke="#b4a88c" stroke-width="0.4" stroke-opacity="0.2"/>
<ellipse cx="565.0" cy="859.1" rx="2.7" ry="1.8" transform="rotate(93 565.0 859.1)" fill="#fbfbf6" fill-opacity="0.22" stroke="#b4a88c" stroke-width="0.4" stroke-opacity="0.2"/>
<ellipse cx="601.1" cy="943.5" rx="3.3" ry="1.0" transform="rotate(52 601.1 943.5)" fill="#fbfbf6" fill-opacity="0.22" stroke="#b4a88c" stroke-width="0.4" stroke-opacity="0.2"/>
<ellipse cx="584.7" cy="912.3" rx="1.8" ry="2.3" transform="rotate(83 584.7 912.3)" fill="#fbfbf6" fill-opacity="0.22" stroke="#b4a88c" stroke-width="0.4" stroke-opacity="0.2"/>
<ellipse cx="606.6" cy="843.8" rx="1.8" ry="0.8" transform="rotate(142 606.6 843.8)" fill="#fbfbf6" fill-opacity="0.22" stroke="#b4a88c" stroke-width="0.4" stroke-opacity="0.2"/>
<ellipse cx="571.6" cy="940.6" rx="2.5" ry="1.3" transform="rotate(64 571.6 940.6)" fill="#fbfbf6" fill-opacity="0.22" stroke="#b4a88c" stroke-width="0.4" stroke-opacity="0.2"/>
<ellipse cx="550.4" cy="859.5" rx="1.4" ry="1.8" transform="rotate(56 550.4 859.5)" fill="#fbfbf6" fill-opacity="0.22" stroke="#b4a88c" stroke-width="0.4" stroke-opacity="0.2"/>
<ellipse cx="561.7" cy="914.4" rx="1.8" ry="1.5" transform="rotate(58 561.7 914.4)" fill="#fbfbf6" fill-opacity="0.22" stroke="#b4a88c" stroke-width="0.4" stroke-opacity="0.2"/>
<ellipse cx="543.0" cy="909.8" rx="1.4" ry="1.4" transform="rotate(20 543.0 909.8)" fill="#fbfbf6" fill-opacity="0.22" stroke="#b4a88c" stroke-width="0.4" stroke-opacity="0.2"/>
<ellipse cx="592.9" cy="870.2" rx="3.3" ry="1.6" transform="rotate(119 592.9 870.2)" fill="#fbfbf6" fill-opacity="0.22" stroke="#b4a88c" stroke-width="0.4" stroke-opacity="0.2"/>
<ellipse cx="571.8" cy="926.3" rx="2.7" ry="1.8" transform="rotate(6 571.8 926.3)" fill="#fbfbf6" fill-opacity="0.22" stroke="#b4a88c" stroke-width="0.4" stroke-opacity="0.2"/>
<ellipse cx="516.8" cy="918.9" rx="2.1" ry="2.4" transform="rotate(114 516.8 918.9)" fill="#fbfbf6" fill-opacity="0.22" stroke="#b4a88c" stroke-width="0.4" stroke-opacity="0.2"/>
<ellipse cx="615.0" cy="918.3" rx="3.3" ry="1.9" transform="rotate(169 615.0 918.3)" fill="#fbfbf6" fill-opacity="0.22" stroke="#b4a88c" stroke-width="0.4" stroke-opacity="0.2"/>
<ellipse cx="557.7" cy="866.9" rx="1.4" ry="1.2" transform="rotate(161 557.7 866.9)" fill="#fbfbf6" fill-opacity="0.22" stroke="#b4a88c" stroke-width="0.4" stroke-opacity="0.2"/>
<ellipse cx="591.2" cy="842.9" rx="1.3" ry="1.5" transform="rotate(98 591.2 842.9)" fill="#fbfbf6" fill-opacity="0.22" stroke="#b4a88c" stroke-width="0.4" stroke-opacity="0.2"/>
<ellipse cx="548.3" cy="840.3" rx="1.8" ry="2.2" transform="rotate(131 548.3 840.3)" fill="#fbfbf6" fill-opacity="0.22" stroke="#b4a88c" stroke-width="0.4" stroke-opacity="0.2"/>
<ellipse cx="614.3" cy="867.2" rx="2.7" ry="1.1" transform="rotate(54 614.3 867.2)" fill="#fbfbf6" fill-opacity="0.22" stroke="#b4a88c" stroke-width="0.4" stroke-opacity="0.2"/>
<ellipse cx="634.2" cy="861.1" rx="1.8" ry="1.1" transform="rotate(156 634.2 861.1)" fill="#fbfbf6" fill-opacity="0.22" stroke="#b4a88c" stroke-width="0.4" stroke-opacity="0.2"/>
<ellipse cx="595.4" cy="901.7" rx="3.1" ry="1.5" transform="rotate(165 595.4 901.7)" fill="#fbfbf6" fill-opacity="0.22" stroke="#b4a88c" stroke-width="0.4" stroke-opacity="0.2"/>
<ellipse cx="608.3" cy="870.4" rx="1.7" ry="1.7" transform="rotate(80 608.3 870.4)" fill="#fbfbf6" fill-opacity="0.22" stroke="#b4a88c" stroke-width="0.4" stroke-opacity="0.2"/>
<ellipse cx="610.2" cy="908.3" rx="2.8" ry="1.8" transform="rotate(48 610.2 908.3)" fill="#fbfbf6" fill-opacity="0.22" stroke="#b4a88c" stroke-width="0.4" stroke-opacity="0.2"/>
<ellipse cx="603.6" cy="943.7" rx="2.6" ry="1.9" transform="rotate(42 603.6 943.7)" fill="#fbfbf6" fill-opacity="0.22" stroke="#b4a88c" stroke-width="0.4" stroke-opacity="0.2"/>
<ellipse cx="513.3" cy="886.4" rx="2.5" ry="2.0" transform="rotate(85 513.3 886.4)" fill="#fbfbf6" fill-opacity="0.22" stroke="#b4a88c" stroke-width="0.4" stroke-opacity="0.2"/>
<ellipse cx="574.7" cy="847.7" rx="1.3" ry="1.0" transform="rotate(57 574.7 847.7)" fill="#fbfbf6" fill-opacity="0.22" stroke="#b4a88c" stroke-width="0.4" stroke-opacity="0.2"/>
<ellipse cx="531.4" cy="853.6" rx="1.9" ry="1.3" transform="rotate(148 531.4 853.6)" fill="#fbfbf6" fill-opacity="0.22" stroke="#b4a88c" stroke-width="0.4" stroke-opacity="0.2"/>
<ellipse cx="631.2" cy="945.0" rx="2.8" ry="0.8" transform="rotate(43 631.2 945.0)" fill="#fbfbf6" fill-opacity="0.22" stroke="#b4a88c" stroke-width="0.4" stroke-opacity="0.2"/>
<ellipse cx="640.4" cy="913.0" rx="3.1" ry="1.1" transform="rotate(43 640.4 913.0)" fill="#fbfbf6" fill-opacity="0.22" stroke="#b4a88c" stroke-width="0.4" stroke-opacity="0.2"/>
<ellipse cx="510.5" cy="894.6" rx="2.0" ry="1.6" transform="rotate(25 510.5 894.6)" fill="#fbfbf6" fill-opacity="0.22" stroke="#b4a88c" stroke-width="0.4" stroke-opacity="0.2"/>
<ellipse cx="500.0" cy="879.7" rx="3.2" ry="1.8" transform="rotate(103 500.0 879.7)" fill="#fbfbf6" fill-opacity="0.22" stroke="#b4a88c" stroke-width="0.4" stroke-opacity="0.2"/>
<ellipse cx="505.4" cy="884.8" rx="2.0" ry="1.8" transform="rotate(73 505.4 884.8)" fill="#fbfbf6" fill-opacity="0.22" stroke="#b4a88c" stroke-width="0.4" stroke-opacity="0.2"/>
<ellipse cx="611.9" cy="867.7" rx="2.8" ry="0.8" transform="rotate(26 611.9 867.7)" fill="#fbfbf6" fill-opacity="0.22" stroke="#b4a88c" stroke-width="0.4" stroke-opacity="0.2"/>
<ellipse cx="611.2" cy="929.9" rx="1.9" ry="1.1" transform="rotate(173 611.2 929.9)" fill="#fbfbf6" fill-opacity="0.22" stroke="#b4a88c" stroke-width="0.4" stroke-opacity="0.2"/>
<ellipse cx="581.7" cy="847.8" rx="3.4" ry="1.7" transform="rotate(54 581.7 847.8)" fill="#fbfbf6" fill-opacity="0.22" stroke="#b4a88c" stroke-width="0.4" stroke-opacity="0.2"/>
<ellipse cx="569.3" cy="877.9" rx="2.5" ry="1.5" transform="rotate(68 569.3 877.9)" fill="#fbfbf6" fill-opacity="0.22" stroke="#b4a88c" stroke-width="0.4" stroke-opacity="0.2"/>
<ellipse cx="601.8" cy="871.0" rx="3.0" ry="2.0" transform="rotate(170 601.8 871.0)" fill="#fbfbf6" fill-opacity="0.22" stroke="#b4a88c" stroke-width="0.4" stroke-opacity="0.2"/>
<ellipse cx="518.5" cy="930.8" rx="2.8" ry="1.1" transform="rotate(164 518.5 930.8)" fill="#fbfbf6" fill-opacity="0.22" stroke="#b4a88c" stroke-width="0.4" stroke-opacity="0.2"/>
<ellipse cx="568.7" cy="857.3" rx="1.7" ry="2.4" transform="rotate(144 568.7 857.3)" fill="#fbfbf6" fill-opacity="0.22" stroke="#b4a88c" stroke-width="0.4" stroke-opacity="0.2"/>
<ellipse cx="530.0" cy="934.1" rx="1.3" ry="1.9" transform="rotate(114 530.0 934.1)" fill="#fbfbf6" fill-opacity="0.22" stroke="#b4a88c" stroke-width="0.4" stroke-opacity="0.2"/>
<ellipse cx="621.6" cy="935.8" rx="2.8" ry="2.1" transform="rotate(83 621.6 935.8)" fill="#fbfbf6" fill-opacity="0.22" stroke="#b4a88c" stroke-width="0.4" stroke-opacity="0.2"/>
<ellipse cx="630.9" cy="884.4" rx="2.8" ry="2.0" transform="rotate(73 630.9 884.4)" fill="#fbfbf6" fill-opacity="0.22" stroke="#b4a88c" stroke-width="0.4" stroke-opacity="0.2"/>
<ellipse cx="614.5" cy="915.4" rx="1.6" ry="1.7" transform="rotate(87 614.5 915.4)" fill="#fbfbf6" fill-opacity="0.22" stroke="#b4a88c" stroke-width="0.4" stroke-opacity="0.2"/>
<ellipse cx="582.2" cy="841.3" rx="2.7" ry="1.4" transform="rotate(133 582.2 841.3)" fill="#fbfbf6" fill-opacity="0.22" stroke="#b4a88c" stroke-width="0.4" stroke-opacity="0.2"/>
<ellipse cx="531.1" cy="840.4" rx="2.2" ry="1.8" transform="rotate(140 531.1 840.4)" fill="#fbfbf6" fill-opacity="0.22" stroke="#b4a88c" stroke-width="0.4" stroke-opacity="0.2"/>
<ellipse cx="574.3" cy="932.8" rx="1.6" ry="1.0" transform="rotate(73 574.3 932.8)" fill="#fbfbf6" fill-opacity="0.22" stroke="#b4a88c" stroke-width="0.4" stroke-opacity="0.2"/>
<ellipse cx="591.1" cy="920.5" rx="1.3" ry="1.8" transform="rotate(63 591.1 920.5)" fill="#fbfbf6" fill-opacity="0.22" stroke="#b4a88c" stroke-width="0.4" stroke-opacity="0.2"/>
<ellipse cx="572.5" cy="848.8" rx="1.6" ry="1.8" transform="rotate(61 572.5 848.8)" fill="#fbfbf6" fill-opacity="0.22" stroke="#b4a88c" stroke-width="0.4" stroke-opacity="0.2"/>
<ellipse cx="637.1" cy="892.7" rx="2.0" ry="1.1" transform="rotate(95 637.1 892.7)" fill="#fbfbf6" fill-opacity="0.22" stroke="#b4a88c" stroke-width="0.4" stroke-opacity="0.2"/>
<ellipse cx="570.0" cy="865.7" rx="3.3" ry="1.6" transform="rotate(139 570.0 865.7)" fill="#fbfbf6" fill-opacity="0.22" stroke="#b4a88c" stroke-width="0.4" stroke-opacity="0.2"/>
<ellipse cx="595.0" cy="927.7" rx="1.4" ry="2.3" transform="rotate(108 595.0 927.7)" fill="#fbfbf6" fill-opacity="0.22" stroke="#b4a88c" stroke-width="0.4" stroke-opacity="0.2"/>
<ellipse cx="520.1" cy="902.1" rx="1.3" ry="1.5" transform="rotate(18 520.1 902.1)" fill="#fbfbf6" fill-opacity="0.22" stroke="#b4a88c" stroke-width="0.4" stroke-opacity="0.2"/>
<ellipse cx="503.3" cy="886.6" rx="3.0" ry="2.0" transform="rotate(168 503.3 886.6)" fill="#fbfbf6" fill-opacity="0.22" stroke="#b4a88c" stroke-width="0.4" stroke-opacity="0.2"/>
<ellipse cx="608.6" cy="904.6" rx="2.5" ry="2.3" transform="rotate(23 608.6 904.6)" fill="#fbfbf6" fill-opacity="0.22" stroke="#b4a88c" stroke-width="0.4" stroke-opacity="0.2"/>
<ellipse cx="571.3" cy="896.8" rx="1.2" ry="2.2" transform="rotate(122 571.3 896.8)" fill="#fbfbf6" fill-opacity="0.22" stroke="#b4a88c" stroke-width="0.4" stroke-opacity="0.2"/>
<ellipse cx="545.3" cy="923.6" rx="2.2" ry="2.0" transform="rotate(99 545.3 923.6)" fill="#fbfbf6" fill-opacity="0.22" stroke="#b4a88c" stroke-width="0.4" stroke-opacity="0.2"/>
<ellipse cx="620.3" cy="892.5" rx="1.4" ry="2.0" transform="rotate(42 620.3 892.5)" fill="#fbfbf6" fill-opacity="0.22" stroke="#b4a88c" stroke-width="0.4" stroke-opacity="0.2"/>
<ellipse cx="578.8" cy="938.5" rx="2.8" ry="0.9" transform="rotate(151 578.8 938.5)" fill="#fbfbf6" fill-opacity="0.22" stroke="#b4a88c" stroke-width="0.4" stroke-opacity="0.2"/>
<ellipse cx="635.6" cy="888.1" rx="1.8" ry="1.5" transform="rotate(96 635.6 888.1)" fill="#fbfbf6" fill-opacity="0.22" stroke="#b4a88c" stroke-width="0.4" stroke-opacity="0.2"/>
<ellipse cx="503.0" cy="929.3" rx="2.6" ry="1.4" transform="rotate(147 503.0 929.3)" fill="#fbfbf6" fill-opacity="0.22" stroke="#b4a88c" stroke-width="0.4" stroke-opacity="0.2"/>
<ellipse cx="521.3" cy="933.9" rx="3.1" ry="1.6" transform="rotate(20 521.3 933.9)" fill="#fbfbf6" fill-opacity="0.22" stroke="#b4a88c" stroke-width="0.4" stroke-opacity="0.2"/>
<ellipse cx="561.0" cy="849.6" rx="2.4" ry="1.0" transform="rotate(94 561.0 849.6)" fill="#fbfbf6" fill-opacity="0.22" stroke="#b4a88c" stroke-width="0.4" stroke-opacity="0.2"/>
<ellipse cx="555.3" cy="872.9" rx="2.5" ry="1.7" transform="rotate(159 555.3 872.9)" fill="#fbfbf6" fill-opacity="0.22" stroke="#b4a88c" stroke-width="0.4" stroke-opacity="0.2"/>
<ellipse cx="560.7" cy="900.0" rx="2.8" ry="1.1" transform="rotate(97 560.7 900.0)" fill="#fbfbf6" fill-opacity="0.22" stroke="#b4a88c" stroke-width="0.4" stroke-opacity="0.2"/>
<ellipse cx="522.3" cy="891.5" rx="2.3" ry="2.2" transform="rotate(173 522.3 891.5)" fill="#fbfbf6" fill-opacity="0.22" stroke="#b4a88c" stroke-width="0.4" stroke-opacity="0.2"/>
<ellipse cx="540.3" cy="930.0" rx="2.0" ry="1.2" transform="rotate(107 540.3 930.0)" fill="#fbfbf6" fill-opacity="0.22" stroke="#b4a88c" stroke-width="0.4" stroke-opacity="0.2"/>
<ellipse cx="539.9" cy="939.9" rx="3.2" ry="0.9" transform="rotate(177 539.9 939.9)" fill="#fbfbf6" fill-opacity="0.22" stroke="#b4a88c" stroke-width="0.4" stroke-opacity="0.2"/>
<ellipse cx="624.4" cy="853.0" rx="2.7" ry="1.7" transform="rotate(29 624.4 853.0)" fill="#fbfbf6" fill-opacity="0.22" stroke="#b4a88c" stroke-width="0.4" stroke-opacity="0.2"/>
<ellipse cx="598.0" cy="839.3" rx="2.0" ry="1.6" transform="rotate(144 598.0 839.3)" fill="#fbfbf6" fill-opacity="0.22" stroke="#b4a88c" stroke-width="0.4" stroke-opacity="0.2"/>
<ellipse cx="555.0" cy="869.1" rx="2.2" ry="1.7" transform="rotate(72 555.0 869.1)" fill="#fbfbf6" fill-opacity="0.22" stroke="#b4a88c" stroke-width="0.4" stroke-opacity="0.2"/>
<ellipse cx="510.2" cy="928.4" rx="1.7" ry="1.1" transform="rotate(39 510.2 928.4)" fill="#fbfbf6" fill-opacity="0.22" stroke="#b4a88c" stroke-width="0.4" stroke-opacity="0.2"/>
<ellipse cx="635.4" cy="846.5" rx="2.6" ry="1.7" transform="rotate(41 635.4 846.5)" fill="#fbfbf6" fill-opacity="0.22" stroke="#b4a88c" stroke-width="0.4" stroke-opacity="0.2"/>
<ellipse cx="609.3" cy="857.4" rx="1.5" ry="0.8" transform="rotate(119 609.3 857.4)" fill="#fbfbf6" fill-opacity="0.22" stroke="#b4a88c" stroke-width="0.4" stroke-opacity="0.2"/>
<ellipse cx="503.9" cy="904.3" rx="2.6" ry="1.0" transform="rotate(174 503.9 904.3)" fill="#fbfbf6" fill-opacity="0.22" stroke="#b4a88c" stroke-width="0.4" stroke-opacity="0.2"/>
<ellipse cx="516.0" cy="873.3" rx="3.0" ry="1.2" transform="rotate(140 516.0 873.3)" fill="#fbfbf6" fill-opacity="0.22" stroke="#b4a88c" stroke-width="0.4" stroke-opacity="0.2"/>
<ellipse cx="596.7" cy="919.7" rx="2.0" ry="1.2" transform="rotate(85 596.7 919.7)" fill="#fbfbf6" fill-opacity="0.22" stroke="#b4a88c" stroke-width="0.4" stroke-opacity="0.2"/>
<ellipse cx="586.2" cy="840.7" rx="1.4" ry="1.2" transform="rotate(9 586.2 840.7)" fill="#fbfbf6" fill-opacity="0.22" stroke="#b4a88c" stroke-width="0.4" stroke-opacity="0.2"/>
<ellipse cx="605.1" cy="942.7" rx="2.3" ry="1.3" transform="rotate(77 605.1 942.7)" fill="#fbfbf6" fill-opacity="0.22" stroke="#b4a88c" stroke-width="0.4" stroke-opacity="0.2"/>
<ellipse cx="622.6" cy="916.0" rx="2.4" ry="1.8" transform="rotate(164 622.6 916.0)" fill="#fbfbf6" fill-opacity="0.22" stroke="#b4a88c" stroke-width="0.4" stroke-opacity="0.2"/>
<ellipse cx="585.6" cy="860.9" rx="3.2" ry="0.9" transform="rotate(25 585.6 860.9)" fill="#fbfbf6" fill-opacity="0.22" stroke="#b4a88c" stroke-width="0.4" stroke-opacity="0.2"/>
<ellipse cx="524.3" cy="879.3" rx="2.5" ry="2.1" transform="rotate(46 524.3 879.3)" fill="#fbfbf6" fill-opacity="0.22" stroke="#b4a88c" stroke-width="0.4" stroke-opacity="0.2"/>
<ellipse cx="622.6" cy="945.2" rx="3.1" ry="2.1" transform="rotate(102 622.6 945.2)" fill="#fbfbf6" fill-opacity="0.22" stroke="#b4a88c" stroke-width="0.4" stroke-opacity="0.2"/>
<ellipse cx="561.6" cy="855.1" rx="2.0" ry="1.2" transform="rotate(65 561.6 855.1)" fill="#fbfbf6" fill-opacity="0.22" stroke="#b4a88c" stroke-width="0.4" stroke-opacity="0.2"/>
<ellipse cx="506.4" cy="941.8" rx="2.1" ry="0.9" transform="rotate(23 506.4 941.8)" fill="#fbfbf6" fill-opacity="0.22" stroke="#b4a88c" stroke-width="0.4" stroke-opacity="0.2"/>
<ellipse cx="560.8" cy="846.6" rx="2.7" ry="1.3" transform="rotate(115 560.8 846.6)" fill="#fbfbf6" fill-opacity="0.22" stroke="#b4a88c" stroke-width="0.4" stroke-opacity="0.2"/>
<ellipse cx="545.4" cy="879.9" rx="3.1" ry="1.5" transform="rotate(164 545.4 879.9)" fill="#fbfbf6" fill-opacity="0.22" stroke="#b4a88c" stroke-width="0.4" stroke-opacity="0.2"/>
<ellipse cx="593.8" cy="918.6" rx="2.8" ry="1.7" transform="rotate(56 593.8 918.6)" fill="#fbfbf6" fill-opacity="0.22" stroke="#b4a88c" stroke-width="0.4" stroke-opacity="0.2"/>
<ellipse cx="594.5" cy="842.1" rx="1.7" ry="2.1" transform="rotate(152 594.5 842.1)" fill="#fbfbf6" fill-opacity="0.22" stroke="#b4a88c" stroke-width="0.4" stroke-opacity="0.2"/>
<ellipse cx="499.4" cy="922.3" rx="2.2" ry="1.1" transform="rotate(165 499.4 922.3)" fill="#fbfbf6" fill-opacity="0.22" stroke="#b4a88c" stroke-width="0.4" stroke-opacity="0.2"/>
<ellipse cx="579.4" cy="864.9" rx="3.2" ry="0.9" transform="rotate(127 579.4 864.9)" fill="#fbfbf6" fill-opacity="0.22" stroke="#b4a88c" stroke-width="0.4" stroke-opacity="0.2"/>
<ellipse cx="601.1" cy="917.5" rx="2.2" ry="1.3" transform="rotate(40 601.1 917.5)" fill="#fbfbf6" fill-opacity="0.22" stroke="#b4a88c" stroke-width="0.4" stroke-opacity="0.2"/>
<ellipse cx="605.9" cy="892.0" rx="1.3" ry="1.9" transform="rotate(131 605.9 892.0)" fill="#fbfbf6" fill-opacity="0.22" stroke="#b4a88c" stroke-width="0.4" stroke-opacity="0.2"/>
<ellipse cx="610.3" cy="889.3" rx="2.7" ry="1.8" transform="rotate(143 610.3 889.3)" fill="#fbfbf6" fill-opacity="0.22" stroke="#b4a88c" stroke-width="0.4" stroke-opacity="0.2"/>
<ellipse cx="535.1" cy="861.7" rx="3.0" ry="1.2" transform="rotate(4 535.1 861.7)" fill="#fbfbf6" fill-opacity="0.22" stroke="#b4a88c" stroke-width="0.4" stroke-opacity="0.2"/>
<ellipse cx="594.4" cy="922.5" rx="3.1" ry="2.4" transform="rotate(14 594.4 922.5)" fill="#fbfbf6" fill-opacity="0.22" stroke="#b4a88c" stroke-width="0.4" stroke-opacity="0.2"/>
<ellipse cx="632.5" cy="868.7" rx="1.5" ry="1.3" transform="rotate(16 632.5 868.7)" fill="#fbfbf6" fill-opacity="0.22" stroke="#b4a88c" stroke-width="0.4" stroke-opacity="0.2"/>
<ellipse cx="497.1" cy="854.1" rx="2.4" ry="0.9" transform="rotate(137 497.1 854.1)" fill="#fbfbf6" fill-opacity="0.22" stroke="#b4a88c" stroke-width="0.4" stroke-opacity="0.2"/>
<ellipse cx="496.6" cy="861.8" rx="1.6" ry="1.0" transform="rotate(0 496.6 861.8)" fill="#fbfbf6" fill-opacity="0.22" stroke="#b4a88c" stroke-width="0.4" stroke-opacity="0.2"/>
<ellipse cx="569.7" cy="845.6" rx="1.5" ry="0.8" transform="rotate(150 569.7 845.6)" fill="#fbfbf6" fill-opacity="0.22" stroke="#b4a88c" stroke-width="0.4" stroke-opacity="0.2"/>
<ellipse cx="519.3" cy="882.4" rx="2.9" ry="1.0" transform="rotate(65 519.3 882.4)" fill="#fbfbf6" fill-opacity="0.22" stroke="#b4a88c" stroke-width="0.4" stroke-opacity="0.2"/>
<ellipse cx="616.5" cy="906.3" rx="1.5" ry="1.6" transform="rotate(150 616.5 906.3)" fill="#fbfbf6" fill-opacity="0.22" stroke="#b4a88c" stroke-width="0.4" stroke-opacity="0.2"/>
<ellipse cx="574.1" cy="867.5" rx="1.7" ry="2.2" transform="rotate(71 574.1 867.5)" fill="#fbfbf6" fill-opacity="0.22" stroke="#b4a88c" stroke-width="0.4" stroke-opacity="0.2"/>
<ellipse cx="524.6" cy="867.8" rx="2.5" ry="2.2" transform="rotate(119 524.6 867.8)" fill="#fbfbf6" fill-opacity="0.22" stroke="#b4a88c" stroke-width="0.4" stroke-opacity="0.2"/>
<ellipse cx="584.0" cy="875.9" rx="1.7" ry="1.9" transform="rotate(64 584.0 875.9)" fill="#fbfbf6" fill-opacity="0.22" stroke="#b4a88c" stroke-width="0.4" stroke-opacity="0.2"/>
<ellipse cx="539.3" cy="918.1" rx="3.2" ry="2.2" transform="rotate(22 539.3 918.1)" fill="#fbfbf6" fill-opacity="0.22" stroke="#b4a88c" stroke-width="0.4" stroke-opacity="0.2"/>
<ellipse cx="606.2" cy="896.2" rx="1.3" ry="2.1" transform="rotate(98 606.2 896.2)" fill="#fbfbf6" fill-opacity="0.22" stroke="#b4a88c" stroke-width="0.4" stroke-opacity="0.2"/>
<ellipse cx="565.9" cy="845.5" rx="2.4" ry="1.6" transform="rotate(149 565.9 845.5)" fill="#fbfbf6" fill-opacity="0.22" stroke="#b4a88c" stroke-width="0.4" stroke-opacity="0.2"/>
<ellipse cx="627.3" cy="852.4" rx="3.2" ry="1.4" transform="rotate(3 627.3 852.4)" fill="#fbfbf6" fill-opacity="0.22" stroke="#b4a88c" stroke-width="0.4" stroke-opacity="0.2"/>
<ellipse cx="604.8" cy="925.4" rx="2.9" ry="1.0" transform="rotate(133 604.8 925.4)" fill="#fbfbf6" fill-opacity="0.22" stroke="#b4a88c" stroke-width="0.4" stroke-opacity="0.2"/>
<ellipse cx="630.4" cy="940.7" rx="2.0" ry="2.1" transform="rotate(20 630.4 940.7)" fill="#fbfbf6" fill-opacity="0.22" stroke="#b4a88c" stroke-width="0.4" stroke-opacity="0.2"/>
<ellipse cx="624.2" cy="901.2" rx="2.7" ry="2.0" transform="rotate(47 624.2 901.2)" fill="#fbfbf6" fill-opacity="0.22" stroke="#b4a88c" stroke-width="0.4" stroke-opacity="0.2"/>
<ellipse cx="529.2" cy="845.1" rx="2.8" ry="0.9" transform="rotate(4 529.2 845.1)" fill="#fbfbf6" fill-opacity="0.22" stroke="#b4a88c" stroke-width="0.4" stroke-opacity="0.2"/>
<ellipse cx="590.4" cy="891.7" rx="3.4" ry="1.0" transform="rotate(96 590.4 891.7)" fill="#fbfbf6" fill-opacity="0.22" stroke="#b4a88c" stroke-width="0.4" stroke-opacity="0.2"/>
<ellipse cx="524.2" cy="924.5" rx="3.3" ry="2.3" transform="rotate(21 524.2 924.5)" fill="#fbfbf6" fill-opacity="0.22" stroke="#b4a88c" stroke-width="0.4" stroke-opacity="0.2"/>
<ellipse cx="601.8" cy="897.3" rx="1.4" ry="1.5" transform="rotate(131 601.8 897.3)" fill="#fbfbf6" fill-opacity="0.22" stroke="#b4a88c" stroke-width="0.4" stroke-opacity="0.2"/>
<ellipse cx="600.1" cy="887.3" rx="1.4" ry="1.4" transform="rotate(58 600.1 887.3)" fill="#fbfbf6" fill-opacity="0.22" stroke="#b4a88c" stroke-width="0.4" stroke-opacity="0.2"/>
<ellipse cx="546.8" cy="940.4" rx="2.6" ry="1.8" transform="rotate(0 546.8 940.4)" fill="#fbfbf6" fill-opacity="0.22" stroke="#b4a88c" stroke-width="0.4" stroke-opacity="0.2"/>
<ellipse cx="545.7" cy="921.2" rx="1.5" ry="0.8" transform="rotate(52 545.7 921.2)" fill="#fbfbf6" fill-opacity="0.22" stroke="#b4a88c" stroke-width="0.4" stroke-opacity="0.2"/>
<ellipse cx="516.4" cy="900.1" rx="1.9" ry="2.1" transform="rotate(141 516.4 900.1)" fill="#fbfbf6" fill-opacity="0.22" stroke="#b4a88c" stroke-width="0.4" stroke-opacity="0.2"/>
<ellipse cx="550.6" cy="936.6" rx="3.1" ry="2.3" transform="rotate(173 550.6 936.6)" fill="#fbfbf6" fill-opacity="0.22" stroke="#b4a88c" stroke-width="0.4" stroke-opacity="0.2"/>
<ellipse cx="625.3" cy="939.2" rx="2.2" ry="2.4" transform="rotate(49 625.3 939.2)" fill="#fbfbf6" fill-opacity="0.22" stroke="#b4a88c" stroke-width="0.4" stroke-opacity="0.2"/>
<ellipse cx="591.5" cy="840.1" rx="3.4" ry="1.9" transform="rotate(9 591.5 840.1)" fill="#fbfbf6" fill-opacity="0.22" stroke="#b4a88c" stroke-width="0.4" stroke-opacity="0.2"/>
<ellipse cx="635.2" cy="906.5" rx="2.1" ry="1.6" transform="rotate(173 635.2 906.5)" fill="#fbfbf6" fill-opacity="0.22" stroke="#b4a88c" stroke-width="0.4" stroke-opacity="0.2"/>
<ellipse cx="628.6" cy="851.8" rx="1.7" ry="1.1" transform="rotate(6 628.6 851.8)" fill="#fbfbf6" fill-opacity="0.22" stroke="#b4a88c" stroke-width="0.4" stroke-opacity="0.2"/>
<ellipse cx="516.8" cy="901.2" rx="2.6" ry="2.0" transform="rotate(150 516.8 901.2)" fill="#fbfbf6" fill-opacity="0.22" stroke="#b4a88c" stroke-width="0.4" stroke-opacity="0.2"/>
<ellipse cx="597.4" cy="938.2" rx="1.2" ry="2.4" transform="rotate(80 597.4 938.2)" fill="#fbfbf6" fill-opacity="0.22" stroke="#b4a88c" stroke-width="0.4" stroke-opacity="0.2"/>
<ellipse cx="605.9" cy="902.5" rx="2.9" ry="1.9" transform="rotate(28 605.9 902.5)" fill="#fbfbf6" fill-opacity="0.22" stroke="#b4a88c" stroke-width="0.4" stroke-opacity="0.2"/>
<ellipse cx="573.4" cy="843.3" rx="3.1" ry="2.0" transform="rotate(54 573.4 843.3)" fill="#fbfbf6" fill-opacity="0.22" stroke="#b4a88c" stroke-width="0.4" stroke-opacity="0.2"/>
<ellipse cx="543.4" cy="873.6" rx="1.5" ry="1.7" transform="rotate(126 543.4 873.6)" fill="#fbfbf6" fill-opacity="0.22" stroke="#b4a88c" stroke-width="0.4" stroke-opacity="0.2"/>
<ellipse cx="546.0" cy="884.5" rx="3.1" ry="1.9" transform="rotate(26 546.0 884.5)" fill="#fbfbf6" fill-opacity="0.22" stroke="#b4a88c" stroke-width="0.4" stroke-opacity="0.2"/>
<ellipse cx="528.8" cy="935.3" rx="2.6" ry="1.0" transform="rotate(85 528.8 935.3)" fill="#fbfbf6" fill-opacity="0.22" stroke="#b4a88c" stroke-width="0.4" stroke-opacity="0.2"/>
<ellipse cx="550.0" cy="903.6" rx="3.1" ry="2.1" transform="rotate(54 550.0 903.6)" fill="#fbfbf6" fill-opacity="0.22" stroke="#b4a88c" stroke-width="0.4" stroke-opacity="0.2"/>
<ellipse cx="531.6" cy="848.8" rx="1.8" ry="1.8" transform="rotate(119 531.6 848.8)" fill="#fbfbf6" fill-opacity="0.22" stroke="#b4a88c" stroke-width="0.4" stroke-opacity="0.2"/>
<ellipse cx="570.8" cy="918.5" rx="1.4" ry="1.1" transform="rotate(30 570.8 918.5)" fill="#fbfbf6" fill-opacity="0.22" stroke="#b4a88c" stroke-width="0.4" stroke-opacity="0.2"/>
<ellipse cx="598.7" cy="908.3" rx="2.0" ry="2.2" transform="rotate(50 598.7 908.3)" fill="#fbfbf6" fill-opacity="0.22" stroke="#b4a88c" stroke-width="0.4" stroke-opacity="0.2"/>
<ellipse cx="629.5" cy="935.1" rx="1.6" ry="1.9" transform="rotate(114 629.5 935.1)" fill="#fbfbf6" fill-opacity="0.22" stroke="#b4a88c" stroke-width="0.4" stroke-opacity="0.2"/>
<ellipse cx="532.9" cy="865.9" rx="1.5" ry="1.4" transform="rotate(139 532.9 865.9)" fill="#fbfbf6" fill-opacity="0.22" stroke="#b4a88c" stroke-width="0.4" stroke-opacity="0.2"/>
<ellipse cx="545.8" cy="922.9" rx="2.0" ry="1.9" transform="rotate(61 545.8 922.9)" fill="#fbfbf6" fill-opacity="0.22" stroke="#b4a88c" stroke-width="0.4" stroke-opacity="0.2"/>
<ellipse cx="584.1" cy="907.6" rx="2.3" ry="1.3" transform="rotate(16 584.1 907.6)" fill="#fbfbf6" fill-opacity="0.22" stroke="#b4a88c" stroke-width="0.4" stroke-opacity="0.2"/>
<ellipse cx="520.2" cy="900.9" rx="2.3" ry="0.9" transform="rotate(126 520.2 900.9)" fill="#fbfbf6" fill-opacity="0.22" stroke="#b4a88c" stroke-width="0.4" stroke-opacity="0.2"/>
<ellipse cx="508.1" cy="853.8" rx="3.1" ry="1.5" transform="rotate(74 508.1 853.8)" fill="#fbfbf6" fill-opacity="0.22" stroke="#b4a88c" stroke-width="0.4" stroke-opacity="0.2"/>
<ellipse cx="589.3" cy="890.7" rx="1.9" ry="2.3" transform="rotate(117 589.3 890.7)" fill="#fbfbf6" fill-opacity="0.22" stroke="#b4a88c" stroke-width="0.4" stroke-opacity="0.2"/>
<ellipse cx="568.3" cy="885.1" rx="2.5" ry="2.1" transform="rotate(70 568.3 885.1)" fill="#fbfbf6" fill-opacity="0.22" stroke="#b4a88c" stroke-width="0.4" stroke-opacity="0.2"/>
<ellipse cx="529.4" cy="849.3" rx="3.2" ry="2.4" transform="rotate(145 529.4 849.3)" fill="#fbfbf6" fill-opacity="0.22" stroke="#b4a88c" stroke-width="0.4" stroke-opacity="0.2"/>
<ellipse cx="581.8" cy="908.4" rx="2.6" ry="0.9" transform="rotate(56 581.8 908.4)" fill="#fbfbf6" fill-opacity="0.22" stroke="#b4a88c" stroke-width="0.4" stroke-opacity="0.2"/>
<ellipse cx="550.4" cy="859.1" rx="2.4" ry="2.3" transform="rotate(139 550.4 859.1)" fill="#fbfbf6" fill-opacity="0.22" stroke="#b4a88c" stroke-width="0.4" stroke-opacity="0.2"/>
<ellipse cx="546.1" cy="886.1" rx="3.2" ry="1.7" transform="rotate(52 546.1 886.1)" fill="#fbfbf6" fill-opacity="0.22" stroke="#b4a88c" stroke-width="0.4" stroke-opacity="0.2"/>
<ellipse cx="585.8" cy="855.7" rx="3.0" ry="1.4" transform="rotate(67 585.8 855.7)" fill="#fbfbf6" fill-opacity="0.22" stroke="#b4a88c" stroke-width="0.4" stroke-opacity="0.2"/>
<ellipse cx="612.4" cy="855.2" rx="2.3" ry="1.0" transform="rotate(66 612.4 855.2)" fill="#fbfbf6" fill-opacity="0.22" stroke="#b4a88c" stroke-width="0.4" stroke-opacity="0.2"/>
<ellipse cx="546.6" cy="943.3" rx="2.9" ry="1.1" transform="rotate(25 546.6 943.3)" fill="#fbfbf6" fill-opacity="0.22" stroke="#b4a88c" stroke-width="0.4" stroke-opacity="0.2"/>
<ellipse cx="520.4" cy="885.8" rx="2.6" ry="2.3" transform="rotate(88 520.4 885.8)" fill="#fbfbf6" fill-opacity="0.22" stroke="#b4a88c" stroke-width="0.4" stroke-opacity="0.2"/>
<ellipse cx="518.3" cy="846.8" rx="2.5" ry="1.9" transform="rotate(149 518.3 846.8)" fill="#fbfbf6" fill-opacity="0.22" stroke="#b4a88c" stroke-width="0.4" stroke-opacity="0.2"/>
<ellipse cx="517.0" cy="847.2" rx="1.4" ry="1.6" transform="rotate(143 517.0 847.2)" fill="#fbfbf6" fill-opacity="0.22" stroke="#b4a88c" stroke-width="0.4" stroke-opacity="0.2"/>
<ellipse cx="546.3" cy="863.8" rx="1.5" ry="1.6" transform="rotate(49 546.3 863.8)" fill="#fbfbf6" fill-opacity="0.22" stroke="#b4a88c" stroke-width="0.4" stroke-opacity="0.2"/>
<ellipse cx="590.2" cy="888.2" rx="2.6" ry="1.0" transform="rotate(101 590.2 888.2)" fill="#fbfbf6" fill-opacity="0.22" stroke="#b4a88c" stroke-width="0.4" stroke-opacity="0.2"/>
<ellipse cx="570.6" cy="910.9" rx="1.8" ry="1.0" transform="rotate(36 570.6 910.9)" fill="#fbfbf6" fill-opacity="0.22" stroke="#b4a88c" stroke-width="0.4" stroke-opacity="0.2"/>
<ellipse cx="588.0" cy="932.8" rx="2.4" ry="1.7" transform="rotate(91 588.0 932.8)" fill="#fbfbf6" fill-opacity="0.22" stroke="#b4a88c" stroke-width="0.4" stroke-opacity="0.2"/>
<ellipse cx="631.2" cy="873.6" rx="1.3" ry="1.4" transform="rotate(52 631.2 873.6)" fill="#fbfbf6" fill-opacity="0.22" stroke="#b4a88c" stroke-width="0.4" stroke-opacity="0.2"/>
<ellipse cx="525.5" cy="876.1" rx="2.7" ry="2.4" transform="rotate(0 525.5 876.1)" fill="#fbfbf6" fill-opacity="0.22" stroke="#b4a88c" stroke-width="0.4" stroke-opacity="0.2"/>
<ellipse cx="517.8" cy="863.2" rx="2.8" ry="1.3" transform="rotate(56 517.8 863.2)" fill="#fbfbf6" fill-opacity="0.22" stroke="#b4a88c" stroke-width="0.4" stroke-opacity="0.2"/>
<ellipse cx="576.5" cy="857.6" rx="2.3" ry="0.8" transform="rotate(50 576.5 857.6)" fill="#fbfbf6" fill-opacity="0.22" stroke="#b4a88c" stroke-width="0.4" stroke-opacity="0.2"/>
<ellipse cx="619.6" cy="893.3" rx="2.6" ry="1.2" transform="rotate(28 619.6 893.3)" fill="#fbfbf6" fill-opacity="0.22" stroke="#b4a88c" stroke-width="0.4" stroke-opacity="0.2"/>
<ellipse cx="615.4" cy="890.7" rx="1.9" ry="1.7" transform="rotate(140 615.4 890.7)" fill="#fbfbf6" fill-opacity="0.22" stroke="#b4a88c" stroke-width="0.4" stroke-opacity="0.2"/>
<ellipse cx="601.3" cy="864.0" rx="3.2" ry="1.4" transform="rotate(60 601.3 864.0)" fill="#fbfbf6" fill-opacity="0.22" stroke="#b4a88c" stroke-width="0.4" stroke-opacity="0.2"/>
<ellipse cx="512.0" cy="940.4" rx="2.4" ry="1.7" transform="rotate(166 512.0 940.4)" fill="#fbfbf6" fill-opacity="0.22" stroke="#b4a88c" stroke-width="0.4" stroke-opacity="0.2"/>
<ellipse cx="507.3" cy="869.1" rx="1.4" ry="1.6" transform="rotate(4 507.3 869.1)" fill="#fbfbf6" fill-opacity="0.22" stroke="#b4a88c" stroke-width="0.4" stroke-opacity="0.2"/>
<ellipse cx="629.4" cy="893.0" rx="3.0" ry="2.2" transform="rotate(165 629.4 893.0)" fill="#fbfbf6" fill-opacity="0.22" stroke="#b4a88c" stroke-width="0.4" stroke-opacity="0.2"/>
<ellipse cx="539.9" cy="906.6" rx="2.6" ry="2.3" transform="rotate(51 539.9 906.6)" fill="#fbfbf6" fill-opacity="0.22" stroke="#b4a88c" stroke-width="0.4" stroke-opacity="0.2"/>
<ellipse cx="590.8" cy="923.3" rx="2.4" ry="0.9" transform="rotate(144 590.8 923.3)" fill="#fbfbf6" fill-opacity="0.22" stroke="#b4a88c" stroke-width="0.4" stroke-opacity="0.2"/>
<ellipse cx="501.9" cy="883.7" rx="1.8" ry="1.5" transform="rotate(160 501.9 883.7)" fill="#fbfbf6" fill-opacity="0.22" stroke="#b4a88c" stroke-width="0.4" stroke-opacity="0.2"/>
<ellipse cx="634.2" cy="934.2" rx="3.0" ry="0.8" transform="rotate(106 634.2 934.2)" fill="#fbfbf6" fill-opacity="0.22" stroke="#b4a88c" stroke-width="0.4" stroke-opacity="0.2"/>
<ellipse cx="574.7" cy="909.4" rx="2.2" ry="2.1" transform="rotate(9 574.7 909.4)" fill="#fbfbf6" fill-opacity="0.22" stroke="#b4a88c" stroke-width="0.4" stroke-opacity="0.2"/>
<path d="M614.1,933.3 Q609.8,931.3 604.7,934.7" stroke="#c0b088" stroke-width="0.6" fill="none" opacity="0.16"/>
<path d="M615.1,926.6 Q616.5,930.8 622.2,932.0" stroke="#c0b088" stroke-width="0.6" fill="none" opacity="0.18"/>
<path d="M636.6,917.6 Q641.1,916.3 642.5,910.4" stroke="#c0b088" stroke-width="0.6" fill="none" opacity="0.31"/>
<path d="M528.6,889.7 Q526.5,883.7 518.5,882.2" stroke="#c0b088" stroke-width="0.6" fill="none" opacity="0.22"/>
<path d="M498.4,889.1 Q497.1,891.8 499.2,895.0" stroke="#c0b088" stroke-width="0.6" fill="none" opacity="0.19"/>
<path d="M621.3,883.8 Q618.1,885.4 617.8,890.0" stroke="#c0b088" stroke-width="0.6" fill="none" opacity="0.27"/>
<path d="M568.3,908.8 Q572.6,904.3 570.3,896.6" stroke="#c0b088" stroke-width="0.6" fill="none" opacity="0.22"/>
<path d="M569.5,926.8 Q571.0,924.5 569.3,921.3" stroke="#c0b088" stroke-width="0.6" fill="none" opacity="0.25"/>
<path d="M552.3,904.6 Q549.2,908.7 551.8,914.9" stroke="#c0b088" stroke-width="0.6" fill="none" opacity="0.26"/>
<path d="M586.1,911.1 Q583.0,912.3 582.3,916.6" stroke="#c0b088" stroke-width="0.6" fill="none" opacity="0.17"/>
<path d="M590.5,932.1 Q589.1,935.7 592.2,939.6" stroke="#c0b088" stroke-width="0.6" fill="none" opacity="0.18"/>
<path d="M621.5,911.3 Q625.8,912.5 629.9,908.4" stroke="#c0b088" stroke-width="0.6" fill="none" opacity="0.20"/>
<path d="M569.9,873.4 Q564.2,874.6 561.9,881.8" stroke="#c0b088" stroke-width="0.6" fill="none" opacity="0.26"/>
<path d="M523.9,873.7 Q528.1,871.0 527.7,864.4" stroke="#c0b088" stroke-width="0.6" fill="none" opacity="0.32"/>
<path d="M610.0,842.9 Q605.4,846.0 605.9,853.1" stroke="#c0b088" stroke-width="0.6" fill="none" opacity="0.22"/>
<path d="M562.0,916.2 Q560.6,918.0 561.7,920.8" stroke="#c0b088" stroke-width="0.6" fill="none" opacity="0.19"/>
<path d="M552.9,900.0 Q554.6,901.9 558.0,901.2" stroke="#c0b088" stroke-width="0.6" fill="none" opacity="0.29"/>
<path d="M604.1,903.5 Q604.7,899.5 600.7,896.2" stroke="#c0b088" stroke-width="0.6" fill="none" opacity="0.33"/>
<path d="M515.9,924.0 Q518.0,918.6 513.3,912.7" stroke="#c0b088" stroke-width="0.6" fill="none" opacity="0.34"/>
<path d="M536.6,875.5 Q533.9,874.2 530.7,876.5" stroke="#c0b088" stroke-width="0.6" fill="none" opacity="0.24"/>
<path d="M568.0,875.8 Q570.7,874.3 570.7,870.3" stroke="#c0b088" stroke-width="0.6" fill="none" opacity="0.29"/>
<path d="M597.9,879.3 Q604.2,879.2 608.2,872.0" stroke="#c0b088" stroke-width="0.6" fill="none" opacity="0.17"/>
<path d="M537.9,898.3 Q543.0,895.9 543.6,888.5" stroke="#c0b088" stroke-width="0.6" fill="none" opacity="0.28"/>
<path d="M599.5,893.1 Q601.9,893.0 603.5,890.3" stroke="#c0b088" stroke-width="0.6" fill="none" opacity="0.28"/>
<path d="M574.0,893.4 Q575.8,895.1 578.8,894.2" stroke="#c0b088" stroke-width="0.6" fill="none" opacity="0.29"/>
<circle cx="522.2" cy="884.6" r="3.3" fill="#60c4d0" opacity="0.33" filter="url(#blur2)"/>
<circle cx="485.5" cy="902.4" r="4.2" fill="#60c4d0" opacity="0.33" filter="url(#blur2)"/>
<circle cx="556.5" cy="887.2" r="3.5" fill="#60c4d0" opacity="0.33" filter="url(#blur2)"/>
<circle cx="520.8" cy="889.1" r="2.6" fill="#60c4d0" opacity="0.33" filter="url(#blur2)"/>
<circle cx="551.4" cy="920.0" r="4.5" fill="#60c4d0" opacity="0.33" filter="url(#blur2)"/>
<circle cx="585.7" cy="879.5" r="3.7" fill="#60c4d0" opacity="0.33" filter="url(#blur2)"/>
<circle cx="555.4" cy="892.4" r="2.5" fill="#60c4d0" opacity="0.33" filter="url(#blur2)"/>
<circle cx="553.0" cy="912.1" r="4.4" fill="#60c4d0" opacity="0.33" filter="url(#blur2)"/>
<circle cx="534.4" cy="892.9" r="3.0" fill="#60c4d0" opacity="0.33" filter="url(#blur2)"/>
<circle cx="515.9" cy="901.9" r="3.3" fill="#60c4d0" opacity="0.33" filter="url(#blur2)"/>
<circle cx="524.4" cy="919.9" r="4.3" fill="#60c4d0" opacity="0.33" filter="url(#blur2)"/>
<circle cx="539.3" cy="896.8" r="4.1" fill="#60c4d0" opacity="0.33" filter="url(#blur2)"/>
<circle cx="570.9" cy="919.6" r="4.4" fill="#60c4d0" opacity="0.33" filter="url(#blur2)"/>
<circle cx="557.3" cy="836.8" r="3.8" fill="#60c4d0" opacity="0.33" filter="url(#blur2)"/>
<circle cx="570.3" cy="852.6" r="4.5" fill="#60c4d0" opacity="0.33" filter="url(#blur2)"/>
<circle cx="568.7" cy="915.1" r="2.8" fill="#60c4d0" opacity="0.33" filter="url(#blur2)"/>
<circle cx="573.4" cy="914.5" r="3.8" fill="#60c4d0" opacity="0.33" filter="url(#blur2)"/>
<circle cx="551.0" cy="878.2" r="3.5" fill="#60c4d0" opacity="0.33" filter="url(#blur2)"/>
<circle cx="527.1" cy="907.9" r="3.5" fill="#60c4d0" opacity="0.33" filter="url(#blur2)"/>
<circle cx="555.4" cy="901.5" r="4.2" fill="#60c4d0" opacity="0.33" filter="url(#blur2)"/>
<circle cx="592.3" cy="914.0" r="4.3" fill="#60c4d0" opacity="0.33" filter="url(#blur2)"/>
<circle cx="539.8" cy="875.7" r="2.7" fill="#60c4d0" opacity="0.33" filter="url(#blur2)"/>
<circle cx="509.5" cy="893.2" r="3.8" fill="#60c4d0" opacity="0.33" filter="url(#blur2)"/>
<circle cx="574.7" cy="872.9" r="3.2" fill="#60c4d0" opacity="0.33" filter="url(#blur2)"/>
<circle cx="539.2" cy="913.8" r="3.0" fill="#60c4d0" opacity="0.33" filter="url(#blur2)"/>
<circle cx="552.5" cy="887.1" r="3.4" fill="#60c4d0" opacity="0.33" filter="url(#blur2)"/>
<circle cx="579.8" cy="876.6" r="3.0" fill="#60c4d0" opacity="0.33" filter="url(#blur2)"/>
<circle cx="521.9" cy="915.7" r="4.4" fill="#60c4d0" opacity="0.33" filter="url(#blur2)"/>
<circle cx="582.5" cy="847.5" r="4.0" fill="#60c4d0" opacity="0.33" filter="url(#blur2)"/>
<circle cx="531.0" cy="913.1" r="4.3" fill="#60c4d0" opacity="0.33" filter="url(#blur2)"/>
<circle cx="556.3" cy="908.9" r="3.0" fill="#60c4d0" opacity="0.33" filter="url(#blur2)"/>
<circle cx="541.7" cy="890.9" r="3.4" fill="#60c4d0" opacity="0.33" filter="url(#blur2)"/>
<circle cx="521.6" cy="922.4" r="3.2" fill="#60c4d0" opacity="0.33" filter="url(#blur2)"/>
<circle cx="524.3" cy="915.9" r="4.0" fill="#60c4d0" opacity="0.33" filter="url(#blur2)"/>
<circle cx="516.3" cy="914.5" r="3.1" fill="#60c4d0" opacity="0.33" filter="url(#blur2)"/>
<circle cx="504.4" cy="909.7" r="4.0" fill="#60c4d0" opacity="0.33" filter="url(#blur2)"/>
<circle cx="574.1" cy="879.4" r="3.7" fill="#60c4d0" opacity="0.33" filter="url(#blur2)"/>
<circle cx="512.3" cy="906.7" r="3.3" fill="#60c4d0" opacity="0.33" filter="url(#blur2)"/>
<circle cx="522.8" cy="909.3" r="4.3" fill="#60c4d0" opacity="0.33" filter="url(#blur2)"/>
<circle cx="536.8" cy="899.1" r="4.0" fill="#60c4d0" opacity="0.33" filter="url(#blur2)"/>
<circle cx="520.7" cy="890.8" r="4.5" fill="#60c4d0" opacity="0.33" filter="url(#blur2)"/>
<circle cx="481.5" cy="888.2" r="3.9" fill="#60c4d0" opacity="0.33" filter="url(#blur2)"/>
<circle cx="547.2" cy="932.7" r="4.3" fill="#60c4d0" opacity="0.33" filter="url(#blur2)"/>
<circle cx="529.2" cy="908.0" r="2.9" fill="#60c4d0" opacity="0.33" filter="url(#blur2)"/>
<circle cx="552.0" cy="864.7" r="4.5" fill="#60c4d0" opacity="0.33" filter="url(#blur2)"/>
<circle cx="523.5" cy="918.2" r="3.2" fill="#60c4d0" opacity="0.33" filter="url(#blur2)"/>
<circle cx="564.9" cy="869.3" r="4.1" fill="#60c4d0" opacity="0.33" filter="url(#blur2)"/>
<circle cx="559.7" cy="876.3" r="3.1" fill="#60c4d0" opacity="0.33" filter="url(#blur2)"/>
<circle cx="527.5" cy="898.0" r="3.7" fill="#60c4d0" opacity="0.33" filter="url(#blur2)"/>
<circle cx="511.8" cy="873.4" r="3.2" fill="#60c4d0" opacity="0.33" filter="url(#blur2)"/>
<circle cx="585.0" cy="912.3" r="4.2" fill="#60c4d0" opacity="0.33" filter="url(#blur2)"/>
<circle cx="520.0" cy="911.2" r="4.5" fill="#60c4d0" opacity="0.33" filter="url(#blur2)"/>
<circle cx="536.7" cy="873.8" r="2.8" fill="#60c4d0" opacity="0.33" filter="url(#blur2)"/>
<circle cx="561.0" cy="894.0" r="4.4" fill="#60c4d0" opacity="0.33" filter="url(#blur2)"/>
<circle cx="533.5" cy="913.9" r="4.4" fill="#60c4d0" opacity="0.33" filter="url(#blur2)"/>
<circle cx="544.1" cy="866.6" r="4.4" fill="#60c4d0" opacity="0.33" filter="url(#blur2)"/>
<circle cx="557.7" cy="902.8" r="3.0" fill="#60c4d0" opacity="0.33" filter="url(#blur2)"/>
<circle cx="537.5" cy="874.1" r="2.9" fill="#60c4d0" opacity="0.33" filter="url(#blur2)"/>
<circle cx="527.1" cy="904.9" r="4.1" fill="#60c4d0" opacity="0.33" filter="url(#blur2)"/>
<circle cx="519.8" cy="882.3" r="3.5" fill="#60c4d0" opacity="0.33" filter="url(#blur2)"/>
<circle cx="540.5" cy="870.6" r="3.7" fill="#60c4d0" opacity="0.33" filter="url(#blur2)"/>
<circle cx="542.2" cy="904.0" r="4.1" fill="#60c4d0" opacity="0.33" filter="url(#blur2)"/>
<circle cx="586.3" cy="883.7" r="3.0" fill="#60c4d0" opacity="0.33" filter="url(#blur2)"/>
<circle cx="556.9" cy="901.7" r="4.0" fill="#60c4d0" opacity="0.33" filter="url(#blur2)"/>
<circle cx="567.2" cy="883.5" r="3.6" fill="#60c4d0" opacity="0.33" filter="url(#blur2)"/>
<circle cx="523.8" cy="905.8" r="3.5" fill="#60c4d0" opacity="0.33" filter="url(#blur2)"/>
<circle cx="565.0" cy="886.4" r="2.7" fill="#60c4d0" opacity="0.33" filter="url(#blur2)"/>
<circle cx="524.0" cy="903.7" r="3.8" fill="#60c4d0" opacity="0.33" filter="url(#blur2)"/>
<circle cx="522.2" cy="884.6" r="1.00" fill="#108cb0" opacity="0.89" filter="url(#blur1)"/>
<circle cx="485.5" cy="902.4" r="1.00" fill="#108cb0" opacity="0.83" filter="url(#blur1)"/>
<circle cx="485.2" cy="902.3" r="0.80" fill="#108cb0" opacity="0.83" filter="url(#blur1)"/>
<circle cx="486.5" cy="903.2" r="0.80" fill="#108cb0" opacity="0.83" filter="url(#blur1)"/>
<circle cx="556.5" cy="887.2" r="1.20" fill="#40b8cc" opacity="0.71" filter="url(#blur1)"/>
<circle cx="556.4" cy="886.4" r="0.96" fill="#40b8cc" opacity="0.71" filter="url(#blur1)"/>
<circle cx="520.8" cy="889.1" r="0.60" fill="#20a8c4" opacity="0.52" filter="url(#blur1)"/>
<circle cx="551.4" cy="920.0" r="0.60" fill="#40b8cc" opacity="0.60" filter="url(#blur1)"/>
<circle cx="585.7" cy="879.5" r="0.60" fill="#1aa0bc" opacity="0.73" filter="url(#blur1)"/>
<circle cx="586.6" cy="879.5" r="0.48" fill="#1aa0bc" opacity="0.73" filter="url(#blur1)"/>
<circle cx="555.4" cy="892.4" r="1.20" fill="#40b8cc" opacity="0.80" filter="url(#blur1)"/>
<circle cx="556.4" cy="892.6" r="0.96" fill="#40b8cc" opacity="0.80" filter="url(#blur1)"/>
<circle cx="553.0" cy="912.1" r="1.00" fill="#1aa0bc" opacity="0.53" filter="url(#blur1)"/>
<circle cx="534.4" cy="892.9" r="0.80" fill="#1aa0bc" opacity="0.62" filter="url(#blur1)"/>
<circle cx="515.9" cy="901.9" r="0.50" fill="#20a8c4" opacity="0.70" filter="url(#blur1)"/>
<circle cx="516.0" cy="902.2" r="0.40" fill="#20a8c4" opacity="0.70" filter="url(#blur1)"/>
<circle cx="516.8" cy="900.8" r="0.40" fill="#20a8c4" opacity="0.70" filter="url(#blur1)"/>
<circle cx="524.4" cy="919.9" r="1.20" fill="#1aa0bc" opacity="0.61" filter="url(#blur1)"/>
<circle cx="523.5" cy="920.0" r="0.96" fill="#1aa0bc" opacity="0.61" filter="url(#blur1)"/>
<circle cx="524.7" cy="920.3" r="0.96" fill="#1aa0bc" opacity="0.61" filter="url(#blur1)"/>
<circle cx="539.3" cy="896.8" r="0.80" fill="#40b8cc" opacity="0.55" filter="url(#blur1)"/>
<circle cx="539.2" cy="896.4" r="0.64" fill="#40b8cc" opacity="0.55" filter="url(#blur1)"/>
<circle cx="539.2" cy="897.0" r="0.64" fill="#40b8cc" opacity="0.55" filter="url(#blur1)"/>
<circle cx="570.9" cy="919.6" r="1.20" fill="#40b8cc" opacity="0.71" filter="url(#blur1)"/>
<circle cx="570.3" cy="918.7" r="0.96" fill="#40b8cc" opacity="0.71" filter="url(#blur1)"/>
<circle cx="557.3" cy="836.8" r="1.40" fill="#40b8cc" opacity="0.85" filter="url(#blur1)"/>
<circle cx="558.3" cy="837.4" r="1.12" fill="#40b8cc" opacity="0.85" filter="url(#blur1)"/>
<circle cx="570.3" cy="852.6" r="0.90" fill="#20a8c4" opacity="0.81" filter="url(#blur1)"/>
<circle cx="568.7" cy="915.1" r="0.70" fill="#40b8cc" opacity="0.89" filter="url(#blur1)"/>
<circle cx="569.2" cy="914.6" r="0.56" fill="#40b8cc" opacity="0.89" filter="url(#blur1)"/>
<circle cx="569.3" cy="914.7" r="0.56" fill="#40b8cc" opacity="0.89" filter="url(#blur1)"/>
<circle cx="573.4" cy="914.5" r="1.00" fill="#40b8cc" opacity="0.64" filter="url(#blur1)"/>
<circle cx="551.0" cy="878.2" r="1.20" fill="#40b8cc" opacity="0.60" filter="url(#blur1)"/>
<circle cx="527.1" cy="907.9" r="1.20" fill="#20a8c4" opacity="0.71" filter="url(#blur1)"/>
<circle cx="528.3" cy="906.9" r="0.96" fill="#20a8c4" opacity="0.71" filter="url(#blur1)"/>
<circle cx="527.1" cy="907.6" r="0.96" fill="#20a8c4" opacity="0.71" filter="url(#blur1)"/>
<circle cx="555.4" cy="901.5" r="1.00" fill="#40b8cc" opacity="0.75" filter="url(#blur1)"/>
<circle cx="555.6" cy="902.2" r="0.80" fill="#40b8cc" opacity="0.75" filter="url(#blur1)"/>
<circle cx="556.3" cy="901.2" r="0.80" fill="#40b8cc" opacity="0.75" filter="url(#blur1)"/>
<circle cx="592.3" cy="914.0" r="0.50" fill="#40b8cc" opacity="0.64" filter="url(#blur1)"/>
<circle cx="539.8" cy="875.7" r="0.90" fill="#20a8c4" opacity="0.71" filter="url(#blur1)"/>
<circle cx="538.8" cy="876.9" r="0.72" fill="#20a8c4" opacity="0.71" filter="url(#blur1)"/>
<circle cx="538.6" cy="874.9" r="0.72" fill="#20a8c4" opacity="0.71" filter="url(#blur1)"/>
<circle cx="509.5" cy="893.2" r="0.70" fill="#1aa0bc" opacity="0.52" filter="url(#blur1)"/>
<circle cx="510.6" cy="893.3" r="0.56" fill="#1aa0bc" opacity="0.52" filter="url(#blur1)"/>
<circle cx="574.7" cy="872.9" r="0.80" fill="#108cb0" opacity="0.56" filter="url(#blur1)"/>
<circle cx="539.2" cy="913.8" r="1.20" fill="#20a8c4" opacity="0.64" filter="url(#blur1)"/>
<circle cx="552.5" cy="887.1" r="0.90" fill="#20a8c4" opacity="0.60" filter="url(#blur1)"/>
<circle cx="579.8" cy="876.6" r="1.00" fill="#1aa0bc" opacity="0.54" filter="url(#blur1)"/>
<circle cx="521.9" cy="915.7" r="0.90" fill="#108cb0" opacity="0.64" filter="url(#blur1)"/>
<circle cx="521.1" cy="916.3" r="0.72" fill="#108cb0" opacity="0.64" filter="url(#blur1)"/>
<circle cx="582.5" cy="847.5" r="1.00" fill="#20a8c4" opacity="0.78" filter="url(#blur1)"/>
<circle cx="582.8" cy="847.1" r="0.80" fill="#20a8c4" opacity="0.78" filter="url(#blur1)"/>
<circle cx="581.9" cy="846.4" r="0.80" fill="#20a8c4" opacity="0.78" filter="url(#blur1)"/>
<circle cx="531.0" cy="913.1" r="0.80" fill="#108cb0" opacity="0.51" filter="url(#blur1)"/>
<circle cx="530.6" cy="914.0" r="0.64" fill="#108cb0" opacity="0.51" filter="url(#blur1)"/>
<circle cx="556.3" cy="908.9" r="0.50" fill="#108cb0" opacity="0.67" filter="url(#blur1)"/>
<circle cx="541.7" cy="890.9" r="0.70" fill="#40b8cc" opacity="0.84" filter="url(#blur1)"/>
<circle cx="521.6" cy="922.4" r="1.20" fill="#20a8c4" opacity="0.54" filter="url(#blur1)"/>
<circle cx="524.3" cy="915.9" r="0.60" fill="#40b8cc" opacity="0.58" filter="url(#blur1)"/>
<circle cx="516.3" cy="914.5" r="0.80" fill="#108cb0" opacity="0.70" filter="url(#blur1)"/>
<circle cx="504.4" cy="909.7" r="0.70" fill="#1aa0bc" opacity="0.52" filter="url(#blur1)"/>
<circle cx="574.1" cy="879.4" r="0.80" fill="#20a8c4" opacity="0.87" filter="url(#blur1)"/>
<circle cx="512.3" cy="906.7" r="0.80" fill="#108cb0" opacity="0.51" filter="url(#blur1)"/>
<circle cx="522.8" cy="909.3" r="1.20" fill="#40b8cc" opacity="0.51" filter="url(#blur1)"/>
<circle cx="523.7" cy="910.2" r="0.96" fill="#40b8cc" opacity="0.51" filter="url(#blur1)"/>
<circle cx="522.9" cy="909.0" r="0.96" fill="#40b8cc" opacity="0.51" filter="url(#blur1)"/>
<circle cx="536.8" cy="899.1" r="0.80" fill="#20a8c4" opacity="0.50" filter="url(#blur1)"/>
<circle cx="520.7" cy="890.8" r="1.40" fill="#1aa0bc" opacity="0.66" filter="url(#blur1)"/>
<circle cx="481.5" cy="888.2" r="1.00" fill="#108cb0" opacity="0.73" filter="url(#blur1)"/>
<circle cx="547.2" cy="932.7" r="0.80" fill="#108cb0" opacity="0.68" filter="url(#blur1)"/>
<circle cx="547.0" cy="933.1" r="0.64" fill="#108cb0" opacity="0.68" filter="url(#blur1)"/>
<circle cx="546.8" cy="932.6" r="0.64" fill="#108cb0" opacity="0.68" filter="url(#blur1)"/>
<circle cx="529.2" cy="908.0" r="0.60" fill="#1aa0bc" opacity="0.72" filter="url(#blur1)"/>
<circle cx="528.3" cy="908.6" r="0.48" fill="#1aa0bc" opacity="0.72" filter="url(#blur1)"/>
<circle cx="552.0" cy="864.7" r="1.20" fill="#20a8c4" opacity="0.57" filter="url(#blur1)"/>
<circle cx="552.0" cy="864.4" r="0.96" fill="#20a8c4" opacity="0.57" filter="url(#blur1)"/>
<circle cx="551.6" cy="864.1" r="0.96" fill="#20a8c4" opacity="0.57" filter="url(#blur1)"/>
<circle cx="523.5" cy="918.2" r="1.40" fill="#1aa0bc" opacity="0.81" filter="url(#blur1)"/>
<circle cx="523.2" cy="917.4" r="1.12" fill="#1aa0bc" opacity="0.81" filter="url(#blur1)"/>
<circle cx="522.8" cy="918.5" r="1.12" fill="#1aa0bc" opacity="0.81" filter="url(#blur1)"/>
<circle cx="564.9" cy="869.3" r="1.20" fill="#40b8cc" opacity="0.78" filter="url(#blur1)"/>
<circle cx="565.5" cy="868.5" r="0.96" fill="#40b8cc" opacity="0.78" filter="url(#blur1)"/>
<circle cx="559.7" cy="876.3" r="1.20" fill="#1aa0bc" opacity="0.54" filter="url(#blur1)"/>
<circle cx="560.0" cy="876.7" r="0.96" fill="#1aa0bc" opacity="0.54" filter="url(#blur1)"/>
<circle cx="527.5" cy="898.0" r="0.60" fill="#20a8c4" opacity="0.83" filter="url(#blur1)"/>
<circle cx="511.8" cy="873.4" r="0.70" fill="#40b8cc" opacity="0.60" filter="url(#blur1)"/>
<circle cx="512.2" cy="874.2" r="0.56" fill="#40b8cc" opacity="0.60" filter="url(#blur1)"/>
<circle cx="512.6" cy="874.2" r="0.56" fill="#40b8cc" opacity="0.60" filter="url(#blur1)"/>
<circle cx="585.0" cy="912.3" r="0.70" fill="#20a8c4" opacity="0.74" filter="url(#blur1)"/>
<circle cx="520.0" cy="911.2" r="1.00" fill="#1aa0bc" opacity="0.87" filter="url(#blur1)"/>
<circle cx="520.8" cy="910.0" r="0.80" fill="#1aa0bc" opacity="0.87" filter="url(#blur1)"/>
<circle cx="519.2" cy="911.2" r="0.80" fill="#1aa0bc" opacity="0.87" filter="url(#blur1)"/>
<circle cx="536.7" cy="873.8" r="1.20" fill="#40b8cc" opacity="0.88" filter="url(#blur1)"/>
<circle cx="561.0" cy="894.0" r="1.20" fill="#40b8cc" opacity="0.64" filter="url(#blur1)"/>
<circle cx="561.5" cy="893.5" r="0.96" fill="#40b8cc" opacity="0.64" filter="url(#blur1)"/>
<circle cx="560.8" cy="893.2" r="0.96" fill="#40b8cc" opacity="0.64" filter="url(#blur1)"/>
<circle cx="533.5" cy="913.9" r="0.60" fill="#20a8c4" opacity="0.55" filter="url(#blur1)"/>
<circle cx="534.7" cy="915.1" r="0.48" fill="#20a8c4" opacity="0.55" filter="url(#blur1)"/>
<circle cx="532.6" cy="913.7" r="0.48" fill="#20a8c4" opacity="0.55" filter="url(#blur1)"/>
<circle cx="544.1" cy="866.6" r="0.70" fill="#20a8c4" opacity="0.51" filter="url(#blur1)"/>
<circle cx="557.7" cy="902.8" r="1.20" fill="#108cb0" opacity="0.78" filter="url(#blur1)"/>
<circle cx="537.5" cy="874.1" r="1.00" fill="#108cb0" opacity="0.61" filter="url(#blur1)"/>
<circle cx="527.1" cy="904.9" r="0.90" fill="#20a8c4" opacity="0.83" filter="url(#blur1)"/>
<circle cx="519.8" cy="882.3" r="1.00" fill="#1aa0bc" opacity="0.88" filter="url(#blur1)"/>
<circle cx="540.5" cy="870.6" r="0.90" fill="#1aa0bc" opacity="0.75" filter="url(#blur1)"/>
<circle cx="542.2" cy="904.0" r="1.00" fill="#1aa0bc" opacity="0.60" filter="url(#blur1)"/>
<circle cx="541.9" cy="904.3" r="0.80" fill="#1aa0bc" opacity="0.60" filter="url(#blur1)"/>
<circle cx="541.9" cy="903.6" r="0.80" fill="#1aa0bc" opacity="0.60" filter="url(#blur1)"/>
<circle cx="586.3" cy="883.7" r="0.90" fill="#40b8cc" opacity="0.77" filter="url(#blur1)"/>
<circle cx="586.9" cy="882.9" r="0.72" fill="#40b8cc" opacity="0.77" filter="url(#blur1)"/>
<circle cx="556.9" cy="901.7" r="0.90" fill="#108cb0" opacity="0.59" filter="url(#blur1)"/>
<circle cx="567.2" cy="883.5" r="0.90" fill="#108cb0" opacity="0.76" filter="url(#blur1)"/>
<circle cx="523.8" cy="905.8" r="1.00" fill="#108cb0" opacity="0.52" filter="url(#blur1)"/>
<circle cx="524.5" cy="905.9" r="0.80" fill="#108cb0" opacity="0.52" filter="url(#blur1)"/>
<circle cx="524.9" cy="904.9" r="0.80" fill="#108cb0" opacity="0.52" filter="url(#blur1)"/>
<circle cx="565.0" cy="886.4" r="1.20" fill="#40b8cc" opacity="0.75" filter="url(#blur1)"/>
<circle cx="564.4" cy="887.4" r="0.96" fill="#40b8cc" opacity="0.75" filter="url(#blur1)"/>
<circle cx="524.0" cy="903.7" r="1.00" fill="#1aa0bc" opacity="0.80" filter="url(#blur1)"/>
<circle cx="524.5" cy="903.0" r="0.80" fill="#1aa0bc" opacity="0.80" filter="url(#blur1)"/>
<circle cx="524.6" cy="904.4" r="0.80" fill="#1aa0bc" opacity="0.80" filter="url(#blur1)"/>
<circle cx="544.1" cy="866.6" r="1.7" fill="#0a5a88" opacity="0.8" filter="url(#blur1)"/>
<circle cx="527.5" cy="898.0" r="1.7" fill="#0a5a88" opacity="0.8" filter="url(#blur1)"/>
<circle cx="529.2" cy="908.0" r="1.7" fill="#0a5a88" opacity="0.8" filter="url(#blur1)"/>
<circle cx="557.3" cy="836.8" r="1.8" fill="#0a5a88" opacity="0.8" filter="url(#blur1)"/>
<circle cx="551.0" cy="878.2" r="1.7" fill="#0a5a88" opacity="0.8" filter="url(#blur1)"/>
<circle cx="534.4" cy="892.9" r="1.7" fill="#0a5a88" opacity="0.8" filter="url(#blur1)"/>
</g>
<rect x="153.1" y="931.7" width="18.4" height="1.4" fill="#000"/>
<text x="150.00" y="940.50" font-size="7.7" text-anchor="start" fill="#000" >100 µm</text>
</svg></body></html>
